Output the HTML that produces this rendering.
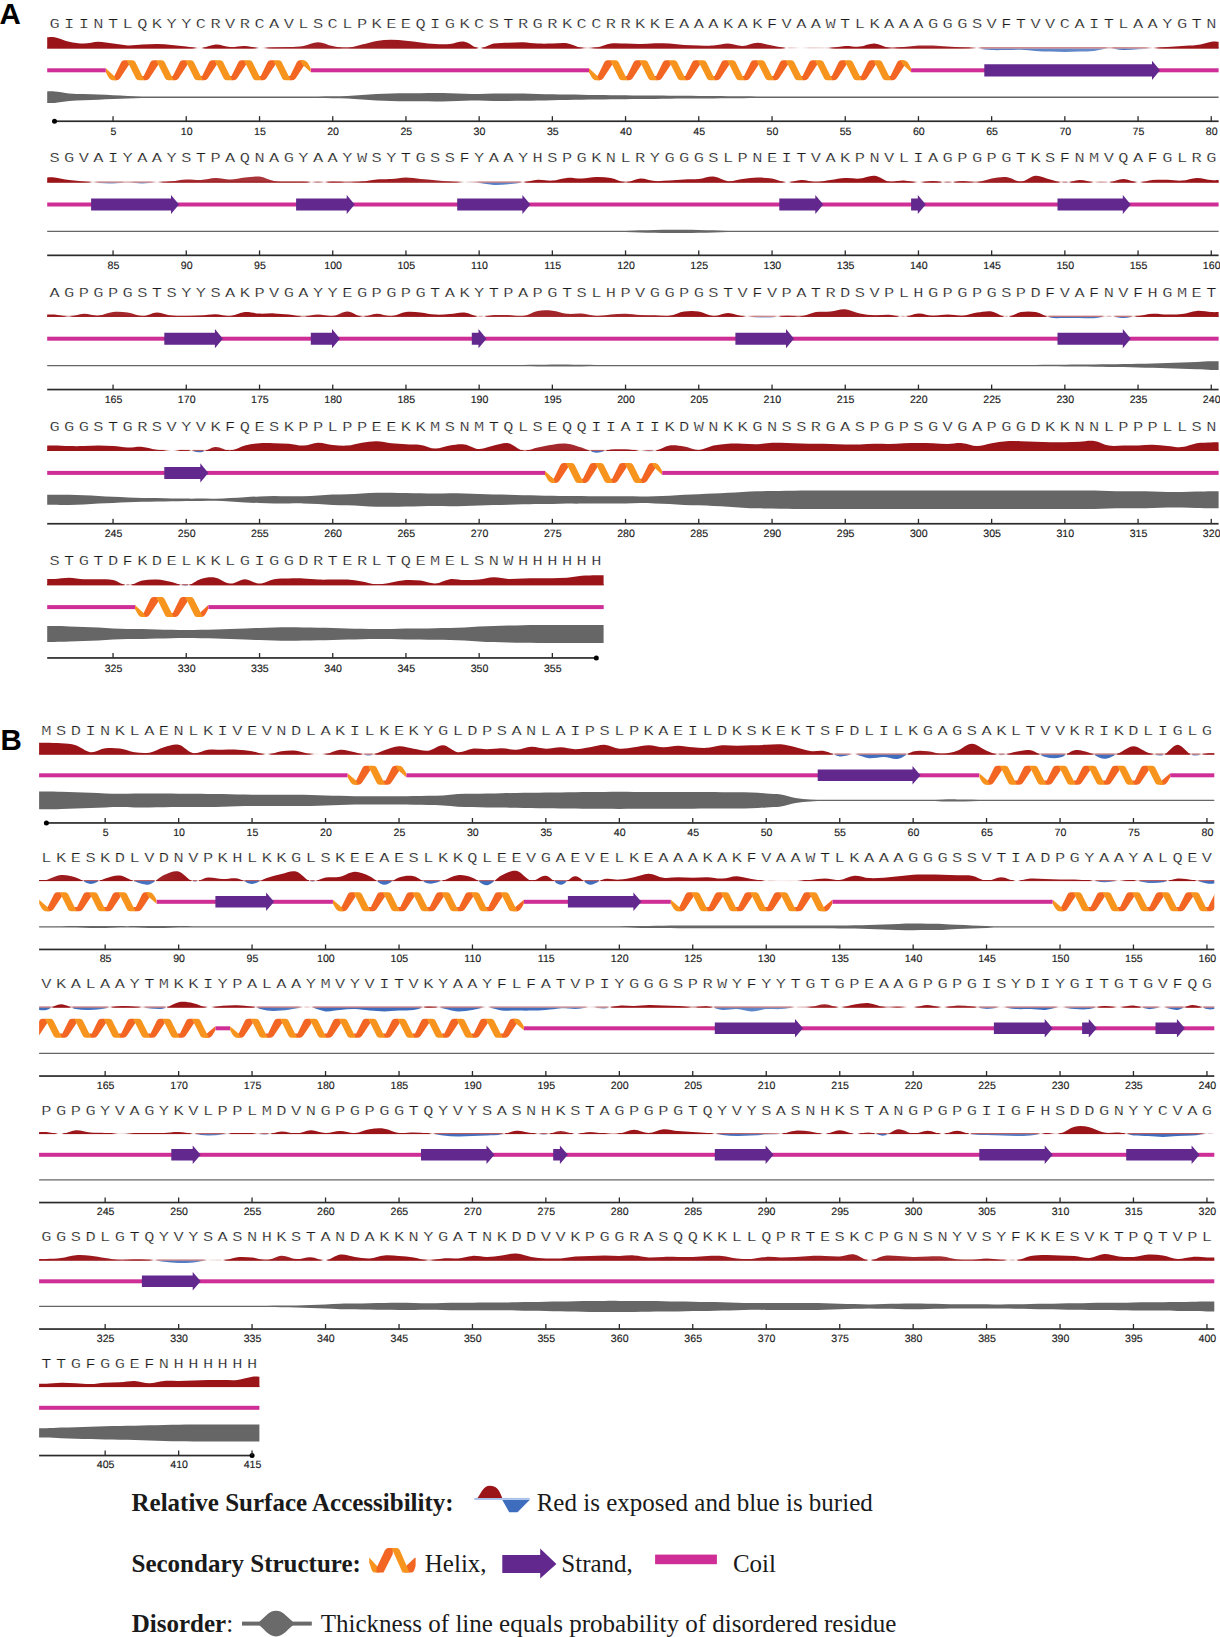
<!DOCTYPE html>
<html><head><meta charset="utf-8"><style>
html,body{margin:0;padding:0;background:#fff;}
body{width:1220px;height:1637px;overflow:hidden;position:relative;}
svg{position:absolute;left:0;top:0;}
.aa{font-family:"Liberation Mono",monospace;font-size:14.2px;fill:#1a1a1a;stroke:#fff;stroke-width:0.26px;text-anchor:middle;}
.tk{font-family:"Liberation Sans",sans-serif;font-size:10.6px;fill:#1a1a1a;stroke:#1a1a1a;stroke-width:0.15px;text-anchor:middle;text-rendering:geometricPrecision;}
.pl{font-family:"Liberation Sans",sans-serif;font-weight:bold;font-size:29.5px;fill:#000;}
.lg{font-family:"Liberation Serif",serif;font-size:25px;fill:#1a1a1a;}
</style></head><body>
<svg width="1220" height="1637" viewBox="0 0 1220 1637">
<defs><linearGradient id="rg1" gradientUnits="userSpaceOnUse" x1="47.2" y1="0" x2="1218.6" y2="0"><stop offset="0" stop-color="#9a1418"/><stop offset="0.1229" stop-color="#9a1418"/><stop offset="0.124" stop-color="#b1494c"/><stop offset="0.125" stop-color="#c77c7f"/><stop offset="0.126" stop-color="#dbabac"/><stop offset="0.1271" stop-color="#ecd3d3"/><stop offset="0.1281" stop-color="#f9f1f1"/><stop offset="0.1323" stop-color="#f1dedf"/><stop offset="0.1333" stop-color="#d8a5a7"/><stop offset="0.1344" stop-color="#b85a5c"/><stop offset="0.1354" stop-color="#9a1418"/><stop offset="0.175" stop-color="#9a1418"/><stop offset="0.176" stop-color="#a52d31"/><stop offset="0.1771" stop-color="#be686a"/><stop offset="0.1781" stop-color="#d59c9e"/><stop offset="0.1792" stop-color="#e8c9ca"/><stop offset="0.1802" stop-color="#f6ebeb"/><stop offset="0.1854" stop-color="#f3e4e4"/><stop offset="0.1865" stop-color="#e9cccd"/><stop offset="0.1875" stop-color="#ddb0b1"/><stop offset="0.1885" stop-color="#d09293"/><stop offset="0.1896" stop-color="#c37375"/><stop offset="0.1906" stop-color="#b65558"/><stop offset="0.1917" stop-color="#ab3b3e"/><stop offset="0.1927" stop-color="#a12428"/><stop offset="0.25" stop-color="#9f2024"/><stop offset="0.251" stop-color="#b0474a"/><stop offset="0.2521" stop-color="#be686a"/><stop offset="0.2531" stop-color="#c88082"/><stop offset="0.2573" stop-color="#c37376"/><stop offset="0.2583" stop-color="#b34f52"/><stop offset="0.2594" stop-color="#9e1e22"/><stop offset="0.3656" stop-color="#9a1418"/><stop offset="0.3667" stop-color="#c77c7e"/><stop offset="0.3677" stop-color="#ecd4d4"/><stop offset="0.3688" stop-color="#ffffff"/><stop offset="0.3698" stop-color="#fefdfd"/><stop offset="0.3708" stop-color="#edd5d6"/><stop offset="0.3719" stop-color="#ce8e8f"/><stop offset="0.3729" stop-color="#a52d31"/><stop offset="0.374" stop-color="#9a1418"/><stop offset="0.4542" stop-color="#9a1418"/><stop offset="0.4552" stop-color="#b55356"/><stop offset="0.4562" stop-color="#cc8a8c"/><stop offset="0.4573" stop-color="#ddb0b1"/><stop offset="0.4583" stop-color="#e9cccd"/><stop offset="0.4594" stop-color="#f1dfdf"/><stop offset="0.4604" stop-color="#f6e9ea"/><stop offset="0.4635" stop-color="#efdada"/><stop offset="0.4646" stop-color="#e7c6c7"/><stop offset="0.4656" stop-color="#dcadaf"/><stop offset="0.4667" stop-color="#cf8f91"/><stop offset="0.4677" stop-color="#bf6b6e"/><stop offset="0.4688" stop-color="#ae4346"/><stop offset="0.4698" stop-color="#9a1418"/><stop offset="0.626" stop-color="#9e1d21"/><stop offset="0.6271" stop-color="#b65558"/><stop offset="0.6281" stop-color="#cc898b"/><stop offset="0.6292" stop-color="#e0b8b9"/><stop offset="0.6302" stop-color="#f1dfe0"/><stop offset="0.6313" stop-color="#ffffff"/><stop offset="0.6323" stop-color="#ecf1f9"/><stop offset="0.6333" stop-color="#e0e8f5"/><stop offset="0.6406" stop-color="#f6f8fc"/><stop offset="0.6417" stop-color="#fbfcfe"/><stop offset="0.649" stop-color="#e7edf7"/><stop offset="0.65" stop-color="#e1e9f5"/><stop offset="0.6635" stop-color="#eff3fa"/><stop offset="0.6646" stop-color="#f9fafd"/><stop offset="0.6667" stop-color="#f4e6e7"/><stop offset="0.6677" stop-color="#ebd1d2"/><stop offset="0.6688" stop-color="#e1b9ba"/><stop offset="0.6698" stop-color="#d3999b"/><stop offset="0.6708" stop-color="#c27173"/><stop offset="0.6719" stop-color="#ae4346"/><stop offset="0.6729" stop-color="#9a1418"/><stop offset="0.7167" stop-color="#9a1418"/><stop offset="0.7177" stop-color="#b85a5d"/><stop offset="0.7188" stop-color="#cc8a8c"/><stop offset="0.7198" stop-color="#d8a4a6"/><stop offset="0.724" stop-color="#d3989a"/><stop offset="0.725" stop-color="#c98183"/><stop offset="0.726" stop-color="#bc6467"/><stop offset="0.7271" stop-color="#af4548"/><stop offset="0.7281" stop-color="#a12428"/><stop offset="0.7802" stop-color="#a63135"/><stop offset="0.7812" stop-color="#ae4346"/><stop offset="0.7823" stop-color="#b55457"/><stop offset="0.7833" stop-color="#bc6365"/><stop offset="0.7844" stop-color="#c27073"/><stop offset="0.7854" stop-color="#c77d80"/><stop offset="0.7865" stop-color="#cd8a8c"/><stop offset="0.7875" stop-color="#d29799"/><stop offset="0.7885" stop-color="#d8a4a6"/><stop offset="0.7896" stop-color="#deb3b4"/><stop offset="0.7906" stop-color="#e5c3c4"/><stop offset="0.7917" stop-color="#edd4d5"/><stop offset="0.7927" stop-color="#f5e8e9"/><stop offset="0.7937" stop-color="#ffffff"/><stop offset="0.7948" stop-color="#e9eef8"/><stop offset="0.7958" stop-color="#cfdbef"/><stop offset="0.7969" stop-color="#b3c5e5"/><stop offset="0.7979" stop-color="#94aedb"/><stop offset="0.799" stop-color="#7495d0"/><stop offset="0.8" stop-color="#547dc5"/><stop offset="0.9021" stop-color="#688ccc"/><stop offset="0.9031" stop-color="#8ea9d9"/><stop offset="0.9042" stop-color="#aec1e3"/><stop offset="0.9052" stop-color="#c4d2eb"/><stop offset="0.9062" stop-color="#d1dcef"/><stop offset="0.9083" stop-color="#c7d4ec"/><stop offset="0.9094" stop-color="#b4c6e6"/><stop offset="0.9104" stop-color="#99b2dd"/><stop offset="0.9115" stop-color="#7a9ad2"/><stop offset="0.9125" stop-color="#5880c6"/><stop offset="0.9135" stop-color="#3f6dbe"/><stop offset="0.9302" stop-color="#4f79c3"/><stop offset="0.9313" stop-color="#5e84c8"/><stop offset="0.9323" stop-color="#6b8ecd"/><stop offset="0.9333" stop-color="#7898d1"/><stop offset="0.9344" stop-color="#84a1d5"/><stop offset="0.9354" stop-color="#90abd9"/><stop offset="0.9365" stop-color="#9cb4de"/><stop offset="0.9375" stop-color="#a9bde2"/><stop offset="0.9385" stop-color="#b6c7e6"/><stop offset="0.9396" stop-color="#c3d1eb"/><stop offset="0.9406" stop-color="#d0dcef"/><stop offset="0.9417" stop-color="#dfe7f4"/><stop offset="0.9427" stop-color="#eef2f9"/><stop offset="0.9438" stop-color="#ffffff"/><stop offset="0.9448" stop-color="#f6e9ea"/><stop offset="0.9458" stop-color="#ecd2d3"/><stop offset="0.9469" stop-color="#e1babb"/><stop offset="0.9479" stop-color="#d6a0a2"/><stop offset="0.949" stop-color="#cb8688"/><stop offset="0.95" stop-color="#c06c6e"/><stop offset="0.951" stop-color="#b45154"/><stop offset="0.9521" stop-color="#a83639"/><stop offset="0.9531" stop-color="#9d1b1f"/><stop offset="1" stop-color="#9a1418"/></linearGradient>
<linearGradient id="rl1" gradientUnits="userSpaceOnUse" x1="47.2" y1="0" x2="1218.6" y2="0"><stop offset="0" stop-color="#9a1418"/><stop offset="0.125" stop-color="#9a1418"/><stop offset="0.126" stop-color="#b7575a"/><stop offset="0.1271" stop-color="#d9a6a8"/><stop offset="0.1281" stop-color="#f3e3e4"/><stop offset="0.1302" stop-color="#f9f0f0"/><stop offset="0.1313" stop-color="#ffffff"/><stop offset="0.1323" stop-color="#e3bdbe"/><stop offset="0.1333" stop-color="#b24b4e"/><stop offset="0.1344" stop-color="#9a1418"/><stop offset="0.1771" stop-color="#9a1418"/><stop offset="0.1781" stop-color="#aa393d"/><stop offset="0.1792" stop-color="#d09394"/><stop offset="0.1802" stop-color="#eed6d7"/><stop offset="0.1813" stop-color="#ffffff"/><stop offset="0.1844" stop-color="#f8efef"/><stop offset="0.1854" stop-color="#e8c9ca"/><stop offset="0.1865" stop-color="#d3989a"/><stop offset="0.1875" stop-color="#bb6063"/><stop offset="0.1885" stop-color="#a12428"/><stop offset="0.3667" stop-color="#9a1418"/><stop offset="0.3677" stop-color="#daa8aa"/><stop offset="0.3688" stop-color="#ffffff"/><stop offset="0.3698" stop-color="#fdfafa"/><stop offset="0.3708" stop-color="#dbabac"/><stop offset="0.3719" stop-color="#9d1c20"/><stop offset="0.4562" stop-color="#9a1418"/><stop offset="0.4573" stop-color="#bb6063"/><stop offset="0.4583" stop-color="#d3999a"/><stop offset="0.4594" stop-color="#e3bfc0"/><stop offset="0.4604" stop-color="#ecd3d4"/><stop offset="0.4615" stop-color="#eed8d9"/><stop offset="0.4625" stop-color="#eacdce"/><stop offset="0.4635" stop-color="#dfb4b5"/><stop offset="0.4646" stop-color="#ce8e90"/><stop offset="0.4656" stop-color="#b95c5e"/><stop offset="0.4667" stop-color="#9e1e22"/><stop offset="0.6281" stop-color="#9a1418"/><stop offset="0.6292" stop-color="#c27073"/><stop offset="0.6302" stop-color="#e4c0c1"/><stop offset="0.6313" stop-color="#ffffff"/><stop offset="0.6323" stop-color="#f1dfe0"/><stop offset="0.6333" stop-color="#e8cbcb"/><stop offset="0.6344" stop-color="#e4c0c1"/><stop offset="0.6385" stop-color="#edd6d7"/><stop offset="0.6396" stop-color="#f3e3e3"/><stop offset="0.6417" stop-color="#fcf9f9"/><stop offset="0.6427" stop-color="#ffffff"/><stop offset="0.6469" stop-color="#f6ebeb"/><stop offset="0.6479" stop-color="#f2e1e2"/><stop offset="0.65" stop-color="#e9cccd"/><stop offset="0.651" stop-color="#e5c3c4"/><stop offset="0.6625" stop-color="#eed7d7"/><stop offset="0.6635" stop-color="#f3e4e4"/><stop offset="0.6667" stop-color="#eacecf"/><stop offset="0.6677" stop-color="#d8a4a5"/><stop offset="0.6688" stop-color="#c27274"/><stop offset="0.6698" stop-color="#a73336"/><stop offset="0.6708" stop-color="#9a1418"/><stop offset="0.7188" stop-color="#9a1418"/><stop offset="0.7198" stop-color="#b14a4d"/><stop offset="0.7208" stop-color="#bc6466"/><stop offset="0.7229" stop-color="#b65457"/><stop offset="0.724" stop-color="#a73235"/><stop offset="0.725" stop-color="#9a1418"/><stop offset="0.7865" stop-color="#9b1519"/><stop offset="0.7875" stop-color="#a62f33"/><stop offset="0.7885" stop-color="#b14a4d"/><stop offset="0.7896" stop-color="#bd6769"/><stop offset="0.7906" stop-color="#cb8688"/><stop offset="0.7917" stop-color="#daa9ab"/><stop offset="0.7927" stop-color="#ebd1d2"/><stop offset="0.7937" stop-color="#ffffff"/><stop offset="0.7948" stop-color="#efd9da"/><stop offset="0.7958" stop-color="#dcadaf"/><stop offset="0.7969" stop-color="#c77c7e"/><stop offset="0.7979" stop-color="#b85a5d"/><stop offset="0.9031" stop-color="#b85a5d"/><stop offset="0.9042" stop-color="#c37376"/><stop offset="0.9052" stop-color="#d49b9c"/><stop offset="0.9083" stop-color="#d69fa1"/><stop offset="0.9094" stop-color="#c87e80"/><stop offset="0.9104" stop-color="#b85a5d"/><stop offset="0.9375" stop-color="#c06b6e"/><stop offset="0.9385" stop-color="#c98183"/><stop offset="0.9396" stop-color="#d39899"/><stop offset="0.9406" stop-color="#ddafb1"/><stop offset="0.9417" stop-color="#e7c8c9"/><stop offset="0.9427" stop-color="#f3e3e3"/><stop offset="0.9438" stop-color="#ffffff"/><stop offset="0.9448" stop-color="#ecd4d4"/><stop offset="0.9458" stop-color="#d8a5a7"/><stop offset="0.9469" stop-color="#c37477"/><stop offset="0.9479" stop-color="#ae4245"/><stop offset="0.949" stop-color="#9a1418"/><stop offset="1" stop-color="#9a1418"/></linearGradient>
<clipPath id="hc2"><rect x="105.8" y="59.3" width="205" height="22"/></clipPath>
<clipPath id="hc3"><rect x="589" y="59.3" width="322.1" height="22"/></clipPath>
<linearGradient id="rg4" gradientUnits="userSpaceOnUse" x1="47.2" y1="0" x2="1218.6" y2="0"><stop offset="0" stop-color="#9a1418"/><stop offset="0.0312" stop-color="#9a1418"/><stop offset="0.0323" stop-color="#a73235"/><stop offset="0.0333" stop-color="#b45154"/><stop offset="0.0344" stop-color="#c27174"/><stop offset="0.0354" stop-color="#d09294"/><stop offset="0.0365" stop-color="#deb3b4"/><stop offset="0.0375" stop-color="#ecd3d3"/><stop offset="0.0385" stop-color="#f9f2f2"/><stop offset="0.0396" stop-color="#f1f5fa"/><stop offset="0.0406" stop-color="#dbe3f3"/><stop offset="0.0417" stop-color="#c6d3ec"/><stop offset="0.0427" stop-color="#b3c5e5"/><stop offset="0.0437" stop-color="#a3b9e0"/><stop offset="0.0448" stop-color="#95aedb"/><stop offset="0.0458" stop-color="#89a5d7"/><stop offset="0.0469" stop-color="#7e9dd3"/><stop offset="0.049" stop-color="#6d90ce"/><stop offset="0.05" stop-color="#678ccc"/><stop offset="0.0594" stop-color="#7395d0"/><stop offset="0.0604" stop-color="#7f9ed4"/><stop offset="0.0615" stop-color="#8ca8d8"/><stop offset="0.0625" stop-color="#9ab2dd"/><stop offset="0.0635" stop-color="#a8bde2"/><stop offset="0.0646" stop-color="#b5c7e6"/><stop offset="0.0667" stop-color="#c9d6ed"/><stop offset="0.0677" stop-color="#cfdaef"/><stop offset="0.0719" stop-color="#becde9"/><stop offset="0.0729" stop-color="#b1c4e5"/><stop offset="0.074" stop-color="#a3b9e0"/><stop offset="0.075" stop-color="#94aedb"/><stop offset="0.076" stop-color="#86a3d6"/><stop offset="0.0771" stop-color="#7898d1"/><stop offset="0.0792" stop-color="#6489ca"/><stop offset="0.0802" stop-color="#5e85c9"/><stop offset="0.0844" stop-color="#7193cf"/><stop offset="0.0854" stop-color="#7c9bd3"/><stop offset="0.0865" stop-color="#89a5d7"/><stop offset="0.0875" stop-color="#98b0dc"/><stop offset="0.0885" stop-color="#a8bce1"/><stop offset="0.0896" stop-color="#b8c9e7"/><stop offset="0.0906" stop-color="#cad7ed"/><stop offset="0.0917" stop-color="#dce4f3"/><stop offset="0.0927" stop-color="#eef2f9"/><stop offset="0.0938" stop-color="#ffffff"/><stop offset="0.0948" stop-color="#f6eaea"/><stop offset="0.0958" stop-color="#edd4d5"/><stop offset="0.0969" stop-color="#e3bebf"/><stop offset="0.0979" stop-color="#d9a6a8"/><stop offset="0.099" stop-color="#cf8f90"/><stop offset="0.1" stop-color="#c47678"/><stop offset="0.101" stop-color="#b95c5f"/><stop offset="0.1021" stop-color="#ae4245"/><stop offset="0.1031" stop-color="#a2262a"/><stop offset="0.2042" stop-color="#ab3b3f"/><stop offset="0.2052" stop-color="#ac3e41"/><stop offset="0.2198" stop-color="#b55356"/><stop offset="0.2208" stop-color="#bf6b6d"/><stop offset="0.2219" stop-color="#cb8789"/><stop offset="0.2229" stop-color="#d9a7a9"/><stop offset="0.224" stop-color="#e8c9ca"/><stop offset="0.225" stop-color="#f7eced"/><stop offset="0.226" stop-color="#f3f6fb"/><stop offset="0.2271" stop-color="#d9e2f2"/><stop offset="0.2281" stop-color="#c3d2eb"/><stop offset="0.2292" stop-color="#b2c5e5"/><stop offset="0.2344" stop-color="#c6d3ec"/><stop offset="0.2354" stop-color="#dde5f3"/><stop offset="0.2365" stop-color="#f8f9fd"/><stop offset="0.2375" stop-color="#f4e5e5"/><stop offset="0.2385" stop-color="#e4c1c2"/><stop offset="0.2396" stop-color="#d69fa0"/><stop offset="0.2406" stop-color="#c87f81"/><stop offset="0.2417" stop-color="#bc6467"/><stop offset="0.2427" stop-color="#b44f52"/><stop offset="0.2437" stop-color="#ae4346"/><stop offset="0.2479" stop-color="#b65659"/><stop offset="0.249" stop-color="#bd6567"/><stop offset="0.25" stop-color="#c47578"/><stop offset="0.251" stop-color="#cb8688"/><stop offset="0.2521" stop-color="#d29799"/><stop offset="0.2531" stop-color="#d8a5a7"/><stop offset="0.2615" stop-color="#d49a9c"/><stop offset="0.2625" stop-color="#ce8e90"/><stop offset="0.2635" stop-color="#c88082"/><stop offset="0.2646" stop-color="#c16f72"/><stop offset="0.2656" stop-color="#b95d5f"/><stop offset="0.2667" stop-color="#b0474a"/><stop offset="0.2677" stop-color="#a62f32"/><stop offset="0.2688" stop-color="#9a1418"/><stop offset="0.3448" stop-color="#a42a2e"/><stop offset="0.3458" stop-color="#ad4144"/><stop offset="0.3469" stop-color="#b75759"/><stop offset="0.3479" stop-color="#c06c6f"/><stop offset="0.349" stop-color="#c98183"/><stop offset="0.35" stop-color="#d29697"/><stop offset="0.351" stop-color="#daa9ab"/><stop offset="0.3521" stop-color="#e2bcbd"/><stop offset="0.3531" stop-color="#eacecf"/><stop offset="0.3542" stop-color="#f2e0e0"/><stop offset="0.3552" stop-color="#f9f0f0"/><stop offset="0.3563" stop-color="#ffffff"/><stop offset="0.3583" stop-color="#edf1f9"/><stop offset="0.3594" stop-color="#e7edf7"/><stop offset="0.3646" stop-color="#d1dcef"/><stop offset="0.3656" stop-color="#c9d6ed"/><stop offset="0.3677" stop-color="#b3c5e5"/><stop offset="0.3688" stop-color="#a3b9e0"/><stop offset="0.3698" stop-color="#8da9d9"/><stop offset="0.3708" stop-color="#7394cf"/><stop offset="0.3719" stop-color="#537dc5"/><stop offset="0.401" stop-color="#5f85c9"/><stop offset="0.4021" stop-color="#7c9bd3"/><stop offset="0.4031" stop-color="#9ab2dd"/><stop offset="0.4042" stop-color="#bacbe8"/><stop offset="0.4052" stop-color="#dce4f3"/><stop offset="0.4062" stop-color="#ffffff"/><stop offset="0.4073" stop-color="#eacfd0"/><stop offset="0.4083" stop-color="#d29799"/><stop offset="0.4094" stop-color="#b8595c"/><stop offset="0.4104" stop-color="#9c181c"/><stop offset="0.4896" stop-color="#9a1418"/><stop offset="0.4906" stop-color="#a73336"/><stop offset="0.4917" stop-color="#c47779"/><stop offset="0.4927" stop-color="#d8a5a6"/><stop offset="0.4948" stop-color="#dcacae"/><stop offset="0.4958" stop-color="#c98284"/><stop offset="0.4969" stop-color="#ad4043"/><stop offset="0.4979" stop-color="#9a1418"/><stop offset="0.6271" stop-color="#9e1d21"/><stop offset="0.6281" stop-color="#c16f71"/><stop offset="0.6292" stop-color="#deb3b4"/><stop offset="0.6302" stop-color="#f3e4e4"/><stop offset="0.6313" stop-color="#ffffff"/><stop offset="0.6333" stop-color="#f6e9ea"/><stop offset="0.6344" stop-color="#e3bfc0"/><stop offset="0.6354" stop-color="#cb8587"/><stop offset="0.6365" stop-color="#ad4144"/><stop offset="0.6375" stop-color="#9a1418"/><stop offset="0.6521" stop-color="#9a1418"/><stop offset="0.6531" stop-color="#ac3d41"/><stop offset="0.6542" stop-color="#bd6568"/><stop offset="0.6552" stop-color="#c88082"/><stop offset="0.6583" stop-color="#c27274"/><stop offset="0.6594" stop-color="#b65659"/><stop offset="0.6604" stop-color="#a73236"/><stop offset="0.6615" stop-color="#9a1418"/><stop offset="0.7188" stop-color="#9a1418"/><stop offset="0.7198" stop-color="#a9373a"/><stop offset="0.7229" stop-color="#a12427"/><stop offset="0.724" stop-color="#9a1418"/><stop offset="0.7375" stop-color="#9d1b1f"/><stop offset="0.7385" stop-color="#b55255"/><stop offset="0.7396" stop-color="#cb8587"/><stop offset="0.7406" stop-color="#deb3b4"/><stop offset="0.7417" stop-color="#eed8d9"/><stop offset="0.7427" stop-color="#faf2f3"/><stop offset="0.7458" stop-color="#f6eaeb"/><stop offset="0.7469" stop-color="#eacece"/><stop offset="0.7479" stop-color="#daa8aa"/><stop offset="0.749" stop-color="#c77d7f"/><stop offset="0.75" stop-color="#b34f52"/><stop offset="0.751" stop-color="#a02125"/><stop offset="0.7604" stop-color="#9f1f23"/><stop offset="0.7615" stop-color="#b65658"/><stop offset="0.7625" stop-color="#cf8e90"/><stop offset="0.7635" stop-color="#e7c6c7"/><stop offset="0.7646" stop-color="#fdfbfb"/><stop offset="0.7656" stop-color="#dce4f3"/><stop offset="0.7667" stop-color="#becee9"/><stop offset="0.7677" stop-color="#aabee2"/><stop offset="0.7688" stop-color="#a3b9e0"/><stop offset="0.7698" stop-color="#aabee2"/><stop offset="0.7708" stop-color="#bdcde9"/><stop offset="0.7719" stop-color="#dbe3f3"/><stop offset="0.7729" stop-color="#fffefe"/><stop offset="0.774" stop-color="#e8cacb"/><stop offset="0.775" stop-color="#d09394"/><stop offset="0.776" stop-color="#b85b5d"/><stop offset="0.7771" stop-color="#a12528"/><stop offset="0.7865" stop-color="#9c191d"/><stop offset="0.7875" stop-color="#af4548"/><stop offset="0.7885" stop-color="#c16f71"/><stop offset="0.7896" stop-color="#d19496"/><stop offset="0.7906" stop-color="#deb1b3"/><stop offset="0.7937" stop-color="#e1b8ba"/><stop offset="0.7948" stop-color="#d29798"/><stop offset="0.7958" stop-color="#bc6467"/><stop offset="0.7969" stop-color="#a12428"/><stop offset="0.8615" stop-color="#9a1418"/><stop offset="0.8625" stop-color="#ab3c3f"/><stop offset="0.8635" stop-color="#cd8c8e"/><stop offset="0.8646" stop-color="#ecd3d4"/><stop offset="0.8656" stop-color="#f1f4fa"/><stop offset="0.8667" stop-color="#c9d6ed"/><stop offset="0.8677" stop-color="#afc2e4"/><stop offset="0.8698" stop-color="#aabfe2"/><stop offset="0.8708" stop-color="#c7d4ec"/><stop offset="0.8719" stop-color="#f3f6fb"/><stop offset="0.8729" stop-color="#e7c7c8"/><stop offset="0.874" stop-color="#c47679"/><stop offset="0.875" stop-color="#9f2024"/><stop offset="0.8885" stop-color="#9a1418"/><stop offset="0.8896" stop-color="#a9373a"/><stop offset="0.8906" stop-color="#c5777a"/><stop offset="0.8917" stop-color="#ddb0b2"/><stop offset="0.8927" stop-color="#f1dfdf"/><stop offset="0.8937" stop-color="#ffffff"/><stop offset="0.8948" stop-color="#ecf1f9"/><stop offset="0.8958" stop-color="#dbe4f3"/><stop offset="0.8969" stop-color="#ced9ee"/><stop offset="0.8979" stop-color="#c3d1eb"/><stop offset="0.9042" stop-color="#d3ddf0"/><stop offset="0.9052" stop-color="#e6ecf7"/><stop offset="0.9062" stop-color="#ffffff"/><stop offset="0.9073" stop-color="#ecd2d3"/><stop offset="0.9083" stop-color="#d09294"/><stop offset="0.9094" stop-color="#af4548"/><stop offset="0.9104" stop-color="#9a1418"/><stop offset="0.9271" stop-color="#9c181c"/><stop offset="0.9281" stop-color="#c16e70"/><stop offset="0.9292" stop-color="#dfb4b6"/><stop offset="0.9302" stop-color="#f5e7e7"/><stop offset="0.9313" stop-color="#ffffff"/><stop offset="0.9333" stop-color="#f5e9e9"/><stop offset="0.9344" stop-color="#e5c3c4"/><stop offset="0.9354" stop-color="#cf9092"/><stop offset="0.9365" stop-color="#b65457"/><stop offset="0.9375" stop-color="#9a1418"/><stop offset="1" stop-color="#9a1418"/></linearGradient>
<linearGradient id="rl4" gradientUnits="userSpaceOnUse" x1="47.2" y1="0" x2="1218.6" y2="0"><stop offset="0" stop-color="#9a1418"/><stop offset="0.0354" stop-color="#a12529"/><stop offset="0.0365" stop-color="#bd6669"/><stop offset="0.0375" stop-color="#d9a6a8"/><stop offset="0.0385" stop-color="#f4e5e5"/><stop offset="0.0396" stop-color="#f5e8e8"/><stop offset="0.0406" stop-color="#e4c1c2"/><stop offset="0.0417" stop-color="#d59d9f"/><stop offset="0.0427" stop-color="#c77d7f"/><stop offset="0.0437" stop-color="#bb6164"/><stop offset="0.0635" stop-color="#bf6a6c"/><stop offset="0.0646" stop-color="#c88082"/><stop offset="0.0656" stop-color="#d19395"/><stop offset="0.0667" stop-color="#d7a2a4"/><stop offset="0.0719" stop-color="#cf8f91"/><stop offset="0.0729" stop-color="#c67a7c"/><stop offset="0.074" stop-color="#bb6264"/><stop offset="0.0885" stop-color="#bf696c"/><stop offset="0.0896" stop-color="#cb8688"/><stop offset="0.0906" stop-color="#d8a4a6"/><stop offset="0.0917" stop-color="#e5c3c4"/><stop offset="0.0927" stop-color="#f2e1e2"/><stop offset="0.0938" stop-color="#ffffff"/><stop offset="0.0948" stop-color="#edd5d5"/><stop offset="0.0958" stop-color="#daa9aa"/><stop offset="0.0969" stop-color="#c77c7e"/><stop offset="0.0979" stop-color="#b34e51"/><stop offset="0.099" stop-color="#9e1e22"/><stop offset="0.2219" stop-color="#9a1418"/><stop offset="0.2229" stop-color="#b45053"/><stop offset="0.224" stop-color="#d19496"/><stop offset="0.225" stop-color="#efd9da"/><stop offset="0.226" stop-color="#f6eaeb"/><stop offset="0.2271" stop-color="#e3bfc0"/><stop offset="0.2281" stop-color="#d3999b"/><stop offset="0.2292" stop-color="#c67b7e"/><stop offset="0.2302" stop-color="#be686b"/><stop offset="0.2313" stop-color="#bb6164"/><stop offset="0.2323" stop-color="#be696b"/><stop offset="0.2333" stop-color="#c77d80"/><stop offset="0.2344" stop-color="#d59d9f"/><stop offset="0.2354" stop-color="#e6c5c6"/><stop offset="0.2365" stop-color="#faf2f3"/><stop offset="0.2375" stop-color="#e9cbcc"/><stop offset="0.2385" stop-color="#ca8385"/><stop offset="0.2396" stop-color="#ac3e41"/><stop offset="0.2406" stop-color="#9a1418"/><stop offset="0.251" stop-color="#9a1418"/><stop offset="0.2521" stop-color="#a52e32"/><stop offset="0.2531" stop-color="#b24b4e"/><stop offset="0.2542" stop-color="#bb6264"/><stop offset="0.2594" stop-color="#b7585b"/><stop offset="0.2604" stop-color="#b0484b"/><stop offset="0.2615" stop-color="#a83538"/><stop offset="0.2625" stop-color="#9e1d21"/><stop offset="0.35" stop-color="#a42c30"/><stop offset="0.351" stop-color="#b55457"/><stop offset="0.3521" stop-color="#c67a7c"/><stop offset="0.3531" stop-color="#d59ea0"/><stop offset="0.3542" stop-color="#e4c0c2"/><stop offset="0.3552" stop-color="#f2e1e1"/><stop offset="0.3563" stop-color="#ffffff"/><stop offset="0.3573" stop-color="#f7edee"/><stop offset="0.3583" stop-color="#f2e0e0"/><stop offset="0.3604" stop-color="#eacecf"/><stop offset="0.3615" stop-color="#e7c7c8"/><stop offset="0.3635" stop-color="#e1b9ba"/><stop offset="0.3646" stop-color="#ddb0b1"/><stop offset="0.3656" stop-color="#d7a3a5"/><stop offset="0.3667" stop-color="#d09394"/><stop offset="0.3677" stop-color="#c77d7f"/><stop offset="0.3688" stop-color="#bb6164"/><stop offset="0.4031" stop-color="#b85a5d"/><stop offset="0.4042" stop-color="#cc898b"/><stop offset="0.4052" stop-color="#e5c3c4"/><stop offset="0.4062" stop-color="#ffffff"/><stop offset="0.4073" stop-color="#d59ea0"/><stop offset="0.4083" stop-color="#a52f32"/><stop offset="0.4094" stop-color="#9a1418"/><stop offset="0.4917" stop-color="#9a1418"/><stop offset="0.4927" stop-color="#b24b4e"/><stop offset="0.4937" stop-color="#c27274"/><stop offset="0.4948" stop-color="#b85a5d"/><stop offset="0.4958" stop-color="#9a1418"/><stop offset="0.6281" stop-color="#9a1418"/><stop offset="0.6292" stop-color="#bd6669"/><stop offset="0.6302" stop-color="#e8c9ca"/><stop offset="0.6313" stop-color="#ffffff"/><stop offset="0.6323" stop-color="#fefdfd"/><stop offset="0.6333" stop-color="#ecd3d4"/><stop offset="0.6344" stop-color="#c87e81"/><stop offset="0.6354" stop-color="#9a1418"/><stop offset="0.7396" stop-color="#9a1418"/><stop offset="0.7406" stop-color="#be6769"/><stop offset="0.7417" stop-color="#deb1b3"/><stop offset="0.7427" stop-color="#f4e6e6"/><stop offset="0.7438" stop-color="#ffffff"/><stop offset="0.7448" stop-color="#fcf9f9"/><stop offset="0.7458" stop-color="#edd6d6"/><stop offset="0.7469" stop-color="#d49c9e"/><stop offset="0.7479" stop-color="#b45154"/><stop offset="0.749" stop-color="#9a1418"/><stop offset="0.7625" stop-color="#9e1d21"/><stop offset="0.7635" stop-color="#ce8e90"/><stop offset="0.7646" stop-color="#fcf8f8"/><stop offset="0.7656" stop-color="#e5c3c4"/><stop offset="0.7667" stop-color="#cf9091"/><stop offset="0.7677" stop-color="#c06d70"/><stop offset="0.7698" stop-color="#c06d70"/><stop offset="0.7708" stop-color="#cf8e90"/><stop offset="0.7719" stop-color="#e4c1c2"/><stop offset="0.7729" stop-color="#fefdfd"/><stop offset="0.774" stop-color="#d19597"/><stop offset="0.775" stop-color="#a2262a"/><stop offset="0.7896" stop-color="#a3292d"/><stop offset="0.7906" stop-color="#bc6467"/><stop offset="0.7917" stop-color="#cc888a"/><stop offset="0.7937" stop-color="#c27274"/><stop offset="0.7948" stop-color="#a52e32"/><stop offset="0.7958" stop-color="#9a1418"/><stop offset="0.8635" stop-color="#9c181c"/><stop offset="0.8646" stop-color="#d9a8a9"/><stop offset="0.8656" stop-color="#f5e7e7"/><stop offset="0.8667" stop-color="#d8a3a5"/><stop offset="0.8677" stop-color="#c47678"/><stop offset="0.8698" stop-color="#c16e71"/><stop offset="0.8708" stop-color="#d59ea0"/><stop offset="0.8719" stop-color="#f6ebeb"/><stop offset="0.8729" stop-color="#cf8f91"/><stop offset="0.874" stop-color="#9a1418"/><stop offset="0.8906" stop-color="#9a1418"/><stop offset="0.8917" stop-color="#bb6164"/><stop offset="0.8927" stop-color="#e3bebf"/><stop offset="0.8937" stop-color="#ffffff"/><stop offset="0.8948" stop-color="#f1dfdf"/><stop offset="0.8958" stop-color="#e5c2c3"/><stop offset="0.8969" stop-color="#dbaaac"/><stop offset="0.8979" stop-color="#d29799"/><stop offset="0.899" stop-color="#cd8a8c"/><stop offset="0.9031" stop-color="#d49b9c"/><stop offset="0.9042" stop-color="#deb3b4"/><stop offset="0.9052" stop-color="#edd4d5"/><stop offset="0.9062" stop-color="#ffffff"/><stop offset="0.9073" stop-color="#d8a5a7"/><stop offset="0.9083" stop-color="#a2262a"/><stop offset="0.9281" stop-color="#9a1418"/><stop offset="0.9292" stop-color="#bf6a6c"/><stop offset="0.9302" stop-color="#eacecf"/><stop offset="0.9313" stop-color="#ffffff"/><stop offset="0.9323" stop-color="#fefdfd"/><stop offset="0.9333" stop-color="#ecd2d3"/><stop offset="0.9344" stop-color="#cc8789"/><stop offset="0.9354" stop-color="#a02226"/><stop offset="1" stop-color="#9a1418"/></linearGradient>
<linearGradient id="rg5" gradientUnits="userSpaceOnUse" x1="47.2" y1="0" x2="1218.6" y2="0"><stop offset="0" stop-color="#9a1418"/><stop offset="0.0121" stop-color="#9a1418"/><stop offset="0.0132" stop-color="#af4448"/><stop offset="0.0144" stop-color="#c47578"/><stop offset="0.0155" stop-color="#d69fa0"/><stop offset="0.0166" stop-color="#e3bebf"/><stop offset="0.0198" stop-color="#e3bdbe"/><stop offset="0.0208" stop-color="#d29799"/><stop offset="0.0219" stop-color="#bb6164"/><stop offset="0.0229" stop-color="#9f2024"/><stop offset="0.0792" stop-color="#a42b2f"/><stop offset="0.0802" stop-color="#b34f52"/><stop offset="0.0823" stop-color="#b0484b"/><stop offset="0.0833" stop-color="#9c191d"/><stop offset="0.1083" stop-color="#9f2024"/><stop offset="0.1094" stop-color="#a83438"/><stop offset="0.1104" stop-color="#af4447"/><stop offset="0.1115" stop-color="#b34f52"/><stop offset="0.125" stop-color="#aa3a3e"/><stop offset="0.126" stop-color="#a62f33"/><stop offset="0.1271" stop-color="#a02327"/><stop offset="0.1281" stop-color="#9a1519"/><stop offset="0.1521" stop-color="#9b171b"/><stop offset="0.1531" stop-color="#ad4043"/><stop offset="0.1542" stop-color="#b85a5d"/><stop offset="0.1562" stop-color="#b85b5d"/><stop offset="0.1573" stop-color="#a9383b"/><stop offset="0.1583" stop-color="#9a1418"/><stop offset="0.2125" stop-color="#9a1418"/><stop offset="0.2135" stop-color="#af4548"/><stop offset="0.2146" stop-color="#c27274"/><stop offset="0.2156" stop-color="#d3989a"/><stop offset="0.2167" stop-color="#e0b6b7"/><stop offset="0.2177" stop-color="#e8c9ca"/><stop offset="0.2188" stop-color="#ebd0d1"/><stop offset="0.2198" stop-color="#e7c7c8"/><stop offset="0.2208" stop-color="#dcafb0"/><stop offset="0.2219" stop-color="#cc898b"/><stop offset="0.2229" stop-color="#b85b5d"/><stop offset="0.224" stop-color="#a12529"/><stop offset="0.2396" stop-color="#a73236"/><stop offset="0.2406" stop-color="#b65658"/><stop offset="0.2417" stop-color="#bf6b6d"/><stop offset="0.2427" stop-color="#c06e70"/><stop offset="0.2437" stop-color="#b85b5d"/><stop offset="0.2448" stop-color="#a32a2e"/><stop offset="0.2656" stop-color="#9a1418"/><stop offset="0.2667" stop-color="#b65659"/><stop offset="0.2677" stop-color="#d8a5a6"/><stop offset="0.2688" stop-color="#ebd0d1"/><stop offset="0.2708" stop-color="#e4c1c2"/><stop offset="0.2719" stop-color="#d19495"/><stop offset="0.2729" stop-color="#b55456"/><stop offset="0.274" stop-color="#9a1418"/><stop offset="0.2906" stop-color="#a02326"/><stop offset="0.2917" stop-color="#b24b4e"/><stop offset="0.2948" stop-color="#aa3a3e"/><stop offset="0.2958" stop-color="#9a1418"/><stop offset="0.3646" stop-color="#9b171b"/><stop offset="0.3656" stop-color="#c67b7d"/><stop offset="0.3667" stop-color="#ebd0d1"/><stop offset="0.3677" stop-color="#f1f4fa"/><stop offset="0.3688" stop-color="#d1dcef"/><stop offset="0.3719" stop-color="#e1e8f5"/><stop offset="0.3729" stop-color="#fefefe"/><stop offset="0.374" stop-color="#e9cdce"/><stop offset="0.375" stop-color="#d19596"/><stop offset="0.376" stop-color="#b8595c"/><stop offset="0.3771" stop-color="#9e1d21"/><stop offset="0.4" stop-color="#a73135"/><stop offset="0.401" stop-color="#b55457"/><stop offset="0.4021" stop-color="#c16f72"/><stop offset="0.4062" stop-color="#b85b5d"/><stop offset="0.4073" stop-color="#a12428"/><stop offset="0.4667" stop-color="#a2282b"/><stop offset="0.4677" stop-color="#b1484c"/><stop offset="0.4719" stop-color="#ad4144"/><stop offset="0.4729" stop-color="#a12528"/><stop offset="0.526" stop-color="#a52e31"/><stop offset="0.5271" stop-color="#ab3c3f"/><stop offset="0.5302" stop-color="#a63134"/><stop offset="0.5313" stop-color="#9a1418"/><stop offset="0.5667" stop-color="#9a1418"/><stop offset="0.5677" stop-color="#ac3e42"/><stop offset="0.5688" stop-color="#b85b5d"/><stop offset="0.5698" stop-color="#b65659"/><stop offset="0.5708" stop-color="#a83437"/><stop offset="0.5719" stop-color="#9a1418"/><stop offset="0.5917" stop-color="#9a1418"/><stop offset="0.5927" stop-color="#b65558"/><stop offset="0.5938" stop-color="#cc8a8c"/><stop offset="0.5948" stop-color="#deb3b4"/><stop offset="0.5958" stop-color="#eed7d8"/><stop offset="0.5969" stop-color="#fbf6f6"/><stop offset="0.5979" stop-color="#f0f4fa"/><stop offset="0.599" stop-color="#dde5f3"/><stop offset="0.6" stop-color="#cdd9ee"/><stop offset="0.601" stop-color="#becee9"/><stop offset="0.6021" stop-color="#b2c5e5"/><stop offset="0.6031" stop-color="#a7bce1"/><stop offset="0.6052" stop-color="#95aedb"/><stop offset="0.6063" stop-color="#8ca7d8"/><stop offset="0.6094" stop-color="#7697d1"/><stop offset="0.6104" stop-color="#7193cf"/><stop offset="0.6177" stop-color="#809fd4"/><stop offset="0.6188" stop-color="#8ca7d8"/><stop offset="0.6198" stop-color="#9cb4dd"/><stop offset="0.6208" stop-color="#b2c4e5"/><stop offset="0.6219" stop-color="#ccd9ee"/><stop offset="0.6229" stop-color="#eaeff8"/><stop offset="0.624" stop-color="#f9f1f1"/><stop offset="0.625" stop-color="#e8c9ca"/><stop offset="0.626" stop-color="#d6a1a2"/><stop offset="0.6271" stop-color="#c67b7d"/><stop offset="0.6281" stop-color="#b7585b"/><stop offset="0.6292" stop-color="#ab3a3e"/><stop offset="0.6302" stop-color="#a12327"/><stop offset="0.6344" stop-color="#a3292c"/><stop offset="0.6354" stop-color="#ad4043"/><stop offset="0.6365" stop-color="#b85a5d"/><stop offset="0.6375" stop-color="#c47577"/><stop offset="0.6385" stop-color="#ce8e90"/><stop offset="0.6396" stop-color="#d7a2a3"/><stop offset="0.6406" stop-color="#dcaeb0"/><stop offset="0.6427" stop-color="#d8a5a6"/><stop offset="0.6437" stop-color="#cc8a8c"/><stop offset="0.6448" stop-color="#b95b5e"/><stop offset="0.6458" stop-color="#9d1b1f"/><stop offset="0.724" stop-color="#9e1d21"/><stop offset="0.725" stop-color="#ba5e61"/><stop offset="0.726" stop-color="#d59d9f"/><stop offset="0.7271" stop-color="#eed6d7"/><stop offset="0.7281" stop-color="#f9fbfd"/><stop offset="0.7292" stop-color="#dde5f4"/><stop offset="0.7323" stop-color="#e7edf7"/><stop offset="0.7333" stop-color="#f5e8e9"/><stop offset="0.7344" stop-color="#d7a1a3"/><stop offset="0.7354" stop-color="#b24c4f"/><stop offset="0.7365" stop-color="#9a1418"/><stop offset="0.8146" stop-color="#9a1418"/><stop offset="0.8156" stop-color="#c47578"/><stop offset="0.8167" stop-color="#eed8d8"/><stop offset="0.8177" stop-color="#e8eef7"/><stop offset="0.8188" stop-color="#d1dcef"/><stop offset="0.8198" stop-color="#dce4f3"/><stop offset="0.8208" stop-color="#fcf8f8"/><stop offset="0.8219" stop-color="#daa9aa"/><stop offset="0.8229" stop-color="#ae4245"/><stop offset="0.824" stop-color="#9a1418"/><stop offset="0.851" stop-color="#9a1418"/><stop offset="0.8521" stop-color="#ab3c40"/><stop offset="0.8531" stop-color="#e0b6b7"/><stop offset="0.8542" stop-color="#e2e9f5"/><stop offset="0.8552" stop-color="#97b0dc"/><stop offset="0.8563" stop-color="#5e84c8"/><stop offset="0.8573" stop-color="#3f6dbe"/><stop offset="0.8979" stop-color="#4e79c3"/><stop offset="0.899" stop-color="#7294cf"/><stop offset="0.9" stop-color="#96afdb"/><stop offset="0.901" stop-color="#b9cae7"/><stop offset="0.9021" stop-color="#dae3f3"/><stop offset="0.9031" stop-color="#f7f9fc"/><stop offset="0.9042" stop-color="#f7ecec"/><stop offset="0.9052" stop-color="#eed9d9"/><stop offset="0.9083" stop-color="#f4e6e7"/><stop offset="0.9094" stop-color="#fcfdfe"/><stop offset="0.9104" stop-color="#e0e7f4"/><stop offset="0.9115" stop-color="#bfcee9"/><stop offset="0.9125" stop-color="#9cb4dd"/><stop offset="0.9135" stop-color="#7999d2"/><stop offset="0.9146" stop-color="#5981c7"/><stop offset="0.9156" stop-color="#3f6dbe"/><stop offset="0.9219" stop-color="#4572c0"/><stop offset="0.9229" stop-color="#6086c9"/><stop offset="0.924" stop-color="#809ed4"/><stop offset="0.925" stop-color="#a3b9e0"/><stop offset="0.926" stop-color="#c8d5ec"/><stop offset="0.9271" stop-color="#eff3f9"/><stop offset="0.9281" stop-color="#f3e3e3"/><stop offset="0.9292" stop-color="#deb3b5"/><stop offset="0.9302" stop-color="#cb8588"/><stop offset="0.9313" stop-color="#b85b5d"/><stop offset="0.9323" stop-color="#a52e32"/><stop offset="0.9333" stop-color="#9a1418"/><stop offset="1" stop-color="#9a1418"/></linearGradient>
<linearGradient id="rl5" gradientUnits="userSpaceOnUse" x1="47.2" y1="0" x2="1218.6" y2="0"><stop offset="0" stop-color="#9a1418"/><stop offset="0.0144" stop-color="#9a1418"/><stop offset="0.0155" stop-color="#ac3f42"/><stop offset="0.0166" stop-color="#c77c7e"/><stop offset="0.0177" stop-color="#d69fa0"/><stop offset="0.0187" stop-color="#d7a1a3"/><stop offset="0.0198" stop-color="#c67b7e"/><stop offset="0.0208" stop-color="#a62f33"/><stop offset="0.0219" stop-color="#9a1418"/><stop offset="0.2146" stop-color="#9a1418"/><stop offset="0.2156" stop-color="#a73135"/><stop offset="0.2167" stop-color="#c06d6f"/><stop offset="0.2177" stop-color="#d19395"/><stop offset="0.2198" stop-color="#cf8f91"/><stop offset="0.2208" stop-color="#ba5e61"/><stop offset="0.2219" stop-color="#9a1418"/><stop offset="0.2667" stop-color="#9a1418"/><stop offset="0.2677" stop-color="#b14a4d"/><stop offset="0.2688" stop-color="#d7a1a3"/><stop offset="0.2698" stop-color="#ddafb1"/><stop offset="0.2708" stop-color="#ca8486"/><stop offset="0.2719" stop-color="#a3282c"/><stop offset="0.3656" stop-color="#9a1418"/><stop offset="0.3667" stop-color="#d7a1a3"/><stop offset="0.3677" stop-color="#f4e7e7"/><stop offset="0.3688" stop-color="#ddb0b1"/><stop offset="0.3708" stop-color="#daa8aa"/><stop offset="0.3719" stop-color="#e9cbcc"/><stop offset="0.3729" stop-color="#fefcfc"/><stop offset="0.374" stop-color="#d49a9c"/><stop offset="0.375" stop-color="#a42a2e"/><stop offset="0.5938" stop-color="#9a1418"/><stop offset="0.5948" stop-color="#bd6769"/><stop offset="0.5958" stop-color="#dcafb0"/><stop offset="0.5969" stop-color="#f7edee"/><stop offset="0.5979" stop-color="#f4e5e6"/><stop offset="0.599" stop-color="#e6c5c6"/><stop offset="0.6" stop-color="#daa9aa"/><stop offset="0.601" stop-color="#cf9092"/><stop offset="0.6021" stop-color="#c67b7e"/><stop offset="0.6031" stop-color="#be696b"/><stop offset="0.6208" stop-color="#c67b7d"/><stop offset="0.6219" stop-color="#daa8aa"/><stop offset="0.6229" stop-color="#f0dcdc"/><stop offset="0.624" stop-color="#f3e3e3"/><stop offset="0.625" stop-color="#d09294"/><stop offset="0.626" stop-color="#ae4246"/><stop offset="0.6271" stop-color="#9a1418"/><stop offset="0.6385" stop-color="#9e1d21"/><stop offset="0.6396" stop-color="#af4548"/><stop offset="0.6406" stop-color="#ba5d60"/><stop offset="0.6427" stop-color="#b14b4e"/><stop offset="0.6437" stop-color="#9a1418"/><stop offset="0.725" stop-color="#9a1418"/><stop offset="0.726" stop-color="#ab3c3f"/><stop offset="0.7271" stop-color="#dcaeaf"/><stop offset="0.7281" stop-color="#fbf5f6"/><stop offset="0.7292" stop-color="#e6c5c6"/><stop offset="0.7302" stop-color="#dcadae"/><stop offset="0.7313" stop-color="#ddb0b1"/><stop offset="0.7323" stop-color="#eed6d7"/><stop offset="0.7333" stop-color="#ecd2d3"/><stop offset="0.7344" stop-color="#af4447"/><stop offset="0.7354" stop-color="#9a1418"/><stop offset="0.8156" stop-color="#9a1418"/><stop offset="0.8167" stop-color="#ddb1b2"/><stop offset="0.8177" stop-color="#eed8d9"/><stop offset="0.8188" stop-color="#ddb0b1"/><stop offset="0.8198" stop-color="#e5c3c4"/><stop offset="0.8208" stop-color="#f9f2f2"/><stop offset="0.8219" stop-color="#b55356"/><stop offset="0.8229" stop-color="#9a1418"/><stop offset="0.8521" stop-color="#9a1418"/><stop offset="0.8531" stop-color="#c06d6f"/><stop offset="0.8542" stop-color="#e9cdce"/><stop offset="0.8552" stop-color="#b85a5d"/><stop offset="0.9" stop-color="#b85a5d"/><stop offset="0.901" stop-color="#cc888a"/><stop offset="0.9021" stop-color="#e4c0c1"/><stop offset="0.9031" stop-color="#f9f2f2"/><stop offset="0.9042" stop-color="#efd9da"/><stop offset="0.9052" stop-color="#deb2b3"/><stop offset="0.9073" stop-color="#dbabac"/><stop offset="0.9083" stop-color="#eacecf"/><stop offset="0.9094" stop-color="#fdfbfb"/><stop offset="0.9104" stop-color="#e8c9ca"/><stop offset="0.9115" stop-color="#d09193"/><stop offset="0.9125" stop-color="#b85a5d"/><stop offset="0.925" stop-color="#bb6163"/><stop offset="0.926" stop-color="#d6a1a2"/><stop offset="0.9271" stop-color="#f3e3e3"/><stop offset="0.9281" stop-color="#e7c7c8"/><stop offset="0.9292" stop-color="#be686a"/><stop offset="0.9302" stop-color="#9a1418"/><stop offset="1" stop-color="#9a1418"/></linearGradient>
<linearGradient id="rg6" gradientUnits="userSpaceOnUse" x1="47.2" y1="0" x2="1218.6" y2="0"><stop offset="0" stop-color="#9a1418"/><stop offset="0.0948" stop-color="#9a1418"/><stop offset="0.0958" stop-color="#a63034"/><stop offset="0.0969" stop-color="#b55255"/><stop offset="0.0979" stop-color="#c27174"/><stop offset="0.099" stop-color="#ce8d8f"/><stop offset="0.1" stop-color="#d9a7a8"/><stop offset="0.101" stop-color="#e3bdbe"/><stop offset="0.1021" stop-color="#ebd1d2"/><stop offset="0.1031" stop-color="#f2e1e2"/><stop offset="0.1042" stop-color="#f8eeef"/><stop offset="0.1094" stop-color="#f5e7e7"/><stop offset="0.1104" stop-color="#ecd3d3"/><stop offset="0.1115" stop-color="#e2bbbc"/><stop offset="0.1125" stop-color="#d7a2a4"/><stop offset="0.1135" stop-color="#cd8a8c"/><stop offset="0.1146" stop-color="#c47577"/><stop offset="0.1156" stop-color="#bc6366"/><stop offset="0.1198" stop-color="#c17072"/><stop offset="0.1208" stop-color="#d29597"/><stop offset="0.1219" stop-color="#e7c7c8"/><stop offset="0.1229" stop-color="#fefeff"/><stop offset="0.124" stop-color="#cbd7ed"/><stop offset="0.125" stop-color="#98b1dc"/><stop offset="0.126" stop-color="#688ccc"/><stop offset="0.1271" stop-color="#3f6dbe"/><stop offset="0.1323" stop-color="#4370bf"/><stop offset="0.1333" stop-color="#86a3d6"/><stop offset="0.1344" stop-color="#dee6f4"/><stop offset="0.1354" stop-color="#daa9aa"/><stop offset="0.1365" stop-color="#9f1f23"/><stop offset="0.1531" stop-color="#a2262a"/><stop offset="0.1542" stop-color="#c16e70"/><stop offset="0.1552" stop-color="#d3999b"/><stop offset="0.1573" stop-color="#ca8587"/><stop offset="0.1583" stop-color="#b24c4f"/><stop offset="0.1594" stop-color="#9a1418"/><stop offset="0.4042" stop-color="#9a1418"/><stop offset="0.4052" stop-color="#ba5e61"/><stop offset="0.4062" stop-color="#d7a1a3"/><stop offset="0.4073" stop-color="#e2bcbd"/><stop offset="0.4083" stop-color="#e1b9ba"/><stop offset="0.4094" stop-color="#d49c9e"/><stop offset="0.4104" stop-color="#bf6a6d"/><stop offset="0.4115" stop-color="#a2272b"/><stop offset="0.4615" stop-color="#a42b2f"/><stop offset="0.4625" stop-color="#dbabad"/><stop offset="0.4635" stop-color="#e0e7f4"/><stop offset="0.4646" stop-color="#84a1d5"/><stop offset="0.4656" stop-color="#3f6dbe"/><stop offset="0.474" stop-color="#4f79c4"/><stop offset="0.475" stop-color="#97b0dc"/><stop offset="0.476" stop-color="#e2e9f5"/><stop offset="0.4771" stop-color="#e7c7c8"/><stop offset="0.4781" stop-color="#c27073"/><stop offset="0.4792" stop-color="#a02326"/><stop offset="0.5" stop-color="#a73336"/><stop offset="0.501" stop-color="#b95d60"/><stop offset="0.5021" stop-color="#cb8688"/><stop offset="0.5031" stop-color="#dbacae"/><stop offset="0.5042" stop-color="#eacecf"/><stop offset="0.5052" stop-color="#f6eaeb"/><stop offset="0.5083" stop-color="#e0e8f5"/><stop offset="0.5094" stop-color="#d0dbef"/><stop offset="0.5104" stop-color="#c0cfea"/><stop offset="0.5115" stop-color="#b3c5e5"/><stop offset="0.5167" stop-color="#bfcfe9"/><stop offset="0.5177" stop-color="#dae3f2"/><stop offset="0.5188" stop-color="#ffffff"/><stop offset="0.5198" stop-color="#e3bdbe"/><stop offset="0.5208" stop-color="#bc6466"/><stop offset="0.5219" stop-color="#9a1418"/><stop offset="0.5552" stop-color="#a2272b"/><stop offset="0.5563" stop-color="#a42c2f"/><stop offset="0.5573" stop-color="#9a1418"/><stop offset="1" stop-color="#9a1418"/></linearGradient>
<linearGradient id="rl6" gradientUnits="userSpaceOnUse" x1="47.2" y1="0" x2="1218.6" y2="0"><stop offset="0" stop-color="#9a1418"/><stop offset="0.099" stop-color="#9d1c20"/><stop offset="0.1" stop-color="#b34f52"/><stop offset="0.101" stop-color="#c77c7e"/><stop offset="0.1021" stop-color="#d7a3a4"/><stop offset="0.1031" stop-color="#e5c4c5"/><stop offset="0.1042" stop-color="#f1dede"/><stop offset="0.1052" stop-color="#f9f2f2"/><stop offset="0.1062" stop-color="#ffffff"/><stop offset="0.1083" stop-color="#f8eeee"/><stop offset="0.1094" stop-color="#eacfd0"/><stop offset="0.1104" stop-color="#d9a6a8"/><stop offset="0.1115" stop-color="#c5777a"/><stop offset="0.1125" stop-color="#af4649"/><stop offset="0.1135" stop-color="#9b161a"/><stop offset="0.1208" stop-color="#a42b2f"/><stop offset="0.1219" stop-color="#cf8f91"/><stop offset="0.1229" stop-color="#fefdfd"/><stop offset="0.124" stop-color="#d9a6a7"/><stop offset="0.125" stop-color="#b85a5d"/><stop offset="0.1333" stop-color="#b85a5d"/><stop offset="0.1344" stop-color="#e7c7c8"/><stop offset="0.1354" stop-color="#b55356"/><stop offset="0.1365" stop-color="#9a1418"/><stop offset="0.1542" stop-color="#9a1418"/><stop offset="0.1552" stop-color="#a83437"/><stop offset="0.1562" stop-color="#ae4346"/><stop offset="0.1573" stop-color="#9a1418"/><stop offset="0.4052" stop-color="#9a1418"/><stop offset="0.4062" stop-color="#ae4346"/><stop offset="0.4073" stop-color="#c5787b"/><stop offset="0.4083" stop-color="#c37275"/><stop offset="0.4094" stop-color="#aa393c"/><stop offset="0.4104" stop-color="#9a1418"/><stop offset="0.4615" stop-color="#9a1418"/><stop offset="0.4625" stop-color="#b7585a"/><stop offset="0.4635" stop-color="#e8c9ca"/><stop offset="0.4646" stop-color="#b85a5d"/><stop offset="0.475" stop-color="#b85a5d"/><stop offset="0.476" stop-color="#e9cdcd"/><stop offset="0.4771" stop-color="#cf9091"/><stop offset="0.4781" stop-color="#9a1418"/><stop offset="0.5021" stop-color="#9a1418"/><stop offset="0.5031" stop-color="#b8595c"/><stop offset="0.5042" stop-color="#d59d9f"/><stop offset="0.5052" stop-color="#edd5d6"/><stop offset="0.5062" stop-color="#ffffff"/><stop offset="0.5073" stop-color="#f4e6e6"/><stop offset="0.5083" stop-color="#e8cacb"/><stop offset="0.5094" stop-color="#dcaeaf"/><stop offset="0.5104" stop-color="#d19496"/><stop offset="0.5115" stop-color="#c77d80"/><stop offset="0.5125" stop-color="#c06d6f"/><stop offset="0.5135" stop-color="#bd6567"/><stop offset="0.5156" stop-color="#c47577"/><stop offset="0.5167" stop-color="#d09294"/><stop offset="0.5177" stop-color="#e4bfc0"/><stop offset="0.5188" stop-color="#ffffff"/><stop offset="0.5198" stop-color="#c67b7d"/><stop offset="0.5208" stop-color="#9a1418"/><stop offset="1" stop-color="#9a1418"/></linearGradient>
<clipPath id="hc7"><rect x="545" y="461.9" width="117.1" height="22"/></clipPath>
<linearGradient id="rg8" gradientUnits="userSpaceOnUse" x1="47.2" y1="0" x2="603.6" y2="0"><stop offset="0" stop-color="#9a1418"/><stop offset="0.1338" stop-color="#9a1418"/><stop offset="0.136" stop-color="#a83639"/><stop offset="0.1382" stop-color="#d9a6a7"/><stop offset="0.1404" stop-color="#ffffff"/><stop offset="0.1425" stop-color="#cedaee"/><stop offset="0.1469" stop-color="#c6d3ec"/><stop offset="0.1491" stop-color="#eef2f9"/><stop offset="0.1513" stop-color="#e7c7c8"/><stop offset="0.1535" stop-color="#bc6265"/><stop offset="0.1557" stop-color="#9a1418"/><stop offset="0.2346" stop-color="#9a1418"/><stop offset="0.2368" stop-color="#c37376"/><stop offset="0.239" stop-color="#eed7d8"/><stop offset="0.2412" stop-color="#d8e2f2"/><stop offset="0.2434" stop-color="#a0b7df"/><stop offset="0.2456" stop-color="#7999d2"/><stop offset="0.25" stop-color="#7596d0"/><stop offset="0.2522" stop-color="#a0b7df"/><stop offset="0.2544" stop-color="#eaeff8"/><stop offset="0.2566" stop-color="#d69fa0"/><stop offset="0.2588" stop-color="#9a1418"/><stop offset="0.5855" stop-color="#9a1418"/><stop offset="0.5877" stop-color="#ac3e41"/><stop offset="0.5899" stop-color="#bb6062"/><stop offset="0.5987" stop-color="#b55255"/><stop offset="0.6009" stop-color="#a63134"/><stop offset="0.6031" stop-color="#9a1418"/><stop offset="1" stop-color="#9a1418"/></linearGradient>
<linearGradient id="rl8" gradientUnits="userSpaceOnUse" x1="47.2" y1="0" x2="603.6" y2="0"><stop offset="0" stop-color="#9a1418"/><stop offset="0.136" stop-color="#9a1418"/><stop offset="0.1382" stop-color="#b24d50"/><stop offset="0.1404" stop-color="#ffffff"/><stop offset="0.1425" stop-color="#dbabac"/><stop offset="0.1447" stop-color="#cc898b"/><stop offset="0.1469" stop-color="#d59d9e"/><stop offset="0.1491" stop-color="#f2e1e2"/><stop offset="0.1513" stop-color="#ce8e90"/><stop offset="0.1535" stop-color="#9a1418"/><stop offset="0.2368" stop-color="#9a1418"/><stop offset="0.239" stop-color="#ddafb0"/><stop offset="0.2412" stop-color="#e3bdbe"/><stop offset="0.2434" stop-color="#b95c5f"/><stop offset="0.2522" stop-color="#b95c5f"/><stop offset="0.2544" stop-color="#efdbdb"/><stop offset="0.2566" stop-color="#ac3f42"/><stop offset="0.2588" stop-color="#9a1418"/><stop offset="1" stop-color="#9a1418"/></linearGradient>
<clipPath id="hc9"><rect x="135" y="596.1" width="73.2" height="22"/></clipPath>
<linearGradient id="rg10" gradientUnits="userSpaceOnUse" x1="39.1" y1="0" x2="1214.3" y2="0"><stop offset="0" stop-color="#9a1418"/><stop offset="0.1885" stop-color="#9a1418"/><stop offset="0.1896" stop-color="#b85a5d"/><stop offset="0.1906" stop-color="#d59d9f"/><stop offset="0.1917" stop-color="#ebd1d2"/><stop offset="0.1927" stop-color="#faf3f3"/><stop offset="0.1948" stop-color="#f9f2f2"/><stop offset="0.1958" stop-color="#eacecf"/><stop offset="0.1969" stop-color="#d39899"/><stop offset="0.1979" stop-color="#b55255"/><stop offset="0.199" stop-color="#9a1418"/><stop offset="0.2281" stop-color="#9a1418"/><stop offset="0.2292" stop-color="#ab3d40"/><stop offset="0.2302" stop-color="#c47679"/><stop offset="0.2312" stop-color="#d7a1a3"/><stop offset="0.2323" stop-color="#e4c1c2"/><stop offset="0.2333" stop-color="#f0dddd"/><stop offset="0.2344" stop-color="#faf4f4"/><stop offset="0.2417" stop-color="#f5e8e8"/><stop offset="0.2427" stop-color="#e8c9ca"/><stop offset="0.2438" stop-color="#d7a1a3"/><stop offset="0.2448" stop-color="#be696b"/><stop offset="0.2458" stop-color="#9d1b1f"/><stop offset="0.2729" stop-color="#9a1418"/><stop offset="0.274" stop-color="#c06d70"/><stop offset="0.275" stop-color="#e8c9ca"/><stop offset="0.276" stop-color="#e5ebf6"/><stop offset="0.2771" stop-color="#a8bde1"/><stop offset="0.2781" stop-color="#7697d1"/><stop offset="0.2792" stop-color="#537cc5"/><stop offset="0.2823" stop-color="#6388ca"/><stop offset="0.2833" stop-color="#95aedb"/><stop offset="0.2844" stop-color="#d9e2f2"/><stop offset="0.2854" stop-color="#e7c8c9"/><stop offset="0.2865" stop-color="#b55457"/><stop offset="0.2875" stop-color="#9a1418"/><stop offset="0.674" stop-color="#9a1418"/><stop offset="0.675" stop-color="#bb6063"/><stop offset="0.676" stop-color="#f3e2e2"/><stop offset="0.6771" stop-color="#b2c5e5"/><stop offset="0.6781" stop-color="#577fc6"/><stop offset="0.6792" stop-color="#3f6dbe"/><stop offset="0.6875" stop-color="#3f6dbe"/><stop offset="0.6885" stop-color="#7496d0"/><stop offset="0.6896" stop-color="#a7bce1"/><stop offset="0.6906" stop-color="#d2ddf0"/><stop offset="0.6917" stop-color="#f2f5fb"/><stop offset="0.6948" stop-color="#e7edf7"/><stop offset="0.6958" stop-color="#bdcde9"/><stop offset="0.6969" stop-color="#86a3d6"/><stop offset="0.6979" stop-color="#4370bf"/><stop offset="0.7365" stop-color="#3f6dbe"/><stop offset="0.7375" stop-color="#7193cf"/><stop offset="0.7385" stop-color="#fcf9f9"/><stop offset="0.7396" stop-color="#b14a4d"/><stop offset="0.7406" stop-color="#9a1418"/><stop offset="0.7677" stop-color="#a22629"/><stop offset="0.7687" stop-color="#a42c2f"/><stop offset="0.7698" stop-color="#a02125"/><stop offset="0.7708" stop-color="#9a1418"/><stop offset="0.8125" stop-color="#9a1418"/><stop offset="0.8135" stop-color="#c47578"/><stop offset="0.8146" stop-color="#e9cccd"/><stop offset="0.8156" stop-color="#edf1f9"/><stop offset="0.8167" stop-color="#becde9"/><stop offset="0.8177" stop-color="#9db4de"/><stop offset="0.8208" stop-color="#a7bce1"/><stop offset="0.8219" stop-color="#d1dcef"/><stop offset="0.8229" stop-color="#faf4f4"/><stop offset="0.824" stop-color="#d7a3a4"/><stop offset="0.825" stop-color="#b1494c"/><stop offset="0.826" stop-color="#9a1418"/><stop offset="0.85" stop-color="#9a1418"/><stop offset="0.851" stop-color="#d59e9f"/><stop offset="0.8521" stop-color="#c8d5ec"/><stop offset="0.8531" stop-color="#4a76c2"/><stop offset="0.8719" stop-color="#3f6dbe"/><stop offset="0.8729" stop-color="#6d90ce"/><stop offset="0.874" stop-color="#fdfbfb"/><stop offset="0.875" stop-color="#ac3f42"/><stop offset="0.876" stop-color="#9a1418"/><stop offset="0.8958" stop-color="#9e1e22"/><stop offset="0.8969" stop-color="#dbacad"/><stop offset="0.8979" stop-color="#c5d3eb"/><stop offset="0.899" stop-color="#4370bf"/><stop offset="0.9146" stop-color="#406ebe"/><stop offset="0.9156" stop-color="#b9cae7"/><stop offset="0.9167" stop-color="#e5c3c4"/><stop offset="0.9177" stop-color="#a9373b"/><stop offset="0.9187" stop-color="#9a1418"/><stop offset="0.9458" stop-color="#9a1418"/><stop offset="0.9469" stop-color="#b85b5e"/><stop offset="0.9479" stop-color="#e1b8ba"/><stop offset="0.949" stop-color="#f1f5fa"/><stop offset="0.95" stop-color="#b2c5e5"/><stop offset="0.951" stop-color="#7e9dd3"/><stop offset="0.9521" stop-color="#5980c7"/><stop offset="0.9552" stop-color="#5b82c7"/><stop offset="0.9563" stop-color="#8ca7d8"/><stop offset="0.9573" stop-color="#e8eef7"/><stop offset="0.9583" stop-color="#c06c6e"/><stop offset="0.9594" stop-color="#9a1418"/><stop offset="0.9781" stop-color="#9a1418"/><stop offset="0.9792" stop-color="#bc6265"/><stop offset="0.9802" stop-color="#edf1f9"/><stop offset="0.9812" stop-color="#8ca7d8"/><stop offset="0.9823" stop-color="#5880c6"/><stop offset="0.9856" stop-color="#5e85c9"/><stop offset="0.9868" stop-color="#87a4d6"/><stop offset="0.9879" stop-color="#bccce8"/><stop offset="0.989" stop-color="#f7f9fc"/><stop offset="0.99" stop-color="#e3bdbe"/><stop offset="0.9911" stop-color="#c37477"/><stop offset="0.992" stop-color="#a83438"/><stop offset="0.9929" stop-color="#9a1418"/><stop offset="1" stop-color="#9a1418"/></linearGradient>
<linearGradient id="rl10" gradientUnits="userSpaceOnUse" x1="39.1" y1="0" x2="1214.3" y2="0"><stop offset="0" stop-color="#9a1418"/><stop offset="0.1896" stop-color="#9a1418"/><stop offset="0.1906" stop-color="#ab3b3f"/><stop offset="0.1917" stop-color="#d8a3a5"/><stop offset="0.1927" stop-color="#f5e7e7"/><stop offset="0.1937" stop-color="#ffffff"/><stop offset="0.1948" stop-color="#f4e5e6"/><stop offset="0.1958" stop-color="#d59e9f"/><stop offset="0.1969" stop-color="#a63034"/><stop offset="0.1979" stop-color="#9a1418"/><stop offset="0.2302" stop-color="#9a1418"/><stop offset="0.2312" stop-color="#ae4346"/><stop offset="0.2323" stop-color="#ca8385"/><stop offset="0.2333" stop-color="#e2bbbc"/><stop offset="0.2344" stop-color="#f5e8e9"/><stop offset="0.2406" stop-color="#fffefe"/><stop offset="0.2417" stop-color="#ebd0d1"/><stop offset="0.2427" stop-color="#d09294"/><stop offset="0.2438" stop-color="#ae4346"/><stop offset="0.2448" stop-color="#9a1418"/><stop offset="0.274" stop-color="#9a1418"/><stop offset="0.275" stop-color="#d19395"/><stop offset="0.276" stop-color="#ecd3d3"/><stop offset="0.2771" stop-color="#bf6a6c"/><stop offset="0.2833" stop-color="#b85a5d"/><stop offset="0.2844" stop-color="#e3bebf"/><stop offset="0.2854" stop-color="#d09193"/><stop offset="0.2865" stop-color="#9a1418"/><stop offset="0.675" stop-color="#9a1418"/><stop offset="0.676" stop-color="#e6c5c6"/><stop offset="0.6771" stop-color="#c67b7e"/><stop offset="0.6781" stop-color="#b85a5d"/><stop offset="0.6896" stop-color="#be686a"/><stop offset="0.6906" stop-color="#deb2b3"/><stop offset="0.6917" stop-color="#f5e8e9"/><stop offset="0.6927" stop-color="#fcf7f7"/><stop offset="0.6937" stop-color="#ffffff"/><stop offset="0.6948" stop-color="#edd5d6"/><stop offset="0.6958" stop-color="#ce8e90"/><stop offset="0.6969" stop-color="#b85a5d"/><stop offset="0.7375" stop-color="#b85a5d"/><stop offset="0.7385" stop-color="#faf3f3"/><stop offset="0.7396" stop-color="#9a1418"/><stop offset="0.8135" stop-color="#9a1418"/><stop offset="0.8146" stop-color="#d3989a"/><stop offset="0.8156" stop-color="#f2e0e1"/><stop offset="0.8167" stop-color="#cf8f91"/><stop offset="0.8177" stop-color="#b85a5d"/><stop offset="0.8208" stop-color="#be696b"/><stop offset="0.8219" stop-color="#ddb0b1"/><stop offset="0.8229" stop-color="#f5e8e9"/><stop offset="0.824" stop-color="#b0474a"/><stop offset="0.825" stop-color="#9a1418"/><stop offset="0.85" stop-color="#9a1418"/><stop offset="0.851" stop-color="#ab3c40"/><stop offset="0.8521" stop-color="#d7a1a3"/><stop offset="0.8531" stop-color="#b85a5d"/><stop offset="0.8729" stop-color="#b85a5d"/><stop offset="0.874" stop-color="#fbf7f7"/><stop offset="0.875" stop-color="#9a1418"/><stop offset="0.8958" stop-color="#9a1418"/><stop offset="0.8969" stop-color="#b8595b"/><stop offset="0.8979" stop-color="#d59c9e"/><stop offset="0.899" stop-color="#b85a5d"/><stop offset="0.9146" stop-color="#b85a5d"/><stop offset="0.9156" stop-color="#cb8789"/><stop offset="0.9167" stop-color="#cb8789"/><stop offset="0.9177" stop-color="#9a1418"/><stop offset="0.9469" stop-color="#9a1418"/><stop offset="0.9479" stop-color="#c27274"/><stop offset="0.949" stop-color="#f5e8e8"/><stop offset="0.95" stop-color="#c67b7e"/><stop offset="0.951" stop-color="#b85a5d"/><stop offset="0.9563" stop-color="#b85a5d"/><stop offset="0.9573" stop-color="#eed8d9"/><stop offset="0.9583" stop-color="#9a1418"/><stop offset="0.9792" stop-color="#9a1418"/><stop offset="0.9802" stop-color="#f2e0e1"/><stop offset="0.9812" stop-color="#b85a5d"/><stop offset="0.9868" stop-color="#b85a5d"/><stop offset="0.9879" stop-color="#ce8c8e"/><stop offset="0.989" stop-color="#f9f2f2"/><stop offset="0.99" stop-color="#c67b7d"/><stop offset="0.9911" stop-color="#9a1418"/><stop offset="1" stop-color="#9a1418"/></linearGradient>
<clipPath id="hc11"><rect x="347.6" y="764.8" width="58.8" height="21"/></clipPath>
<clipPath id="hc12"><rect x="979.3" y="764.8" width="191" height="21"/></clipPath>
<linearGradient id="rg13" gradientUnits="userSpaceOnUse" x1="39.1" y1="0" x2="1214.3" y2="0"><stop offset="0" stop-color="#9a1418"/><stop offset="0.0014" stop-color="#a2272b"/><stop offset="0.0018" stop-color="#a9373a"/><stop offset="0.0023" stop-color="#af4448"/><stop offset="0.0029" stop-color="#b34e51"/><stop offset="0.0048" stop-color="#ad3f42"/><stop offset="0.0055" stop-color="#a12529"/><stop offset="0.0354" stop-color="#9a1418"/><stop offset="0.0365" stop-color="#c5797b"/><stop offset="0.0375" stop-color="#e8edf7"/><stop offset="0.0385" stop-color="#688ccc"/><stop offset="0.0396" stop-color="#3f6dbe"/><stop offset="0.049" stop-color="#3f6dbe"/><stop offset="0.05" stop-color="#82a0d5"/><stop offset="0.051" stop-color="#f6f8fc"/><stop offset="0.0521" stop-color="#c67a7c"/><stop offset="0.0531" stop-color="#9a1418"/><stop offset="0.0781" stop-color="#9a1418"/><stop offset="0.0792" stop-color="#d39899"/><stop offset="0.0802" stop-color="#f3f6fb"/><stop offset="0.0812" stop-color="#a3b9e0"/><stop offset="0.0823" stop-color="#5880c7"/><stop offset="0.0833" stop-color="#3f6dbe"/><stop offset="0.0979" stop-color="#4d77c3"/><stop offset="0.099" stop-color="#f9fafd"/><stop offset="0.1" stop-color="#a2272a"/><stop offset="0.1281" stop-color="#9a1418"/><stop offset="0.1292" stop-color="#c98284"/><stop offset="0.1302" stop-color="#edf1f9"/><stop offset="0.1313" stop-color="#a3b9e0"/><stop offset="0.1323" stop-color="#88a4d7"/><stop offset="0.1333" stop-color="#93adda"/><stop offset="0.1344" stop-color="#becde9"/><stop offset="0.1354" stop-color="#fefcfc"/><stop offset="0.1365" stop-color="#d09394"/><stop offset="0.1375" stop-color="#9d1a1e"/><stop offset="0.1719" stop-color="#9a1418"/><stop offset="0.1729" stop-color="#ab3c3f"/><stop offset="0.174" stop-color="#e9cdce"/><stop offset="0.175" stop-color="#afc2e4"/><stop offset="0.176" stop-color="#3f6dbe"/><stop offset="0.1865" stop-color="#3f6dbe"/><stop offset="0.1875" stop-color="#b1c3e4"/><stop offset="0.1885" stop-color="#e8c9ca"/><stop offset="0.1896" stop-color="#a63135"/><stop offset="0.1906" stop-color="#9a1418"/><stop offset="0.2281" stop-color="#9a1418"/><stop offset="0.2292" stop-color="#ca8587"/><stop offset="0.2302" stop-color="#ecf1f9"/><stop offset="0.2312" stop-color="#a3b9e0"/><stop offset="0.2323" stop-color="#87a3d6"/><stop offset="0.2333" stop-color="#8ea9d9"/><stop offset="0.2344" stop-color="#b3c5e5"/><stop offset="0.2354" stop-color="#f1f4fa"/><stop offset="0.2365" stop-color="#dcaeaf"/><stop offset="0.2375" stop-color="#ab3c3f"/><stop offset="0.2385" stop-color="#9a1418"/><stop offset="0.2854" stop-color="#9a1418"/><stop offset="0.2865" stop-color="#a9383b"/><stop offset="0.2875" stop-color="#eff3fa"/><stop offset="0.2885" stop-color="#4571c0"/><stop offset="0.299" stop-color="#3f6dbe"/><stop offset="0.3" stop-color="#94aedb"/><stop offset="0.301" stop-color="#e2bbbc"/><stop offset="0.3021" stop-color="#9a1418"/><stop offset="0.325" stop-color="#9a1418"/><stop offset="0.326" stop-color="#dcadae"/><stop offset="0.3271" stop-color="#b1c4e5"/><stop offset="0.3281" stop-color="#3f6dbe"/><stop offset="0.3396" stop-color="#3f6dbe"/><stop offset="0.3406" stop-color="#84a2d5"/><stop offset="0.3417" stop-color="#d0dbef"/><stop offset="0.3427" stop-color="#f1dedf"/><stop offset="0.3438" stop-color="#cc8a8c"/><stop offset="0.3448" stop-color="#a52e32"/><stop offset="0.3458" stop-color="#9a1418"/><stop offset="0.3719" stop-color="#9a1418"/><stop offset="0.3729" stop-color="#bf6b6e"/><stop offset="0.374" stop-color="#cfdbef"/><stop offset="0.375" stop-color="#3f6dbe"/><stop offset="0.3854" stop-color="#3f6dbe"/><stop offset="0.3865" stop-color="#577fc6"/><stop offset="0.3875" stop-color="#eed8d8"/><stop offset="0.3885" stop-color="#9a1418"/><stop offset="0.4167" stop-color="#9a1418"/><stop offset="0.4177" stop-color="#a9383b"/><stop offset="0.4188" stop-color="#cc8a8c"/><stop offset="0.4198" stop-color="#d3989a"/><stop offset="0.4208" stop-color="#c06c6e"/><stop offset="0.4219" stop-color="#9a1418"/><stop offset="0.4365" stop-color="#9a1418"/><stop offset="0.4375" stop-color="#bb6063"/><stop offset="0.4385" stop-color="#b5c7e6"/><stop offset="0.4396" stop-color="#3f6dbe"/><stop offset="0.4479" stop-color="#3f6dbe"/><stop offset="0.449" stop-color="#abbfe3"/><stop offset="0.45" stop-color="#c16e70"/><stop offset="0.451" stop-color="#9a1418"/><stop offset="0.4615" stop-color="#9a1418"/><stop offset="0.4625" stop-color="#ab3c3f"/><stop offset="0.4635" stop-color="#d9e2f2"/><stop offset="0.4646" stop-color="#3f6dbe"/><stop offset="0.475" stop-color="#3f6dbe"/><stop offset="0.476" stop-color="#89a5d7"/><stop offset="0.4771" stop-color="#f9f0f0"/><stop offset="0.4781" stop-color="#b85b5e"/><stop offset="0.4792" stop-color="#9a1418"/><stop offset="0.6115" stop-color="#9a1418"/><stop offset="0.6125" stop-color="#ac3f42"/><stop offset="0.6135" stop-color="#be676a"/><stop offset="0.6146" stop-color="#ce8d8f"/><stop offset="0.6156" stop-color="#ddb0b1"/><stop offset="0.6167" stop-color="#eacecf"/><stop offset="0.6177" stop-color="#f6e9e9"/><stop offset="0.6469" stop-color="#eed8d8"/><stop offset="0.6479" stop-color="#e7c6c7"/><stop offset="0.649" stop-color="#dfb4b5"/><stop offset="0.65" stop-color="#d6a0a1"/><stop offset="0.651" stop-color="#cd8a8c"/><stop offset="0.6521" stop-color="#c37476"/><stop offset="0.6531" stop-color="#b95d5f"/><stop offset="0.6542" stop-color="#af4548"/><stop offset="0.6552" stop-color="#a52c30"/><stop offset="0.6562" stop-color="#9a1418"/><stop offset="0.8031" stop-color="#9a1418"/><stop offset="0.8042" stop-color="#a52e32"/><stop offset="0.8052" stop-color="#bf6b6d"/><stop offset="0.8062" stop-color="#cc8a8c"/><stop offset="0.8073" stop-color="#cb8688"/><stop offset="0.8083" stop-color="#bb6164"/><stop offset="0.8094" stop-color="#a02326"/><stop offset="0.8271" stop-color="#9a1418"/><stop offset="0.8281" stop-color="#b95b5e"/><stop offset="0.8292" stop-color="#daa9ab"/><stop offset="0.8302" stop-color="#f2e2e2"/><stop offset="0.8312" stop-color="#ffffff"/><stop offset="0.8333" stop-color="#f7ecec"/><stop offset="0.8344" stop-color="#e6c5c6"/><stop offset="0.8354" stop-color="#cf9092"/><stop offset="0.8365" stop-color="#b45154"/><stop offset="0.8375" stop-color="#9a1418"/><stop offset="0.8896" stop-color="#a3282c"/><stop offset="0.8906" stop-color="#ac3f42"/><stop offset="0.8917" stop-color="#b7575a"/><stop offset="0.8927" stop-color="#c17072"/><stop offset="0.8938" stop-color="#cc8a8c"/><stop offset="0.8948" stop-color="#d9a7a9"/><stop offset="0.8958" stop-color="#e8cacb"/><stop offset="0.8969" stop-color="#f9f2f2"/><stop offset="0.8979" stop-color="#e8edf7"/><stop offset="0.899" stop-color="#c4d2eb"/><stop offset="0.9" stop-color="#a1b8df"/><stop offset="0.901" stop-color="#809ed4"/><stop offset="0.9021" stop-color="#6187ca"/><stop offset="0.9031" stop-color="#4672c0"/><stop offset="0.9115" stop-color="#5880c6"/><stop offset="0.9125" stop-color="#7193cf"/><stop offset="0.9135" stop-color="#8ca8d8"/><stop offset="0.9146" stop-color="#a8bce1"/><stop offset="0.9156" stop-color="#c2d0ea"/><stop offset="0.9167" stop-color="#dae3f2"/><stop offset="0.9177" stop-color="#eff3f9"/><stop offset="0.9187" stop-color="#ffffff"/><stop offset="0.9198" stop-color="#f7edee"/><stop offset="0.9208" stop-color="#efdadb"/><stop offset="0.9219" stop-color="#e7c7c8"/><stop offset="0.9229" stop-color="#deb3b5"/><stop offset="0.924" stop-color="#d7a1a3"/><stop offset="0.925" stop-color="#d09193"/><stop offset="0.926" stop-color="#ca8386"/><stop offset="0.9271" stop-color="#c67a7c"/><stop offset="0.9312" stop-color="#cc8a8c"/><stop offset="0.9323" stop-color="#d7a2a3"/><stop offset="0.9333" stop-color="#e6c5c6"/><stop offset="0.9344" stop-color="#faf2f3"/><stop offset="0.9354" stop-color="#dfe7f4"/><stop offset="0.9365" stop-color="#b1c4e5"/><stop offset="0.9375" stop-color="#819fd4"/><stop offset="0.9385" stop-color="#517bc4"/><stop offset="0.9573" stop-color="#426fbf"/><stop offset="0.9583" stop-color="#7898d1"/><stop offset="0.9594" stop-color="#b8c9e7"/><stop offset="0.9604" stop-color="#fefeff"/><stop offset="0.9615" stop-color="#d8a4a6"/><stop offset="0.9625" stop-color="#b0474b"/><stop offset="0.9635" stop-color="#9a1418"/><stop offset="0.9812" stop-color="#9a1418"/><stop offset="0.9823" stop-color="#b1494d"/><stop offset="0.9834" stop-color="#cc898b"/><stop offset="0.9845" stop-color="#eacfd0"/><stop offset="0.9856" stop-color="#e8eef7"/><stop offset="0.9868" stop-color="#a8bde1"/><stop offset="0.9879" stop-color="#678bcb"/><stop offset="0.989" stop-color="#3f6dbe"/><stop offset="1" stop-color="#3f6dbe"/></linearGradient>
<linearGradient id="rl13" gradientUnits="userSpaceOnUse" x1="39.1" y1="0" x2="1214.3" y2="0"><stop offset="0" stop-color="#9a1418"/><stop offset="0.0365" stop-color="#9a1418"/><stop offset="0.0375" stop-color="#eed7d8"/><stop offset="0.0385" stop-color="#b85a5d"/><stop offset="0.05" stop-color="#b85a5d"/><stop offset="0.051" stop-color="#f8eff0"/><stop offset="0.0521" stop-color="#9a1418"/><stop offset="0.0781" stop-color="#9a1418"/><stop offset="0.0792" stop-color="#a63034"/><stop offset="0.0802" stop-color="#f6ebeb"/><stop offset="0.0812" stop-color="#bb6164"/><stop offset="0.0979" stop-color="#b85a5d"/><stop offset="0.099" stop-color="#fbf5f5"/><stop offset="0.1" stop-color="#9a1418"/><stop offset="0.1292" stop-color="#9a1418"/><stop offset="0.1302" stop-color="#f2e0e1"/><stop offset="0.1313" stop-color="#bb6164"/><stop offset="0.1333" stop-color="#b85a5d"/><stop offset="0.1344" stop-color="#cf8f91"/><stop offset="0.1354" stop-color="#fdf9fa"/><stop offset="0.1365" stop-color="#a2262a"/><stop offset="0.1729" stop-color="#9a1418"/><stop offset="0.174" stop-color="#d49a9c"/><stop offset="0.175" stop-color="#c47679"/><stop offset="0.176" stop-color="#b85a5d"/><stop offset="0.1865" stop-color="#b85a5d"/><stop offset="0.1875" stop-color="#c5797b"/><stop offset="0.1885" stop-color="#d19395"/><stop offset="0.1896" stop-color="#9a1418"/><stop offset="0.2292" stop-color="#9a1418"/><stop offset="0.2302" stop-color="#f1dfe0"/><stop offset="0.2312" stop-color="#bb6164"/><stop offset="0.2333" stop-color="#b85a5d"/><stop offset="0.2344" stop-color="#c77d7f"/><stop offset="0.2354" stop-color="#f5e7e7"/><stop offset="0.2365" stop-color="#b95d60"/><stop offset="0.2375" stop-color="#9a1418"/><stop offset="0.2865" stop-color="#9a1418"/><stop offset="0.2875" stop-color="#f4e4e5"/><stop offset="0.2885" stop-color="#b85a5d"/><stop offset="0.3" stop-color="#b85a5d"/><stop offset="0.301" stop-color="#c47679"/><stop offset="0.3021" stop-color="#9a1418"/><stop offset="0.325" stop-color="#9a1418"/><stop offset="0.326" stop-color="#b95b5e"/><stop offset="0.3271" stop-color="#c5797b"/><stop offset="0.3281" stop-color="#b85a5d"/><stop offset="0.3406" stop-color="#b85a5d"/><stop offset="0.3417" stop-color="#dcaeaf"/><stop offset="0.3427" stop-color="#e3bebf"/><stop offset="0.3438" stop-color="#9a1418"/><stop offset="0.3729" stop-color="#9a1418"/><stop offset="0.374" stop-color="#dcadaf"/><stop offset="0.375" stop-color="#b85a5d"/><stop offset="0.3865" stop-color="#b85a5d"/><stop offset="0.3875" stop-color="#ddb0b2"/><stop offset="0.3885" stop-color="#9a1418"/><stop offset="0.4188" stop-color="#9a1418"/><stop offset="0.4198" stop-color="#a73135"/><stop offset="0.4208" stop-color="#9a1418"/><stop offset="0.4375" stop-color="#9a1418"/><stop offset="0.4385" stop-color="#c88082"/><stop offset="0.4396" stop-color="#b85a5d"/><stop offset="0.449" stop-color="#c16f71"/><stop offset="0.45" stop-color="#9a1418"/><stop offset="0.4625" stop-color="#9a1418"/><stop offset="0.4635" stop-color="#e3bebf"/><stop offset="0.4646" stop-color="#b85a5d"/><stop offset="0.476" stop-color="#b85a5d"/><stop offset="0.4771" stop-color="#f2e1e2"/><stop offset="0.4781" stop-color="#9a1418"/><stop offset="0.6146" stop-color="#9d1b1f"/><stop offset="0.6156" stop-color="#bb6063"/><stop offset="0.6167" stop-color="#d59e9f"/><stop offset="0.6177" stop-color="#ecd3d4"/><stop offset="0.6187" stop-color="#ffffff"/><stop offset="0.6198" stop-color="#f5e8e8"/><stop offset="0.6208" stop-color="#efd9da"/><stop offset="0.6219" stop-color="#ebd1d2"/><stop offset="0.6271" stop-color="#f5e7e7"/><stop offset="0.6281" stop-color="#f8f0f0"/><stop offset="0.6448" stop-color="#f6e9e9"/><stop offset="0.6458" stop-color="#eacfcf"/><stop offset="0.6469" stop-color="#ddb0b1"/><stop offset="0.6479" stop-color="#ce8e90"/><stop offset="0.649" stop-color="#be686b"/><stop offset="0.65" stop-color="#ad4043"/><stop offset="0.651" stop-color="#9b1519"/><stop offset="0.8281" stop-color="#9a1418"/><stop offset="0.8292" stop-color="#b55457"/><stop offset="0.8302" stop-color="#e6c5c6"/><stop offset="0.8312" stop-color="#ffffff"/><stop offset="0.8323" stop-color="#fefdfd"/><stop offset="0.8333" stop-color="#efd9da"/><stop offset="0.8344" stop-color="#cd8c8e"/><stop offset="0.8354" stop-color="#a02226"/><stop offset="0.8938" stop-color="#9a1418"/><stop offset="0.8948" stop-color="#b44f52"/><stop offset="0.8958" stop-color="#d29698"/><stop offset="0.8969" stop-color="#f4e5e5"/><stop offset="0.8979" stop-color="#eed7d7"/><stop offset="0.899" stop-color="#d49a9c"/><stop offset="0.9" stop-color="#ba5f61"/><stop offset="0.9146" stop-color="#bf696c"/><stop offset="0.9156" stop-color="#d29698"/><stop offset="0.9167" stop-color="#e4bfc1"/><stop offset="0.9177" stop-color="#f3e3e4"/><stop offset="0.9187" stop-color="#ffffff"/><stop offset="0.9198" stop-color="#f0dcdc"/><stop offset="0.9208" stop-color="#dfb6b7"/><stop offset="0.9219" stop-color="#cf8e90"/><stop offset="0.9229" stop-color="#be686a"/><stop offset="0.924" stop-color="#ae4346"/><stop offset="0.925" stop-color="#a02326"/><stop offset="0.9312" stop-color="#9a1418"/><stop offset="0.9323" stop-color="#af4448"/><stop offset="0.9333" stop-color="#cd8c8e"/><stop offset="0.9344" stop-color="#f4e6e6"/><stop offset="0.9354" stop-color="#e7c8c9"/><stop offset="0.9365" stop-color="#c5797b"/><stop offset="0.9375" stop-color="#b85a5d"/><stop offset="0.9583" stop-color="#b85a5d"/><stop offset="0.9594" stop-color="#cb8587"/><stop offset="0.9604" stop-color="#fefefe"/><stop offset="0.9615" stop-color="#b14a4d"/><stop offset="0.9625" stop-color="#9a1418"/><stop offset="0.9834" stop-color="#9a1418"/><stop offset="0.9845" stop-color="#d69fa1"/><stop offset="0.9856" stop-color="#eed8d9"/><stop offset="0.9868" stop-color="#bf6a6c"/><stop offset="1" stop-color="#b85a5d"/></linearGradient>
<clipPath id="hc14"><rect x="39.1" y="891.3" width="117.5" height="21"/></clipPath>
<clipPath id="hc15"><rect x="332.9" y="891.3" width="191" height="21"/></clipPath>
<clipPath id="hc16"><rect x="670.8" y="891.3" width="161.6" height="21"/></clipPath>
<clipPath id="hc17"><rect x="1052.7" y="891.3" width="161.6" height="21"/></clipPath>
<linearGradient id="rg18" gradientUnits="userSpaceOnUse" x1="39.1" y1="0" x2="1214.3" y2="0"><stop offset="0" stop-color="#3f6dbe"/><stop offset="0.0089" stop-color="#416fbf"/><stop offset="0.01" stop-color="#b3c5e5"/><stop offset="0.011" stop-color="#e7c7c8"/><stop offset="0.0121" stop-color="#a63033"/><stop offset="0.0132" stop-color="#9a1418"/><stop offset="0.025" stop-color="#9a1418"/><stop offset="0.026" stop-color="#b0474a"/><stop offset="0.0271" stop-color="#e9cccd"/><stop offset="0.0281" stop-color="#c2d0ea"/><stop offset="0.0292" stop-color="#658acb"/><stop offset="0.0302" stop-color="#3f6dbe"/><stop offset="0.0552" stop-color="#517bc4"/><stop offset="0.0562" stop-color="#6f92ce"/><stop offset="0.0573" stop-color="#8faad9"/><stop offset="0.0583" stop-color="#b2c5e5"/><stop offset="0.0594" stop-color="#d9e2f2"/><stop offset="0.0604" stop-color="#fdfbfb"/><stop offset="0.0615" stop-color="#e7c8c9"/><stop offset="0.0625" stop-color="#d29597"/><stop offset="0.0635" stop-color="#bc6467"/><stop offset="0.0646" stop-color="#a93639"/><stop offset="0.0656" stop-color="#9a1418"/><stop offset="0.0802" stop-color="#9b161a"/><stop offset="0.0812" stop-color="#a42c2f"/><stop offset="0.0823" stop-color="#ae4447"/><stop offset="0.0833" stop-color="#bb6164"/><stop offset="0.0844" stop-color="#ca8385"/><stop offset="0.0854" stop-color="#d9a7a9"/><stop offset="0.0865" stop-color="#eacece"/><stop offset="0.0875" stop-color="#fbf5f5"/><stop offset="0.0885" stop-color="#e8edf7"/><stop offset="0.0896" stop-color="#c9d6ed"/><stop offset="0.0906" stop-color="#adc1e3"/><stop offset="0.0917" stop-color="#94aedb"/><stop offset="0.0927" stop-color="#7f9ed4"/><stop offset="0.0937" stop-color="#6f92ce"/><stop offset="0.0948" stop-color="#6086c9"/><stop offset="0.0958" stop-color="#4f79c3"/><stop offset="0.1052" stop-color="#4571c0"/><stop offset="0.1062" stop-color="#6f92ce"/><stop offset="0.1073" stop-color="#acc0e3"/><stop offset="0.1083" stop-color="#ffffff"/><stop offset="0.1094" stop-color="#ca8486"/><stop offset="0.1104" stop-color="#9a1418"/><stop offset="0.1396" stop-color="#9a1418"/><stop offset="0.1406" stop-color="#b55255"/><stop offset="0.1417" stop-color="#d69fa1"/><stop offset="0.1427" stop-color="#efdadb"/><stop offset="0.1437" stop-color="#ffffff"/><stop offset="0.1469" stop-color="#f8f0f0"/><stop offset="0.1479" stop-color="#e9cccd"/><stop offset="0.149" stop-color="#d59d9f"/><stop offset="0.15" stop-color="#be686a"/><stop offset="0.151" stop-color="#a52e32"/><stop offset="0.1521" stop-color="#9a1418"/><stop offset="0.1802" stop-color="#9a1418"/><stop offset="0.1812" stop-color="#a42c2f"/><stop offset="0.1823" stop-color="#be676a"/><stop offset="0.1833" stop-color="#dcaeb0"/><stop offset="0.1844" stop-color="#fffefe"/><stop offset="0.1854" stop-color="#b9c9e7"/><stop offset="0.1865" stop-color="#6f91ce"/><stop offset="0.1875" stop-color="#3f6dbe"/><stop offset="0.2177" stop-color="#547dc5"/><stop offset="0.2187" stop-color="#6f92ce"/><stop offset="0.2198" stop-color="#88a4d7"/><stop offset="0.2208" stop-color="#a2b8df"/><stop offset="0.2219" stop-color="#bccce8"/><stop offset="0.2229" stop-color="#d4dff1"/><stop offset="0.224" stop-color="#ebf0f8"/><stop offset="0.226" stop-color="#f7ecec"/><stop offset="0.2271" stop-color="#f1dedf"/><stop offset="0.2302" stop-color="#f5e8e8"/><stop offset="0.2312" stop-color="#ffffff"/><stop offset="0.2323" stop-color="#dee6f4"/><stop offset="0.2333" stop-color="#adc1e3"/><stop offset="0.2344" stop-color="#7092cf"/><stop offset="0.2354" stop-color="#3f6dbe"/><stop offset="0.3229" stop-color="#3f6dbe"/><stop offset="0.324" stop-color="#5981c7"/><stop offset="0.325" stop-color="#9ab2dd"/><stop offset="0.326" stop-color="#dae3f2"/><stop offset="0.3271" stop-color="#f3e4e4"/><stop offset="0.3281" stop-color="#d7a2a4"/><stop offset="0.3292" stop-color="#c06c6f"/><stop offset="0.3302" stop-color="#ae4347"/><stop offset="0.3312" stop-color="#a42c2f"/><stop offset="0.3344" stop-color="#a83639"/><stop offset="0.3354" stop-color="#b34d50"/><stop offset="0.3365" stop-color="#c06d70"/><stop offset="0.3375" stop-color="#d19395"/><stop offset="0.3385" stop-color="#e3bebf"/><stop offset="0.3396" stop-color="#f7eded"/><stop offset="0.3406" stop-color="#e6ecf7"/><stop offset="0.3417" stop-color="#bdcde9"/><stop offset="0.3427" stop-color="#95afdb"/><stop offset="0.3438" stop-color="#6f92ce"/><stop offset="0.3448" stop-color="#4572c0"/><stop offset="0.374" stop-color="#3f6dbe"/><stop offset="0.375" stop-color="#5d84c8"/><stop offset="0.376" stop-color="#8ba7d8"/><stop offset="0.3771" stop-color="#b4c6e6"/><stop offset="0.3781" stop-color="#d7e0f1"/><stop offset="0.3792" stop-color="#f0f3fa"/><stop offset="0.3823" stop-color="#f0f4fa"/><stop offset="0.3833" stop-color="#d3ddf0"/><stop offset="0.3844" stop-color="#a8bde2"/><stop offset="0.3854" stop-color="#7496d0"/><stop offset="0.3865" stop-color="#3f6dbe"/><stop offset="0.4406" stop-color="#426fbf"/><stop offset="0.4417" stop-color="#567fc6"/><stop offset="0.4427" stop-color="#668acb"/><stop offset="0.4437" stop-color="#6f92ce"/><stop offset="0.4469" stop-color="#5f86c9"/><stop offset="0.4479" stop-color="#4f79c3"/><stop offset="0.4615" stop-color="#4e79c3"/><stop offset="0.4625" stop-color="#6f91ce"/><stop offset="0.4635" stop-color="#90aad9"/><stop offset="0.4646" stop-color="#afc2e4"/><stop offset="0.4656" stop-color="#cbd8ed"/><stop offset="0.4667" stop-color="#e3eaf6"/><stop offset="0.4677" stop-color="#f5f7fc"/><stop offset="0.4688" stop-color="#ffffff"/><stop offset="0.4719" stop-color="#eaeff8"/><stop offset="0.4729" stop-color="#d7e0f1"/><stop offset="0.474" stop-color="#c1d0ea"/><stop offset="0.475" stop-color="#a9bee2"/><stop offset="0.476" stop-color="#93adda"/><stop offset="0.4771" stop-color="#7f9dd4"/><stop offset="0.4781" stop-color="#6f92ce"/><stop offset="0.4792" stop-color="#668bcb"/><stop offset="0.4813" stop-color="#6f92ce"/><stop offset="0.4823" stop-color="#84a2d5"/><stop offset="0.4833" stop-color="#a4bae0"/><stop offset="0.4844" stop-color="#cdd9ee"/><stop offset="0.4854" stop-color="#fdfdfe"/><stop offset="0.4865" stop-color="#e5c2c4"/><stop offset="0.4875" stop-color="#c88082"/><stop offset="0.4885" stop-color="#ac3d40"/><stop offset="0.4896" stop-color="#9a1418"/><stop offset="0.549" stop-color="#9a1418"/><stop offset="0.55" stop-color="#a93639"/><stop offset="0.551" stop-color="#b85b5e"/><stop offset="0.5521" stop-color="#c77d80"/><stop offset="0.5531" stop-color="#d49c9d"/><stop offset="0.5542" stop-color="#dfb5b6"/><stop offset="0.5552" stop-color="#e7c6c7"/><stop offset="0.5562" stop-color="#ebd0d1"/><stop offset="0.5583" stop-color="#e3bfc0"/><stop offset="0.5594" stop-color="#d9a6a8"/><stop offset="0.5604" stop-color="#cb8689"/><stop offset="0.5615" stop-color="#bc6365"/><stop offset="0.5625" stop-color="#ac3e41"/><stop offset="0.5635" stop-color="#9d1b1e"/><stop offset="0.5698" stop-color="#9a1418"/><stop offset="0.5708" stop-color="#ab3b3e"/><stop offset="0.5719" stop-color="#c77d7f"/><stop offset="0.5729" stop-color="#e8cacb"/><stop offset="0.574" stop-color="#e5ebf6"/><stop offset="0.575" stop-color="#9db5de"/><stop offset="0.576" stop-color="#557ec5"/><stop offset="0.6375" stop-color="#698dcc"/><stop offset="0.6385" stop-color="#86a3d6"/><stop offset="0.6396" stop-color="#a3b9e0"/><stop offset="0.6406" stop-color="#becde9"/><stop offset="0.6417" stop-color="#d7e0f1"/><stop offset="0.6427" stop-color="#edf1f9"/><stop offset="0.6437" stop-color="#ffffff"/><stop offset="0.6448" stop-color="#f8efef"/><stop offset="0.6458" stop-color="#f4e4e5"/><stop offset="0.6521" stop-color="#ecd2d3"/><stop offset="0.6531" stop-color="#e8c9ca"/><stop offset="0.6542" stop-color="#e2bbbc"/><stop offset="0.6552" stop-color="#d9a6a8"/><stop offset="0.6562" stop-color="#cc8a8c"/><stop offset="0.6573" stop-color="#bb6062"/><stop offset="0.6583" stop-color="#a2272b"/><stop offset="0.6771" stop-color="#a52d31"/><stop offset="0.6781" stop-color="#c87e80"/><stop offset="0.6792" stop-color="#e4c0c1"/><stop offset="0.6802" stop-color="#f7eced"/><stop offset="0.6833" stop-color="#f0dcdd"/><stop offset="0.6844" stop-color="#ddb0b1"/><stop offset="0.6854" stop-color="#c47578"/><stop offset="0.6865" stop-color="#a63134"/><stop offset="0.6875" stop-color="#9a1418"/><stop offset="0.7167" stop-color="#9b171b"/><stop offset="0.7177" stop-color="#b8595c"/><stop offset="0.7187" stop-color="#cc8a8c"/><stop offset="0.7198" stop-color="#daa9ab"/><stop offset="0.7208" stop-color="#e3bdbe"/><stop offset="0.7219" stop-color="#e7c7c8"/><stop offset="0.725" stop-color="#e2bbbd"/><stop offset="0.726" stop-color="#ddb0b1"/><stop offset="0.7271" stop-color="#d7a3a4"/><stop offset="0.7281" stop-color="#d29798"/><stop offset="0.7333" stop-color="#d69ea0"/><stop offset="0.7344" stop-color="#ddafb0"/><stop offset="0.7354" stop-color="#e5c2c3"/><stop offset="0.7365" stop-color="#edd6d7"/><stop offset="0.7375" stop-color="#f6e9e9"/><stop offset="0.7385" stop-color="#fdfafa"/><stop offset="0.7437" stop-color="#ffffff"/><stop offset="0.7448" stop-color="#f3e3e3"/><stop offset="0.7458" stop-color="#e1b8b9"/><stop offset="0.7469" stop-color="#c98284"/><stop offset="0.7479" stop-color="#af4447"/><stop offset="0.749" stop-color="#9a1418"/><stop offset="0.7635" stop-color="#9c1a1e"/><stop offset="0.7646" stop-color="#ba5e61"/><stop offset="0.7656" stop-color="#d49b9d"/><stop offset="0.7667" stop-color="#e9cdce"/><stop offset="0.7677" stop-color="#f8eff0"/><stop offset="0.7708" stop-color="#f4e6e6"/><stop offset="0.7719" stop-color="#e5c3c4"/><stop offset="0.7729" stop-color="#d29798"/><stop offset="0.774" stop-color="#bc6265"/><stop offset="0.775" stop-color="#a32a2e"/><stop offset="0.7948" stop-color="#ab3c3f"/><stop offset="0.7958" stop-color="#c06c6f"/><stop offset="0.7969" stop-color="#d8a4a6"/><stop offset="0.7979" stop-color="#f2e1e1"/><stop offset="0.799" stop-color="#e5ebf6"/><stop offset="0.8" stop-color="#b1c4e5"/><stop offset="0.801" stop-color="#7f9ed4"/><stop offset="0.8021" stop-color="#517bc4"/><stop offset="0.8125" stop-color="#6388ca"/><stop offset="0.8135" stop-color="#89a5d7"/><stop offset="0.8146" stop-color="#adc1e3"/><stop offset="0.8156" stop-color="#ced9ee"/><stop offset="0.8167" stop-color="#e7edf7"/><stop offset="0.8177" stop-color="#f9fafd"/><stop offset="0.8187" stop-color="#ffffff"/><stop offset="0.8208" stop-color="#edf1f9"/><stop offset="0.8219" stop-color="#d9e2f2"/><stop offset="0.8229" stop-color="#bfcee9"/><stop offset="0.824" stop-color="#a1b8df"/><stop offset="0.825" stop-color="#819fd4"/><stop offset="0.826" stop-color="#6086c9"/><stop offset="0.8271" stop-color="#3f6dbe"/><stop offset="0.8625" stop-color="#3f6dbe"/><stop offset="0.8635" stop-color="#6187c9"/><stop offset="0.8646" stop-color="#8faad9"/><stop offset="0.8656" stop-color="#b8c9e7"/><stop offset="0.8667" stop-color="#dae3f2"/><stop offset="0.8677" stop-color="#f2f5fb"/><stop offset="0.8719" stop-color="#e3eaf5"/><stop offset="0.8729" stop-color="#cad6ed"/><stop offset="0.874" stop-color="#abbfe3"/><stop offset="0.875" stop-color="#8aa6d7"/><stop offset="0.876" stop-color="#678bcc"/><stop offset="0.8771" stop-color="#4471c0"/><stop offset="0.8958" stop-color="#3f6dbe"/><stop offset="0.8969" stop-color="#5b82c7"/><stop offset="0.8979" stop-color="#94aedb"/><stop offset="0.899" stop-color="#d2ddf0"/><stop offset="0.9" stop-color="#f6e9e9"/><stop offset="0.901" stop-color="#d59d9f"/><stop offset="0.9021" stop-color="#b65558"/><stop offset="0.9031" stop-color="#9a1519"/><stop offset="0.9115" stop-color="#9a1418"/><stop offset="0.9125" stop-color="#ad4043"/><stop offset="0.9135" stop-color="#c27173"/><stop offset="0.9146" stop-color="#d69fa1"/><stop offset="0.9156" stop-color="#e7c8c9"/><stop offset="0.9167" stop-color="#f5e8e8"/><stop offset="0.9177" stop-color="#fdfbfb"/><stop offset="0.9187" stop-color="#ffffff"/><stop offset="0.9198" stop-color="#f9f1f1"/><stop offset="0.9208" stop-color="#ebd1d2"/><stop offset="0.9219" stop-color="#d8a5a7"/><stop offset="0.9229" stop-color="#c16f72"/><stop offset="0.924" stop-color="#a83437"/><stop offset="0.925" stop-color="#9a1418"/><stop offset="0.9354" stop-color="#9a1418"/><stop offset="0.9365" stop-color="#ba6062"/><stop offset="0.9375" stop-color="#e3bdbe"/><stop offset="0.9385" stop-color="#e8eef7"/><stop offset="0.9396" stop-color="#9fb6de"/><stop offset="0.9406" stop-color="#5c83c8"/><stop offset="0.9417" stop-color="#3f6dbe"/><stop offset="0.949" stop-color="#3f6dbe"/><stop offset="0.95" stop-color="#6086c9"/><stop offset="0.951" stop-color="#89a6d7"/><stop offset="0.9521" stop-color="#b1c4e5"/><stop offset="0.9531" stop-color="#d3def0"/><stop offset="0.9542" stop-color="#eef2f9"/><stop offset="0.9573" stop-color="#f0f4fa"/><stop offset="0.9583" stop-color="#d1dcef"/><stop offset="0.9594" stop-color="#a6bbe1"/><stop offset="0.9604" stop-color="#7394cf"/><stop offset="0.9615" stop-color="#3f6dbe"/><stop offset="0.9719" stop-color="#3f6dbe"/><stop offset="0.9729" stop-color="#5a81c7"/><stop offset="0.974" stop-color="#c1d0ea"/><stop offset="0.975" stop-color="#e7c8c9"/><stop offset="0.976" stop-color="#b04649"/><stop offset="0.9771" stop-color="#9a1418"/><stop offset="0.9868" stop-color="#9a1418"/><stop offset="0.9879" stop-color="#af4447"/><stop offset="0.989" stop-color="#deb2b4"/><stop offset="0.99" stop-color="#e4ebf6"/><stop offset="0.9911" stop-color="#90abda"/><stop offset="0.992" stop-color="#4672c0"/><stop offset="1" stop-color="#3f6dbe"/></linearGradient>
<linearGradient id="rl18" gradientUnits="userSpaceOnUse" x1="39.1" y1="0" x2="1214.3" y2="0"><stop offset="0" stop-color="#b85a5d"/><stop offset="0.0089" stop-color="#b85a5d"/><stop offset="0.01" stop-color="#c77d7f"/><stop offset="0.011" stop-color="#cf8f91"/><stop offset="0.0121" stop-color="#9a1418"/><stop offset="0.026" stop-color="#9a1418"/><stop offset="0.0271" stop-color="#d3999b"/><stop offset="0.0281" stop-color="#d29698"/><stop offset="0.0292" stop-color="#b85a5d"/><stop offset="0.0573" stop-color="#b85a5d"/><stop offset="0.0583" stop-color="#c77c7e"/><stop offset="0.0594" stop-color="#e3bec0"/><stop offset="0.0604" stop-color="#fcf7f7"/><stop offset="0.0615" stop-color="#d09193"/><stop offset="0.0625" stop-color="#a42b2f"/><stop offset="0.0635" stop-color="#9a1418"/><stop offset="0.0844" stop-color="#9a1418"/><stop offset="0.0854" stop-color="#b34f52"/><stop offset="0.0865" stop-color="#d49c9e"/><stop offset="0.0875" stop-color="#f6eaeb"/><stop offset="0.0885" stop-color="#eed7d8"/><stop offset="0.0896" stop-color="#d7a3a5"/><stop offset="0.0906" stop-color="#c37375"/><stop offset="0.0917" stop-color="#b85a5d"/><stop offset="0.1062" stop-color="#b85a5d"/><stop offset="0.1073" stop-color="#c27274"/><stop offset="0.1083" stop-color="#fffefe"/><stop offset="0.1094" stop-color="#9a1418"/><stop offset="0.1406" stop-color="#9a1418"/><stop offset="0.1417" stop-color="#ad3f42"/><stop offset="0.1427" stop-color="#dfb5b7"/><stop offset="0.1437" stop-color="#ffffff"/><stop offset="0.1458" stop-color="#fbf5f5"/><stop offset="0.1469" stop-color="#f2e1e1"/><stop offset="0.1479" stop-color="#d3989a"/><stop offset="0.149" stop-color="#ab3c3f"/><stop offset="0.15" stop-color="#9a1418"/><stop offset="0.1823" stop-color="#9a1418"/><stop offset="0.1833" stop-color="#ba5d60"/><stop offset="0.1844" stop-color="#fffefe"/><stop offset="0.1854" stop-color="#cb8688"/><stop offset="0.1865" stop-color="#b85a5d"/><stop offset="0.2208" stop-color="#ba5f62"/><stop offset="0.2219" stop-color="#cd8b8d"/><stop offset="0.2229" stop-color="#e0b6b7"/><stop offset="0.224" stop-color="#f0ddde"/><stop offset="0.225" stop-color="#ffffff"/><stop offset="0.226" stop-color="#eed8d9"/><stop offset="0.2271" stop-color="#e3bebf"/><stop offset="0.2302" stop-color="#ebd0d1"/><stop offset="0.2312" stop-color="#ffffff"/><stop offset="0.2323" stop-color="#e7c7c7"/><stop offset="0.2333" stop-color="#c37375"/><stop offset="0.2344" stop-color="#b85a5d"/><stop offset="0.325" stop-color="#b85a5d"/><stop offset="0.326" stop-color="#e4bfc0"/><stop offset="0.3271" stop-color="#e7c8c9"/><stop offset="0.3281" stop-color="#af4649"/><stop offset="0.3292" stop-color="#9a1418"/><stop offset="0.3375" stop-color="#a2272b"/><stop offset="0.3385" stop-color="#c77d7f"/><stop offset="0.3396" stop-color="#efdadb"/><stop offset="0.3406" stop-color="#edd4d5"/><stop offset="0.3417" stop-color="#cf8f91"/><stop offset="0.3427" stop-color="#b85a5d"/><stop offset="0.376" stop-color="#b85a5d"/><stop offset="0.3771" stop-color="#c87f81"/><stop offset="0.3781" stop-color="#e1babb"/><stop offset="0.3792" stop-color="#f4e5e5"/><stop offset="0.3802" stop-color="#fefdfd"/><stop offset="0.3812" stop-color="#ffffff"/><stop offset="0.3823" stop-color="#f4e6e7"/><stop offset="0.3833" stop-color="#deb3b4"/><stop offset="0.3844" stop-color="#bf6b6d"/><stop offset="0.4646" stop-color="#c47678"/><stop offset="0.4656" stop-color="#d9a6a8"/><stop offset="0.4667" stop-color="#eacfd0"/><stop offset="0.4677" stop-color="#f7edee"/><stop offset="0.4719" stop-color="#f0dbdc"/><stop offset="0.4729" stop-color="#e1babb"/><stop offset="0.474" stop-color="#d19496"/><stop offset="0.475" stop-color="#c06c6e"/><stop offset="0.4833" stop-color="#bc6466"/><stop offset="0.4844" stop-color="#daaaab"/><stop offset="0.4854" stop-color="#fdfbfb"/><stop offset="0.4865" stop-color="#cb8688"/><stop offset="0.4875" stop-color="#9a1418"/><stop offset="0.5521" stop-color="#9a1418"/><stop offset="0.5531" stop-color="#aa383c"/><stop offset="0.5542" stop-color="#bf6a6d"/><stop offset="0.5552" stop-color="#ce8e90"/><stop offset="0.5583" stop-color="#c87e81"/><stop offset="0.5594" stop-color="#b34d50"/><stop offset="0.5604" stop-color="#9a1418"/><stop offset="0.5719" stop-color="#9a1418"/><stop offset="0.5729" stop-color="#d29697"/><stop offset="0.574" stop-color="#ecd3d3"/><stop offset="0.575" stop-color="#b85a5d"/><stop offset="0.6396" stop-color="#bb6163"/><stop offset="0.6406" stop-color="#cf8f91"/><stop offset="0.6417" stop-color="#e1babb"/><stop offset="0.6427" stop-color="#f2e0e0"/><stop offset="0.6437" stop-color="#ffffff"/><stop offset="0.6448" stop-color="#f1dfdf"/><stop offset="0.6458" stop-color="#e8cacb"/><stop offset="0.6469" stop-color="#e3bebf"/><stop offset="0.651" stop-color="#dcaeaf"/><stop offset="0.6521" stop-color="#d8a4a6"/><stop offset="0.6531" stop-color="#d19395"/><stop offset="0.6542" stop-color="#c57779"/><stop offset="0.6552" stop-color="#b34e51"/><stop offset="0.6562" stop-color="#9a1418"/><stop offset="0.6781" stop-color="#9a1418"/><stop offset="0.6792" stop-color="#c98083"/><stop offset="0.6802" stop-color="#efdada"/><stop offset="0.6813" stop-color="#ffffff"/><stop offset="0.6823" stop-color="#f9f0f1"/><stop offset="0.6833" stop-color="#e1b9bb"/><stop offset="0.6844" stop-color="#bb6063"/><stop offset="0.6854" stop-color="#9a1418"/><stop offset="0.7187" stop-color="#9a1418"/><stop offset="0.7198" stop-color="#b55356"/><stop offset="0.7208" stop-color="#c67b7e"/><stop offset="0.7219" stop-color="#cf8f91"/><stop offset="0.7229" stop-color="#d19395"/><stop offset="0.724" stop-color="#cd8a8c"/><stop offset="0.725" stop-color="#c5787a"/><stop offset="0.726" stop-color="#bb6063"/><stop offset="0.7271" stop-color="#b0464a"/><stop offset="0.7281" stop-color="#a52e32"/><stop offset="0.7292" stop-color="#9d1c1f"/><stop offset="0.7302" stop-color="#9a1418"/><stop offset="0.7323" stop-color="#a12428"/><stop offset="0.7333" stop-color="#ac3e41"/><stop offset="0.7344" stop-color="#ba5f62"/><stop offset="0.7354" stop-color="#cb8587"/><stop offset="0.7365" stop-color="#dcadae"/><stop offset="0.7375" stop-color="#ecd3d4"/><stop offset="0.7385" stop-color="#fbf5f5"/><stop offset="0.7437" stop-color="#ffffff"/><stop offset="0.7448" stop-color="#e7c7c8"/><stop offset="0.7458" stop-color="#c27274"/><stop offset="0.7469" stop-color="#9a1418"/><stop offset="0.7646" stop-color="#9a1418"/><stop offset="0.7656" stop-color="#a9373a"/><stop offset="0.7667" stop-color="#d49a9c"/><stop offset="0.7677" stop-color="#f2e0e0"/><stop offset="0.7687" stop-color="#ffffff"/><stop offset="0.7698" stop-color="#fbf6f6"/><stop offset="0.7708" stop-color="#e9cccd"/><stop offset="0.7719" stop-color="#cc888a"/><stop offset="0.7729" stop-color="#a52e32"/><stop offset="0.774" stop-color="#9a1418"/><stop offset="0.7958" stop-color="#9a1418"/><stop offset="0.7969" stop-color="#b1494c"/><stop offset="0.7979" stop-color="#e5c2c3"/><stop offset="0.799" stop-color="#ecd2d2"/><stop offset="0.8" stop-color="#c6797c"/><stop offset="0.801" stop-color="#b85a5d"/><stop offset="0.8135" stop-color="#b85a5d"/><stop offset="0.8146" stop-color="#c37375"/><stop offset="0.8156" stop-color="#dbaaac"/><stop offset="0.8167" stop-color="#eed7d7"/><stop offset="0.8177" stop-color="#faf4f4"/><stop offset="0.8208" stop-color="#f2e0e1"/><stop offset="0.8219" stop-color="#e3bdbf"/><stop offset="0.8229" stop-color="#d09193"/><stop offset="0.824" stop-color="#ba5e61"/><stop offset="0.8646" stop-color="#b85a5d"/><stop offset="0.8656" stop-color="#cb8688"/><stop offset="0.8667" stop-color="#e4c0c1"/><stop offset="0.8677" stop-color="#f6e9ea"/><stop offset="0.8708" stop-color="#f8eeef"/><stop offset="0.8719" stop-color="#eacfd0"/><stop offset="0.8729" stop-color="#d8a4a5"/><stop offset="0.874" stop-color="#c17072"/><stop offset="0.8979" stop-color="#b85a5d"/><stop offset="0.899" stop-color="#deb2b3"/><stop offset="0.9" stop-color="#ecd3d4"/><stop offset="0.901" stop-color="#ab3b3e"/><stop offset="0.9021" stop-color="#9a1418"/><stop offset="0.9135" stop-color="#9a1418"/><stop offset="0.9146" stop-color="#ad4043"/><stop offset="0.9156" stop-color="#d09193"/><stop offset="0.9167" stop-color="#ebd0d1"/><stop offset="0.9177" stop-color="#fcf7f7"/><stop offset="0.9198" stop-color="#f3e2e3"/><stop offset="0.9208" stop-color="#d8a4a5"/><stop offset="0.9219" stop-color="#b24b4e"/><stop offset="0.9229" stop-color="#9a1418"/><stop offset="0.9365" stop-color="#9a1418"/><stop offset="0.9375" stop-color="#c67b7d"/><stop offset="0.9385" stop-color="#eed8d9"/><stop offset="0.9396" stop-color="#b85a5d"/><stop offset="0.951" stop-color="#b85a5d"/><stop offset="0.9521" stop-color="#c5797b"/><stop offset="0.9531" stop-color="#dfb4b5"/><stop offset="0.9542" stop-color="#f2e1e2"/><stop offset="0.9552" stop-color="#fefcfc"/><stop offset="0.9563" stop-color="#ffffff"/><stop offset="0.9573" stop-color="#f4e5e6"/><stop offset="0.9583" stop-color="#ddb0b2"/><stop offset="0.9594" stop-color="#be6769"/><stop offset="0.9729" stop-color="#b85a5d"/><stop offset="0.974" stop-color="#d19496"/><stop offset="0.975" stop-color="#d09193"/><stop offset="0.976" stop-color="#9a1418"/><stop offset="0.9879" stop-color="#9a1418"/><stop offset="0.989" stop-color="#bd6668"/><stop offset="0.99" stop-color="#ebd1d2"/><stop offset="0.9911" stop-color="#b85a5d"/><stop offset="1" stop-color="#b85a5d"/></linearGradient>
<clipPath id="hc19"><rect x="39.1" y="1017.8" width="176.3" height="21"/></clipPath>
<clipPath id="hc20"><rect x="230.1" y="1017.8" width="293.8" height="21"/></clipPath>
<linearGradient id="rg21" gradientUnits="userSpaceOnUse" x1="39.1" y1="0" x2="1214.3" y2="0"><stop offset="0" stop-color="#9a1418"/><stop offset="0.011" stop-color="#9a1418"/><stop offset="0.0121" stop-color="#b34d50"/><stop offset="0.0132" stop-color="#cb8688"/><stop offset="0.0144" stop-color="#e0b8b9"/><stop offset="0.0155" stop-color="#f2e0e1"/><stop offset="0.0166" stop-color="#fdfbfc"/><stop offset="0.0187" stop-color="#ffffff"/><stop offset="0.0198" stop-color="#f1dedf"/><stop offset="0.0208" stop-color="#d8a5a7"/><stop offset="0.0219" stop-color="#b8595b"/><stop offset="0.0229" stop-color="#9a1418"/><stop offset="0.0573" stop-color="#a12528"/><stop offset="0.0583" stop-color="#aa383c"/><stop offset="0.0594" stop-color="#b34f52"/><stop offset="0.0604" stop-color="#be6769"/><stop offset="0.0615" stop-color="#c87f82"/><stop offset="0.0625" stop-color="#d3989a"/><stop offset="0.0635" stop-color="#ddb0b1"/><stop offset="0.0646" stop-color="#e7c6c7"/><stop offset="0.0656" stop-color="#efdadb"/><stop offset="0.0667" stop-color="#f6ebeb"/><stop offset="0.0677" stop-color="#fcf7f8"/><stop offset="0.074" stop-color="#f2e1e2"/><stop offset="0.075" stop-color="#ecd3d4"/><stop offset="0.076" stop-color="#e6c4c5"/><stop offset="0.0771" stop-color="#dfb5b6"/><stop offset="0.0781" stop-color="#d9a7a8"/><stop offset="0.0792" stop-color="#d49a9c"/><stop offset="0.0948" stop-color="#ca8486"/><stop offset="0.0958" stop-color="#c87e80"/><stop offset="0.0979" stop-color="#c16f72"/><stop offset="0.099" stop-color="#be6769"/><stop offset="0.101" stop-color="#b55356"/><stop offset="0.1021" stop-color="#b0484b"/><stop offset="0.1031" stop-color="#ab3c40"/><stop offset="0.1042" stop-color="#a63033"/><stop offset="0.1052" stop-color="#a02226"/><stop offset="0.1062" stop-color="#9a1418"/><stop offset="0.126" stop-color="#9f2024"/><stop offset="0.1271" stop-color="#b45154"/><stop offset="0.1281" stop-color="#c98183"/><stop offset="0.1292" stop-color="#ddafb1"/><stop offset="0.1302" stop-color="#efdada"/><stop offset="0.1313" stop-color="#ffffff"/><stop offset="0.1323" stop-color="#e2e9f5"/><stop offset="0.1333" stop-color="#c4d2eb"/><stop offset="0.1344" stop-color="#a5bbe1"/><stop offset="0.1354" stop-color="#86a3d6"/><stop offset="0.1365" stop-color="#688ccc"/><stop offset="0.1375" stop-color="#4b76c2"/><stop offset="0.1531" stop-color="#5d84c8"/><stop offset="0.1542" stop-color="#7495d0"/><stop offset="0.1552" stop-color="#8aa6d7"/><stop offset="0.1562" stop-color="#9fb6de"/><stop offset="0.1573" stop-color="#b5c7e6"/><stop offset="0.1583" stop-color="#cedaee"/><stop offset="0.1594" stop-color="#e9eef8"/><stop offset="0.1604" stop-color="#fbf6f6"/><stop offset="0.1615" stop-color="#ecd2d3"/><stop offset="0.1625" stop-color="#dcaeb0"/><stop offset="0.1635" stop-color="#cd8c8d"/><stop offset="0.1646" stop-color="#bf6b6e"/><stop offset="0.1656" stop-color="#b34e51"/><stop offset="0.1667" stop-color="#a83538"/><stop offset="0.1677" stop-color="#a02125"/><stop offset="0.1687" stop-color="#9a1418"/><stop offset="0.175" stop-color="#a32a2e"/><stop offset="0.176" stop-color="#aa383c"/><stop offset="0.1771" stop-color="#b0484b"/><stop offset="0.1781" stop-color="#b8595c"/><stop offset="0.1792" stop-color="#bf6a6c"/><stop offset="0.1802" stop-color="#c67a7c"/><stop offset="0.1812" stop-color="#cc8a8c"/><stop offset="0.1823" stop-color="#d49c9e"/><stop offset="0.1833" stop-color="#dfb5b6"/><stop offset="0.1844" stop-color="#ecd2d3"/><stop offset="0.1854" stop-color="#f9f2f2"/><stop offset="0.1865" stop-color="#eff3fa"/><stop offset="0.1875" stop-color="#d5dff1"/><stop offset="0.1885" stop-color="#bdcde9"/><stop offset="0.1896" stop-color="#aabee2"/><stop offset="0.1906" stop-color="#9bb3dd"/><stop offset="0.1937" stop-color="#9fb6de"/><stop offset="0.1948" stop-color="#b7c8e7"/><stop offset="0.1958" stop-color="#dee6f4"/><stop offset="0.1969" stop-color="#f6ebeb"/><stop offset="0.1979" stop-color="#d8a4a5"/><stop offset="0.199" stop-color="#b65659"/><stop offset="0.2" stop-color="#9a1418"/><stop offset="0.2146" stop-color="#9f1f23"/><stop offset="0.2156" stop-color="#b55255"/><stop offset="0.2167" stop-color="#c57779"/><stop offset="0.2198" stop-color="#c16f71"/><stop offset="0.2208" stop-color="#ab3d40"/><stop offset="0.2219" stop-color="#9a1418"/><stop offset="0.3062" stop-color="#9a1418"/><stop offset="0.3073" stop-color="#a73135"/><stop offset="0.3115" stop-color="#a02327"/><stop offset="0.3125" stop-color="#9a1418"/><stop offset="0.3271" stop-color="#9e1d21"/><stop offset="0.3281" stop-color="#a93639"/><stop offset="0.3292" stop-color="#b45154"/><stop offset="0.3302" stop-color="#c06d6f"/><stop offset="0.3312" stop-color="#cc8a8c"/><stop offset="0.3323" stop-color="#daa9ab"/><stop offset="0.3333" stop-color="#e9cdce"/><stop offset="0.3344" stop-color="#faf4f4"/><stop offset="0.3354" stop-color="#e6ecf7"/><stop offset="0.3365" stop-color="#c3d1eb"/><stop offset="0.3375" stop-color="#9fb6de"/><stop offset="0.3385" stop-color="#7b9bd2"/><stop offset="0.3396" stop-color="#5880c6"/><stop offset="0.3406" stop-color="#3f6dbe"/><stop offset="0.3906" stop-color="#4672c0"/><stop offset="0.3917" stop-color="#5e84c8"/><stop offset="0.3927" stop-color="#7b9bd2"/><stop offset="0.3937" stop-color="#9fb6de"/><stop offset="0.3948" stop-color="#cedaee"/><stop offset="0.3958" stop-color="#f9f2f2"/><stop offset="0.3969" stop-color="#d59d9e"/><stop offset="0.3979" stop-color="#ac3f42"/><stop offset="0.399" stop-color="#9a1418"/><stop offset="0.4188" stop-color="#9a1418"/><stop offset="0.4198" stop-color="#ab3d40"/><stop offset="0.4208" stop-color="#be696b"/><stop offset="0.4219" stop-color="#d29798"/><stop offset="0.4229" stop-color="#e6c5c6"/><stop offset="0.424" stop-color="#f9f1f2"/><stop offset="0.425" stop-color="#e8eef7"/><stop offset="0.426" stop-color="#cad7ed"/><stop offset="0.4271" stop-color="#b1c4e5"/><stop offset="0.4281" stop-color="#9fb6df"/><stop offset="0.4292" stop-color="#95afdb"/><stop offset="0.4312" stop-color="#9fb6de"/><stop offset="0.4323" stop-color="#b9cae7"/><stop offset="0.4333" stop-color="#e6ecf6"/><stop offset="0.4344" stop-color="#edd6d6"/><stop offset="0.4354" stop-color="#c98183"/><stop offset="0.4365" stop-color="#a12427"/><stop offset="0.4521" stop-color="#a73236"/><stop offset="0.4531" stop-color="#c77e80"/><stop offset="0.4542" stop-color="#e2bcbd"/><stop offset="0.4552" stop-color="#f5e9e9"/><stop offset="0.4583" stop-color="#f6ebeb"/><stop offset="0.4594" stop-color="#e8c9ca"/><stop offset="0.4604" stop-color="#d49b9d"/><stop offset="0.4615" stop-color="#bd6567"/><stop offset="0.4625" stop-color="#a32a2e"/><stop offset="0.4781" stop-color="#a9373a"/><stop offset="0.4792" stop-color="#b85a5c"/><stop offset="0.4802" stop-color="#c47678"/><stop offset="0.4813" stop-color="#cc8a8c"/><stop offset="0.4823" stop-color="#d3999a"/><stop offset="0.4833" stop-color="#daa9aa"/><stop offset="0.4844" stop-color="#e0b8b9"/><stop offset="0.4854" stop-color="#e6c6c7"/><stop offset="0.4865" stop-color="#ebd1d2"/><stop offset="0.4917" stop-color="#e5c3c4"/><stop offset="0.4927" stop-color="#dbabac"/><stop offset="0.4937" stop-color="#cc8a8c"/><stop offset="0.4948" stop-color="#b7585b"/><stop offset="0.4958" stop-color="#9a1418"/><stop offset="0.5687" stop-color="#9a1418"/><stop offset="0.5698" stop-color="#a83437"/><stop offset="0.5708" stop-color="#b7575a"/><stop offset="0.5719" stop-color="#c87e81"/><stop offset="0.5729" stop-color="#daa8a9"/><stop offset="0.574" stop-color="#ecd3d4"/><stop offset="0.575" stop-color="#ffffff"/><stop offset="0.576" stop-color="#dbe4f3"/><stop offset="0.5771" stop-color="#b8c9e7"/><stop offset="0.5781" stop-color="#96afdb"/><stop offset="0.5792" stop-color="#7697d1"/><stop offset="0.5802" stop-color="#5981c7"/><stop offset="0.5813" stop-color="#3f6dbe"/><stop offset="0.6135" stop-color="#517bc4"/><stop offset="0.6146" stop-color="#6388ca"/><stop offset="0.6156" stop-color="#7495d0"/><stop offset="0.6167" stop-color="#83a1d5"/><stop offset="0.6177" stop-color="#92acda"/><stop offset="0.6187" stop-color="#9fb6de"/><stop offset="0.626" stop-color="#b4c6e6"/><stop offset="0.6271" stop-color="#b9cae7"/><stop offset="0.6281" stop-color="#c2d1ea"/><stop offset="0.6292" stop-color="#d0dbef"/><stop offset="0.6302" stop-color="#e4eaf6"/><stop offset="0.6312" stop-color="#ffffff"/><stop offset="0.6323" stop-color="#ebd1d2"/><stop offset="0.6333" stop-color="#d29697"/><stop offset="0.6344" stop-color="#b44f52"/><stop offset="0.6354" stop-color="#9a1418"/><stop offset="0.6625" stop-color="#9f2024"/><stop offset="0.6635" stop-color="#bb6264"/><stop offset="0.6646" stop-color="#d59d9e"/><stop offset="0.6656" stop-color="#eacdce"/><stop offset="0.6667" stop-color="#f8f0f0"/><stop offset="0.6698" stop-color="#f2e1e2"/><stop offset="0.6708" stop-color="#daa8aa"/><stop offset="0.6719" stop-color="#b8595b"/><stop offset="0.6729" stop-color="#9a1418"/><stop offset="0.6896" stop-color="#9a1418"/><stop offset="0.6906" stop-color="#b0484b"/><stop offset="0.6917" stop-color="#d49a9c"/><stop offset="0.6927" stop-color="#efd9da"/><stop offset="0.6937" stop-color="#ffffff"/><stop offset="0.6958" stop-color="#fdfdfe"/><stop offset="0.6969" stop-color="#f5e7e8"/><stop offset="0.6979" stop-color="#e4c0c1"/><stop offset="0.699" stop-color="#d09192"/><stop offset="0.7" stop-color="#b95c5f"/><stop offset="0.701" stop-color="#a2272a"/><stop offset="0.7094" stop-color="#aa383c"/><stop offset="0.7104" stop-color="#ce8d8f"/><stop offset="0.7115" stop-color="#f6e9ea"/><stop offset="0.7125" stop-color="#c4d2eb"/><stop offset="0.7135" stop-color="#7b9ad2"/><stop offset="0.7146" stop-color="#3f6dbe"/><stop offset="0.7198" stop-color="#3f6dbe"/><stop offset="0.7208" stop-color="#5b83c8"/><stop offset="0.7219" stop-color="#c4d2eb"/><stop offset="0.7229" stop-color="#ddb0b1"/><stop offset="0.724" stop-color="#9a1418"/><stop offset="0.7417" stop-color="#a02327"/><stop offset="0.7427" stop-color="#be676a"/><stop offset="0.7437" stop-color="#cc8a8c"/><stop offset="0.7448" stop-color="#cc888a"/><stop offset="0.7458" stop-color="#bf6a6d"/><stop offset="0.7469" stop-color="#a83538"/><stop offset="0.7479" stop-color="#9a1418"/><stop offset="0.7635" stop-color="#9a1418"/><stop offset="0.7646" stop-color="#a83438"/><stop offset="0.7656" stop-color="#cb8587"/><stop offset="0.7667" stop-color="#e6c5c6"/><stop offset="0.7677" stop-color="#f8f0f0"/><stop offset="0.7698" stop-color="#f8efef"/><stop offset="0.7708" stop-color="#e5c2c3"/><stop offset="0.7719" stop-color="#c87f82"/><stop offset="0.7729" stop-color="#a42c2f"/><stop offset="0.774" stop-color="#9a1418"/><stop offset="0.7885" stop-color="#9a1418"/><stop offset="0.7896" stop-color="#ac3f42"/><stop offset="0.7906" stop-color="#d69fa1"/><stop offset="0.7917" stop-color="#fbf6f6"/><stop offset="0.7927" stop-color="#cbd7ed"/><stop offset="0.7937" stop-color="#9fb6de"/><stop offset="0.7948" stop-color="#809fd4"/><stop offset="0.7958" stop-color="#698dcc"/><stop offset="0.7969" stop-color="#5981c7"/><stop offset="0.7979" stop-color="#4f79c3"/><stop offset="0.8479" stop-color="#5880c6"/><stop offset="0.849" stop-color="#7e9dd3"/><stop offset="0.85" stop-color="#a5bbe1"/><stop offset="0.851" stop-color="#ccd8ee"/><stop offset="0.8521" stop-color="#f1f4fa"/><stop offset="0.8531" stop-color="#f4e6e7"/><stop offset="0.8542" stop-color="#e4c1c2"/><stop offset="0.8552" stop-color="#d7a1a3"/><stop offset="0.8562" stop-color="#cc8a8c"/><stop offset="0.8594" stop-color="#cf8e90"/><stop offset="0.8604" stop-color="#d7a3a4"/><stop offset="0.8615" stop-color="#e1babb"/><stop offset="0.8625" stop-color="#ebd1d2"/><stop offset="0.8635" stop-color="#f4e5e5"/><stop offset="0.8646" stop-color="#f9f0f0"/><stop offset="0.8667" stop-color="#f2e2e2"/><stop offset="0.8677" stop-color="#e4c1c2"/><stop offset="0.8687" stop-color="#cc8a8c"/><stop offset="0.8698" stop-color="#a83639"/><stop offset="0.8708" stop-color="#9a1418"/><stop offset="0.9208" stop-color="#9a1418"/><stop offset="0.9219" stop-color="#a42b2f"/><stop offset="0.9229" stop-color="#bf6b6e"/><stop offset="0.924" stop-color="#ddb0b1"/><stop offset="0.925" stop-color="#fcf8f8"/><stop offset="0.926" stop-color="#cad7ed"/><stop offset="0.9271" stop-color="#91abda"/><stop offset="0.9281" stop-color="#5b82c7"/><stop offset="0.9292" stop-color="#3f6dbe"/><stop offset="0.9856" stop-color="#3f6dbe"/><stop offset="0.9868" stop-color="#5880c6"/><stop offset="0.9879" stop-color="#7596d0"/><stop offset="0.989" stop-color="#92acda"/><stop offset="0.99" stop-color="#adc1e3"/><stop offset="0.9911" stop-color="#c7d4ec"/><stop offset="0.992" stop-color="#dde5f4"/><stop offset="0.9929" stop-color="#f0f4fa"/><stop offset="1" stop-color="#ffffff"/></linearGradient>
<linearGradient id="rl21" gradientUnits="userSpaceOnUse" x1="39.1" y1="0" x2="1214.3" y2="0"><stop offset="0" stop-color="#9a1418"/><stop offset="0.0132" stop-color="#9a1418"/><stop offset="0.0144" stop-color="#c27073"/><stop offset="0.0155" stop-color="#e4c1c2"/><stop offset="0.0166" stop-color="#fcf8f8"/><stop offset="0.0187" stop-color="#ffffff"/><stop offset="0.0198" stop-color="#e3bebf"/><stop offset="0.0208" stop-color="#b24c4f"/><stop offset="0.0219" stop-color="#9a1418"/><stop offset="0.0615" stop-color="#9a1418"/><stop offset="0.0625" stop-color="#a73135"/><stop offset="0.0635" stop-color="#bb6164"/><stop offset="0.0646" stop-color="#ce8e90"/><stop offset="0.0656" stop-color="#dfb6b7"/><stop offset="0.0667" stop-color="#eed7d7"/><stop offset="0.0677" stop-color="#f8f0f0"/><stop offset="0.0729" stop-color="#f0dcdd"/><stop offset="0.074" stop-color="#e5c3c4"/><stop offset="0.075" stop-color="#d9a7a8"/><stop offset="0.076" stop-color="#cc898b"/><stop offset="0.0771" stop-color="#bf6b6e"/><stop offset="0.0781" stop-color="#b34f52"/><stop offset="0.0792" stop-color="#a83639"/><stop offset="0.0802" stop-color="#a02225"/><stop offset="0.0812" stop-color="#9a1418"/><stop offset="0.1281" stop-color="#9a1418"/><stop offset="0.1292" stop-color="#ba6062"/><stop offset="0.1302" stop-color="#dfb4b6"/><stop offset="0.1313" stop-color="#ffffff"/><stop offset="0.1323" stop-color="#eacdce"/><stop offset="0.1333" stop-color="#d39a9b"/><stop offset="0.1344" stop-color="#bd6567"/><stop offset="0.1562" stop-color="#b85a5d"/><stop offset="0.1573" stop-color="#c88082"/><stop offset="0.1583" stop-color="#dbabac"/><stop offset="0.1594" stop-color="#efdada"/><stop offset="0.1604" stop-color="#f8eeee"/><stop offset="0.1615" stop-color="#d8a5a7"/><stop offset="0.1625" stop-color="#ba5d60"/><stop offset="0.1635" stop-color="#9c181c"/><stop offset="0.1812" stop-color="#9a1418"/><stop offset="0.1823" stop-color="#aa393c"/><stop offset="0.1833" stop-color="#bf6a6d"/><stop offset="0.1844" stop-color="#d8a5a7"/><stop offset="0.1854" stop-color="#f4e5e5"/><stop offset="0.1865" stop-color="#f3e3e4"/><stop offset="0.1875" stop-color="#e0b7b8"/><stop offset="0.1885" stop-color="#cf8f91"/><stop offset="0.1896" stop-color="#c06d6f"/><stop offset="0.1937" stop-color="#b85a5d"/><stop offset="0.1948" stop-color="#ca8486"/><stop offset="0.1958" stop-color="#e6c6c7"/><stop offset="0.1969" stop-color="#eed7d7"/><stop offset="0.1979" stop-color="#b0484b"/><stop offset="0.199" stop-color="#9a1418"/><stop offset="0.3312" stop-color="#9a1418"/><stop offset="0.3323" stop-color="#b55356"/><stop offset="0.3333" stop-color="#d49b9d"/><stop offset="0.3344" stop-color="#f6e9e9"/><stop offset="0.3354" stop-color="#edd4d5"/><stop offset="0.3365" stop-color="#d3989a"/><stop offset="0.3375" stop-color="#b85a5d"/><stop offset="0.3937" stop-color="#b85a5d"/><stop offset="0.3948" stop-color="#dbabac"/><stop offset="0.3958" stop-color="#f4e5e6"/><stop offset="0.3969" stop-color="#aa3a3e"/><stop offset="0.3979" stop-color="#9a1418"/><stop offset="0.4208" stop-color="#9a1418"/><stop offset="0.4219" stop-color="#a52e32"/><stop offset="0.4229" stop-color="#cd8a8c"/><stop offset="0.424" stop-color="#f3e4e4"/><stop offset="0.425" stop-color="#eed8d9"/><stop offset="0.426" stop-color="#d8a5a6"/><stop offset="0.4271" stop-color="#c67a7c"/><stop offset="0.4281" stop-color="#b95b5e"/><stop offset="0.4312" stop-color="#b85a5d"/><stop offset="0.4323" stop-color="#cc888a"/><stop offset="0.4333" stop-color="#edd4d5"/><stop offset="0.4344" stop-color="#dbacae"/><stop offset="0.4354" stop-color="#9a1418"/><stop offset="0.4531" stop-color="#9a1418"/><stop offset="0.4542" stop-color="#c5797b"/><stop offset="0.4552" stop-color="#ecd2d3"/><stop offset="0.4562" stop-color="#ffffff"/><stop offset="0.4573" stop-color="#fefefe"/><stop offset="0.4583" stop-color="#eed7d8"/><stop offset="0.4594" stop-color="#d09395"/><stop offset="0.4604" stop-color="#a9373a"/><stop offset="0.4615" stop-color="#9a1418"/><stop offset="0.4813" stop-color="#9a1418"/><stop offset="0.4823" stop-color="#a73336"/><stop offset="0.4833" stop-color="#b55255"/><stop offset="0.4844" stop-color="#c27173"/><stop offset="0.4854" stop-color="#ce8c8e"/><stop offset="0.4865" stop-color="#d7a3a4"/><stop offset="0.4875" stop-color="#deb3b4"/><stop offset="0.4885" stop-color="#e1babb"/><stop offset="0.4906" stop-color="#d8a5a7"/><stop offset="0.4917" stop-color="#cb8688"/><stop offset="0.4927" stop-color="#b75659"/><stop offset="0.4937" stop-color="#9a1418"/><stop offset="0.5719" stop-color="#9a1418"/><stop offset="0.5729" stop-color="#b45154"/><stop offset="0.574" stop-color="#d9a7a9"/><stop offset="0.575" stop-color="#ffffff"/><stop offset="0.576" stop-color="#e5c2c3"/><stop offset="0.5771" stop-color="#cb8587"/><stop offset="0.5781" stop-color="#b85a5d"/><stop offset="0.6198" stop-color="#bf6b6d"/><stop offset="0.6208" stop-color="#c37477"/><stop offset="0.6271" stop-color="#cc888a"/><stop offset="0.6281" stop-color="#d29798"/><stop offset="0.6292" stop-color="#dcaeb0"/><stop offset="0.6302" stop-color="#ebd0d1"/><stop offset="0.6312" stop-color="#ffffff"/><stop offset="0.6323" stop-color="#d8a3a5"/><stop offset="0.6333" stop-color="#a42c30"/><stop offset="0.6344" stop-color="#9a1418"/><stop offset="0.6635" stop-color="#9a1418"/><stop offset="0.6646" stop-color="#aa3a3e"/><stop offset="0.6656" stop-color="#d49b9d"/><stop offset="0.6667" stop-color="#f2e1e1"/><stop offset="0.6677" stop-color="#fdfbfc"/><stop offset="0.6687" stop-color="#ffffff"/><stop offset="0.6698" stop-color="#e6c4c5"/><stop offset="0.6708" stop-color="#b45154"/><stop offset="0.6719" stop-color="#9a1418"/><stop offset="0.6906" stop-color="#9a1418"/><stop offset="0.6917" stop-color="#a93639"/><stop offset="0.6927" stop-color="#dfb3b5"/><stop offset="0.6937" stop-color="#ffffff"/><stop offset="0.6958" stop-color="#fefcfc"/><stop offset="0.6969" stop-color="#ebd0d0"/><stop offset="0.6979" stop-color="#c98284"/><stop offset="0.699" stop-color="#a02226"/><stop offset="0.7104" stop-color="#9d1b1f"/><stop offset="0.7115" stop-color="#ecd3d4"/><stop offset="0.7125" stop-color="#d49a9c"/><stop offset="0.7135" stop-color="#b85a5d"/><stop offset="0.7208" stop-color="#b85a5d"/><stop offset="0.7219" stop-color="#d39a9b"/><stop offset="0.7229" stop-color="#bb6163"/><stop offset="0.724" stop-color="#9a1418"/><stop offset="0.7656" stop-color="#9a1418"/><stop offset="0.7667" stop-color="#cd8b8d"/><stop offset="0.7677" stop-color="#f2e0e1"/><stop offset="0.7687" stop-color="#ffffff"/><stop offset="0.7698" stop-color="#f1dfdf"/><stop offset="0.7708" stop-color="#cb8688"/><stop offset="0.7719" stop-color="#9a1418"/><stop offset="0.7896" stop-color="#9a1418"/><stop offset="0.7906" stop-color="#ad4043"/><stop offset="0.7917" stop-color="#f7edee"/><stop offset="0.7927" stop-color="#d9a6a7"/><stop offset="0.7937" stop-color="#b85a5d"/><stop offset="0.85" stop-color="#bd6567"/><stop offset="0.851" stop-color="#d9a7a8"/><stop offset="0.8521" stop-color="#f5e7e7"/><stop offset="0.8531" stop-color="#eacdce"/><stop offset="0.8542" stop-color="#c98285"/><stop offset="0.8552" stop-color="#ae4447"/><stop offset="0.8562" stop-color="#9a1418"/><stop offset="0.8594" stop-color="#9e1e22"/><stop offset="0.8604" stop-color="#b0464a"/><stop offset="0.8615" stop-color="#c47678"/><stop offset="0.8625" stop-color="#d8a4a5"/><stop offset="0.8635" stop-color="#e8cacb"/><stop offset="0.8646" stop-color="#f2e1e2"/><stop offset="0.8656" stop-color="#f3e2e2"/><stop offset="0.8667" stop-color="#e6c5c6"/><stop offset="0.8677" stop-color="#ca8385"/><stop offset="0.8687" stop-color="#9a1418"/><stop offset="0.9229" stop-color="#9a1418"/><stop offset="0.924" stop-color="#bb6164"/><stop offset="0.925" stop-color="#f9f0f1"/><stop offset="0.926" stop-color="#d8a4a6"/><stop offset="0.9271" stop-color="#b85a5d"/><stop offset="0.989" stop-color="#b85a5d"/><stop offset="0.99" stop-color="#c37375"/><stop offset="0.9911" stop-color="#d69fa0"/><stop offset="0.992" stop-color="#e6c6c6"/><stop offset="0.9929" stop-color="#f4e6e7"/><stop offset="0.9938" stop-color="#ffffff"/><stop offset="0.9945" stop-color="#f4e6e7"/><stop offset="0.9952" stop-color="#edd6d7"/><stop offset="0.9959" stop-color="#eacdce"/><stop offset="0.9982" stop-color="#f0dbdc"/><stop offset="0.9986" stop-color="#f4e5e5"/><stop offset="0.9994" stop-color="#fbf7f7"/><stop offset="0.9997" stop-color="#fefdfd"/><stop offset="1" stop-color="#ffffff"/></linearGradient>
<linearGradient id="rg22" gradientUnits="userSpaceOnUse" x1="39.1" y1="0" x2="1214.3" y2="0"><stop offset="0" stop-color="#9a1418"/><stop offset="0.0646" stop-color="#9d1c20"/><stop offset="0.0656" stop-color="#ad4043"/><stop offset="0.0667" stop-color="#ba5e61"/><stop offset="0.0677" stop-color="#c5777a"/><stop offset="0.0688" stop-color="#cc8a8c"/><stop offset="0.0698" stop-color="#d19495"/><stop offset="0.0729" stop-color="#cb8587"/><stop offset="0.074" stop-color="#c47679"/><stop offset="0.075" stop-color="#bd6567"/><stop offset="0.076" stop-color="#b55255"/><stop offset="0.0771" stop-color="#ad4043"/><stop offset="0.0781" stop-color="#a52f32"/><stop offset="0.0792" stop-color="#9f2125"/><stop offset="0.0802" stop-color="#9b171b"/><stop offset="0.0865" stop-color="#a2262a"/><stop offset="0.0875" stop-color="#a52e32"/><stop offset="0.0885" stop-color="#aa393c"/><stop offset="0.0896" stop-color="#af4548"/><stop offset="0.0906" stop-color="#b55356"/><stop offset="0.0917" stop-color="#bc6366"/><stop offset="0.0927" stop-color="#c47577"/><stop offset="0.0937" stop-color="#cc8a8c"/><stop offset="0.0948" stop-color="#d7a1a3"/><stop offset="0.0958" stop-color="#e3bdbe"/><stop offset="0.0969" stop-color="#f0dcdd"/><stop offset="0.0979" stop-color="#fffefe"/><stop offset="0.099" stop-color="#e2e9f5"/><stop offset="0.1" stop-color="#c4d2eb"/><stop offset="0.101" stop-color="#a5bbe1"/><stop offset="0.1021" stop-color="#87a4d6"/><stop offset="0.1031" stop-color="#698dcc"/><stop offset="0.1042" stop-color="#4c77c2"/><stop offset="0.1375" stop-color="#5981c7"/><stop offset="0.1385" stop-color="#7c9bd3"/><stop offset="0.1396" stop-color="#9db4de"/><stop offset="0.1406" stop-color="#bccce8"/><stop offset="0.1417" stop-color="#d7e0f1"/><stop offset="0.1427" stop-color="#eef2f9"/><stop offset="0.1562" stop-color="#ffffff"/><stop offset="0.1573" stop-color="#edd6d6"/><stop offset="0.1583" stop-color="#d59e9f"/><stop offset="0.1594" stop-color="#b85b5d"/><stop offset="0.1604" stop-color="#9a1418"/><stop offset="0.1885" stop-color="#9a1418"/><stop offset="0.1896" stop-color="#a42b2f"/><stop offset="0.1906" stop-color="#b95d60"/><stop offset="0.1917" stop-color="#c88082"/><stop offset="0.1937" stop-color="#cc8a8c"/><stop offset="0.1948" stop-color="#bd6669"/><stop offset="0.1958" stop-color="#a22629"/><stop offset="0.2385" stop-color="#9a1418"/><stop offset="0.2396" stop-color="#c06c6e"/><stop offset="0.2406" stop-color="#e0b7b8"/><stop offset="0.2417" stop-color="#f7eded"/><stop offset="0.2438" stop-color="#ffffff"/><stop offset="0.2448" stop-color="#ebcfd0"/><stop offset="0.2458" stop-color="#c67a7c"/><stop offset="0.2469" stop-color="#9a1418"/><stop offset="0.326" stop-color="#9a1418"/><stop offset="0.3271" stop-color="#a62f33"/><stop offset="0.3281" stop-color="#bf6a6d"/><stop offset="0.3292" stop-color="#d49a9c"/><stop offset="0.3302" stop-color="#e3bdbe"/><stop offset="0.3333" stop-color="#e4c0c1"/><stop offset="0.3344" stop-color="#d7a2a4"/><stop offset="0.3354" stop-color="#c5797b"/><stop offset="0.3365" stop-color="#b0484b"/><stop offset="0.3375" stop-color="#9a1418"/><stop offset="0.7031" stop-color="#9f1f23"/><stop offset="0.7042" stop-color="#ce8d8f"/><stop offset="0.7052" stop-color="#efdadb"/><stop offset="0.7062" stop-color="#ffffff"/><stop offset="0.7073" stop-color="#fcf8f8"/><stop offset="0.7083" stop-color="#eacdce"/><stop offset="0.7094" stop-color="#ca8386"/><stop offset="0.7104" stop-color="#a02226"/><stop offset="0.7844" stop-color="#a9373a"/><stop offset="0.7854" stop-color="#b1494c"/><stop offset="0.7865" stop-color="#b7575a"/><stop offset="0.7875" stop-color="#bb6265"/><stop offset="0.7937" stop-color="#b85a5d"/><stop offset="0.7948" stop-color="#b24b4e"/><stop offset="0.7958" stop-color="#a73336"/><stop offset="0.7969" stop-color="#9a1418"/><stop offset="0.8167" stop-color="#a02226"/><stop offset="0.8177" stop-color="#ae4145"/><stop offset="0.8187" stop-color="#b85a5d"/><stop offset="0.8198" stop-color="#c37375"/><stop offset="0.8208" stop-color="#cf8f91"/><stop offset="0.8219" stop-color="#dcafb0"/><stop offset="0.8229" stop-color="#eacecf"/><stop offset="0.824" stop-color="#f7eded"/><stop offset="0.826" stop-color="#e6ecf6"/><stop offset="0.8271" stop-color="#d9e2f2"/><stop offset="0.8302" stop-color="#e5ecf6"/><stop offset="0.8312" stop-color="#ffffff"/><stop offset="0.8323" stop-color="#e9cdcd"/><stop offset="0.8333" stop-color="#cb8688"/><stop offset="0.8344" stop-color="#a63033"/><stop offset="0.8354" stop-color="#9a1418"/><stop offset="1" stop-color="#9a1418"/></linearGradient>
<linearGradient id="rl22" gradientUnits="userSpaceOnUse" x1="39.1" y1="0" x2="1214.3" y2="0"><stop offset="0" stop-color="#9a1418"/><stop offset="0.0698" stop-color="#a3282c"/><stop offset="0.0708" stop-color="#a42b2f"/><stop offset="0.0719" stop-color="#a02125"/><stop offset="0.0729" stop-color="#9a1418"/><stop offset="0.0937" stop-color="#9a1418"/><stop offset="0.0948" stop-color="#ae4447"/><stop offset="0.0958" stop-color="#c67b7d"/><stop offset="0.0969" stop-color="#e1babb"/><stop offset="0.0979" stop-color="#fefdfd"/><stop offset="0.099" stop-color="#eacecf"/><stop offset="0.1" stop-color="#d49a9c"/><stop offset="0.101" stop-color="#bd6668"/><stop offset="0.1396" stop-color="#b85a5d"/><stop offset="0.1406" stop-color="#cd8b8d"/><stop offset="0.1417" stop-color="#e1babb"/><stop offset="0.1427" stop-color="#f2e1e2"/><stop offset="0.1437" stop-color="#ffffff"/><stop offset="0.1448" stop-color="#f4e6e7"/><stop offset="0.15" stop-color="#f1dedf"/><stop offset="0.151" stop-color="#eacecf"/><stop offset="0.1552" stop-color="#efdada"/><stop offset="0.1562" stop-color="#ffffff"/><stop offset="0.1573" stop-color="#dbacae"/><stop offset="0.1583" stop-color="#ab3c40"/><stop offset="0.1594" stop-color="#9a1418"/><stop offset="0.2396" stop-color="#9a1418"/><stop offset="0.2406" stop-color="#c16f72"/><stop offset="0.2417" stop-color="#efdadb"/><stop offset="0.2427" stop-color="#faf4f5"/><stop offset="0.2438" stop-color="#ffffff"/><stop offset="0.2448" stop-color="#d6a0a1"/><stop offset="0.2458" stop-color="#9a1418"/><stop offset="0.3281" stop-color="#9a1418"/><stop offset="0.3292" stop-color="#a93639"/><stop offset="0.3302" stop-color="#c67c7e"/><stop offset="0.3312" stop-color="#d7a1a3"/><stop offset="0.3323" stop-color="#d7a2a4"/><stop offset="0.3333" stop-color="#c98184"/><stop offset="0.3344" stop-color="#af4548"/><stop offset="0.3354" stop-color="#9a1418"/><stop offset="0.7042" stop-color="#9d1b1f"/><stop offset="0.7052" stop-color="#e0b6b7"/><stop offset="0.7062" stop-color="#ffffff"/><stop offset="0.7073" stop-color="#f9f2f2"/><stop offset="0.7083" stop-color="#d49b9d"/><stop offset="0.7094" stop-color="#9a1418"/><stop offset="0.8208" stop-color="#9f2024"/><stop offset="0.8219" stop-color="#ba5e61"/><stop offset="0.8229" stop-color="#d59e9f"/><stop offset="0.824" stop-color="#efdadb"/><stop offset="0.825" stop-color="#faf3f3"/><stop offset="0.826" stop-color="#ecd4d4"/><stop offset="0.8271" stop-color="#e3bec0"/><stop offset="0.8281" stop-color="#dfb5b7"/><stop offset="0.8292" stop-color="#e2bcbd"/><stop offset="0.8302" stop-color="#ecd3d4"/><stop offset="0.8312" stop-color="#ffffff"/><stop offset="0.8323" stop-color="#d49a9c"/><stop offset="0.8333" stop-color="#9a1418"/><stop offset="1" stop-color="#9a1418"/></linearGradient>
<linearGradient id="rg23" gradientUnits="userSpaceOnUse" x1="39.1" y1="0" x2="259.4" y2="0"><stop offset="0" stop-color="#9a1418"/><stop offset="1" stop-color="#9a1418"/></linearGradient>
<linearGradient id="rl23" gradientUnits="userSpaceOnUse" x1="39.1" y1="0" x2="259.4" y2="0"><stop offset="0" stop-color="#9a1418"/><stop offset="1" stop-color="#9a1418"/></linearGradient></defs>
<text x="-0.6" y="24.1" class="pl">A</text>
<text x="0.6" y="750.2" class="pl">B</text>
<g transform="scale(1.2,0.95)">
<text x="45.42" y="29.68" class="aa">G</text>
<text x="57.62" y="29.68" class="aa">I</text>
<text x="69.82" y="29.68" class="aa">I</text>
<text x="82.02" y="29.68" class="aa">N</text>
<text x="94.23" y="29.68" class="aa">T</text>
<text x="106.43" y="29.68" class="aa">L</text>
<text x="118.63" y="29.68" class="aa">Q</text>
<text x="130.83" y="29.68" class="aa">K</text>
<text x="143.04" y="29.68" class="aa">Y</text>
<text x="155.24" y="29.68" class="aa">Y</text>
<text x="167.44" y="29.68" class="aa">C</text>
<text x="179.64" y="29.68" class="aa">R</text>
<text x="191.85" y="29.68" class="aa">V</text>
<text x="204.05" y="29.68" class="aa">R</text>
<text x="216.25" y="29.68" class="aa">C</text>
<text x="228.45" y="29.68" class="aa">A</text>
<text x="240.66" y="29.68" class="aa">V</text>
<text x="252.86" y="29.68" class="aa">L</text>
<text x="265.06" y="29.68" class="aa">S</text>
<text x="277.26" y="29.68" class="aa">C</text>
<text x="289.47" y="29.68" class="aa">L</text>
<text x="301.67" y="29.68" class="aa">P</text>
<text x="313.87" y="29.68" class="aa">K</text>
<text x="326.07" y="29.68" class="aa">E</text>
<text x="338.28" y="29.68" class="aa">E</text>
<text x="350.48" y="29.68" class="aa">Q</text>
<text x="362.68" y="29.68" class="aa">I</text>
<text x="374.88" y="29.68" class="aa">G</text>
<text x="387.09" y="29.68" class="aa">K</text>
<text x="399.29" y="29.68" class="aa">C</text>
<text x="411.49" y="29.68" class="aa">S</text>
<text x="423.69" y="29.68" class="aa">T</text>
<text x="435.90" y="29.68" class="aa">R</text>
<text x="448.10" y="29.68" class="aa">G</text>
<text x="460.30" y="29.68" class="aa">R</text>
<text x="472.50" y="29.68" class="aa">K</text>
<text x="484.71" y="29.68" class="aa">C</text>
<text x="496.91" y="29.68" class="aa">C</text>
<text x="509.11" y="29.68" class="aa">R</text>
<text x="521.31" y="29.68" class="aa">R</text>
<text x="533.52" y="29.68" class="aa">K</text>
<text x="545.72" y="29.68" class="aa">K</text>
<text x="557.92" y="29.68" class="aa">E</text>
<text x="570.12" y="29.68" class="aa">A</text>
<text x="582.33" y="29.68" class="aa">A</text>
<text x="594.53" y="29.68" class="aa">A</text>
<text x="606.73" y="29.68" class="aa">K</text>
<text x="618.93" y="29.68" class="aa">A</text>
<text x="631.14" y="29.68" class="aa">K</text>
<text x="643.34" y="29.68" class="aa">F</text>
<text x="655.54" y="29.68" class="aa">V</text>
<text x="667.74" y="29.68" class="aa">A</text>
<text x="679.95" y="29.68" class="aa">A</text>
<text x="692.15" y="29.68" class="aa">W</text>
<text x="704.35" y="29.68" class="aa">T</text>
<text x="716.55" y="29.68" class="aa">L</text>
<text x="728.76" y="29.68" class="aa">K</text>
<text x="740.96" y="29.68" class="aa">A</text>
<text x="753.16" y="29.68" class="aa">A</text>
<text x="765.36" y="29.68" class="aa">A</text>
<text x="777.57" y="29.68" class="aa">G</text>
<text x="789.77" y="29.68" class="aa">G</text>
<text x="801.97" y="29.68" class="aa">G</text>
<text x="814.17" y="29.68" class="aa">S</text>
<text x="826.38" y="29.68" class="aa">V</text>
<text x="838.58" y="29.68" class="aa">F</text>
<text x="850.78" y="29.68" class="aa">T</text>
<text x="862.98" y="29.68" class="aa">V</text>
<text x="875.19" y="29.68" class="aa">V</text>
<text x="887.39" y="29.68" class="aa">C</text>
<text x="899.59" y="29.68" class="aa">A</text>
<text x="911.79" y="29.68" class="aa">I</text>
<text x="924.00" y="29.68" class="aa">T</text>
<text x="936.20" y="29.68" class="aa">L</text>
<text x="948.40" y="29.68" class="aa">A</text>
<text x="960.60" y="29.68" class="aa">A</text>
<text x="972.81" y="29.68" class="aa">Y</text>
<text x="985.01" y="29.68" class="aa">G</text>
<text x="997.21" y="29.68" class="aa">T</text>
<text x="1009.41" y="29.68" class="aa">N</text>
</g>
<path fill="url(#rg1)" d="M47.2,48.4 L47.2,37.3 C48.4,37.3 50.8,36.6 54.5,37.3 C58.2,38 64.3,40.7 69.1,41.7 C74,42.8 78.9,43.6 83.8,43.6 C88.7,43.6 93.5,41.7 98.4,41.7 C103.3,41.7 108.2,43 113.1,43.6 C118,44.2 122.8,45.2 127.7,45.4 C132.6,45.6 137.5,44.8 142.4,44.6 C147.2,44.4 152.1,44.1 157,44.1 C161.9,44.2 166.8,44.5 171.6,44.9 C176.5,45.3 181.4,46 186.3,46.6 C191.2,47.2 196,48.7 200.9,48.4 C205.8,48.1 210.7,44.8 215.6,44.6 C220.5,44.4 225.3,46.9 230.2,47.1 C235.1,47.4 240,45.9 244.9,46.1 C249.7,46.3 254.6,48.2 259.5,48.4 C264.4,48.6 269.3,47.6 274.1,47.4 C279,47.2 283.9,47.4 288.8,47.1 C293.7,46.9 298.6,46.7 303.4,45.9 C308.3,45.1 313.2,42.2 318.1,42.2 C323,42.2 327.8,45.2 332.7,46.1 C337.6,47.1 342.5,48.2 347.4,47.9 C352.2,47.7 357.1,45.8 362,44.6 C366.9,43.4 371.8,41.7 376.6,40.9 C381.5,40.1 386.4,39.7 391.3,39.7 C396.2,39.7 401.1,40.2 405.9,40.7 C410.8,41.2 415.7,41.8 420.6,42.4 C425.5,43 430.3,43.8 435.2,44.1 C440.1,44.4 445,44.5 449.9,44.1 C454.7,43.7 459.6,41 464.5,41.7 C469.4,42.4 474.3,48.1 479.1,48.4 C484,48.7 488.9,44.6 493.8,43.6 C498.7,42.7 503.6,42.9 508.4,42.7 C513.3,42.5 518.2,42.1 523.1,42.2 C528,42.4 532.8,43.4 537.7,43.6 C542.6,43.8 547.5,43.7 552.4,43.6 C557.2,43.5 562.1,42.5 567,43.2 C571.9,43.9 576.8,47.2 581.6,47.9 C586.5,48.6 591.4,48.3 596.3,47.6 C601.2,46.9 606.1,44.3 610.9,43.6 C615.8,42.9 620.7,43.5 625.6,43.6 C630.5,43.7 635.3,44.2 640.2,44.1 C645.1,44 650,43.3 654.9,43.2 C659.7,43.1 664.6,43.3 669.5,43.6 C674.4,43.9 679.3,44.8 684.1,45.1 C689,45.4 693.9,45.3 698.8,45.4 C703.7,45.5 708.6,45.9 713.4,45.6 C718.3,45.3 723.2,43.6 728.1,43.6 C733,43.7 737.8,46.1 742.7,45.9 C747.6,45.8 752.5,42.8 757.4,42.7 C762.2,42.7 767.1,44.7 772,45.6 C776.9,46.6 781.8,47.9 786.7,48.4 C791.5,48.9 796.4,48.4 801.3,48.4 C806.2,48.4 811.1,48.7 815.9,48.6 C820.8,48.6 825.7,48.6 830.6,48.1 C835.5,47.6 840.3,46.2 845.2,45.9 C850.1,45.7 855,47 859.9,46.6 C864.7,46.2 869.6,43.4 874.5,43.6 C879.4,43.8 884.3,47.3 889.2,47.9 C894,48.5 898.9,47.5 903.8,47.1 C908.7,46.7 913.6,45.9 918.4,45.6 C923.3,45.4 928.2,45.4 933.1,45.6 C938,45.8 942.8,46.3 947.7,46.6 C952.6,46.9 957.5,47.3 962.4,47.6 C967.2,47.9 972.1,48 977,48.4 C981.9,48.8 986.8,49.8 991.7,50.1 C996.5,50.4 1001.4,50.1 1006.3,50.1 C1011.2,50 1016.1,49.7 1020.9,49.8 C1025.8,50 1030.7,50.6 1035.6,50.9 C1040.5,51.2 1045.3,51.4 1050.2,51.5 C1055.1,51.7 1060,51.9 1064.9,51.9 C1069.7,51.9 1074.6,51.7 1079.5,51.5 C1084.4,51.4 1089.3,51.4 1094.2,50.9 C1099,50.4 1103.9,48.8 1108.8,48.6 C1113.7,48.5 1118.6,50 1123.4,50.1 C1128.3,50.2 1133.2,49.5 1138.1,49.2 C1143,49 1147.8,48.8 1152.7,48.4 C1157.6,48 1162.5,47.5 1167.4,47.1 C1172.2,46.7 1177.1,46.2 1182,45.9 C1186.9,45.6 1191.8,45.8 1196.7,45.1 C1201.5,44.4 1207.6,42.3 1211.3,41.7 C1215,41.1 1217.4,41.7 1218.6,41.7 L1218.6,48.4 Z"/>
<rect x="47.2" y="47.3" width="1171.4" height="1.1" fill="url(#rl1)"/>
<rect x="47.2" y="68.3" width="58.6" height="4" fill="#CE2E96"/>
<rect x="310.8" y="68.3" width="278.2" height="4" fill="#CE2E96"/>
<rect x="911.1" y="68.3" width="307.5" height="4" fill="#CE2E96"/>
<g clip-path="url(#hc2)"><path fill="#F26522" d="M114.6,80.3 L116.6,80.3 Q118.7,80.3 119.9,78.5 L129.1,64.5 L127.3,60.3 L124.3,60.3 Q122.1,60.3 121.1,62.3 L114.4,76.1 L112.6,76.1 Z"/><path fill="#F26522" d="M143.9,80.3 L145.9,80.3 Q148,80.3 149.2,78.5 L158.4,64.5 L156.6,60.3 L153.6,60.3 Q151.4,60.3 150.4,62.3 L143.7,76.1 L141.9,76.1 Z"/><path fill="#F26522" d="M173.2,80.3 L175.2,80.3 Q177.2,80.3 178.5,78.5 L187.6,64.5 L185.8,60.3 L182.8,60.3 Q180.6,60.3 179.7,62.3 L172.9,76.1 L171.2,76.1 Z"/><path fill="#F26522" d="M202.4,80.3 L204.5,80.3 Q206.5,80.3 207.7,78.5 L216.9,64.5 L215.1,60.3 L212.1,60.3 Q209.9,60.3 209,62.3 L202.2,76.1 L200.4,76.1 Z"/><path fill="#F26522" d="M231.7,80.3 L233.8,80.3 Q235.8,80.3 237,78.5 L246.2,64.5 L244.4,60.3 L241.4,60.3 Q239.2,60.3 238.3,62.3 L231.5,76.1 L229.7,76.1 Z"/><path fill="#F26522" d="M261,80.3 L263.1,80.3 Q265.1,80.3 266.3,78.5 L275.5,64.5 L273.7,60.3 L270.7,60.3 Q268.5,60.3 267.5,62.3 L260.8,76.1 L259,76.1 Z"/><path fill="#F26522" d="M290.3,80.3 L292.3,80.3 Q294.4,80.3 295.6,78.5 L304.8,64.5 L303,60.3 L300,60.3 Q297.8,60.3 296.8,62.3 L290.1,76.1 L288.3,76.1 Z"/><path fill="#F7941D" d="M105.8,68.3 L114.2,76.1 L116.3,80.3 L113.3,80.3 Q110.3,80.3 108.3,76.9 L105.8,72.3 Z"/><path fill="#F7941D" d="M126.8,60.3 L132.4,60.3 Q134.4,60.3 135.3,62.1 L144.4,80.3 L138.8,80.3 Q136.8,80.3 135.9,78.6 Z"/><path fill="#F7941D" d="M156.1,60.3 L161.7,60.3 Q163.7,60.3 164.6,62.1 L173.7,80.3 L168.1,80.3 Q166.1,80.3 165.2,78.6 Z"/><path fill="#F7941D" d="M185.3,60.3 L190.9,60.3 Q192.9,60.3 193.8,62.1 L202.9,80.3 L197.3,80.3 Q195.3,80.3 194.4,78.6 Z"/><path fill="#F7941D" d="M214.6,60.3 L220.2,60.3 Q222.2,60.3 223.1,62.1 L232.2,80.3 L226.6,80.3 Q224.6,80.3 223.7,78.6 Z"/><path fill="#F7941D" d="M243.9,60.3 L249.5,60.3 Q251.5,60.3 252.4,62.1 L261.5,80.3 L255.9,80.3 Q253.9,80.3 253,78.6 Z"/><path fill="#F7941D" d="M273.2,60.3 L278.8,60.3 Q280.8,60.3 281.7,62.1 L290.8,80.3 L285.2,80.3 Q283.2,80.3 282.3,78.6 Z"/><path fill="#F7941D" d="M310.8,72.3 L302.3,64.5 L300.2,60.3 L303.2,60.3 Q306.3,60.3 308.2,63.8 L310.8,68.3 Z"/></g>
<g clip-path="url(#hc3)"><path fill="#F26522" d="M597.8,80.3 L599.8,80.3 Q601.9,80.3 603.1,78.5 L612.3,64.5 L610.5,60.3 L607.5,60.3 Q605.3,60.3 604.3,62.3 L597.6,76.1 L595.8,76.1 Z"/><path fill="#F26522" d="M627.1,80.3 L629.1,80.3 Q631.2,80.3 632.4,78.5 L641.6,64.5 L639.8,60.3 L636.8,60.3 Q634.6,60.3 633.6,62.3 L626.9,76.1 L625.1,76.1 Z"/><path fill="#F26522" d="M656.4,80.3 L658.4,80.3 Q660.5,80.3 661.7,78.5 L670.9,64.5 L669.1,60.3 L666.1,60.3 Q663.9,60.3 662.9,62.3 L656.2,76.1 L654.4,76.1 Z"/><path fill="#F26522" d="M685.7,80.3 L687.7,80.3 Q689.7,80.3 691,78.5 L700.1,64.5 L698.3,60.3 L695.3,60.3 Q693.1,60.3 692.2,62.3 L685.4,76.1 L683.7,76.1 Z"/><path fill="#F26522" d="M714.9,80.3 L717,80.3 Q719,80.3 720.2,78.5 L729.4,64.5 L727.6,60.3 L724.6,60.3 Q722.4,60.3 721.5,62.3 L714.7,76.1 L712.9,76.1 Z"/><path fill="#F26522" d="M744.2,80.3 L746.3,80.3 Q748.3,80.3 749.5,78.5 L758.7,64.5 L756.9,60.3 L753.9,60.3 Q751.7,60.3 750.8,62.3 L744,76.1 L742.2,76.1 Z"/><path fill="#F26522" d="M773.5,80.3 L775.6,80.3 Q777.6,80.3 778.8,78.5 L788,64.5 L786.2,60.3 L783.2,60.3 Q781,60.3 780,62.3 L773.3,76.1 L771.5,76.1 Z"/><path fill="#F26522" d="M802.8,80.3 L804.9,80.3 Q806.9,80.3 808.1,78.5 L817.3,64.5 L815.5,60.3 L812.5,60.3 Q810.3,60.3 809.3,62.3 L802.6,76.1 L800.8,76.1 Z"/><path fill="#F26522" d="M832.1,80.3 L834.1,80.3 Q836.2,80.3 837.4,78.5 L846.6,64.5 L844.8,60.3 L841.8,60.3 Q839.6,60.3 838.6,62.3 L831.9,76.1 L830.1,76.1 Z"/><path fill="#F26522" d="M861.4,80.3 L863.4,80.3 Q865.5,80.3 866.7,78.5 L875.9,64.5 L874.1,60.3 L871.1,60.3 Q868.9,60.3 867.9,62.3 L861.2,76.1 L859.4,76.1 Z"/><path fill="#F26522" d="M890.7,80.3 L892.7,80.3 Q894.8,80.3 896,78.5 L905.2,64.5 L903.4,60.3 L900.4,60.3 Q898.2,60.3 897.2,62.3 L890.5,76.1 L888.7,76.1 Z"/><path fill="#F7941D" d="M589,68.3 L597.4,76.1 L599.5,80.3 L596.5,80.3 Q593.5,80.3 591.5,76.9 L589,72.3 Z"/><path fill="#F7941D" d="M610,60.3 L615.6,60.3 Q617.6,60.3 618.5,62.1 L627.6,80.3 L622,80.3 Q620,80.3 619.1,78.6 Z"/><path fill="#F7941D" d="M639.3,60.3 L644.9,60.3 Q646.9,60.3 647.8,62.1 L656.9,80.3 L651.3,80.3 Q649.3,80.3 648.4,78.6 Z"/><path fill="#F7941D" d="M668.6,60.3 L674.2,60.3 Q676.2,60.3 677.1,62.1 L686.2,80.3 L680.6,80.3 Q678.6,80.3 677.7,78.6 Z"/><path fill="#F7941D" d="M697.8,60.3 L703.4,60.3 Q705.4,60.3 706.3,62.1 L715.4,80.3 L709.8,80.3 Q707.8,80.3 707,78.6 Z"/><path fill="#F7941D" d="M727.1,60.3 L732.7,60.3 Q734.7,60.3 735.6,62.1 L744.7,80.3 L739.1,80.3 Q737.1,80.3 736.2,78.6 Z"/><path fill="#F7941D" d="M756.4,60.3 L762,60.3 Q764,60.3 764.9,62.1 L774,80.3 L768.4,80.3 Q766.4,80.3 765.5,78.6 Z"/><path fill="#F7941D" d="M785.7,60.3 L791.3,60.3 Q793.3,60.3 794.2,62.1 L803.3,80.3 L797.7,80.3 Q795.7,80.3 794.8,78.6 Z"/><path fill="#F7941D" d="M815,60.3 L820.6,60.3 Q822.6,60.3 823.5,62.1 L832.6,80.3 L827,80.3 Q825,80.3 824.1,78.6 Z"/><path fill="#F7941D" d="M844.3,60.3 L849.9,60.3 Q851.9,60.3 852.8,62.1 L861.9,80.3 L856.3,80.3 Q854.3,80.3 853.4,78.6 Z"/><path fill="#F7941D" d="M873.6,60.3 L879.2,60.3 Q881.2,60.3 882.1,62.1 L891.2,80.3 L885.6,80.3 Q883.6,80.3 882.7,78.6 Z"/><path fill="#F7941D" d="M911.1,72.3 L902.7,64.5 L900.6,60.3 L903.6,60.3 Q906.6,60.3 908.6,63.8 L911.1,68.3 Z"/></g>
<path fill="#62288D" d="M984.3,64.3 L1152,64.3 L1152,60.7 L1160,70.3 L1152,79.9 L1152,76.4 L984.3,76.4 Z"/>
<path fill="#666666" d="M47.2,91.5 C48.4,91.5 50.8,91.2 54.5,91.5 C58.2,91.8 64.3,92.9 69.1,93.4 C74,93.8 78.9,93.9 83.8,94.1 C88.7,94.3 93.5,94.4 98.4,94.6 C103.3,94.8 108.2,95.1 113.1,95.3 C118,95.5 122.8,95.8 127.7,96 C132.6,96.1 137.5,96.3 142.4,96.4 C147.2,96.5 152.1,96.4 157,96.4 C161.9,96.4 166.8,96.4 171.6,96.4 C176.5,96.4 181.4,96.4 186.3,96.4 C191.2,96.4 196,96.4 200.9,96.4 C205.8,96.4 210.7,96.4 215.6,96.4 C220.5,96.4 225.3,96.4 230.2,96.4 C235.1,96.4 240,96.4 244.9,96.4 C249.7,96.4 254.6,96.4 259.5,96.4 C264.4,96.4 269.3,96.4 274.1,96.4 C279,96.4 283.9,96.4 288.8,96.4 C293.7,96.4 298.6,96.4 303.4,96.4 C308.3,96.4 313.2,96.4 318.1,96.4 C323,96.3 327.8,96.3 332.7,96.2 C337.6,96.2 342.5,96.2 347.4,96 C352.2,95.7 357.1,95.3 362,95 C366.9,94.6 371.8,94.2 376.6,94 C381.5,93.7 386.4,93.6 391.3,93.5 C396.2,93.3 401.1,93.2 405.9,93.2 C410.8,93.2 415.7,93.2 420.6,93.2 C425.5,93.2 430.3,93 435.2,93 C440.1,93 445,93.1 449.9,93.2 C454.7,93.3 459.6,93.6 464.5,93.7 C469.4,93.8 474.3,94 479.1,94 C484,93.9 488.9,93.5 493.8,93.5 C498.7,93.4 503.6,93.5 508.4,93.5 C513.3,93.5 518.2,93.5 523.1,93.6 C528,93.7 532.8,93.8 537.7,93.9 C542.6,94 547.5,94.1 552.4,94.2 C557.2,94.4 562.1,94.5 567,94.5 C571.9,94.6 576.8,94.6 581.6,94.7 C586.5,94.8 591.4,94.9 596.3,95 C601.2,95 606.1,95.1 610.9,95.2 C615.8,95.2 620.7,95.2 625.6,95.2 C630.5,95.3 635.3,95.4 640.2,95.5 C645.1,95.5 650,95.5 654.9,95.5 C659.7,95.6 664.6,95.6 669.5,95.7 C674.4,95.7 679.3,95.8 684.1,95.8 C689,95.8 693.9,95.9 698.8,95.9 C703.7,95.9 708.6,96 713.4,96 C718.3,96.1 723.2,96.1 728.1,96.2 C733,96.2 737.8,96.2 742.7,96.2 C747.6,96.3 752.5,96.3 757.4,96.4 C762.2,96.4 767.1,96.4 772,96.4 C776.9,96.4 781.8,96.4 786.7,96.4 C791.5,96.4 796.4,96.4 801.3,96.4 C806.2,96.4 811.1,96.4 815.9,96.4 C820.8,96.4 825.7,96.4 830.6,96.4 C835.5,96.4 840.3,96.4 845.2,96.4 C850.1,96.4 855,96.4 859.9,96.4 C864.7,96.4 869.6,96.4 874.5,96.4 C879.4,96.4 884.3,96.4 889.2,96.4 C894,96.4 898.9,96.4 903.8,96.4 C908.7,96.4 913.6,96.4 918.4,96.4 C923.3,96.4 928.2,96.4 933.1,96.4 C938,96.4 942.8,96.4 947.7,96.4 C952.6,96.4 957.5,96.4 962.4,96.4 C967.2,96.4 972.1,96.4 977,96.4 C981.9,96.4 986.8,96.4 991.7,96.4 C996.5,96.4 1001.4,96.4 1006.3,96.4 C1011.2,96.4 1016.1,96.4 1020.9,96.4 C1025.8,96.4 1030.7,96.4 1035.6,96.4 C1040.5,96.4 1045.3,96.4 1050.2,96.4 C1055.1,96.4 1060,96.4 1064.9,96.4 C1069.7,96.4 1074.6,96.4 1079.5,96.4 C1084.4,96.4 1089.3,96.4 1094.2,96.4 C1099,96.4 1103.9,96.4 1108.8,96.4 C1113.7,96.4 1118.6,96.4 1123.4,96.4 C1128.3,96.4 1133.2,96.4 1138.1,96.4 C1143,96.4 1147.8,96.4 1152.7,96.4 C1157.6,96.4 1162.5,96.4 1167.4,96.4 C1172.2,96.4 1177.1,96.4 1182,96.4 C1186.9,96.4 1191.8,96.4 1196.7,96.4 C1201.5,96.4 1207.6,96.4 1211.3,96.4 C1215,96.4 1217.4,96.4 1218.6,96.4 L1218.6,98 C1217.4,98 1215,98 1211.3,98 C1207.6,98 1201.5,98 1196.7,98 C1191.8,98 1186.9,98 1182,98 C1177.1,98 1172.2,98 1167.4,98 C1162.5,98 1157.6,98 1152.7,98 C1147.8,98 1143,98 1138.1,98 C1133.2,98 1128.3,98 1123.4,98 C1118.6,98 1113.7,98 1108.8,98 C1103.9,98 1099,98 1094.2,98 C1089.3,98 1084.4,98 1079.5,98 C1074.6,98 1069.7,98 1064.9,98 C1060,98 1055.1,98 1050.2,98 C1045.3,98 1040.5,98 1035.6,98 C1030.7,98 1025.8,98 1020.9,98 C1016.1,98 1011.2,98 1006.3,98 C1001.4,98 996.5,98 991.7,98 C986.8,98 981.9,98 977,98 C972.1,98 967.2,98 962.4,98 C957.5,98 952.6,98 947.7,98 C942.8,98 938,98 933.1,98 C928.2,98 923.3,98 918.4,98 C913.6,98 908.7,98 903.8,98 C898.9,98 894,98 889.2,98 C884.3,98 879.4,98 874.5,98 C869.6,98 864.7,98 859.9,98 C855,98 850.1,98 845.2,98 C840.3,98 835.5,98 830.6,98 C825.7,98 820.8,98 815.9,98 C811.1,98 806.2,98 801.3,98 C796.4,98 791.5,98 786.7,98 C781.8,98 776.9,98 772,98 C767.1,98 762.2,98 757.4,98 C752.5,98.1 747.6,98.1 742.7,98.2 C737.8,98.2 733,98.2 728.1,98.2 C723.2,98.3 718.3,98.3 713.4,98.4 C708.6,98.4 703.7,98.5 698.8,98.5 C693.9,98.5 689,98.6 684.1,98.6 C679.3,98.6 674.4,98.7 669.5,98.8 C664.6,98.8 659.7,98.8 654.9,98.9 C650,98.9 645.1,98.9 640.2,99 C635.3,99 630.5,99.1 625.6,99.2 C620.7,99.2 615.8,99.2 610.9,99.2 C606.1,99.3 601.2,99.4 596.3,99.5 C591.4,99.5 586.5,99.6 581.6,99.7 C576.8,99.8 571.9,99.8 567,99.9 C562.1,99.9 557.2,100 552.4,100.2 C547.5,100.3 542.6,100.4 537.7,100.5 C532.8,100.6 528,100.7 523.1,100.8 C518.2,100.9 513.3,100.9 508.4,100.9 C503.6,100.9 498.7,101 493.8,101 C488.9,100.9 484,100.5 479.1,100.5 C474.3,100.4 469.4,100.6 464.5,100.7 C459.6,100.8 454.7,101.1 449.9,101.2 C445,101.3 440.1,101.4 435.2,101.4 C430.3,101.4 425.5,101.2 420.6,101.2 C415.7,101.2 410.8,101.2 405.9,101.2 C401.1,101.2 396.2,101.1 391.3,101 C386.4,100.8 381.5,100.7 376.6,100.5 C371.8,100.2 366.9,99.8 362,99.5 C357.1,99.1 352.2,98.7 347.4,98.5 C342.5,98.2 337.6,98.2 332.7,98.2 C327.8,98.1 323,98.1 318.1,98 C313.2,98 308.3,98 303.4,98 C298.6,98 293.7,98 288.8,98 C283.9,98 279,98 274.1,98 C269.3,98 264.4,98 259.5,98 C254.6,98 249.7,98 244.9,98 C240,98 235.1,98 230.2,98 C225.3,98 220.5,98 215.6,98 C210.7,98 205.8,98 200.9,98 C196,98 191.2,98 186.3,98 C181.4,98 176.5,98 171.6,98 C166.8,98 161.9,98 157,98 C152.1,98 147.2,97.9 142.4,98 C137.5,98.1 132.6,98.3 127.7,98.5 C122.8,98.6 118,98.9 113.1,99.1 C108.2,99.3 103.3,99.6 98.4,99.8 C93.5,100 88.7,100.1 83.8,100.3 C78.9,100.5 74,100.6 69.1,101 C64.3,101.5 58.2,102.6 54.5,102.9 C50.8,103.2 48.4,102.9 47.2,102.9 Z"/>
<rect x="54.5" y="120.4" width="1164.1" height="1.7" fill="#2b2b2b"/>
<circle cx="54.5" cy="121.2" r="2.5" fill="#000"/>
<rect x="112.4" y="116.2" width="1.3" height="5" fill="#2b2b2b"/>
<text x="113.5" y="134.8" class="tk">5</text>
<rect x="185.6" y="116.2" width="1.3" height="5" fill="#2b2b2b"/>
<text x="186.7" y="134.8" class="tk">10</text>
<rect x="258.9" y="116.2" width="1.3" height="5" fill="#2b2b2b"/>
<text x="259.9" y="134.8" class="tk">15</text>
<rect x="332.1" y="116.2" width="1.3" height="5" fill="#2b2b2b"/>
<text x="333.1" y="134.8" class="tk">20</text>
<rect x="405.3" y="116.2" width="1.3" height="5" fill="#2b2b2b"/>
<text x="406.3" y="134.8" class="tk">25</text>
<rect x="478.5" y="116.2" width="1.3" height="5" fill="#2b2b2b"/>
<text x="479.5" y="134.8" class="tk">30</text>
<rect x="551.7" y="116.2" width="1.3" height="5" fill="#2b2b2b"/>
<text x="552.8" y="134.8" class="tk">35</text>
<rect x="624.9" y="116.2" width="1.3" height="5" fill="#2b2b2b"/>
<text x="626" y="134.8" class="tk">40</text>
<rect x="698.1" y="116.2" width="1.3" height="5" fill="#2b2b2b"/>
<text x="699.2" y="134.8" class="tk">45</text>
<rect x="771.4" y="116.2" width="1.3" height="5" fill="#2b2b2b"/>
<text x="772.4" y="134.8" class="tk">50</text>
<rect x="844.6" y="116.2" width="1.3" height="5" fill="#2b2b2b"/>
<text x="845.6" y="134.8" class="tk">55</text>
<rect x="917.8" y="116.2" width="1.3" height="5" fill="#2b2b2b"/>
<text x="918.8" y="134.8" class="tk">60</text>
<rect x="991" y="116.2" width="1.3" height="5" fill="#2b2b2b"/>
<text x="992.1" y="134.8" class="tk">65</text>
<rect x="1064.2" y="116.2" width="1.3" height="5" fill="#2b2b2b"/>
<text x="1065.3" y="134.8" class="tk">70</text>
<rect x="1137.4" y="116.2" width="1.3" height="5" fill="#2b2b2b"/>
<text x="1138.5" y="134.8" class="tk">75</text>
<rect x="1210.6" y="116.2" width="1.3" height="5" fill="#2b2b2b"/>
<text x="1211.7" y="134.8" class="tk">80</text>
<g transform="scale(1.2,0.95)">
<text x="45.42" y="170.95" class="aa">S</text>
<text x="57.62" y="170.95" class="aa">G</text>
<text x="69.82" y="170.95" class="aa">V</text>
<text x="82.02" y="170.95" class="aa">A</text>
<text x="94.23" y="170.95" class="aa">I</text>
<text x="106.43" y="170.95" class="aa">Y</text>
<text x="118.63" y="170.95" class="aa">A</text>
<text x="130.83" y="170.95" class="aa">A</text>
<text x="143.04" y="170.95" class="aa">Y</text>
<text x="155.24" y="170.95" class="aa">S</text>
<text x="167.44" y="170.95" class="aa">T</text>
<text x="179.64" y="170.95" class="aa">P</text>
<text x="191.85" y="170.95" class="aa">A</text>
<text x="204.05" y="170.95" class="aa">Q</text>
<text x="216.25" y="170.95" class="aa">N</text>
<text x="228.45" y="170.95" class="aa">A</text>
<text x="240.66" y="170.95" class="aa">G</text>
<text x="252.86" y="170.95" class="aa">Y</text>
<text x="265.06" y="170.95" class="aa">A</text>
<text x="277.26" y="170.95" class="aa">A</text>
<text x="289.47" y="170.95" class="aa">Y</text>
<text x="301.67" y="170.95" class="aa">W</text>
<text x="313.87" y="170.95" class="aa">S</text>
<text x="326.07" y="170.95" class="aa">Y</text>
<text x="338.28" y="170.95" class="aa">T</text>
<text x="350.48" y="170.95" class="aa">G</text>
<text x="362.68" y="170.95" class="aa">S</text>
<text x="374.88" y="170.95" class="aa">S</text>
<text x="387.09" y="170.95" class="aa">F</text>
<text x="399.29" y="170.95" class="aa">Y</text>
<text x="411.49" y="170.95" class="aa">A</text>
<text x="423.69" y="170.95" class="aa">A</text>
<text x="435.90" y="170.95" class="aa">Y</text>
<text x="448.10" y="170.95" class="aa">H</text>
<text x="460.30" y="170.95" class="aa">S</text>
<text x="472.50" y="170.95" class="aa">P</text>
<text x="484.71" y="170.95" class="aa">G</text>
<text x="496.91" y="170.95" class="aa">K</text>
<text x="509.11" y="170.95" class="aa">N</text>
<text x="521.31" y="170.95" class="aa">L</text>
<text x="533.52" y="170.95" class="aa">R</text>
<text x="545.72" y="170.95" class="aa">Y</text>
<text x="557.92" y="170.95" class="aa">G</text>
<text x="570.12" y="170.95" class="aa">G</text>
<text x="582.33" y="170.95" class="aa">G</text>
<text x="594.53" y="170.95" class="aa">S</text>
<text x="606.73" y="170.95" class="aa">L</text>
<text x="618.93" y="170.95" class="aa">P</text>
<text x="631.14" y="170.95" class="aa">N</text>
<text x="643.34" y="170.95" class="aa">E</text>
<text x="655.54" y="170.95" class="aa">I</text>
<text x="667.74" y="170.95" class="aa">T</text>
<text x="679.95" y="170.95" class="aa">V</text>
<text x="692.15" y="170.95" class="aa">A</text>
<text x="704.35" y="170.95" class="aa">K</text>
<text x="716.55" y="170.95" class="aa">P</text>
<text x="728.76" y="170.95" class="aa">N</text>
<text x="740.96" y="170.95" class="aa">V</text>
<text x="753.16" y="170.95" class="aa">L</text>
<text x="765.36" y="170.95" class="aa">I</text>
<text x="777.57" y="170.95" class="aa">A</text>
<text x="789.77" y="170.95" class="aa">G</text>
<text x="801.97" y="170.95" class="aa">P</text>
<text x="814.17" y="170.95" class="aa">G</text>
<text x="826.38" y="170.95" class="aa">P</text>
<text x="838.58" y="170.95" class="aa">G</text>
<text x="850.78" y="170.95" class="aa">T</text>
<text x="862.98" y="170.95" class="aa">K</text>
<text x="875.19" y="170.95" class="aa">S</text>
<text x="887.39" y="170.95" class="aa">F</text>
<text x="899.59" y="170.95" class="aa">N</text>
<text x="911.79" y="170.95" class="aa">M</text>
<text x="924.00" y="170.95" class="aa">V</text>
<text x="936.20" y="170.95" class="aa">Q</text>
<text x="948.40" y="170.95" class="aa">A</text>
<text x="960.60" y="170.95" class="aa">F</text>
<text x="972.81" y="170.95" class="aa">G</text>
<text x="985.01" y="170.95" class="aa">L</text>
<text x="997.21" y="170.95" class="aa">R</text>
<text x="1009.41" y="170.95" class="aa">G</text>
</g>
<path fill="url(#rg4)" d="M47.2,182.6 L47.2,177.4 C48.4,177.4 50.8,176.9 54.5,177.4 C58.2,177.8 64.3,179.4 69.1,180.1 C74,180.8 78.9,181.1 83.8,181.6 C88.7,182.1 93.5,182.8 98.4,183.1 C103.3,183.4 108.2,183.5 113.1,183.4 C118,183.4 122.8,182.8 127.7,182.8 C132.6,182.8 137.5,183.5 142.4,183.4 C147.2,183.4 152.1,183 157,182.6 C161.9,182.2 166.8,181.8 171.6,181.3 C176.5,180.8 181.4,179.6 186.3,179.4 C191.2,179.2 196,180.3 200.9,180.1 C205.8,179.9 210.7,178.2 215.6,178.1 C220.5,178 225.3,179.7 230.2,179.6 C235.1,179.5 240,178.1 244.9,177.6 C249.7,177.1 254.6,176 259.5,176.6 C264.4,177.2 269.3,180.2 274.1,181.1 C279,182 283.9,181.7 288.8,181.8 C293.7,181.9 298.6,181.6 303.4,181.8 C308.3,182 313.2,183.1 318.1,183.1 C323,183.1 327.8,181.9 332.7,181.8 C337.6,181.7 342.5,182.3 347.4,182.3 C352.2,182.3 357.1,182.1 362,181.6 C366.9,181.1 371.8,179.8 376.6,179.4 C381.5,179 386.4,179.4 391.3,179.1 C396.2,178.8 401.1,177.6 405.9,177.6 C410.8,177.6 415.7,178.6 420.6,179.1 C425.5,179.5 430.3,179.9 435.2,180.3 C440.1,180.7 445,181.2 449.9,181.6 C454.7,182 459.6,182.4 464.5,182.6 C469.4,182.8 474.3,182.7 479.1,183.1 C484,183.5 488.9,184.7 493.8,184.9 C498.7,185.1 503.6,184.7 508.4,184.3 C513.3,183.9 518.2,183.3 523.1,182.6 C528,181.9 532.8,180.1 537.7,179.8 C542.6,179.5 547.5,180.9 552.4,180.6 C557.2,180.3 562.1,178.2 567,177.9 C571.9,177.6 576.8,178.7 581.6,178.6 C586.5,178.5 591.4,177.2 596.3,177.1 C601.2,177 606.1,177.2 610.9,178.1 C615.8,179 620.7,182.2 625.6,182.3 C630.5,182.4 635.3,178.8 640.2,178.6 C645.1,178.4 650,180.8 654.9,181.1 C659.7,181.4 664.6,180.8 669.5,180.6 C674.4,180.3 679.3,179.8 684.1,179.6 C689,179.3 693.9,179.6 698.8,179.1 C703.7,178.6 708.6,176.2 713.4,176.6 C718.3,177 723.2,180.9 728.1,181.3 C733,181.7 737.8,179.7 742.7,179.1 C747.6,178.5 752.5,177.7 757.4,177.6 C762.2,177.5 767.1,177.8 772,178.6 C776.9,179.4 781.8,182.3 786.7,182.6 C791.5,182.8 796.4,180.2 801.3,180.1 C806.2,180 811.1,182.1 815.9,182.1 C820.8,182.1 825.7,180.8 830.6,180.1 C835.5,179.4 840.3,178.3 845.2,178.1 C850.1,177.8 855,179 859.9,178.6 C864.7,178.2 869.6,175.2 874.5,175.7 C879.4,176.2 884.3,180.8 889.2,181.6 C894,182.4 898.9,180.4 903.8,180.6 C908.7,180.8 913.6,182.5 918.4,182.6 C923.3,182.7 928.2,181 933.1,181.1 C938,181.2 942.8,183.1 947.7,183.1 C952.6,183.1 957.5,181.2 962.4,181.1 C967.2,181 972.1,182.7 977,182.3 C981.9,181.9 986.8,179.5 991.7,178.6 C996.5,177.7 1001.4,176.6 1006.3,177.1 C1011.2,177.6 1016.1,181.8 1020.9,181.6 C1025.8,181.4 1030.7,176 1035.6,175.7 C1040.5,175.4 1045.3,178.4 1050.2,179.6 C1055.1,180.8 1060,183 1064.9,183.1 C1069.7,183.2 1074.6,180.2 1079.5,180.1 C1084.4,180 1089.3,182.2 1094.2,182.6 C1099,183 1103.9,183.2 1108.8,182.6 C1113.7,182 1118.6,179.1 1123.4,179.1 C1128.3,179.1 1133.2,182.4 1138.1,182.6 C1143,182.8 1147.8,180.6 1152.7,180.1 C1157.6,179.6 1162.5,179.7 1167.4,179.8 C1172.2,179.9 1177.1,180.9 1182,180.6 C1186.9,180.3 1191.8,178 1196.7,177.9 C1201.5,177.8 1207.6,179.7 1211.3,180.1 C1215,180.5 1217.4,180.1 1218.6,180.1 L1218.6,182.6 Z"/>
<rect x="47.2" y="181.5" width="1171.4" height="1.1" fill="url(#rl4)"/>
<rect x="47.2" y="202.5" width="1171.4" height="4" fill="#CE2E96"/>
<path fill="#62288D" d="M91.1,198.5 L171,198.5 L171,194.9 L179,204.5 L171,214.1 L171,210.6 L91.1,210.6 Z"/>
<path fill="#62288D" d="M296.1,198.5 L346.7,198.5 L346.7,194.9 L354.7,204.5 L346.7,214.1 L346.7,210.6 L296.1,210.6 Z"/>
<path fill="#62288D" d="M457.2,198.5 L522.4,198.5 L522.4,194.9 L530.4,204.5 L522.4,214.1 L522.4,210.6 L457.2,210.6 Z"/>
<path fill="#62288D" d="M779.3,198.5 L815.3,198.5 L815.3,194.9 L823.3,204.5 L815.3,214.1 L815.3,210.6 L779.3,210.6 Z"/>
<path fill="#62288D" d="M911.1,198.5 L917.8,198.5 L917.8,194.9 L925.8,204.5 L917.8,214.1 L917.8,210.6 L911.1,210.6 Z"/>
<path fill="#62288D" d="M1057.5,198.5 L1122.8,198.5 L1122.8,194.9 L1130.8,204.5 L1122.8,214.1 L1122.8,210.6 L1057.5,210.6 Z"/>
<path fill="#666666" d="M47.2,230.7 C48.4,230.7 50.8,230.7 54.5,230.7 C58.2,230.7 64.3,230.7 69.1,230.7 C74,230.7 78.9,230.7 83.8,230.7 C88.7,230.7 93.5,230.7 98.4,230.7 C103.3,230.7 108.2,230.7 113.1,230.7 C118,230.7 122.8,230.7 127.7,230.7 C132.6,230.7 137.5,230.7 142.4,230.7 C147.2,230.7 152.1,230.7 157,230.7 C161.9,230.7 166.8,230.7 171.6,230.7 C176.5,230.7 181.4,230.7 186.3,230.7 C191.2,230.7 196,230.7 200.9,230.7 C205.8,230.7 210.7,230.7 215.6,230.7 C220.5,230.7 225.3,230.7 230.2,230.7 C235.1,230.7 240,230.7 244.9,230.7 C249.7,230.7 254.6,230.7 259.5,230.7 C264.4,230.7 269.3,230.7 274.1,230.7 C279,230.7 283.9,230.7 288.8,230.7 C293.7,230.7 298.6,230.7 303.4,230.7 C308.3,230.7 313.2,230.7 318.1,230.7 C323,230.7 327.8,230.7 332.7,230.7 C337.6,230.7 342.5,230.7 347.4,230.7 C352.2,230.7 357.1,230.7 362,230.7 C366.9,230.7 371.8,230.7 376.6,230.7 C381.5,230.7 386.4,230.7 391.3,230.7 C396.2,230.7 401.1,230.7 405.9,230.7 C410.8,230.7 415.7,230.7 420.6,230.7 C425.5,230.7 430.3,230.7 435.2,230.7 C440.1,230.7 445,230.7 449.9,230.7 C454.7,230.7 459.6,230.7 464.5,230.7 C469.4,230.7 474.3,230.7 479.1,230.7 C484,230.7 488.9,230.7 493.8,230.7 C498.7,230.7 503.6,230.7 508.4,230.7 C513.3,230.7 518.2,230.7 523.1,230.7 C528,230.7 532.8,230.7 537.7,230.7 C542.6,230.7 547.5,230.7 552.4,230.7 C557.2,230.7 562.1,230.7 567,230.7 C571.9,230.7 576.8,230.7 581.6,230.7 C586.5,230.7 591.4,230.7 596.3,230.7 C601.2,230.7 606.1,230.7 610.9,230.7 C615.8,230.7 620.7,230.8 625.6,230.7 C630.5,230.6 635.3,230.5 640.2,230.3 C645.1,230.2 650,230.1 654.9,229.9 C659.7,229.8 664.6,229.7 669.5,229.7 C674.4,229.7 679.3,229.7 684.1,229.7 C689,229.7 693.9,229.8 698.8,229.9 C703.7,230.1 708.6,230.2 713.4,230.3 C718.3,230.5 723.2,230.6 728.1,230.7 C733,230.8 737.8,230.7 742.7,230.7 C747.6,230.7 752.5,230.7 757.4,230.7 C762.2,230.7 767.1,230.7 772,230.7 C776.9,230.7 781.8,230.7 786.7,230.7 C791.5,230.7 796.4,230.7 801.3,230.7 C806.2,230.7 811.1,230.7 815.9,230.7 C820.8,230.7 825.7,230.7 830.6,230.7 C835.5,230.7 840.3,230.7 845.2,230.7 C850.1,230.7 855,230.7 859.9,230.7 C864.7,230.7 869.6,230.7 874.5,230.7 C879.4,230.7 884.3,230.7 889.2,230.7 C894,230.7 898.9,230.7 903.8,230.7 C908.7,230.7 913.6,230.7 918.4,230.7 C923.3,230.7 928.2,230.7 933.1,230.7 C938,230.7 942.8,230.7 947.7,230.7 C952.6,230.7 957.5,230.7 962.4,230.7 C967.2,230.7 972.1,230.7 977,230.7 C981.9,230.7 986.8,230.7 991.7,230.7 C996.5,230.7 1001.4,230.7 1006.3,230.7 C1011.2,230.7 1016.1,230.7 1020.9,230.7 C1025.8,230.7 1030.7,230.7 1035.6,230.7 C1040.5,230.7 1045.3,230.7 1050.2,230.7 C1055.1,230.7 1060,230.7 1064.9,230.7 C1069.7,230.7 1074.6,230.7 1079.5,230.7 C1084.4,230.7 1089.3,230.7 1094.2,230.7 C1099,230.7 1103.9,230.7 1108.8,230.7 C1113.7,230.7 1118.6,230.7 1123.4,230.7 C1128.3,230.7 1133.2,230.7 1138.1,230.7 C1143,230.7 1147.8,230.7 1152.7,230.7 C1157.6,230.7 1162.5,230.7 1167.4,230.7 C1172.2,230.7 1177.1,230.7 1182,230.7 C1186.9,230.7 1191.8,230.7 1196.7,230.7 C1201.5,230.7 1207.6,230.7 1211.3,230.7 C1215,230.7 1217.4,230.7 1218.6,230.7 L1218.6,232.1 C1217.4,232.1 1215,232.1 1211.3,232.1 C1207.6,232.1 1201.5,232.1 1196.7,232.1 C1191.8,232.1 1186.9,232.1 1182,232.1 C1177.1,232.1 1172.2,232.1 1167.4,232.1 C1162.5,232.1 1157.6,232.1 1152.7,232.1 C1147.8,232.1 1143,232.1 1138.1,232.1 C1133.2,232.1 1128.3,232.1 1123.4,232.1 C1118.6,232.1 1113.7,232.1 1108.8,232.1 C1103.9,232.1 1099,232.1 1094.2,232.1 C1089.3,232.1 1084.4,232.1 1079.5,232.1 C1074.6,232.1 1069.7,232.1 1064.9,232.1 C1060,232.1 1055.1,232.1 1050.2,232.1 C1045.3,232.1 1040.5,232.1 1035.6,232.1 C1030.7,232.1 1025.8,232.1 1020.9,232.1 C1016.1,232.1 1011.2,232.1 1006.3,232.1 C1001.4,232.1 996.5,232.1 991.7,232.1 C986.8,232.1 981.9,232.1 977,232.1 C972.1,232.1 967.2,232.1 962.4,232.1 C957.5,232.1 952.6,232.1 947.7,232.1 C942.8,232.1 938,232.1 933.1,232.1 C928.2,232.1 923.3,232.1 918.4,232.1 C913.6,232.1 908.7,232.1 903.8,232.1 C898.9,232.1 894,232.1 889.2,232.1 C884.3,232.1 879.4,232.1 874.5,232.1 C869.6,232.1 864.7,232.1 859.9,232.1 C855,232.1 850.1,232.1 845.2,232.1 C840.3,232.1 835.5,232.1 830.6,232.1 C825.7,232.1 820.8,232.1 815.9,232.1 C811.1,232.1 806.2,232.1 801.3,232.1 C796.4,232.1 791.5,232.1 786.7,232.1 C781.8,232.1 776.9,232.1 772,232.1 C767.1,232.1 762.2,232.1 757.4,232.1 C752.5,232.1 747.6,232.1 742.7,232.1 C737.8,232.1 733,232 728.1,232.1 C723.2,232.2 718.3,232.3 713.4,232.4 C708.6,232.6 703.7,232.7 698.8,232.8 C693.9,233 689,233.1 684.1,233.1 C679.3,233.1 674.4,233.1 669.5,233.1 C664.6,233.1 659.7,233 654.9,232.8 C650,232.7 645.1,232.6 640.2,232.4 C635.3,232.3 630.5,232.2 625.6,232.1 C620.7,232 615.8,232.1 610.9,232.1 C606.1,232.1 601.2,232.1 596.3,232.1 C591.4,232.1 586.5,232.1 581.6,232.1 C576.8,232.1 571.9,232.1 567,232.1 C562.1,232.1 557.2,232.1 552.4,232.1 C547.5,232.1 542.6,232.1 537.7,232.1 C532.8,232.1 528,232.1 523.1,232.1 C518.2,232.1 513.3,232.1 508.4,232.1 C503.6,232.1 498.7,232.1 493.8,232.1 C488.9,232.1 484,232.1 479.1,232.1 C474.3,232.1 469.4,232.1 464.5,232.1 C459.6,232.1 454.7,232.1 449.9,232.1 C445,232.1 440.1,232.1 435.2,232.1 C430.3,232.1 425.5,232.1 420.6,232.1 C415.7,232.1 410.8,232.1 405.9,232.1 C401.1,232.1 396.2,232.1 391.3,232.1 C386.4,232.1 381.5,232.1 376.6,232.1 C371.8,232.1 366.9,232.1 362,232.1 C357.1,232.1 352.2,232.1 347.4,232.1 C342.5,232.1 337.6,232.1 332.7,232.1 C327.8,232.1 323,232.1 318.1,232.1 C313.2,232.1 308.3,232.1 303.4,232.1 C298.6,232.1 293.7,232.1 288.8,232.1 C283.9,232.1 279,232.1 274.1,232.1 C269.3,232.1 264.4,232.1 259.5,232.1 C254.6,232.1 249.7,232.1 244.9,232.1 C240,232.1 235.1,232.1 230.2,232.1 C225.3,232.1 220.5,232.1 215.6,232.1 C210.7,232.1 205.8,232.1 200.9,232.1 C196,232.1 191.2,232.1 186.3,232.1 C181.4,232.1 176.5,232.1 171.6,232.1 C166.8,232.1 161.9,232.1 157,232.1 C152.1,232.1 147.2,232.1 142.4,232.1 C137.5,232.1 132.6,232.1 127.7,232.1 C122.8,232.1 118,232.1 113.1,232.1 C108.2,232.1 103.3,232.1 98.4,232.1 C93.5,232.1 88.7,232.1 83.8,232.1 C78.9,232.1 74,232.1 69.1,232.1 C64.3,232.1 58.2,232.1 54.5,232.1 C50.8,232.1 48.4,232.1 47.2,232.1 Z"/>
<rect x="47.2" y="254.5" width="1171.4" height="1.7" fill="#2b2b2b"/>
<rect x="112.4" y="250.4" width="1.3" height="5" fill="#2b2b2b"/>
<text x="113.5" y="269" class="tk">85</text>
<rect x="185.6" y="250.4" width="1.3" height="5" fill="#2b2b2b"/>
<text x="186.7" y="269" class="tk">90</text>
<rect x="258.9" y="250.4" width="1.3" height="5" fill="#2b2b2b"/>
<text x="259.9" y="269" class="tk">95</text>
<rect x="332.1" y="250.4" width="1.3" height="5" fill="#2b2b2b"/>
<text x="333.1" y="269" class="tk">100</text>
<rect x="405.3" y="250.4" width="1.3" height="5" fill="#2b2b2b"/>
<text x="406.3" y="269" class="tk">105</text>
<rect x="478.5" y="250.4" width="1.3" height="5" fill="#2b2b2b"/>
<text x="479.5" y="269" class="tk">110</text>
<rect x="551.7" y="250.4" width="1.3" height="5" fill="#2b2b2b"/>
<text x="552.8" y="269" class="tk">115</text>
<rect x="624.9" y="250.4" width="1.3" height="5" fill="#2b2b2b"/>
<text x="626" y="269" class="tk">120</text>
<rect x="698.1" y="250.4" width="1.3" height="5" fill="#2b2b2b"/>
<text x="699.2" y="269" class="tk">125</text>
<rect x="771.4" y="250.4" width="1.3" height="5" fill="#2b2b2b"/>
<text x="772.4" y="269" class="tk">130</text>
<rect x="844.6" y="250.4" width="1.3" height="5" fill="#2b2b2b"/>
<text x="845.6" y="269" class="tk">135</text>
<rect x="917.8" y="250.4" width="1.3" height="5" fill="#2b2b2b"/>
<text x="918.8" y="269" class="tk">140</text>
<rect x="991" y="250.4" width="1.3" height="5" fill="#2b2b2b"/>
<text x="992.1" y="269" class="tk">145</text>
<rect x="1064.2" y="250.4" width="1.3" height="5" fill="#2b2b2b"/>
<text x="1065.3" y="269" class="tk">150</text>
<rect x="1137.4" y="250.4" width="1.3" height="5" fill="#2b2b2b"/>
<text x="1138.5" y="269" class="tk">155</text>
<rect x="1210.6" y="250.4" width="1.3" height="5" fill="#2b2b2b"/>
<text x="1211.7" y="269" class="tk">160</text>
<g transform="scale(1.2,0.95)">
<text x="45.42" y="312.21" class="aa">A</text>
<text x="57.62" y="312.21" class="aa">G</text>
<text x="69.82" y="312.21" class="aa">P</text>
<text x="82.02" y="312.21" class="aa">G</text>
<text x="94.23" y="312.21" class="aa">P</text>
<text x="106.43" y="312.21" class="aa">G</text>
<text x="118.63" y="312.21" class="aa">S</text>
<text x="130.83" y="312.21" class="aa">T</text>
<text x="143.04" y="312.21" class="aa">S</text>
<text x="155.24" y="312.21" class="aa">Y</text>
<text x="167.44" y="312.21" class="aa">Y</text>
<text x="179.64" y="312.21" class="aa">S</text>
<text x="191.85" y="312.21" class="aa">A</text>
<text x="204.05" y="312.21" class="aa">K</text>
<text x="216.25" y="312.21" class="aa">P</text>
<text x="228.45" y="312.21" class="aa">V</text>
<text x="240.66" y="312.21" class="aa">G</text>
<text x="252.86" y="312.21" class="aa">A</text>
<text x="265.06" y="312.21" class="aa">Y</text>
<text x="277.26" y="312.21" class="aa">Y</text>
<text x="289.47" y="312.21" class="aa">E</text>
<text x="301.67" y="312.21" class="aa">G</text>
<text x="313.87" y="312.21" class="aa">P</text>
<text x="326.07" y="312.21" class="aa">G</text>
<text x="338.28" y="312.21" class="aa">P</text>
<text x="350.48" y="312.21" class="aa">G</text>
<text x="362.68" y="312.21" class="aa">T</text>
<text x="374.88" y="312.21" class="aa">A</text>
<text x="387.09" y="312.21" class="aa">K</text>
<text x="399.29" y="312.21" class="aa">Y</text>
<text x="411.49" y="312.21" class="aa">T</text>
<text x="423.69" y="312.21" class="aa">P</text>
<text x="435.90" y="312.21" class="aa">A</text>
<text x="448.10" y="312.21" class="aa">P</text>
<text x="460.30" y="312.21" class="aa">G</text>
<text x="472.50" y="312.21" class="aa">T</text>
<text x="484.71" y="312.21" class="aa">S</text>
<text x="496.91" y="312.21" class="aa">L</text>
<text x="509.11" y="312.21" class="aa">H</text>
<text x="521.31" y="312.21" class="aa">P</text>
<text x="533.52" y="312.21" class="aa">V</text>
<text x="545.72" y="312.21" class="aa">G</text>
<text x="557.92" y="312.21" class="aa">G</text>
<text x="570.12" y="312.21" class="aa">P</text>
<text x="582.33" y="312.21" class="aa">G</text>
<text x="594.53" y="312.21" class="aa">S</text>
<text x="606.73" y="312.21" class="aa">T</text>
<text x="618.93" y="312.21" class="aa">V</text>
<text x="631.14" y="312.21" class="aa">F</text>
<text x="643.34" y="312.21" class="aa">V</text>
<text x="655.54" y="312.21" class="aa">P</text>
<text x="667.74" y="312.21" class="aa">A</text>
<text x="679.95" y="312.21" class="aa">T</text>
<text x="692.15" y="312.21" class="aa">R</text>
<text x="704.35" y="312.21" class="aa">D</text>
<text x="716.55" y="312.21" class="aa">S</text>
<text x="728.76" y="312.21" class="aa">V</text>
<text x="740.96" y="312.21" class="aa">P</text>
<text x="753.16" y="312.21" class="aa">L</text>
<text x="765.36" y="312.21" class="aa">H</text>
<text x="777.57" y="312.21" class="aa">G</text>
<text x="789.77" y="312.21" class="aa">P</text>
<text x="801.97" y="312.21" class="aa">G</text>
<text x="814.17" y="312.21" class="aa">P</text>
<text x="826.38" y="312.21" class="aa">G</text>
<text x="838.58" y="312.21" class="aa">S</text>
<text x="850.78" y="312.21" class="aa">P</text>
<text x="862.98" y="312.21" class="aa">D</text>
<text x="875.19" y="312.21" class="aa">F</text>
<text x="887.39" y="312.21" class="aa">V</text>
<text x="899.59" y="312.21" class="aa">A</text>
<text x="911.79" y="312.21" class="aa">F</text>
<text x="924.00" y="312.21" class="aa">N</text>
<text x="936.20" y="312.21" class="aa">V</text>
<text x="948.40" y="312.21" class="aa">F</text>
<text x="960.60" y="312.21" class="aa">H</text>
<text x="972.81" y="312.21" class="aa">G</text>
<text x="985.01" y="312.21" class="aa">M</text>
<text x="997.21" y="312.21" class="aa">E</text>
<text x="1009.41" y="312.21" class="aa">T</text>
</g>
<path fill="url(#rg5)" d="M47.2,316.8 L47.2,314.6 C48.4,314.6 50.8,314.3 54.5,314.6 C58.2,314.9 64.3,316.7 69.1,316.6 C74,316.5 78.9,314 83.8,313.8 C88.7,313.6 93.5,315.9 98.4,315.6 C103.3,315.3 108.2,312.6 113.1,312.1 C118,311.6 122.8,311.9 127.7,312.6 C132.6,313.3 137.5,316.1 142.4,316.1 C147.2,316.1 152.1,312.5 157,312.4 C161.9,312.3 166.8,315 171.6,315.6 C176.5,316.2 181.4,316.1 186.3,316.1 C191.2,316.1 196,315.9 200.9,315.6 C205.8,315.3 210.7,314.2 215.6,314.3 C220.5,314.4 225.3,316.5 230.2,316.1 C235.1,315.7 240,312.5 244.9,312.1 C249.7,311.7 254.6,313.4 259.5,313.6 C264.4,313.8 269.3,313.2 274.1,313.4 C279,313.6 283.9,314.1 288.8,314.6 C293.7,315.1 298.6,316.6 303.4,316.6 C308.3,316.6 313.2,314.7 318.1,314.6 C323,314.5 327.8,316.6 332.7,316.1 C337.6,315.6 342.5,311.3 347.4,311.4 C352.2,311.5 357.1,316.2 362,316.6 C366.9,317 371.8,313.9 376.6,313.8 C381.5,313.7 386.4,316.4 391.3,316.1 C396.2,315.8 401.1,312.5 405.9,311.9 C410.8,311.3 415.7,311.9 420.6,312.4 C425.5,312.8 430.3,314.3 435.2,314.6 C440.1,314.9 445,314.4 449.9,314.1 C454.7,313.8 459.6,312.1 464.5,312.6 C469.4,313.1 474.3,316.6 479.1,317 C484,317.5 488.9,315.4 493.8,315.1 C498.7,314.8 503.6,314.9 508.4,315.1 C513.3,315.3 518.2,316.8 523.1,316.1 C528,315.4 532.8,311.8 537.7,310.9 C542.6,310 547.5,310.2 552.4,310.7 C557.2,311.2 562.1,313.3 567,313.8 C571.9,314.3 576.8,313.2 581.6,313.6 C586.5,314 591.4,315.9 596.3,316.1 C601.2,316.3 606.1,315 610.9,314.6 C615.8,314.2 620.7,313.7 625.6,313.8 C630.5,313.9 635.3,314.8 640.2,315.1 C645.1,315.3 650,315.2 654.9,315.3 C659.7,315.4 664.6,316.4 669.5,315.8 C674.4,315.2 679.3,312.3 684.1,311.6 C689,310.9 693.9,310.8 698.8,311.6 C703.7,312.3 708.6,315.9 713.4,316.1 C718.3,316.3 723.2,312.9 728.1,312.9 C733,312.9 737.8,315.5 742.7,316.3 C747.6,317 752.5,317.2 757.4,317.4 C762.2,317.6 767.1,317.7 772,317.4 C776.9,317.1 781.8,316 786.7,315.8 C791.5,315.6 796.4,316.9 801.3,316.3 C806.2,315.7 811.1,312.9 815.9,312.1 C820.8,311.3 825.7,311.9 830.6,311.4 C835.5,310.9 840.3,308.8 845.2,309.2 C850.1,309.6 855,312.6 859.9,313.6 C864.7,314.6 869.6,315.1 874.5,315.3 C879.4,315.5 884.3,314.5 889.2,314.8 C894,315.1 898.9,317.3 903.8,317 C908.7,316.8 913.6,313.6 918.4,313.4 C923.3,313.2 928.2,315.6 933.1,315.8 C938,316 942.8,314.6 947.7,314.6 C952.6,314.6 957.5,316.1 962.4,315.8 C967.2,315.5 972.1,313.3 977,312.6 C981.9,311.9 986.8,310.7 991.7,311.4 C996.5,312.1 1001.4,316.9 1006.3,317 C1011.2,317.2 1016.1,312.9 1020.9,312.1 C1025.8,311.3 1030.7,311.2 1035.6,312.1 C1040.5,313 1045.3,316.7 1050.2,317.6 C1055.1,318.6 1060,317.9 1064.9,318 C1069.7,318.1 1074.6,318 1079.5,318 C1084.4,318 1089.3,318.5 1094.2,318.2 C1099,318 1103.9,316.6 1108.8,316.6 C1113.7,316.6 1118.6,318.1 1123.4,318 C1128.3,317.9 1133.2,316.8 1138.1,316.1 C1143,315.4 1147.8,314 1152.7,313.8 C1157.6,313.5 1162.5,314.5 1167.4,314.6 C1172.2,314.6 1177.1,314.7 1182,314.1 C1186.9,313.5 1191.8,311.2 1196.7,310.9 C1201.5,310.6 1207.6,311.9 1211.3,312.1 C1215,312.3 1217.4,312.1 1218.6,312.1 L1218.6,316.8 Z"/>
<rect x="47.2" y="315.7" width="1171.4" height="1.1" fill="url(#rl5)"/>
<rect x="47.2" y="336.7" width="1171.4" height="4" fill="#CE2E96"/>
<path fill="#62288D" d="M164.3,332.7 L214.9,332.7 L214.9,329.1 L222.9,338.7 L214.9,348.3 L214.9,344.8 L164.3,344.8 Z"/>
<path fill="#62288D" d="M310.8,332.7 L332,332.7 L332,329.1 L340,338.7 L332,348.3 L332,344.8 L310.8,344.8 Z"/>
<path fill="#62288D" d="M471.8,332.7 L478.5,332.7 L478.5,329.1 L486.5,338.7 L478.5,348.3 L478.5,344.8 L471.8,344.8 Z"/>
<path fill="#62288D" d="M735.4,332.7 L786,332.7 L786,329.1 L794,338.7 L786,348.3 L786,344.8 L735.4,344.8 Z"/>
<path fill="#62288D" d="M1057.5,332.7 L1122.8,332.7 L1122.8,329.1 L1130.8,338.7 L1122.8,348.3 L1122.8,344.8 L1057.5,344.8 Z"/>
<path fill="#666666" d="M47.2,364.9 C48.4,364.9 50.8,364.9 54.5,364.9 C58.2,364.9 64.3,364.9 69.1,364.9 C74,364.9 78.9,364.9 83.8,364.9 C88.7,364.9 93.5,364.9 98.4,364.9 C103.3,364.9 108.2,364.9 113.1,364.9 C118,364.9 122.8,364.9 127.7,364.9 C132.6,364.9 137.5,364.9 142.4,364.9 C147.2,364.9 152.1,364.9 157,364.9 C161.9,364.9 166.8,364.9 171.6,364.9 C176.5,364.9 181.4,364.9 186.3,364.9 C191.2,364.9 196,364.9 200.9,364.9 C205.8,364.9 210.7,364.9 215.6,364.9 C220.5,364.9 225.3,364.9 230.2,364.9 C235.1,364.9 240,364.9 244.9,364.9 C249.7,364.9 254.6,364.9 259.5,364.9 C264.4,364.9 269.3,364.9 274.1,364.9 C279,364.9 283.9,364.9 288.8,364.9 C293.7,364.9 298.6,364.9 303.4,364.9 C308.3,364.9 313.2,364.9 318.1,364.9 C323,364.9 327.8,364.9 332.7,364.9 C337.6,364.9 342.5,364.9 347.4,364.9 C352.2,364.9 357.1,364.9 362,364.9 C366.9,364.9 371.8,364.9 376.6,364.9 C381.5,364.9 386.4,364.9 391.3,364.9 C396.2,364.9 401.1,364.9 405.9,364.9 C410.8,364.9 415.7,364.9 420.6,364.9 C425.5,364.9 430.3,364.9 435.2,364.9 C440.1,364.9 445,364.9 449.9,364.9 C454.7,364.9 459.6,364.9 464.5,364.9 C469.4,364.9 474.3,364.9 479.1,364.9 C484,364.9 488.9,364.9 493.8,364.9 C498.7,364.9 503.6,364.9 508.4,364.9 C513.3,364.9 518.2,364.9 523.1,364.9 C528,364.9 532.8,364.8 537.7,364.8 C542.6,364.8 547.5,364.7 552.4,364.6 C557.2,364.6 562.1,364.6 567,364.6 C571.9,364.7 576.8,364.8 581.6,364.8 C586.5,364.8 591.4,364.9 596.3,364.9 C601.2,364.9 606.1,364.9 610.9,364.9 C615.8,364.9 620.7,364.9 625.6,364.9 C630.5,364.9 635.3,364.9 640.2,364.9 C645.1,364.9 650,364.9 654.9,364.9 C659.7,364.9 664.6,364.9 669.5,364.9 C674.4,364.9 679.3,364.9 684.1,364.9 C689,364.9 693.9,364.9 698.8,364.9 C703.7,364.9 708.6,364.9 713.4,364.9 C718.3,364.9 723.2,364.9 728.1,364.9 C733,364.9 737.8,364.9 742.7,364.9 C747.6,364.9 752.5,364.9 757.4,364.9 C762.2,364.9 767.1,364.9 772,364.9 C776.9,364.9 781.8,364.9 786.7,364.9 C791.5,364.9 796.4,364.9 801.3,364.9 C806.2,364.9 811.1,364.9 815.9,364.9 C820.8,364.9 825.7,364.9 830.6,364.9 C835.5,364.9 840.3,364.9 845.2,364.9 C850.1,364.9 855,364.9 859.9,364.9 C864.7,364.9 869.6,364.9 874.5,364.9 C879.4,364.9 884.3,364.9 889.2,364.9 C894,364.9 898.9,364.9 903.8,364.9 C908.7,364.9 913.6,364.9 918.4,364.9 C923.3,364.9 928.2,364.9 933.1,364.9 C938,364.9 942.8,364.9 947.7,364.9 C952.6,364.9 957.5,364.9 962.4,364.9 C967.2,364.9 972.1,364.9 977,364.9 C981.9,364.9 986.8,364.9 991.7,364.9 C996.5,364.9 1001.4,364.9 1006.3,364.9 C1011.2,364.9 1016.1,364.9 1020.9,364.9 C1025.8,364.9 1030.7,364.9 1035.6,364.9 C1040.5,364.9 1045.3,364.9 1050.2,364.8 C1055.1,364.8 1060,364.8 1064.9,364.7 C1069.7,364.7 1074.6,364.7 1079.5,364.6 C1084.4,364.6 1089.3,364.6 1094.2,364.5 C1099,364.4 1103.9,364.4 1108.8,364.3 C1113.7,364.2 1118.6,364.1 1123.4,364 C1128.3,364 1133.2,363.9 1138.1,363.7 C1143,363.6 1147.8,363.5 1152.7,363.4 C1157.6,363.3 1162.5,363.1 1167.4,362.9 C1172.2,362.8 1177.1,362.6 1182,362.4 C1186.9,362.3 1191.8,362.1 1196.7,361.9 C1201.5,361.7 1207.6,361.4 1211.3,361.3 C1215,361.2 1217.4,361.3 1218.6,361.3 L1218.6,369.9 C1217.4,369.9 1215,370 1211.3,369.9 C1207.6,369.8 1201.5,369.5 1196.7,369.3 C1191.8,369.1 1186.9,368.9 1182,368.7 C1177.1,368.6 1172.2,368.4 1167.4,368.2 C1162.5,368.1 1157.6,367.9 1152.7,367.8 C1147.8,367.7 1143,367.6 1138.1,367.4 C1133.2,367.3 1128.3,367.2 1123.4,367.1 C1118.6,367.1 1113.7,367 1108.8,366.9 C1103.9,366.8 1099,366.8 1094.2,366.7 C1089.3,366.6 1084.4,366.6 1079.5,366.5 C1074.6,366.5 1069.7,366.5 1064.9,366.4 C1060,366.4 1055.1,366.4 1050.2,366.3 C1045.3,366.3 1040.5,366.3 1035.6,366.3 C1030.7,366.3 1025.8,366.3 1020.9,366.3 C1016.1,366.3 1011.2,366.3 1006.3,366.3 C1001.4,366.3 996.5,366.3 991.7,366.3 C986.8,366.3 981.9,366.3 977,366.3 C972.1,366.3 967.2,366.3 962.4,366.3 C957.5,366.3 952.6,366.3 947.7,366.3 C942.8,366.3 938,366.3 933.1,366.3 C928.2,366.3 923.3,366.3 918.4,366.3 C913.6,366.3 908.7,366.3 903.8,366.3 C898.9,366.3 894,366.3 889.2,366.3 C884.3,366.3 879.4,366.3 874.5,366.3 C869.6,366.3 864.7,366.3 859.9,366.3 C855,366.3 850.1,366.3 845.2,366.3 C840.3,366.3 835.5,366.3 830.6,366.3 C825.7,366.3 820.8,366.3 815.9,366.3 C811.1,366.3 806.2,366.3 801.3,366.3 C796.4,366.3 791.5,366.3 786.7,366.3 C781.8,366.3 776.9,366.3 772,366.3 C767.1,366.3 762.2,366.3 757.4,366.3 C752.5,366.3 747.6,366.3 742.7,366.3 C737.8,366.3 733,366.3 728.1,366.3 C723.2,366.3 718.3,366.3 713.4,366.3 C708.6,366.3 703.7,366.3 698.8,366.3 C693.9,366.3 689,366.3 684.1,366.3 C679.3,366.3 674.4,366.3 669.5,366.3 C664.6,366.3 659.7,366.3 654.9,366.3 C650,366.3 645.1,366.3 640.2,366.3 C635.3,366.3 630.5,366.3 625.6,366.3 C620.7,366.3 615.8,366.3 610.9,366.3 C606.1,366.3 601.2,366.3 596.3,366.3 C591.4,366.3 586.5,366.4 581.6,366.4 C576.8,366.4 571.9,366.5 567,366.5 C562.1,366.6 557.2,366.6 552.4,366.5 C547.5,366.5 542.6,366.4 537.7,366.4 C532.8,366.4 528,366.3 523.1,366.3 C518.2,366.3 513.3,366.3 508.4,366.3 C503.6,366.3 498.7,366.3 493.8,366.3 C488.9,366.3 484,366.3 479.1,366.3 C474.3,366.3 469.4,366.3 464.5,366.3 C459.6,366.3 454.7,366.3 449.9,366.3 C445,366.3 440.1,366.3 435.2,366.3 C430.3,366.3 425.5,366.3 420.6,366.3 C415.7,366.3 410.8,366.3 405.9,366.3 C401.1,366.3 396.2,366.3 391.3,366.3 C386.4,366.3 381.5,366.3 376.6,366.3 C371.8,366.3 366.9,366.3 362,366.3 C357.1,366.3 352.2,366.3 347.4,366.3 C342.5,366.3 337.6,366.3 332.7,366.3 C327.8,366.3 323,366.3 318.1,366.3 C313.2,366.3 308.3,366.3 303.4,366.3 C298.6,366.3 293.7,366.3 288.8,366.3 C283.9,366.3 279,366.3 274.1,366.3 C269.3,366.3 264.4,366.3 259.5,366.3 C254.6,366.3 249.7,366.3 244.9,366.3 C240,366.3 235.1,366.3 230.2,366.3 C225.3,366.3 220.5,366.3 215.6,366.3 C210.7,366.3 205.8,366.3 200.9,366.3 C196,366.3 191.2,366.3 186.3,366.3 C181.4,366.3 176.5,366.3 171.6,366.3 C166.8,366.3 161.9,366.3 157,366.3 C152.1,366.3 147.2,366.3 142.4,366.3 C137.5,366.3 132.6,366.3 127.7,366.3 C122.8,366.3 118,366.3 113.1,366.3 C108.2,366.3 103.3,366.3 98.4,366.3 C93.5,366.3 88.7,366.3 83.8,366.3 C78.9,366.3 74,366.3 69.1,366.3 C64.3,366.3 58.2,366.3 54.5,366.3 C50.8,366.3 48.4,366.3 47.2,366.3 Z"/>
<rect x="47.2" y="388.7" width="1171.4" height="1.7" fill="#2b2b2b"/>
<rect x="112.4" y="384.6" width="1.3" height="5" fill="#2b2b2b"/>
<text x="113.5" y="403.2" class="tk">165</text>
<rect x="185.6" y="384.6" width="1.3" height="5" fill="#2b2b2b"/>
<text x="186.7" y="403.2" class="tk">170</text>
<rect x="258.9" y="384.6" width="1.3" height="5" fill="#2b2b2b"/>
<text x="259.9" y="403.2" class="tk">175</text>
<rect x="332.1" y="384.6" width="1.3" height="5" fill="#2b2b2b"/>
<text x="333.1" y="403.2" class="tk">180</text>
<rect x="405.3" y="384.6" width="1.3" height="5" fill="#2b2b2b"/>
<text x="406.3" y="403.2" class="tk">185</text>
<rect x="478.5" y="384.6" width="1.3" height="5" fill="#2b2b2b"/>
<text x="479.5" y="403.2" class="tk">190</text>
<rect x="551.7" y="384.6" width="1.3" height="5" fill="#2b2b2b"/>
<text x="552.8" y="403.2" class="tk">195</text>
<rect x="624.9" y="384.6" width="1.3" height="5" fill="#2b2b2b"/>
<text x="626" y="403.2" class="tk">200</text>
<rect x="698.1" y="384.6" width="1.3" height="5" fill="#2b2b2b"/>
<text x="699.2" y="403.2" class="tk">205</text>
<rect x="771.4" y="384.6" width="1.3" height="5" fill="#2b2b2b"/>
<text x="772.4" y="403.2" class="tk">210</text>
<rect x="844.6" y="384.6" width="1.3" height="5" fill="#2b2b2b"/>
<text x="845.6" y="403.2" class="tk">215</text>
<rect x="917.8" y="384.6" width="1.3" height="5" fill="#2b2b2b"/>
<text x="918.8" y="403.2" class="tk">220</text>
<rect x="991" y="384.6" width="1.3" height="5" fill="#2b2b2b"/>
<text x="992.1" y="403.2" class="tk">225</text>
<rect x="1064.2" y="384.6" width="1.3" height="5" fill="#2b2b2b"/>
<text x="1065.3" y="403.2" class="tk">230</text>
<rect x="1137.4" y="384.6" width="1.3" height="5" fill="#2b2b2b"/>
<text x="1138.5" y="403.2" class="tk">235</text>
<rect x="1210.6" y="384.6" width="1.3" height="5" fill="#2b2b2b"/>
<text x="1211.7" y="403.2" class="tk">240</text>
<g transform="scale(1.2,0.95)">
<text x="45.42" y="453.47" class="aa">G</text>
<text x="57.62" y="453.47" class="aa">G</text>
<text x="69.82" y="453.47" class="aa">G</text>
<text x="82.02" y="453.47" class="aa">S</text>
<text x="94.23" y="453.47" class="aa">T</text>
<text x="106.43" y="453.47" class="aa">G</text>
<text x="118.63" y="453.47" class="aa">R</text>
<text x="130.83" y="453.47" class="aa">S</text>
<text x="143.04" y="453.47" class="aa">V</text>
<text x="155.24" y="453.47" class="aa">Y</text>
<text x="167.44" y="453.47" class="aa">V</text>
<text x="179.64" y="453.47" class="aa">K</text>
<text x="191.85" y="453.47" class="aa">F</text>
<text x="204.05" y="453.47" class="aa">Q</text>
<text x="216.25" y="453.47" class="aa">E</text>
<text x="228.45" y="453.47" class="aa">S</text>
<text x="240.66" y="453.47" class="aa">K</text>
<text x="252.86" y="453.47" class="aa">P</text>
<text x="265.06" y="453.47" class="aa">P</text>
<text x="277.26" y="453.47" class="aa">L</text>
<text x="289.47" y="453.47" class="aa">P</text>
<text x="301.67" y="453.47" class="aa">P</text>
<text x="313.87" y="453.47" class="aa">E</text>
<text x="326.07" y="453.47" class="aa">E</text>
<text x="338.28" y="453.47" class="aa">K</text>
<text x="350.48" y="453.47" class="aa">K</text>
<text x="362.68" y="453.47" class="aa">M</text>
<text x="374.88" y="453.47" class="aa">S</text>
<text x="387.09" y="453.47" class="aa">N</text>
<text x="399.29" y="453.47" class="aa">M</text>
<text x="411.49" y="453.47" class="aa">T</text>
<text x="423.69" y="453.47" class="aa">Q</text>
<text x="435.90" y="453.47" class="aa">L</text>
<text x="448.10" y="453.47" class="aa">S</text>
<text x="460.30" y="453.47" class="aa">E</text>
<text x="472.50" y="453.47" class="aa">Q</text>
<text x="484.71" y="453.47" class="aa">Q</text>
<text x="496.91" y="453.47" class="aa">I</text>
<text x="509.11" y="453.47" class="aa">I</text>
<text x="521.31" y="453.47" class="aa">A</text>
<text x="533.52" y="453.47" class="aa">I</text>
<text x="545.72" y="453.47" class="aa">I</text>
<text x="557.92" y="453.47" class="aa">K</text>
<text x="570.12" y="453.47" class="aa">D</text>
<text x="582.33" y="453.47" class="aa">W</text>
<text x="594.53" y="453.47" class="aa">N</text>
<text x="606.73" y="453.47" class="aa">K</text>
<text x="618.93" y="453.47" class="aa">K</text>
<text x="631.14" y="453.47" class="aa">G</text>
<text x="643.34" y="453.47" class="aa">N</text>
<text x="655.54" y="453.47" class="aa">S</text>
<text x="667.74" y="453.47" class="aa">S</text>
<text x="679.95" y="453.47" class="aa">R</text>
<text x="692.15" y="453.47" class="aa">G</text>
<text x="704.35" y="453.47" class="aa">A</text>
<text x="716.55" y="453.47" class="aa">S</text>
<text x="728.76" y="453.47" class="aa">P</text>
<text x="740.96" y="453.47" class="aa">G</text>
<text x="753.16" y="453.47" class="aa">P</text>
<text x="765.36" y="453.47" class="aa">S</text>
<text x="777.57" y="453.47" class="aa">G</text>
<text x="789.77" y="453.47" class="aa">V</text>
<text x="801.97" y="453.47" class="aa">G</text>
<text x="814.17" y="453.47" class="aa">A</text>
<text x="826.38" y="453.47" class="aa">P</text>
<text x="838.58" y="453.47" class="aa">G</text>
<text x="850.78" y="453.47" class="aa">G</text>
<text x="862.98" y="453.47" class="aa">D</text>
<text x="875.19" y="453.47" class="aa">K</text>
<text x="887.39" y="453.47" class="aa">K</text>
<text x="899.59" y="453.47" class="aa">N</text>
<text x="911.79" y="453.47" class="aa">N</text>
<text x="924.00" y="453.47" class="aa">L</text>
<text x="936.20" y="453.47" class="aa">P</text>
<text x="948.40" y="453.47" class="aa">P</text>
<text x="960.60" y="453.47" class="aa">P</text>
<text x="972.81" y="453.47" class="aa">L</text>
<text x="985.01" y="453.47" class="aa">L</text>
<text x="997.21" y="453.47" class="aa">S</text>
<text x="1009.41" y="453.47" class="aa">N</text>
</g>
<path fill="url(#rg6)" d="M47.2,451 L47.2,445.6 C48.4,445.6 50.8,445.5 54.5,445.6 C58.2,445.7 64.3,446 69.1,446.1 C74,446.2 78.9,446.2 83.8,446.1 C88.7,446 93.5,445.6 98.4,445.6 C103.3,445.6 108.2,445.8 113.1,446.1 C118,446.4 122.8,447.5 127.7,447.6 C132.6,447.7 137.5,446.5 142.4,446.9 C147.2,447.3 152.1,449.1 157,449.8 C161.9,450.5 166.8,450.9 171.6,451 C176.5,451.1 181.4,450.1 186.3,450.3 C191.2,450.5 196,452.8 200.9,452.2 C205.8,451.6 210.7,447.2 215.6,446.9 C220.5,446.6 225.3,450.8 230.2,450.6 C235.1,450.4 240,446.8 244.9,445.6 C249.7,444.4 254.6,443.6 259.5,443.2 C264.4,442.8 269.3,443.1 274.1,443.2 C279,443.3 283.9,443.3 288.8,443.7 C293.7,444.1 298.6,445.8 303.4,445.6 C308.3,445.4 313.2,442.8 318.1,442.7 C323,442.6 327.8,444.4 332.7,444.9 C337.6,445.4 342.5,446 347.4,445.6 C352.2,445.2 357.1,443.4 362,442.7 C366.9,442 371.8,441.1 376.6,441.2 C381.5,441.3 386.4,442.7 391.3,443.2 C396.2,443.7 401.1,443.9 405.9,444.2 C410.8,444.5 415.7,444.2 420.6,444.9 C425.5,445.6 430.3,448.5 435.2,448.6 C440.1,448.7 445,446.1 449.9,445.4 C454.7,444.7 459.6,443.8 464.5,444.4 C469.4,445 474.3,448.9 479.1,449.1 C484,449.3 488.9,446.6 493.8,445.6 C498.7,444.6 503.6,442.4 508.4,443.2 C513.3,444 518.2,449.9 523.1,450.6 C528,451.3 532.8,448.6 537.7,447.6 C542.6,446.6 547.5,445.3 552.4,444.7 C557.2,444 562.1,443.2 567,443.7 C571.9,444.2 576.8,446.1 581.6,447.6 C586.5,449.1 591.4,452.5 596.3,452.8 C601.2,453.1 606.1,450.2 610.9,449.6 C615.8,449 620.7,449.1 625.6,449.3 C630.5,449.5 635.3,450.7 640.2,451 C645.1,451.3 650,451.9 654.9,451 C659.7,450.1 664.6,446.3 669.5,445.6 C674.4,444.9 679.3,445.8 684.1,446.6 C689,447.3 693.9,450.3 698.8,450.1 C703.7,449.9 708.6,446.7 713.4,445.6 C718.3,444.5 723.2,444 728.1,443.7 C733,443.4 737.8,443.6 742.7,443.7 C747.6,443.8 752.5,444.4 757.4,444.2 C762.2,444 767.1,442.9 772,442.7 C776.9,442.5 781.8,442.8 786.7,442.9 C791.5,443 796.4,443.3 801.3,443.4 C806.2,443.5 811.1,443.6 815.9,443.7 C820.8,443.8 825.7,443.8 830.6,443.9 C835.5,444 840.3,444.3 845.2,444.4 C850.1,444.5 855,444.5 859.9,444.4 C864.7,444.3 869.6,443.8 874.5,443.7 C879.4,443.6 884.3,444 889.2,443.9 C894,443.8 898.9,443.4 903.8,443.2 C908.7,443 913.6,442.9 918.4,442.9 C923.3,442.9 928.2,443 933.1,443.2 C938,443.4 942.8,443.9 947.7,443.9 C952.6,443.9 957.5,442.8 962.4,443.2 C967.2,443.6 972.1,446.1 977,446.1 C981.9,446.1 986.8,444 991.7,443.2 C996.5,442.4 1001.4,441.5 1006.3,441.2 C1011.2,440.9 1016.1,441.1 1020.9,441.2 C1025.8,441.3 1030.7,441.5 1035.6,441.7 C1040.5,441.9 1045.3,442.1 1050.2,442.2 C1055.1,442.3 1060,442.3 1064.9,442.2 C1069.7,442.1 1074.6,441.9 1079.5,441.7 C1084.4,441.5 1089.3,440.3 1094.2,441 C1099,441.6 1103.9,444.8 1108.8,445.6 C1113.7,446.4 1118.6,445.6 1123.4,445.6 C1128.3,445.6 1133.2,445.5 1138.1,445.4 C1143,445.2 1147.8,444.6 1152.7,444.7 C1157.6,444.8 1162.5,445.5 1167.4,445.9 C1172.2,446.3 1177.1,447.5 1182,447.1 C1186.9,446.6 1191.8,444 1196.7,443.2 C1201.5,442.4 1207.6,442.5 1211.3,442.4 C1215,442.3 1217.4,442.4 1218.6,442.4 L1218.6,451 Z"/>
<rect x="47.2" y="449.9" width="1171.4" height="1.1" fill="url(#rl6)"/>
<rect x="47.2" y="470.9" width="497.9" height="4" fill="#CE2E96"/>
<rect x="662.2" y="470.9" width="556.4" height="4" fill="#CE2E96"/>
<path fill="#62288D" d="M164.3,466.9 L200.3,466.9 L200.3,463.3 L208.3,472.9 L200.3,482.5 L200.3,479 L164.3,479 Z"/>
<g clip-path="url(#hc7)"><path fill="#F26522" d="M553.9,482.9 L555.9,482.9 Q558,482.9 559.2,481.1 L568.4,467.1 L566.6,462.9 L563.6,462.9 Q561.4,462.9 560.4,464.9 L553.7,478.7 L551.9,478.7 Z"/><path fill="#F26522" d="M583.2,482.9 L585.2,482.9 Q587.2,482.9 588.5,481.1 L597.6,467.1 L595.8,462.9 L592.8,462.9 Q590.6,462.9 589.7,464.9 L582.9,478.7 L581.2,478.7 Z"/><path fill="#F26522" d="M612.4,482.9 L614.5,482.9 Q616.5,482.9 617.7,481.1 L626.9,467.1 L625.1,462.9 L622.1,462.9 Q619.9,462.9 619,464.9 L612.2,478.7 L610.4,478.7 Z"/><path fill="#F26522" d="M641.7,482.9 L643.8,482.9 Q645.8,482.9 647,481.1 L656.2,467.1 L654.4,462.9 L651.4,462.9 Q649.2,462.9 648.3,464.9 L641.5,478.7 L639.7,478.7 Z"/><path fill="#F7941D" d="M545,470.9 L553.5,478.7 L555.6,482.9 L552.6,482.9 Q549.5,482.9 547.6,479.5 L545,474.9 Z"/><path fill="#F7941D" d="M566.1,462.9 L571.7,462.9 Q573.7,462.9 574.6,464.7 L583.7,482.9 L578.1,482.9 Q576.1,482.9 575.2,481.2 Z"/><path fill="#F7941D" d="M595.3,462.9 L600.9,462.9 Q602.9,462.9 603.8,464.7 L612.9,482.9 L607.3,482.9 Q605.3,482.9 604.5,481.2 Z"/><path fill="#F7941D" d="M624.6,462.9 L630.2,462.9 Q632.2,462.9 633.1,464.7 L642.2,482.9 L636.6,482.9 Q634.6,482.9 633.7,481.2 Z"/><path fill="#F7941D" d="M662.2,474.9 L653.8,467.1 L651.7,462.9 L654.7,462.9 Q657.7,462.9 659.6,466.4 L662.2,470.9 Z"/></g>
<path fill="#666666" d="M47.2,494.8 C48.4,494.8 50.8,494.9 54.5,494.8 C58.2,494.8 64.3,494.6 69.1,494.7 C74,494.8 78.9,495 83.8,495.2 C88.7,495.4 93.5,495.7 98.4,495.9 C103.3,496.2 108.2,496.5 113.1,496.7 C118,496.9 122.8,497.2 127.7,497.4 C132.6,497.6 137.5,497.8 142.4,497.9 C147.2,498 152.1,498.1 157,498.1 C161.9,498.2 166.8,498.3 171.6,498.4 C176.5,498.5 181.4,498.6 186.3,498.6 C191.2,498.7 196,498.6 200.9,498.6 C205.8,498.7 210.7,498.8 215.6,498.7 C220.5,498.7 225.3,498.4 230.2,498.1 C235.1,497.9 240,497.5 244.9,497.2 C249.7,496.9 254.6,496.7 259.5,496.4 C264.4,496.2 269.3,496 274.1,495.9 C279,495.9 283.9,496.2 288.8,496.2 C293.7,496.2 298.6,496.3 303.4,496.2 C308.3,496.1 313.2,495.7 318.1,495.4 C323,495.2 327.8,494.8 332.7,494.6 C337.6,494.4 342.5,494.5 347.4,494.3 C352.2,494.2 357.1,493.8 362,493.6 C366.9,493.3 371.8,493 376.6,492.8 C381.5,492.7 386.4,492.7 391.3,492.7 C396.2,492.8 401.1,492.9 405.9,493 C410.8,493.1 415.7,493.2 420.6,493.3 C425.5,493.4 430.3,493.6 435.2,493.6 C440.1,493.6 445,493.3 449.9,493.3 C454.7,493.3 459.6,493.5 464.5,493.6 C469.4,493.7 474.3,493.9 479.1,494.1 C484,494.3 488.9,494.5 493.8,494.6 C498.7,494.7 503.6,494.7 508.4,494.8 C513.3,495 518.2,495.2 523.1,495.3 C528,495.4 532.8,495.4 537.7,495.4 C542.6,495.5 547.5,495.6 552.4,495.7 C557.2,495.8 562.1,495.9 567,495.9 C571.9,496 576.8,495.9 581.6,495.9 C586.5,496 591.4,496.2 596.3,496.2 C601.2,496.2 606.1,496.2 610.9,496.2 C615.8,496.2 620.7,496.2 625.6,496.2 C630.5,496.2 635.3,496.4 640.2,496.4 C645.1,496.4 650,496.3 654.9,496.2 C659.7,496.1 664.6,495.9 669.5,495.7 C674.4,495.4 679.3,494.9 684.1,494.7 C689,494.5 693.9,494.4 698.8,494.2 C703.7,494.1 708.6,493.8 713.4,493.6 C718.3,493.4 723.2,493.1 728.1,492.8 C733,492.6 737.8,492.2 742.7,491.9 C747.6,491.6 752.5,491.4 757.4,491.3 C762.2,491.2 767.1,491.1 772,491 C776.9,491 781.8,490.9 786.7,490.8 C791.5,490.7 796.4,490.6 801.3,490.5 C806.2,490.5 811.1,490.5 815.9,490.5 C820.8,490.5 825.7,490.5 830.6,490.5 C835.5,490.5 840.3,490.5 845.2,490.5 C850.1,490.5 855,490.5 859.9,490.5 C864.7,490.5 869.6,490.5 874.5,490.5 C879.4,490.5 884.3,490.5 889.2,490.5 C894,490.5 898.9,490.5 903.8,490.5 C908.7,490.5 913.6,490.5 918.4,490.5 C923.3,490.5 928.2,490.5 933.1,490.5 C938,490.5 942.8,490.5 947.7,490.5 C952.6,490.5 957.5,490.5 962.4,490.5 C967.2,490.5 972.1,490.5 977,490.5 C981.9,490.5 986.8,490.5 991.7,490.5 C996.5,490.5 1001.4,490.5 1006.3,490.5 C1011.2,490.5 1016.1,490.5 1020.9,490.5 C1025.8,490.5 1030.7,490.5 1035.6,490.5 C1040.5,490.5 1045.3,490.5 1050.2,490.5 C1055.1,490.5 1060,490.5 1064.9,490.5 C1069.7,490.5 1074.6,490.5 1079.5,490.5 C1084.4,490.5 1089.3,490.5 1094.2,490.5 C1099,490.6 1103.9,490.9 1108.8,491 C1113.7,491.2 1118.6,491.2 1123.4,491.2 C1128.3,491.3 1133.2,491.3 1138.1,491.3 C1143,491.3 1147.8,491.4 1152.7,491.5 C1157.6,491.6 1162.5,491.9 1167.4,492 C1172.2,492.1 1177.1,492.1 1182,492 C1186.9,491.9 1191.8,491.6 1196.7,491.5 C1201.5,491.4 1207.6,491.3 1211.3,491.2 C1215,491.2 1217.4,491.2 1218.6,491.2 L1218.6,508.3 C1217.4,508.3 1215,508.4 1211.3,508.3 C1207.6,508.3 1201.5,508.2 1196.7,508.1 C1191.8,508 1186.9,507.7 1182,507.6 C1177.1,507.5 1172.2,507.5 1167.4,507.6 C1162.5,507.7 1157.6,508 1152.7,508.1 C1147.8,508.2 1143,508.3 1138.1,508.3 C1133.2,508.3 1128.3,508.3 1123.4,508.3 C1118.6,508.4 1113.7,508.4 1108.8,508.5 C1103.9,508.7 1099,509 1094.2,509 C1089.3,509.1 1084.4,509 1079.5,509 C1074.6,509 1069.7,509 1064.9,509 C1060,509 1055.1,509 1050.2,509 C1045.3,509 1040.5,509 1035.6,509 C1030.7,509 1025.8,509 1020.9,509 C1016.1,509 1011.2,509 1006.3,509 C1001.4,509 996.5,509 991.7,509 C986.8,509 981.9,509 977,509 C972.1,509 967.2,509 962.4,509 C957.5,509 952.6,509 947.7,509 C942.8,509 938,509 933.1,509 C928.2,509 923.3,509 918.4,509 C913.6,509 908.7,509 903.8,509 C898.9,509 894,509 889.2,509 C884.3,509 879.4,509 874.5,509 C869.6,509 864.7,509 859.9,509 C855,509 850.1,509 845.2,509 C840.3,509 835.5,509 830.6,509 C825.7,509 820.8,509 815.9,509 C811.1,509 806.2,509.1 801.3,509 C796.4,509 791.5,508.9 786.7,508.8 C781.8,508.7 776.9,508.6 772,508.5 C767.1,508.5 762.2,508.4 757.4,508.3 C752.5,508.2 747.6,508 742.7,507.7 C737.8,507.4 733,507 728.1,506.7 C723.2,506.5 718.3,506.2 713.4,506 C708.6,505.8 703.7,505.5 698.8,505.3 C693.9,505.2 689,505.1 684.1,504.9 C679.3,504.7 674.4,504.1 669.5,503.9 C664.6,503.6 659.7,503.5 654.9,503.4 C650,503.3 645.1,503.1 640.2,503.1 C635.3,503.1 630.5,503.4 625.6,503.4 C620.7,503.4 615.8,503.4 610.9,503.4 C606.1,503.4 601.2,503.4 596.3,503.4 C591.4,503.4 586.5,503.6 581.6,503.6 C576.8,503.7 571.9,503.6 567,503.6 C562.1,503.7 557.2,503.8 552.4,503.9 C547.5,504 542.6,504.1 537.7,504.1 C532.8,504.2 528,504.1 523.1,504.2 C518.2,504.3 513.3,504.6 508.4,504.7 C503.6,504.9 498.7,504.9 493.8,505 C488.9,505.1 484,505.3 479.1,505.5 C474.3,505.7 469.4,505.9 464.5,506 C459.6,506.1 454.7,506.2 449.9,506.2 C445,506.2 440.1,506 435.2,506 C430.3,506 425.5,506.1 420.6,506.2 C415.7,506.3 410.8,506.5 405.9,506.6 C401.1,506.7 396.2,506.8 391.3,506.8 C386.4,506.9 381.5,506.9 376.6,506.7 C371.8,506.6 366.9,506.2 362,506 C357.1,505.7 352.2,505.4 347.4,505.2 C342.5,505.1 337.6,505.2 332.7,505 C327.8,504.8 323,504.4 318.1,504.1 C313.2,503.9 308.3,503.5 303.4,503.4 C298.6,503.3 293.7,503.4 288.8,503.4 C283.9,503.4 279,503.7 274.1,503.6 C269.3,503.6 264.4,503.4 259.5,503.1 C254.6,502.9 249.7,502.7 244.9,502.4 C240,502.1 235.1,501.7 230.2,501.4 C225.3,501.2 220.5,500.9 215.6,500.8 C210.7,500.8 205.8,500.9 200.9,500.9 C196,501 191.2,500.9 186.3,500.9 C181.4,501 176.5,501.1 171.6,501.2 C166.8,501.3 161.9,501.4 157,501.4 C152.1,501.5 147.2,501.6 142.4,501.7 C137.5,501.8 132.6,502 127.7,502.2 C122.8,502.4 118,502.7 113.1,502.9 C108.2,503.1 103.3,503.4 98.4,503.6 C93.5,503.9 88.7,504.2 83.8,504.4 C78.9,504.6 74,504.8 69.1,504.9 C64.3,505 58.2,504.8 54.5,504.7 C50.8,504.7 48.4,504.7 47.2,504.7 Z"/>
<rect x="47.2" y="522.9" width="1171.4" height="1.7" fill="#2b2b2b"/>
<rect x="112.4" y="518.8" width="1.3" height="5" fill="#2b2b2b"/>
<text x="113.5" y="537.4" class="tk">245</text>
<rect x="185.6" y="518.8" width="1.3" height="5" fill="#2b2b2b"/>
<text x="186.7" y="537.4" class="tk">250</text>
<rect x="258.9" y="518.8" width="1.3" height="5" fill="#2b2b2b"/>
<text x="259.9" y="537.4" class="tk">255</text>
<rect x="332.1" y="518.8" width="1.3" height="5" fill="#2b2b2b"/>
<text x="333.1" y="537.4" class="tk">260</text>
<rect x="405.3" y="518.8" width="1.3" height="5" fill="#2b2b2b"/>
<text x="406.3" y="537.4" class="tk">265</text>
<rect x="478.5" y="518.8" width="1.3" height="5" fill="#2b2b2b"/>
<text x="479.5" y="537.4" class="tk">270</text>
<rect x="551.7" y="518.8" width="1.3" height="5" fill="#2b2b2b"/>
<text x="552.8" y="537.4" class="tk">275</text>
<rect x="624.9" y="518.8" width="1.3" height="5" fill="#2b2b2b"/>
<text x="626" y="537.4" class="tk">280</text>
<rect x="698.1" y="518.8" width="1.3" height="5" fill="#2b2b2b"/>
<text x="699.2" y="537.4" class="tk">285</text>
<rect x="771.4" y="518.8" width="1.3" height="5" fill="#2b2b2b"/>
<text x="772.4" y="537.4" class="tk">290</text>
<rect x="844.6" y="518.8" width="1.3" height="5" fill="#2b2b2b"/>
<text x="845.6" y="537.4" class="tk">295</text>
<rect x="917.8" y="518.8" width="1.3" height="5" fill="#2b2b2b"/>
<text x="918.8" y="537.4" class="tk">300</text>
<rect x="991" y="518.8" width="1.3" height="5" fill="#2b2b2b"/>
<text x="992.1" y="537.4" class="tk">305</text>
<rect x="1064.2" y="518.8" width="1.3" height="5" fill="#2b2b2b"/>
<text x="1065.3" y="537.4" class="tk">310</text>
<rect x="1137.4" y="518.8" width="1.3" height="5" fill="#2b2b2b"/>
<text x="1138.5" y="537.4" class="tk">315</text>
<rect x="1210.6" y="518.8" width="1.3" height="5" fill="#2b2b2b"/>
<text x="1211.7" y="537.4" class="tk">320</text>
<g transform="scale(1.2,0.95)">
<text x="45.42" y="594.74" class="aa">S</text>
<text x="57.62" y="594.74" class="aa">T</text>
<text x="69.82" y="594.74" class="aa">G</text>
<text x="82.02" y="594.74" class="aa">T</text>
<text x="94.23" y="594.74" class="aa">D</text>
<text x="106.43" y="594.74" class="aa">F</text>
<text x="118.63" y="594.74" class="aa">K</text>
<text x="130.83" y="594.74" class="aa">D</text>
<text x="143.04" y="594.74" class="aa">E</text>
<text x="155.24" y="594.74" class="aa">L</text>
<text x="167.44" y="594.74" class="aa">K</text>
<text x="179.64" y="594.74" class="aa">K</text>
<text x="191.85" y="594.74" class="aa">L</text>
<text x="204.05" y="594.74" class="aa">G</text>
<text x="216.25" y="594.74" class="aa">I</text>
<text x="228.45" y="594.74" class="aa">G</text>
<text x="240.66" y="594.74" class="aa">G</text>
<text x="252.86" y="594.74" class="aa">D</text>
<text x="265.06" y="594.74" class="aa">R</text>
<text x="277.26" y="594.74" class="aa">T</text>
<text x="289.47" y="594.74" class="aa">E</text>
<text x="301.67" y="594.74" class="aa">R</text>
<text x="313.87" y="594.74" class="aa">L</text>
<text x="326.07" y="594.74" class="aa">T</text>
<text x="338.28" y="594.74" class="aa">Q</text>
<text x="350.48" y="594.74" class="aa">E</text>
<text x="362.68" y="594.74" class="aa">M</text>
<text x="374.88" y="594.74" class="aa">E</text>
<text x="387.09" y="594.74" class="aa">L</text>
<text x="399.29" y="594.74" class="aa">S</text>
<text x="411.49" y="594.74" class="aa">N</text>
<text x="423.69" y="594.74" class="aa">W</text>
<text x="435.90" y="594.74" class="aa">H</text>
<text x="448.10" y="594.74" class="aa">H</text>
<text x="460.30" y="594.74" class="aa">H</text>
<text x="472.50" y="594.74" class="aa">H</text>
<text x="484.71" y="594.74" class="aa">H</text>
<text x="496.91" y="594.74" class="aa">H</text>
</g>
<path fill="url(#rg8)" d="M47.2,585.2 L47.2,578.9 C48.4,578.9 50.8,579.1 54.5,578.9 C58.2,578.7 64.3,577.7 69.1,577.7 C74,577.8 78.9,579 83.8,579.2 C88.7,579.5 93.5,579.1 98.4,579.2 C103.3,579.4 108.2,579 113.1,580.1 C118,581.2 122.8,585.5 127.7,585.6 C132.6,585.6 137.5,581.6 142.4,580.6 C147.2,579.6 152.1,579.4 157,579.6 C161.9,579.9 166.8,581 171.6,582.1 C176.5,583.2 181.4,586.5 186.3,585.9 C191.2,585.4 196,580.3 200.9,578.9 C205.8,577.5 210.7,576.9 215.6,577.7 C220.5,578.5 225.3,583.4 230.2,583.6 C235.1,583.9 240,579.2 244.9,579.2 C249.7,579.2 254.6,583.6 259.5,583.6 C264.4,583.6 269.3,580.1 274.1,579.2 C279,578.3 283.9,578.5 288.8,578.4 C293.7,578.3 298.6,578.2 303.4,578.4 C308.3,578.6 313.2,579.4 318.1,579.6 C323,579.8 327.8,579.6 332.7,579.6 C337.6,579.6 342.5,579.3 347.4,579.6 C352.2,579.9 357.1,580.8 362,581.6 C366.9,582.4 371.8,584.4 376.6,584.6 C381.5,584.8 386.4,583.4 391.3,582.6 C396.2,581.9 401.1,580.4 405.9,580.1 C410.8,579.8 415.7,580 420.6,580.6 C425.5,581.2 430.3,583.8 435.2,583.6 C440.1,583.4 445,579.8 449.9,579.2 C454.7,578.6 459.6,580.1 464.5,580.1 C469.4,580.1 474.3,579.9 479.1,579.4 C484,578.9 488.9,577.3 493.8,577.2 C498.7,577.1 503.6,578.7 508.4,578.9 C513.3,579.1 518.2,578.5 523.1,578.4 C528,578.3 532.8,578.2 537.7,578.2 C542.6,578.2 547.5,578.3 552.4,578.2 C557.2,578.1 562.1,578.1 567,577.7 C571.9,577.3 576.8,576.1 581.6,575.7 C586.5,575.3 592.6,575.3 596.3,575.2 C600,575.1 602.4,575.2 603.6,575.2 L603.6,585.2 Z"/>
<rect x="47.2" y="584.1" width="556.4" height="1.1" fill="url(#rl8)"/>
<rect x="47.2" y="605.1" width="87.9" height="4" fill="#CE2E96"/>
<rect x="208.3" y="605.1" width="395.4" height="4" fill="#CE2E96"/>
<g clip-path="url(#hc9)"><path fill="#F26522" d="M143.9,617.1 L145.9,617.1 Q148,617.1 149.2,615.3 L158.4,601.4 L156.6,597.1 L153.6,597.1 Q151.4,597.1 150.4,599.1 L143.7,612.9 L141.9,612.9 Z"/><path fill="#F26522" d="M173.2,617.1 L175.2,617.1 Q177.2,617.1 178.5,615.3 L187.6,601.4 L185.8,597.1 L182.8,597.1 Q180.6,597.1 179.7,599.1 L172.9,612.9 L171.2,612.9 Z"/><path fill="#F26522" d="M208.3,605.1 L199.8,612.9 L197.7,617.1 L200.7,617.1 Q203.8,617.1 205.7,613.7 L208.3,609.1 Z"/><path fill="#F7941D" d="M135,605.1 L143.5,612.9 L145.6,617.1 L142.5,617.1 Q139.5,617.1 137.6,613.7 L135,609.1 Z"/><path fill="#F7941D" d="M156.1,597.1 L161.7,597.1 Q163.7,597.1 164.6,598.9 L173.7,617.1 L168.1,617.1 Q166.1,617.1 165.2,615.4 Z"/><path fill="#F7941D" d="M185.3,597.1 L190.9,597.1 Q192.9,597.1 193.8,598.9 L202.9,617.1 L197.3,617.1 Q195.3,617.1 194.4,615.4 Z"/></g>
<path fill="#666666" d="M47.2,626.1 C48.4,626.1 50.8,626.1 54.5,626.1 C58.2,626.1 64.3,626.2 69.1,626.4 C74,626.5 78.9,626.7 83.8,626.9 C88.7,627 93.5,627.2 98.4,627.5 C103.3,627.7 108.2,628.2 113.1,628.5 C118,628.7 122.8,628.8 127.7,628.9 C132.6,629 137.5,629.1 142.4,629.1 C147.2,629.2 152.1,629.3 157,629.4 C161.9,629.5 166.8,629.7 171.6,629.8 C176.5,629.9 181.4,630.1 186.3,630.1 C191.2,630.1 196,629.9 200.9,629.8 C205.8,629.7 210.7,629.7 215.6,629.5 C220.5,629.4 225.3,629.3 230.2,629.1 C235.1,629 240,628.7 244.9,628.5 C249.7,628.2 254.6,628.1 259.5,628 C264.4,627.8 269.3,627.6 274.1,627.5 C279,627.3 283.9,627.2 288.8,627.2 C293.7,627.2 298.6,627.4 303.4,627.5 C308.3,627.5 313.2,627.6 318.1,627.7 C323,627.8 327.8,627.8 332.7,628 C337.6,628.1 342.5,628.3 347.4,628.5 C352.2,628.6 357.1,628.7 362,628.8 C366.9,628.9 371.8,629 376.6,629 C381.5,629.1 386.4,629 391.3,628.9 C396.2,628.8 401.1,628.7 405.9,628.6 C410.8,628.6 415.7,628.5 420.6,628.5 C425.5,628.4 430.3,628.3 435.2,628.2 C440.1,628.1 445,628.1 449.9,628 C454.7,627.8 459.6,627.7 464.5,627.5 C469.4,627.2 474.3,626.9 479.1,626.6 C484,626.3 488.9,626 493.8,625.9 C498.7,625.7 503.6,625.6 508.4,625.5 C513.3,625.4 518.2,625.3 523.1,625.2 C528,625.2 532.8,625.1 537.7,625.1 C542.6,625.1 547.5,625.1 552.4,625.1 C557.2,625.1 562.1,625.1 567,625.1 C571.9,625.1 576.8,625.1 581.6,625.1 C586.5,625.1 592.6,625.1 596.3,625.1 C600,625.1 602.4,625.1 603.6,625.1 L603.6,642.9 C602.4,642.9 600,642.9 596.3,642.9 C592.6,642.9 586.5,642.9 581.6,642.9 C576.8,642.9 571.9,642.9 567,642.9 C562.1,642.9 557.2,642.9 552.4,642.9 C547.5,642.9 542.6,642.9 537.7,642.9 C532.8,642.9 528,642.8 523.1,642.8 C518.2,642.7 513.3,642.6 508.4,642.5 C503.6,642.4 498.7,642.3 493.8,642.1 C488.9,642 484,641.7 479.1,641.4 C474.3,641.1 469.4,640.8 464.5,640.5 C459.6,640.3 454.7,640.2 449.9,640 C445,639.9 440.1,639.9 435.2,639.8 C430.3,639.7 425.5,639.6 420.6,639.5 C415.7,639.5 410.8,639.4 405.9,639.4 C401.1,639.3 396.2,639.2 391.3,639.1 C386.4,639 381.5,638.9 376.6,639 C371.8,639 366.9,639.1 362,639.2 C357.1,639.3 352.2,639.4 347.4,639.5 C342.5,639.7 337.6,639.9 332.7,640 C327.8,640.2 323,640.2 318.1,640.3 C313.2,640.4 308.3,640.5 303.4,640.5 C298.6,640.6 293.7,640.8 288.8,640.8 C283.9,640.8 279,640.7 274.1,640.5 C269.3,640.4 264.4,640.2 259.5,640 C254.6,639.9 249.7,639.8 244.9,639.5 C240,639.3 235.1,639 230.2,638.9 C225.3,638.7 220.5,638.6 215.6,638.5 C210.7,638.3 205.8,638.3 200.9,638.2 C196,638.1 191.2,637.9 186.3,637.9 C181.4,637.9 176.5,638.1 171.6,638.2 C166.8,638.3 161.9,638.5 157,638.6 C152.1,638.7 147.2,638.8 142.4,638.9 C137.5,638.9 132.6,639 127.7,639.1 C122.8,639.2 118,639.3 113.1,639.5 C108.2,639.8 103.3,640.3 98.4,640.5 C93.5,640.8 88.7,641 83.8,641.1 C78.9,641.3 74,641.5 69.1,641.6 C64.3,641.8 58.2,641.9 54.5,641.9 C50.8,641.9 48.4,641.9 47.2,641.9 Z"/>
<rect x="47.2" y="657.1" width="549.1" height="1.7" fill="#2b2b2b"/>
<circle cx="596.3" cy="658" r="2.5" fill="#000"/>
<rect x="112.4" y="653" width="1.3" height="5" fill="#2b2b2b"/>
<text x="113.5" y="671.6" class="tk">325</text>
<rect x="185.6" y="653" width="1.3" height="5" fill="#2b2b2b"/>
<text x="186.7" y="671.6" class="tk">330</text>
<rect x="258.9" y="653" width="1.3" height="5" fill="#2b2b2b"/>
<text x="259.9" y="671.6" class="tk">335</text>
<rect x="332.1" y="653" width="1.3" height="5" fill="#2b2b2b"/>
<text x="333.1" y="671.6" class="tk">340</text>
<rect x="405.3" y="653" width="1.3" height="5" fill="#2b2b2b"/>
<text x="406.3" y="671.6" class="tk">345</text>
<rect x="478.5" y="653" width="1.3" height="5" fill="#2b2b2b"/>
<text x="479.5" y="671.6" class="tk">350</text>
<rect x="551.7" y="653" width="1.3" height="5" fill="#2b2b2b"/>
<text x="552.8" y="671.6" class="tk">355</text>
<g transform="scale(1.2,0.95)">
<text x="38.70" y="773.89" class="aa">M</text>
<text x="50.94" y="773.89" class="aa">S</text>
<text x="63.18" y="773.89" class="aa">D</text>
<text x="75.42" y="773.89" class="aa">I</text>
<text x="87.67" y="773.89" class="aa">N</text>
<text x="99.91" y="773.89" class="aa">K</text>
<text x="112.15" y="773.89" class="aa">L</text>
<text x="124.39" y="773.89" class="aa">A</text>
<text x="136.63" y="773.89" class="aa">E</text>
<text x="148.88" y="773.89" class="aa">N</text>
<text x="161.12" y="773.89" class="aa">L</text>
<text x="173.36" y="773.89" class="aa">K</text>
<text x="185.60" y="773.89" class="aa">I</text>
<text x="197.84" y="773.89" class="aa">V</text>
<text x="210.08" y="773.89" class="aa">E</text>
<text x="222.32" y="773.89" class="aa">V</text>
<text x="234.57" y="773.89" class="aa">N</text>
<text x="246.81" y="773.89" class="aa">D</text>
<text x="259.05" y="773.89" class="aa">L</text>
<text x="271.29" y="773.89" class="aa">A</text>
<text x="283.53" y="773.89" class="aa">K</text>
<text x="295.78" y="773.89" class="aa">I</text>
<text x="308.02" y="773.89" class="aa">L</text>
<text x="320.26" y="773.89" class="aa">K</text>
<text x="332.50" y="773.89" class="aa">E</text>
<text x="344.74" y="773.89" class="aa">K</text>
<text x="356.98" y="773.89" class="aa">Y</text>
<text x="369.23" y="773.89" class="aa">G</text>
<text x="381.47" y="773.89" class="aa">L</text>
<text x="393.71" y="773.89" class="aa">D</text>
<text x="405.95" y="773.89" class="aa">P</text>
<text x="418.19" y="773.89" class="aa">S</text>
<text x="430.43" y="773.89" class="aa">A</text>
<text x="442.68" y="773.89" class="aa">N</text>
<text x="454.92" y="773.89" class="aa">L</text>
<text x="467.16" y="773.89" class="aa">A</text>
<text x="479.40" y="773.89" class="aa">I</text>
<text x="491.64" y="773.89" class="aa">P</text>
<text x="503.88" y="773.89" class="aa">S</text>
<text x="516.12" y="773.89" class="aa">L</text>
<text x="528.37" y="773.89" class="aa">P</text>
<text x="540.61" y="773.89" class="aa">K</text>
<text x="552.85" y="773.89" class="aa">A</text>
<text x="565.09" y="773.89" class="aa">E</text>
<text x="577.33" y="773.89" class="aa">I</text>
<text x="589.58" y="773.89" class="aa">L</text>
<text x="601.82" y="773.89" class="aa">D</text>
<text x="614.06" y="773.89" class="aa">K</text>
<text x="626.30" y="773.89" class="aa">S</text>
<text x="638.54" y="773.89" class="aa">K</text>
<text x="650.78" y="773.89" class="aa">E</text>
<text x="663.02" y="773.89" class="aa">K</text>
<text x="675.27" y="773.89" class="aa">T</text>
<text x="687.51" y="773.89" class="aa">S</text>
<text x="699.75" y="773.89" class="aa">F</text>
<text x="711.99" y="773.89" class="aa">D</text>
<text x="724.23" y="773.89" class="aa">L</text>
<text x="736.48" y="773.89" class="aa">I</text>
<text x="748.72" y="773.89" class="aa">L</text>
<text x="760.96" y="773.89" class="aa">K</text>
<text x="773.20" y="773.89" class="aa">G</text>
<text x="785.44" y="773.89" class="aa">A</text>
<text x="797.68" y="773.89" class="aa">G</text>
<text x="809.92" y="773.89" class="aa">S</text>
<text x="822.17" y="773.89" class="aa">A</text>
<text x="834.41" y="773.89" class="aa">K</text>
<text x="846.65" y="773.89" class="aa">L</text>
<text x="858.89" y="773.89" class="aa">T</text>
<text x="871.13" y="773.89" class="aa">V</text>
<text x="883.38" y="773.89" class="aa">V</text>
<text x="895.62" y="773.89" class="aa">K</text>
<text x="907.86" y="773.89" class="aa">R</text>
<text x="920.10" y="773.89" class="aa">I</text>
<text x="932.34" y="773.89" class="aa">K</text>
<text x="944.58" y="773.89" class="aa">D</text>
<text x="956.83" y="773.89" class="aa">L</text>
<text x="969.07" y="773.89" class="aa">I</text>
<text x="981.31" y="773.89" class="aa">G</text>
<text x="993.55" y="773.89" class="aa">L</text>
<text x="1005.79" y="773.89" class="aa">G</text>
</g>
<path fill="url(#rg10)" d="M39.1,754.6 L39.1,742.8 C40.3,742.8 42.8,742.7 46.4,742.8 C50.1,742.9 56.2,742.9 61.1,743.3 C66,743.7 70.9,743.8 75.8,745.3 C80.7,746.8 85.6,751.7 90.5,752.2 C95.4,752.7 100.3,748.9 105.2,748.3 C110.1,747.7 115,747.9 119.9,748.5 C124.8,749.1 129.7,751.5 134.6,752.2 C139.5,752.9 144.4,753.5 149.3,752.7 C154.2,751.9 159.1,748.6 164,747.3 C168.9,746 173.8,743.8 178.7,744.8 C183.5,745.8 188.4,752.4 193.3,753.2 C198.2,754 203.1,750.3 208,749.7 C212.9,749.1 217.8,749.7 222.7,749.7 C227.6,749.7 232.5,749.5 237.4,749.7 C242.3,750 247.2,750.4 252.1,751.2 C257,752 261.9,754.6 266.8,754.6 C271.7,754.6 276.6,751.9 281.5,751.2 C286.4,750.6 291.3,750.2 296.2,750.7 C301.1,751.2 306,753.6 310.9,754.2 C315.8,754.8 320.7,755 325.6,754.2 C330.4,753.5 335.3,750 340.2,749.7 C345.1,749.4 350,751.2 354.9,752.2 C359.8,753.2 364.7,755.9 369.6,755.6 C374.5,755.2 379.4,751.7 384.3,750.2 C389.2,748.7 394.1,746.6 399,746.3 C403.9,746.1 408.8,748 413.7,748.7 C418.6,749.4 423.5,751.3 428.4,750.7 C433.3,750.1 438.2,745.1 443.1,745.3 C448,745.6 452.9,751.6 457.8,752.2 C462.7,752.8 467.6,749.2 472.4,748.7 C477.3,748.2 482.2,749.3 487.1,749.2 C492,749.1 496.9,748.2 501.8,748.3 C506.7,748.4 511.6,750 516.5,749.7 C521.4,749.5 526.3,747 531.2,746.8 C536.1,746.6 541,748.6 545.9,748.7 C550.8,748.8 555.7,747.2 560.6,747.3 C565.5,747.4 570.4,749.2 575.3,749.2 C580.2,749.2 585.1,748 590,747.3 C594.9,746.6 599.8,744.6 604.7,744.8 C609.6,745 614.5,748.3 619.3,748.7 C624.2,749.1 629.1,747.9 634,747.3 C638.9,746.7 643.8,745.3 648.7,745.3 C653.6,745.3 658.5,747.2 663.4,747.3 C668.3,747.4 673.2,745.8 678.1,745.8 C683,745.8 687.9,747 692.8,747.3 C697.7,747.6 702.6,748.1 707.5,747.8 C712.4,747.5 717.3,745.6 722.2,745.3 C727.1,745 732,745.8 736.9,745.8 C741.8,745.8 746.7,745.5 751.6,745.3 C756.5,745.1 761.4,745 766.2,744.8 C771.1,744.6 776,743.9 780.9,744.3 C785.8,744.7 790.7,746.2 795.6,747.3 C800.5,748.4 805.4,750.4 810.3,751 C815.2,751.6 820.1,750.3 825,751.2 C829.9,752.1 834.8,755.8 839.7,756.4 C844.6,757 849.5,754.3 854.4,754.6 C859.3,754.9 864.2,757.8 869.1,758.2 C874,758.6 878.9,756.9 883.8,757 C888.7,757.1 893.6,759.7 898.5,758.8 C903.4,757.9 908.3,752.9 913.1,751.6 C918,750.3 922.9,750.9 927.8,751.2 C932.7,751.6 937.6,753.8 942.5,753.7 C947.4,753.6 952.3,752.4 957.2,750.7 C962.1,749.1 967,743.8 971.9,743.8 C976.8,743.8 981.7,748.8 986.6,750.7 C991.5,752.6 996.4,755 1001.3,755.2 C1006.2,755.4 1011.1,752.5 1016,751.7 C1020.9,750.9 1025.8,749.3 1030.7,750.2 C1035.6,751.1 1040.5,755.8 1045.4,757 C1050.3,758.2 1055.2,758.7 1060,757.6 C1064.9,756.5 1069.8,751 1074.7,750.2 C1079.6,749.4 1084.5,751.3 1089.4,752.7 C1094.3,754.1 1099.2,758.7 1104.1,758.8 C1109,758.9 1113.9,755.3 1118.8,753.2 C1123.7,751.1 1128.6,746.4 1133.5,746.3 C1138.4,746.2 1143.3,751.2 1148.2,752.7 C1153.1,754.2 1158,756.5 1162.9,755.2 C1167.8,753.9 1172.7,744.8 1177.6,744.8 C1182.5,744.8 1187.4,753.8 1192.3,755.2 C1197.2,756.6 1203.3,753.7 1207,753.4 C1210.6,753.1 1213.1,753.4 1214.3,753.4 L1214.3,754.6 Z"/>
<rect x="39.1" y="753.5" width="1175.2" height="1.1" fill="url(#rl10)"/>
<rect x="39.1" y="773.3" width="308.5" height="4" fill="#CE2E96"/>
<rect x="406.3" y="773.3" width="572.9" height="4" fill="#CE2E96"/>
<rect x="1170.2" y="773.3" width="44.1" height="4" fill="#CE2E96"/>
<g clip-path="url(#hc11)"><path fill="#F26522" d="M355.4,784.8 L358.3,784.8 Q360.5,784.8 361.8,783 L370.4,770 L368.6,765.8 L365.6,765.8 Q363.4,765.8 362.5,767.8 L356.2,780.6 L353.4,780.6 Z"/><path fill="#F26522" d="M384.7,784.8 L387.7,784.8 Q389.9,784.8 391.1,783 L399.8,770 L398,765.8 L395,765.8 Q392.8,765.8 391.8,767.8 L385.6,780.6 L382.7,780.6 Z"/><path fill="#F7941D" d="M347.6,773.3 L356,780.6 L358.1,784.8 L355.1,784.8 Q352.1,784.8 350,781.4 L347.6,777.3 Z"/><path fill="#F7941D" d="M368.1,765.8 L373.7,765.8 Q375.7,765.8 376.6,767.6 L385.2,784.8 L379.6,784.8 Q377.6,784.8 376.7,783 Z"/><path fill="#F7941D" d="M406.3,777.3 L397.9,770 L395.8,765.8 L398.8,765.8 Q401.8,765.8 403.9,769.2 L406.3,773.3 Z"/></g>
<path fill="#62288D" d="M817.7,769.5 L912.5,769.5 L912.5,766.1 L920.5,775.3 L912.5,784.5 L912.5,781.1 L817.7,781.1 Z"/>
<g clip-path="url(#hc12)"><path fill="#F26522" d="M987,784.8 L990,784.8 Q992.2,784.8 993.4,783 L1002.1,770 L1000.3,765.8 L997.3,765.8 Q995.1,765.8 994.1,767.8 L987.9,780.6 L985,780.6 Z"/><path fill="#F26522" d="M1016.4,784.8 L1019.4,784.8 Q1021.6,784.8 1022.8,783 L1031.5,770 L1029.7,765.8 L1026.7,765.8 Q1024.5,765.8 1023.5,767.8 L1017.3,780.6 L1014.4,780.6 Z"/><path fill="#F26522" d="M1045.8,784.8 L1048.8,784.8 Q1051,784.8 1052.2,783 L1060.9,770 L1059.1,765.8 L1056.1,765.8 Q1053.9,765.8 1052.9,767.8 L1046.7,780.6 L1043.8,780.6 Z"/><path fill="#F26522" d="M1075.2,784.8 L1078.1,784.8 Q1080.3,784.8 1081.6,783 L1090.2,770 L1088.4,765.8 L1085.4,765.8 Q1083.2,765.8 1082.3,767.8 L1076,780.6 L1073.2,780.6 Z"/><path fill="#F26522" d="M1104.5,784.8 L1107.5,784.8 Q1109.7,784.8 1110.9,783 L1119.6,770 L1117.8,765.8 L1114.8,765.8 Q1112.6,765.8 1111.7,767.8 L1105.4,780.6 L1102.5,780.6 Z"/><path fill="#F26522" d="M1133.9,784.8 L1136.9,784.8 Q1139.1,784.8 1140.3,783 L1149,770 L1147.2,765.8 L1144.2,765.8 Q1142,765.8 1141,767.8 L1134.8,780.6 L1131.9,780.6 Z"/><path fill="#F26522" d="M1170.2,773.3 L1161.8,780.6 L1159.7,784.8 L1162.7,784.8 Q1165.7,784.8 1167.8,781.4 L1170.2,777.3 Z"/><path fill="#F7941D" d="M979.3,773.3 L987.7,780.6 L989.8,784.8 L986.8,784.8 Q983.8,784.8 981.7,781.4 L979.3,777.3 Z"/><path fill="#F7941D" d="M999.8,765.8 L1005.4,765.8 Q1007.4,765.8 1008.3,767.6 L1016.9,784.8 L1011.3,784.8 Q1009.3,784.8 1008.4,783 Z"/><path fill="#F7941D" d="M1029.2,765.8 L1034.8,765.8 Q1036.8,765.8 1037.7,767.6 L1046.3,784.8 L1040.7,784.8 Q1038.7,784.8 1037.8,783 Z"/><path fill="#F7941D" d="M1058.6,765.8 L1064.2,765.8 Q1066.2,765.8 1067.1,767.6 L1075.7,784.8 L1070.1,784.8 Q1068.1,784.8 1067.2,783 Z"/><path fill="#F7941D" d="M1087.9,765.8 L1093.5,765.8 Q1095.5,765.8 1096.4,767.6 L1105,784.8 L1099.4,784.8 Q1097.4,784.8 1096.5,783 Z"/><path fill="#F7941D" d="M1117.3,765.8 L1122.9,765.8 Q1124.9,765.8 1125.8,767.6 L1134.4,784.8 L1128.8,784.8 Q1126.8,784.8 1125.9,783 Z"/><path fill="#F7941D" d="M1146.7,765.8 L1152.3,765.8 Q1154.3,765.8 1155.2,767.6 L1163.8,784.8 L1158.2,784.8 Q1156.2,784.8 1155.3,783 Z"/></g>
<path fill="#666666" d="M39.1,791.5 C40.3,791.5 42.8,791.5 46.4,791.5 C50.1,791.5 56.2,791.6 61.1,791.8 C66,791.9 70.9,792.1 75.8,792.2 C80.7,792.4 85.6,792.6 90.5,792.8 C95.4,792.9 100.3,793.2 105.2,793.4 C110.1,793.5 115,793.7 119.9,793.7 C124.8,793.7 129.7,793.5 134.6,793.4 C139.5,793.4 144.4,793.4 149.3,793.4 C154.2,793.5 159.1,793.6 164,793.6 C168.9,793.6 173.8,793.7 178.7,793.7 C183.5,793.7 188.4,793.7 193.3,793.7 C198.2,793.7 203.1,793.8 208,793.9 C212.9,793.9 217.8,794 222.7,794.1 C227.6,794.2 232.5,794.5 237.4,794.6 C242.3,794.7 247.2,794.7 252.1,794.7 C257,794.7 261.9,794.7 266.8,794.7 C271.7,794.7 276.6,794.7 281.5,794.7 C286.4,794.7 291.3,794.7 296.2,794.7 C301.1,794.7 306,794.8 310.9,794.9 C315.8,795.1 320.7,795.3 325.6,795.4 C330.4,795.6 335.3,795.7 340.2,795.8 C345.1,795.9 350,796.1 354.9,796.2 C359.8,796.3 364.7,796.3 369.6,796.3 C374.5,796.3 379.4,796.3 384.3,796.3 C389.2,796.3 394.1,796.2 399,796.2 C403.9,796.2 408.8,796.1 413.7,796 C418.6,796 423.5,795.9 428.4,795.8 C433.3,795.7 438.2,795.7 443.1,795.4 C448,795.2 452.9,794.4 457.8,794.1 C462.7,793.8 467.6,793.8 472.4,793.7 C477.3,793.6 482.2,793.5 487.1,793.4 C492,793.4 496.9,793.3 501.8,793.2 C506.7,793.2 511.6,793.1 516.5,793 C521.4,792.9 526.3,792.8 531.2,792.8 C536.1,792.7 541,792.6 545.9,792.5 C550.8,792.4 555.7,792.4 560.6,792.4 C565.5,792.3 570.4,792.3 575.3,792.2 C580.2,792.2 585.1,792 590,792 C594.9,792 599.8,792 604.7,792 C609.6,792 614.5,791.8 619.3,791.8 C624.2,791.8 629.1,792 634,792 C638.9,792 643.8,792 648.7,792 C653.6,792 658.5,792 663.4,792 C668.3,792 673.2,792 678.1,792 C683,792.1 687.9,792.1 692.8,792.1 C697.7,792.1 702.6,792.1 707.5,792.1 C712.4,792.2 717.3,792.2 722.2,792.2 C727.1,792.2 732,792.2 736.9,792.2 C741.8,792.3 746.7,792.3 751.6,792.5 C756.5,792.7 761.4,793.1 766.2,793.4 C771.1,793.8 776,793.7 780.9,794.4 C785.8,795.2 790.7,797.1 795.6,797.9 C800.5,798.7 805.4,799 810.3,799.4 C815.2,799.7 820.1,799.7 825,799.7 C829.9,799.8 834.8,799.7 839.7,799.7 C844.6,799.7 849.5,799.7 854.4,799.7 C859.3,799.7 864.2,799.7 869.1,799.7 C874,799.7 878.9,799.7 883.8,799.7 C888.7,799.7 893.6,799.7 898.5,799.7 C903.4,799.7 908.3,799.7 913.1,799.7 C918,799.7 922.9,799.8 927.8,799.7 C932.7,799.7 937.6,799.5 942.5,799.4 C947.4,799.4 952.3,799.3 957.2,799.4 C962.1,799.4 967,799.5 971.9,799.5 C976.8,799.6 981.7,799.7 986.6,799.7 C991.5,799.8 996.4,799.7 1001.3,799.7 C1006.2,799.7 1011.1,799.7 1016,799.7 C1020.9,799.7 1025.8,799.7 1030.7,799.7 C1035.6,799.7 1040.5,799.7 1045.4,799.7 C1050.3,799.7 1055.2,799.7 1060,799.7 C1064.9,799.7 1069.8,799.7 1074.7,799.7 C1079.6,799.7 1084.5,799.7 1089.4,799.7 C1094.3,799.7 1099.2,799.7 1104.1,799.7 C1109,799.7 1113.9,799.7 1118.8,799.7 C1123.7,799.7 1128.6,799.7 1133.5,799.7 C1138.4,799.7 1143.3,799.7 1148.2,799.7 C1153.1,799.7 1158,799.7 1162.9,799.7 C1167.8,799.7 1172.7,799.7 1177.6,799.7 C1182.5,799.7 1187.4,799.7 1192.3,799.7 C1197.2,799.7 1203.3,799.7 1207,799.7 C1210.6,799.7 1213.1,799.7 1214.3,799.7 L1214.3,801.1 C1213.1,801.1 1210.6,801.1 1207,801.1 C1203.3,801.1 1197.2,801.1 1192.3,801.1 C1187.4,801.1 1182.5,801.1 1177.6,801.1 C1172.7,801.1 1167.8,801.1 1162.9,801.1 C1158,801.1 1153.1,801.1 1148.2,801.1 C1143.3,801.1 1138.4,801.1 1133.5,801.1 C1128.6,801.1 1123.7,801.1 1118.8,801.1 C1113.9,801.1 1109,801.1 1104.1,801.1 C1099.2,801.1 1094.3,801.1 1089.4,801.1 C1084.5,801.1 1079.6,801.1 1074.7,801.1 C1069.8,801.1 1064.9,801.1 1060,801.1 C1055.2,801.1 1050.3,801.1 1045.4,801.1 C1040.5,801.1 1035.6,801.1 1030.7,801.1 C1025.8,801.1 1020.9,801.1 1016,801.1 C1011.1,801.1 1006.2,801.1 1001.3,801.1 C996.4,801.1 991.5,801 986.6,801.1 C981.7,801.1 976.8,801.2 971.9,801.2 C967,801.3 962.1,801.4 957.2,801.4 C952.3,801.5 947.4,801.4 942.5,801.4 C937.6,801.3 932.7,801.1 927.8,801.1 C922.9,801 918,801.1 913.1,801.1 C908.3,801.1 903.4,801.1 898.5,801.1 C893.6,801.1 888.7,801.1 883.8,801.1 C878.9,801.1 874,801.1 869.1,801.1 C864.2,801.1 859.3,801.1 854.4,801.1 C849.5,801.1 844.6,801.1 839.7,801.1 C834.8,801.1 829.9,801 825,801.1 C820.1,801.1 815.2,801.1 810.3,801.4 C805.4,801.8 800.5,802.1 795.6,802.9 C790.7,803.7 785.8,805.6 780.9,806.4 C776,807.1 771.1,807 766.2,807.4 C761.4,807.7 756.5,808.1 751.6,808.3 C746.7,808.5 741.8,808.5 736.9,808.5 C732,808.6 727.1,808.6 722.2,808.6 C717.3,808.6 712.4,808.6 707.5,808.6 C702.6,808.7 697.7,808.7 692.8,808.7 C687.9,808.7 683,808.7 678.1,808.8 C673.2,808.8 668.3,808.8 663.4,808.8 C658.5,808.8 653.6,808.8 648.7,808.8 C643.8,808.8 638.9,808.8 634,808.8 C629.1,808.8 624.2,809 619.3,809 C614.5,809 609.6,808.8 604.7,808.8 C599.8,808.8 594.9,808.8 590,808.8 C585.1,808.8 580.2,808.6 575.3,808.5 C570.4,808.5 565.5,808.5 560.6,808.4 C555.7,808.4 550.8,808.4 545.9,808.3 C541,808.2 536.1,808.1 531.2,808 C526.3,808 521.4,807.9 516.5,807.8 C511.6,807.7 506.7,807.6 501.8,807.5 C496.9,807.5 492,807.4 487.1,807.4 C482.2,807.3 477.3,807.2 472.4,807.1 C467.6,807 462.7,807 457.8,806.7 C452.9,806.4 448,805.6 443.1,805.4 C438.2,805.1 433.3,805.1 428.4,805 C423.5,804.9 418.6,804.8 413.7,804.8 C408.8,804.7 403.9,804.6 399,804.6 C394.1,804.6 389.2,804.5 384.3,804.5 C379.4,804.5 374.5,804.5 369.6,804.5 C364.7,804.5 359.8,804.5 354.9,804.6 C350,804.7 345.1,804.9 340.2,805 C335.3,805.1 330.4,805.2 325.6,805.4 C320.7,805.5 315.8,805.7 310.9,805.9 C306,806 301.1,806.1 296.2,806.1 C291.3,806.1 286.4,806.1 281.5,806.1 C276.6,806.1 271.7,806.1 266.8,806.1 C261.9,806.1 257,806.1 252.1,806.1 C247.2,806.1 242.3,806.1 237.4,806.2 C232.5,806.3 227.6,806.6 222.7,806.7 C217.8,806.8 212.9,806.9 208,806.9 C203.1,807 198.2,807.1 193.3,807.1 C188.4,807.1 183.5,807.1 178.7,807.1 C173.8,807.1 168.9,807.2 164,807.2 C159.1,807.2 154.2,807.3 149.3,807.4 C144.4,807.4 139.5,807.4 134.6,807.4 C129.7,807.3 124.8,807.1 119.9,807.1 C115,807.1 110.1,807.3 105.2,807.4 C100.3,807.6 95.4,807.9 90.5,808 C85.6,808.2 80.7,808.4 75.8,808.5 C70.9,808.7 66,808.9 61.1,809 C56.2,809.2 50.1,809.3 46.4,809.3 C42.8,809.3 40.3,809.3 39.1,809.3 Z"/>
<rect x="46.4" y="822.1" width="1167.9" height="1.7" fill="#2b2b2b"/>
<circle cx="46.4" cy="823" r="2.5" fill="#000"/>
<rect x="104.5" y="818" width="1.3" height="5" fill="#2b2b2b"/>
<text x="105.6" y="835.7" class="tk">5</text>
<rect x="178" y="818" width="1.3" height="5" fill="#2b2b2b"/>
<text x="179.1" y="835.7" class="tk">10</text>
<rect x="251.4" y="818" width="1.3" height="5" fill="#2b2b2b"/>
<text x="252.5" y="835.7" class="tk">15</text>
<rect x="324.9" y="818" width="1.3" height="5" fill="#2b2b2b"/>
<text x="325.9" y="835.7" class="tk">20</text>
<rect x="398.4" y="818" width="1.3" height="5" fill="#2b2b2b"/>
<text x="399.4" y="835.7" class="tk">25</text>
<rect x="471.8" y="818" width="1.3" height="5" fill="#2b2b2b"/>
<text x="472.8" y="835.7" class="tk">30</text>
<rect x="545.2" y="818" width="1.3" height="5" fill="#2b2b2b"/>
<text x="546.3" y="835.7" class="tk">35</text>
<rect x="618.7" y="818" width="1.3" height="5" fill="#2b2b2b"/>
<text x="619.7" y="835.7" class="tk">40</text>
<rect x="692.1" y="818" width="1.3" height="5" fill="#2b2b2b"/>
<text x="693.2" y="835.7" class="tk">45</text>
<rect x="765.6" y="818" width="1.3" height="5" fill="#2b2b2b"/>
<text x="766.6" y="835.7" class="tk">50</text>
<rect x="839.1" y="818" width="1.3" height="5" fill="#2b2b2b"/>
<text x="840.1" y="835.7" class="tk">55</text>
<rect x="912.5" y="818" width="1.3" height="5" fill="#2b2b2b"/>
<text x="913.5" y="835.7" class="tk">60</text>
<rect x="985.9" y="818" width="1.3" height="5" fill="#2b2b2b"/>
<text x="987" y="835.7" class="tk">65</text>
<rect x="1059.4" y="818" width="1.3" height="5" fill="#2b2b2b"/>
<text x="1060.5" y="835.7" class="tk">70</text>
<rect x="1132.8" y="818" width="1.3" height="5" fill="#2b2b2b"/>
<text x="1133.9" y="835.7" class="tk">75</text>
<rect x="1206.3" y="818" width="1.3" height="5" fill="#2b2b2b"/>
<text x="1207.4" y="835.7" class="tk">80</text>
<g transform="scale(1.2,0.95)">
<text x="38.70" y="907.05" class="aa">L</text>
<text x="50.94" y="907.05" class="aa">K</text>
<text x="63.18" y="907.05" class="aa">E</text>
<text x="75.42" y="907.05" class="aa">S</text>
<text x="87.67" y="907.05" class="aa">K</text>
<text x="99.91" y="907.05" class="aa">D</text>
<text x="112.15" y="907.05" class="aa">L</text>
<text x="124.39" y="907.05" class="aa">V</text>
<text x="136.63" y="907.05" class="aa">D</text>
<text x="148.88" y="907.05" class="aa">N</text>
<text x="161.12" y="907.05" class="aa">V</text>
<text x="173.36" y="907.05" class="aa">P</text>
<text x="185.60" y="907.05" class="aa">K</text>
<text x="197.84" y="907.05" class="aa">H</text>
<text x="210.08" y="907.05" class="aa">L</text>
<text x="222.32" y="907.05" class="aa">K</text>
<text x="234.57" y="907.05" class="aa">K</text>
<text x="246.81" y="907.05" class="aa">G</text>
<text x="259.05" y="907.05" class="aa">L</text>
<text x="271.29" y="907.05" class="aa">S</text>
<text x="283.53" y="907.05" class="aa">K</text>
<text x="295.78" y="907.05" class="aa">E</text>
<text x="308.02" y="907.05" class="aa">E</text>
<text x="320.26" y="907.05" class="aa">A</text>
<text x="332.50" y="907.05" class="aa">E</text>
<text x="344.74" y="907.05" class="aa">S</text>
<text x="356.98" y="907.05" class="aa">L</text>
<text x="369.23" y="907.05" class="aa">K</text>
<text x="381.47" y="907.05" class="aa">K</text>
<text x="393.71" y="907.05" class="aa">Q</text>
<text x="405.95" y="907.05" class="aa">L</text>
<text x="418.19" y="907.05" class="aa">E</text>
<text x="430.43" y="907.05" class="aa">E</text>
<text x="442.68" y="907.05" class="aa">V</text>
<text x="454.92" y="907.05" class="aa">G</text>
<text x="467.16" y="907.05" class="aa">A</text>
<text x="479.40" y="907.05" class="aa">E</text>
<text x="491.64" y="907.05" class="aa">V</text>
<text x="503.88" y="907.05" class="aa">E</text>
<text x="516.12" y="907.05" class="aa">L</text>
<text x="528.37" y="907.05" class="aa">K</text>
<text x="540.61" y="907.05" class="aa">E</text>
<text x="552.85" y="907.05" class="aa">A</text>
<text x="565.09" y="907.05" class="aa">A</text>
<text x="577.33" y="907.05" class="aa">A</text>
<text x="589.58" y="907.05" class="aa">K</text>
<text x="601.82" y="907.05" class="aa">A</text>
<text x="614.06" y="907.05" class="aa">K</text>
<text x="626.30" y="907.05" class="aa">F</text>
<text x="638.54" y="907.05" class="aa">V</text>
<text x="650.78" y="907.05" class="aa">A</text>
<text x="663.02" y="907.05" class="aa">A</text>
<text x="675.27" y="907.05" class="aa">W</text>
<text x="687.51" y="907.05" class="aa">T</text>
<text x="699.75" y="907.05" class="aa">L</text>
<text x="711.99" y="907.05" class="aa">K</text>
<text x="724.23" y="907.05" class="aa">A</text>
<text x="736.48" y="907.05" class="aa">A</text>
<text x="748.72" y="907.05" class="aa">A</text>
<text x="760.96" y="907.05" class="aa">G</text>
<text x="773.20" y="907.05" class="aa">G</text>
<text x="785.44" y="907.05" class="aa">G</text>
<text x="797.68" y="907.05" class="aa">S</text>
<text x="809.92" y="907.05" class="aa">S</text>
<text x="822.17" y="907.05" class="aa">V</text>
<text x="834.41" y="907.05" class="aa">T</text>
<text x="846.65" y="907.05" class="aa">I</text>
<text x="858.89" y="907.05" class="aa">A</text>
<text x="871.13" y="907.05" class="aa">D</text>
<text x="883.38" y="907.05" class="aa">P</text>
<text x="895.62" y="907.05" class="aa">G</text>
<text x="907.86" y="907.05" class="aa">Y</text>
<text x="920.10" y="907.05" class="aa">A</text>
<text x="932.34" y="907.05" class="aa">A</text>
<text x="944.58" y="907.05" class="aa">Y</text>
<text x="956.83" y="907.05" class="aa">A</text>
<text x="969.07" y="907.05" class="aa">L</text>
<text x="981.31" y="907.05" class="aa">Q</text>
<text x="993.55" y="907.05" class="aa">E</text>
<text x="1005.79" y="907.05" class="aa">V</text>
</g>
<path fill="url(#rg13)" d="M39.1,881.1 L39.1,880 C40.3,880 42.8,880.8 46.4,880 C50.1,879.2 56.2,875.5 61.1,875.1 C66,874.7 70.9,876.1 75.8,877.6 C80.7,879.1 85.6,883.7 90.5,883.9 C95.4,884 100.3,879.9 105.2,878.5 C110.1,877.1 115,875.1 119.9,875.6 C124.8,876.1 129.7,880.1 134.6,881.6 C139.5,883.1 144.4,885.5 149.3,884.5 C154.2,883.4 159.1,877.2 164,875.1 C168.9,873 173.8,870.5 178.7,871.6 C183.5,872.7 188.4,880.6 193.3,881.6 C198.2,882.6 203.1,878 208,877.6 C212.9,877.2 217.8,878.9 222.7,879 C227.6,879.1 232.5,877.7 237.4,878.5 C242.3,879.3 247.2,883.9 252.1,883.9 C257,883.8 261.9,879.6 266.8,878 C271.7,876.4 276.6,875.2 281.5,874.1 C286.4,873 291.3,870.4 296.2,871.6 C301.1,872.8 306,880.6 310.9,881.6 C315.8,882.6 320.7,878.4 325.6,877.6 C330.4,876.8 335.3,877.7 340.2,876.7 C345.1,875.7 350,871.9 354.9,871.8 C359.8,871.7 364.7,874.1 369.6,876.2 C374.5,878.4 379.4,884.5 384.3,884.7 C389.2,884.9 394.1,878.8 399,877.4 C403.9,876 408.8,875.2 413.7,876.2 C418.6,877.2 423.5,882.8 428.4,883.5 C433.3,884.2 438.2,882 443.1,880.6 C448,879.2 452.9,875.7 457.8,875.2 C462.7,874.7 467.6,876 472.4,877.7 C477.3,879.4 482.2,885.6 487.1,885.2 C492,884.8 496.9,877.6 501.8,875.2 C506.7,872.8 511.6,869.9 516.5,870.8 C521.4,871.7 526.3,879.8 531.2,880.6 C536.1,881.4 541,875 545.9,875.7 C550.8,876.4 555.7,884.6 560.6,884.7 C565.5,884.8 570.4,876.2 575.3,876.2 C580.2,876.2 585.1,884.2 590,884.7 C594.9,885.2 599.8,880 604.7,879.1 C609.6,878.2 614.5,879.9 619.3,879.6 C624.2,879.3 629.1,878.2 634,877.2 C638.9,876.2 643.8,873.6 648.7,873.7 C653.6,873.8 658.5,877.1 663.4,877.7 C668.3,878.3 673.2,877.2 678.1,877.2 C683,877.2 687.9,877.7 692.8,877.7 C697.7,877.7 702.6,877.1 707.5,877.2 C712.4,877.4 717.3,878.8 722.2,878.6 C727.1,878.4 732,876.1 736.9,876.2 C741.8,876.3 746.7,878.3 751.6,879.1 C756.5,879.9 761.4,880.8 766.2,881.1 C771.1,881.4 776,881.1 780.9,881.1 C785.8,881.1 790.7,881.3 795.6,881.1 C800.5,880.9 805.4,880.5 810.3,880.1 C815.2,879.7 820.1,878.6 825,878.6 C829.9,878.6 834.8,880.6 839.7,880.1 C844.6,879.6 849.5,876 854.4,875.7 C859.3,875.4 864.2,877.8 869.1,878.1 C874,878.4 878.9,878 883.8,877.7 C888.7,877.4 893.6,876.7 898.5,876.2 C903.4,875.7 908.3,875 913.1,874.7 C918,874.4 922.9,874.5 927.8,874.5 C932.7,874.5 937.6,874.6 942.5,874.7 C947.4,874.8 952.3,875 957.2,875.2 C962.1,875.4 967,874.8 971.9,875.7 C976.8,876.6 981.7,880.4 986.6,880.6 C991.5,880.9 996.4,877.1 1001.3,877.2 C1006.2,877.3 1011.1,880.9 1016,881.1 C1020.9,881.3 1025.8,878.9 1030.7,878.6 C1035.6,878.3 1040.5,879 1045.4,879.1 C1050.3,879.2 1055.2,879.3 1060,879.4 C1064.9,879.5 1069.8,879.4 1074.7,879.6 C1079.6,879.8 1084.5,880.1 1089.4,880.6 C1094.3,881.1 1099.2,882.2 1104.1,882.3 C1109,882.4 1113.9,881.4 1118.8,881.1 C1123.7,880.8 1128.6,880.3 1133.5,880.6 C1138.4,880.9 1143.3,882.6 1148.2,882.9 C1153.1,883.2 1158,883 1162.9,882.3 C1167.8,881.6 1172.7,879 1177.6,878.6 C1182.5,878.2 1187.4,879.3 1192.3,880.1 C1197.2,880.9 1203.3,882.9 1207,883.5 C1210.6,884.1 1213.1,883.5 1214.3,883.5 L1214.3,881.1 Z"/>
<rect x="39.1" y="880" width="1175.2" height="1.1" fill="url(#rl13)"/>
<rect x="156.6" y="899.8" width="176.3" height="4" fill="#CE2E96"/>
<rect x="523.9" y="899.8" width="146.9" height="4" fill="#CE2E96"/>
<rect x="832.4" y="899.8" width="220.3" height="4" fill="#CE2E96"/>
<g clip-path="url(#hc14)"><path fill="#F26522" d="M46.9,911.3 L49.8,911.3 Q52,911.3 53.3,909.5 L61.9,896.5 L60.1,892.3 L57.1,892.3 Q54.9,892.3 54,894.3 L47.7,907.1 L44.9,907.1 Z"/><path fill="#F26522" d="M76.2,911.3 L79.2,911.3 Q81.4,911.3 82.6,909.5 L91.3,896.5 L89.5,892.3 L86.5,892.3 Q84.3,892.3 83.4,894.3 L77.1,907.1 L74.2,907.1 Z"/><path fill="#F26522" d="M105.6,911.3 L108.6,911.3 Q110.8,911.3 112,909.5 L120.7,896.5 L118.9,892.3 L115.9,892.3 Q113.7,892.3 112.7,894.3 L106.5,907.1 L103.6,907.1 Z"/><path fill="#F26522" d="M135,911.3 L138,911.3 Q140.2,911.3 141.4,909.5 L150.1,896.5 L148.3,892.3 L145.3,892.3 Q143.1,892.3 142.1,894.3 L135.9,907.1 L133,907.1 Z"/><path fill="#F7941D" d="M39.1,899.8 L47.5,907.1 L49.6,911.3 L46.6,911.3 Q43.6,911.3 41.5,907.9 L39.1,903.8 Z"/><path fill="#F7941D" d="M59.6,892.3 L65.2,892.3 Q67.2,892.3 68.1,894.1 L76.7,911.3 L71.1,911.3 Q69.1,911.3 68.2,909.5 Z"/><path fill="#F7941D" d="M89,892.3 L94.6,892.3 Q96.6,892.3 97.5,894.1 L106.1,911.3 L100.5,911.3 Q98.5,911.3 97.6,909.5 Z"/><path fill="#F7941D" d="M118.4,892.3 L124,892.3 Q126,892.3 126.9,894.1 L135.5,911.3 L129.9,911.3 Q127.9,911.3 127,909.5 Z"/><path fill="#F7941D" d="M156.6,903.8 L148.2,896.5 L146.1,892.3 L149.1,892.3 Q152.1,892.3 154.2,895.7 L156.6,899.8 Z"/></g>
<path fill="#62288D" d="M215.4,896 L266.1,896 L266.1,892.6 L274.1,901.8 L266.1,911 L266.1,907.6 L215.4,907.6 Z"/>
<g clip-path="url(#hc15)"><path fill="#F26522" d="M340.7,911.3 L343.6,911.3 Q345.8,911.3 347.1,909.5 L355.7,896.5 L353.9,892.3 L350.9,892.3 Q348.7,892.3 347.8,894.3 L341.5,907.1 L338.7,907.1 Z"/><path fill="#F26522" d="M370,911.3 L373,911.3 Q375.2,911.3 376.4,909.5 L385.1,896.5 L383.3,892.3 L380.3,892.3 Q378.1,892.3 377.2,894.3 L370.9,907.1 L368,907.1 Z"/><path fill="#F26522" d="M399.4,911.3 L402.4,911.3 Q404.6,911.3 405.8,909.5 L414.5,896.5 L412.7,892.3 L409.7,892.3 Q407.5,892.3 406.5,894.3 L400.3,907.1 L397.4,907.1 Z"/><path fill="#F26522" d="M428.8,911.3 L431.8,911.3 Q434,911.3 435.2,909.5 L443.9,896.5 L442.1,892.3 L439.1,892.3 Q436.9,892.3 435.9,894.3 L429.7,907.1 L426.8,907.1 Z"/><path fill="#F26522" d="M458.2,911.3 L461.2,911.3 Q463.4,911.3 464.6,909.5 L473.3,896.5 L471.5,892.3 L468.5,892.3 Q466.3,892.3 465.3,894.3 L459.1,907.1 L456.2,907.1 Z"/><path fill="#F26522" d="M487.6,911.3 L490.5,911.3 Q492.7,911.3 494,909.5 L502.6,896.5 L500.8,892.3 L497.8,892.3 Q495.6,892.3 494.7,894.3 L488.4,907.1 L485.6,907.1 Z"/><path fill="#F26522" d="M523.9,899.8 L515.4,907.1 L513.3,911.3 L516.3,911.3 Q519.4,911.3 521.4,907.9 L523.9,903.8 Z"/><path fill="#F7941D" d="M332.9,899.8 L341.3,907.1 L343.4,911.3 L340.4,911.3 Q337.4,911.3 335.3,907.9 L332.9,903.8 Z"/><path fill="#F7941D" d="M353.4,892.3 L359,892.3 Q361,892.3 361.9,894.1 L370.5,911.3 L364.9,911.3 Q362.9,911.3 362,909.5 Z"/><path fill="#F7941D" d="M382.8,892.3 L388.4,892.3 Q390.4,892.3 391.3,894.1 L399.9,911.3 L394.3,911.3 Q392.3,911.3 391.4,909.5 Z"/><path fill="#F7941D" d="M412.2,892.3 L417.8,892.3 Q419.8,892.3 420.7,894.1 L429.3,911.3 L423.7,911.3 Q421.7,911.3 420.8,909.5 Z"/><path fill="#F7941D" d="M441.6,892.3 L447.2,892.3 Q449.2,892.3 450.1,894.1 L458.7,911.3 L453.1,911.3 Q451.1,911.3 450.2,909.5 Z"/><path fill="#F7941D" d="M471,892.3 L476.6,892.3 Q478.6,892.3 479.5,894.1 L488.1,911.3 L482.5,911.3 Q480.5,911.3 479.6,909.5 Z"/><path fill="#F7941D" d="M500.3,892.3 L505.9,892.3 Q507.9,892.3 508.8,894.1 L517.4,911.3 L511.8,911.3 Q509.8,911.3 508.9,909.5 Z"/></g>
<path fill="#62288D" d="M567.9,896 L633.4,896 L633.4,892.6 L641.4,901.8 L633.4,911 L633.4,907.6 L567.9,907.6 Z"/>
<g clip-path="url(#hc16)"><path fill="#F26522" d="M678.5,911.3 L681.5,911.3 Q683.7,911.3 684.9,909.5 L693.6,896.5 L691.8,892.3 L688.8,892.3 Q686.6,892.3 685.6,894.3 L679.4,907.1 L676.5,907.1 Z"/><path fill="#F26522" d="M707.9,911.3 L710.9,911.3 Q713.1,911.3 714.3,909.5 L723,896.5 L721.2,892.3 L718.2,892.3 Q716,892.3 715,894.3 L708.8,907.1 L705.9,907.1 Z"/><path fill="#F26522" d="M737.3,911.3 L740.3,911.3 Q742.5,911.3 743.7,909.5 L752.4,896.5 L750.6,892.3 L747.6,892.3 Q745.4,892.3 744.4,894.3 L738.2,907.1 L735.3,907.1 Z"/><path fill="#F26522" d="M766.7,911.3 L769.6,911.3 Q771.8,911.3 773.1,909.5 L781.8,896.5 L779.9,892.3 L776.9,892.3 Q774.7,892.3 773.8,894.3 L767.5,907.1 L764.7,907.1 Z"/><path fill="#F26522" d="M796,911.3 L799,911.3 Q801.2,911.3 802.5,909.5 L811.1,896.5 L809.3,892.3 L806.3,892.3 Q804.1,892.3 803.2,894.3 L796.9,907.1 L794,907.1 Z"/><path fill="#F26522" d="M832.4,899.8 L823.9,907.1 L821.8,911.3 L824.8,911.3 Q827.9,911.3 829.9,907.9 L832.4,903.8 Z"/><path fill="#F7941D" d="M670.8,899.8 L679.2,907.1 L681.3,911.3 L678.3,911.3 Q675.3,911.3 673.2,907.9 L670.8,903.8 Z"/><path fill="#F7941D" d="M691.3,892.3 L696.9,892.3 Q698.9,892.3 699.8,894.1 L708.4,911.3 L702.8,911.3 Q700.8,911.3 699.9,909.5 Z"/><path fill="#F7941D" d="M720.7,892.3 L726.3,892.3 Q728.3,892.3 729.2,894.1 L737.8,911.3 L732.2,911.3 Q730.2,911.3 729.3,909.5 Z"/><path fill="#F7941D" d="M750.1,892.3 L755.7,892.3 Q757.7,892.3 758.6,894.1 L767.2,911.3 L761.6,911.3 Q759.6,911.3 758.7,909.5 Z"/><path fill="#F7941D" d="M779.4,892.3 L785,892.3 Q787,892.3 787.9,894.1 L796.5,911.3 L790.9,911.3 Q788.9,911.3 788.1,909.5 Z"/><path fill="#F7941D" d="M808.8,892.3 L814.4,892.3 Q816.4,892.3 817.3,894.1 L825.9,911.3 L820.3,911.3 Q818.3,911.3 817.4,909.5 Z"/></g>
<g clip-path="url(#hc17)"><path fill="#F26522" d="M1060.5,911.3 L1063.5,911.3 Q1065.7,911.3 1066.9,909.5 L1075.5,896.5 L1073.8,892.3 L1070.8,892.3 Q1068.5,892.3 1067.6,894.3 L1061.3,907.1 L1058.5,907.1 Z"/><path fill="#F26522" d="M1089.9,911.3 L1092.8,911.3 Q1095,911.3 1096.3,909.5 L1104.9,896.5 L1103.1,892.3 L1100.1,892.3 Q1097.9,892.3 1097,894.3 L1090.7,907.1 L1087.8,907.1 Z"/><path fill="#F26522" d="M1119.2,911.3 L1122.2,911.3 Q1124.4,911.3 1125.6,909.5 L1134.3,896.5 L1132.5,892.3 L1129.5,892.3 Q1127.3,892.3 1126.3,894.3 L1120.1,907.1 L1117.2,907.1 Z"/><path fill="#F26522" d="M1148.6,911.3 L1151.6,911.3 Q1153.8,911.3 1155,909.5 L1163.7,896.5 L1161.9,892.3 L1158.9,892.3 Q1156.7,892.3 1155.7,894.3 L1149.5,907.1 L1146.6,907.1 Z"/><path fill="#F26522" d="M1178,911.3 L1181,911.3 Q1183.2,911.3 1184.4,909.5 L1193.1,896.5 L1191.3,892.3 L1188.3,892.3 Q1186.1,892.3 1185.1,894.3 L1178.9,907.1 L1176,907.1 Z"/><path fill="#F26522" d="M1207.4,911.3 L1210.4,911.3 Q1212.6,911.3 1213.8,909.5 L1222.5,896.5 L1220.7,892.3 L1217.7,892.3 Q1215.5,892.3 1214.5,894.3 L1208.2,907.1 L1205.4,907.1 Z"/><path fill="#F26522" d="M1236.8,911.3 L1239.7,911.3 Q1241.9,911.3 1243.2,909.5 L1251.8,896.5 L1250,892.3 L1247,892.3 Q1244.8,892.3 1243.9,894.3 L1237.6,907.1 L1234.7,907.1 Z"/><path fill="#F26522" d="M1266.1,911.3 L1269.1,911.3 Q1271.3,911.3 1272.5,909.5 L1281.2,896.5 L1279.4,892.3 L1276.4,892.3 Q1274.2,892.3 1273.2,894.3 L1267,907.1 L1264.1,907.1 Z"/><path fill="#F26522" d="M1295.5,911.3 L1298.5,911.3 Q1300.7,911.3 1301.9,909.5 L1310.6,896.5 L1308.8,892.3 L1305.8,892.3 Q1303.6,892.3 1302.6,894.3 L1296.4,907.1 L1293.5,907.1 Z"/><path fill="#F26522" d="M1324.9,911.3 L1327.9,911.3 Q1330.1,911.3 1331.3,909.5 L1340,896.5 L1338.2,892.3 L1335.2,892.3 Q1333,892.3 1332,894.3 L1325.8,907.1 L1322.9,907.1 Z"/><path fill="#F26522" d="M1354.3,911.3 L1357.2,911.3 Q1359.5,911.3 1360.7,909.5 L1369.3,896.5 L1367.5,892.3 L1364.5,892.3 Q1362.3,892.3 1361.4,894.3 L1355.1,907.1 L1352.3,907.1 Z"/><path fill="#F26522" d="M1390.6,899.8 L1382.1,907.1 L1380,911.3 L1383.1,911.3 Q1386.1,911.3 1388.1,907.9 L1390.6,903.8 Z"/><path fill="#F7941D" d="M1052.7,899.8 L1061.1,907.1 L1063.2,911.3 L1060.2,911.3 Q1057.2,911.3 1055.1,907.9 L1052.7,903.8 Z"/><path fill="#F7941D" d="M1073.2,892.3 L1078.8,892.3 Q1080.8,892.3 1081.7,894.1 L1090.3,911.3 L1084.8,911.3 Q1082.8,911.3 1081.9,909.5 Z"/><path fill="#F7941D" d="M1102.6,892.3 L1108.2,892.3 Q1110.2,892.3 1111.1,894.1 L1119.7,911.3 L1114.1,911.3 Q1112.1,911.3 1111.2,909.5 Z"/><path fill="#F7941D" d="M1132,892.3 L1137.6,892.3 Q1139.6,892.3 1140.5,894.1 L1149.1,911.3 L1143.5,911.3 Q1141.5,911.3 1140.6,909.5 Z"/><path fill="#F7941D" d="M1161.4,892.3 L1167,892.3 Q1169,892.3 1169.9,894.1 L1178.5,911.3 L1172.9,911.3 Q1170.9,911.3 1170,909.5 Z"/><path fill="#F7941D" d="M1190.8,892.3 L1196.4,892.3 Q1198.4,892.3 1199.3,894.1 L1207.9,911.3 L1202.3,911.3 Q1200.3,911.3 1199.4,909.5 Z"/><path fill="#F7941D" d="M1220.2,892.3 L1225.8,892.3 Q1227.8,892.3 1228.6,894.1 L1237.2,911.3 L1231.7,911.3 Q1229.7,911.3 1228.8,909.5 Z"/><path fill="#F7941D" d="M1249.5,892.3 L1255.1,892.3 Q1257.1,892.3 1258,894.1 L1266.6,911.3 L1261,911.3 Q1259,911.3 1258.1,909.5 Z"/><path fill="#F7941D" d="M1278.9,892.3 L1284.5,892.3 Q1286.5,892.3 1287.4,894.1 L1296,911.3 L1290.4,911.3 Q1288.4,911.3 1287.5,909.5 Z"/><path fill="#F7941D" d="M1308.3,892.3 L1313.9,892.3 Q1315.9,892.3 1316.8,894.1 L1325.4,911.3 L1319.8,911.3 Q1317.8,911.3 1316.9,909.5 Z"/><path fill="#F7941D" d="M1337.7,892.3 L1343.3,892.3 Q1345.3,892.3 1346.2,894.1 L1354.8,911.3 L1349.2,911.3 Q1347.2,911.3 1346.3,909.5 Z"/><path fill="#F7941D" d="M1367,892.3 L1372.6,892.3 Q1374.6,892.3 1375.5,894.1 L1384.1,911.3 L1378.5,911.3 Q1376.5,911.3 1375.7,909.5 Z"/></g>
<path fill="#666666" d="M39.1,926.2 C40.3,926.2 42.8,926.2 46.4,926.2 C50.1,926.2 56.2,926.2 61.1,926.2 C66,926.2 70.9,926.2 75.8,926.1 C80.7,926.1 85.6,926 90.5,925.9 C95.4,925.9 100.3,925.9 105.2,925.9 C110.1,926 115,926.1 119.9,926.1 C124.8,926.2 129.7,926.2 134.6,926.1 C139.5,926.1 144.4,926 149.3,925.9 C154.2,925.9 159.1,925.9 164,925.9 C168.9,926 173.8,926.1 178.7,926.1 C183.5,926.2 188.4,926.2 193.3,926.2 C198.2,926.2 203.1,926.2 208,926.2 C212.9,926.2 217.8,926.2 222.7,926.2 C227.6,926.2 232.5,926.2 237.4,926.2 C242.3,926.2 247.2,926.2 252.1,926.2 C257,926.2 261.9,926.2 266.8,926.2 C271.7,926.2 276.6,926.2 281.5,926.2 C286.4,926.2 291.3,926.2 296.2,926.2 C301.1,926.2 306,926.2 310.9,926.2 C315.8,926.2 320.7,926.2 325.6,926.2 C330.4,926.2 335.3,926.2 340.2,926.2 C345.1,926.2 350,926.2 354.9,926.2 C359.8,926.2 364.7,926.2 369.6,926.2 C374.5,926.2 379.4,926.2 384.3,926.2 C389.2,926.2 394.1,926.2 399,926.2 C403.9,926.2 408.8,926.2 413.7,926.2 C418.6,926.2 423.5,926.2 428.4,926.2 C433.3,926.2 438.2,926.2 443.1,926.2 C448,926.2 452.9,926.2 457.8,926.2 C462.7,926.2 467.6,926.2 472.4,926.2 C477.3,926.2 482.2,926.2 487.1,926.2 C492,926.2 496.9,926.2 501.8,926.2 C506.7,926.2 511.6,926.2 516.5,926.2 C521.4,926.2 526.3,926.2 531.2,926.2 C536.1,926.2 541,926.2 545.9,926.2 C550.8,926.2 555.7,926.2 560.6,926.2 C565.5,926.2 570.4,926.2 575.3,926.2 C580.2,926.2 585.1,926.2 590,926.2 C594.9,926.2 599.8,926.2 604.7,926.2 C609.6,926.2 614.5,926.2 619.3,926.2 C624.2,926.2 629.1,926.2 634,926.1 C638.9,926 643.8,925.9 648.7,925.9 C653.6,925.8 658.5,925.7 663.4,925.7 C668.3,925.7 673.2,925.6 678.1,925.6 C683,925.6 687.9,925.6 692.8,925.6 C697.7,925.6 702.6,925.6 707.5,925.6 C712.4,925.6 717.3,925.6 722.2,925.6 C727.1,925.6 732,925.6 736.9,925.6 C741.8,925.6 746.7,925.6 751.6,925.6 C756.5,925.6 761.4,925.6 766.2,925.6 C771.1,925.6 776,925.6 780.9,925.6 C785.8,925.6 790.7,925.6 795.6,925.6 C800.5,925.6 805.4,925.6 810.3,925.6 C815.2,925.6 820.1,925.6 825,925.6 C829.9,925.6 834.8,925.5 839.7,925.4 C844.6,925.4 849.5,925.3 854.4,925.2 C859.3,925.1 864.2,925 869.1,924.9 C874,924.7 878.9,924.6 883.8,924.4 C888.7,924.3 893.6,924.1 898.5,923.9 C903.4,923.8 908.3,923.6 913.1,923.6 C918,923.6 922.9,923.8 927.8,923.8 C932.7,923.8 937.6,923.7 942.5,923.9 C947.4,924.1 952.3,924.5 957.2,924.8 C962.1,925 967,925.2 971.9,925.4 C976.8,925.6 981.7,925.7 986.6,925.9 C991.5,926 996.4,926.2 1001.3,926.2 C1006.2,926.3 1011.1,926.2 1016,926.2 C1020.9,926.2 1025.8,926.2 1030.7,926.2 C1035.6,926.2 1040.5,926.2 1045.4,926.2 C1050.3,926.2 1055.2,926.2 1060,926.2 C1064.9,926.2 1069.8,926.2 1074.7,926.2 C1079.6,926.2 1084.5,926.2 1089.4,926.2 C1094.3,926.2 1099.2,926.2 1104.1,926.2 C1109,926.2 1113.9,926.2 1118.8,926.2 C1123.7,926.2 1128.6,926.2 1133.5,926.2 C1138.4,926.2 1143.3,926.2 1148.2,926.2 C1153.1,926.2 1158,926.2 1162.9,926.2 C1167.8,926.2 1172.7,926.2 1177.6,926.2 C1182.5,926.2 1187.4,926.2 1192.3,926.2 C1197.2,926.2 1203.3,926.2 1207,926.2 C1210.6,926.2 1213.1,926.2 1214.3,926.2 L1214.3,927.6 C1213.1,927.6 1210.6,927.6 1207,927.6 C1203.3,927.6 1197.2,927.6 1192.3,927.6 C1187.4,927.6 1182.5,927.6 1177.6,927.6 C1172.7,927.6 1167.8,927.6 1162.9,927.6 C1158,927.6 1153.1,927.6 1148.2,927.6 C1143.3,927.6 1138.4,927.6 1133.5,927.6 C1128.6,927.6 1123.7,927.6 1118.8,927.6 C1113.9,927.6 1109,927.6 1104.1,927.6 C1099.2,927.6 1094.3,927.6 1089.4,927.6 C1084.5,927.6 1079.6,927.6 1074.7,927.6 C1069.8,927.6 1064.9,927.6 1060,927.6 C1055.2,927.6 1050.3,927.6 1045.4,927.6 C1040.5,927.6 1035.6,927.6 1030.7,927.6 C1025.8,927.6 1020.9,927.6 1016,927.6 C1011.1,927.6 1006.2,927.5 1001.3,927.6 C996.4,927.6 991.5,927.8 986.6,927.9 C981.7,928.1 976.8,928.2 971.9,928.4 C967,928.6 962.1,928.8 957.2,929 C952.3,929.3 947.4,929.7 942.5,929.9 C937.6,930.1 932.7,930 927.8,930 C922.9,930 918,930.2 913.1,930.2 C908.3,930.2 903.4,930 898.5,929.9 C893.6,929.7 888.7,929.5 883.8,929.4 C878.9,929.2 874,929.1 869.1,928.9 C864.2,928.8 859.3,928.7 854.4,928.6 C849.5,928.5 844.6,928.4 839.7,928.4 C834.8,928.3 829.9,928.2 825,928.2 C820.1,928.2 815.2,928.2 810.3,928.2 C805.4,928.2 800.5,928.2 795.6,928.2 C790.7,928.2 785.8,928.2 780.9,928.2 C776,928.2 771.1,928.2 766.2,928.2 C761.4,928.2 756.5,928.2 751.6,928.2 C746.7,928.2 741.8,928.2 736.9,928.2 C732,928.2 727.1,928.2 722.2,928.2 C717.3,928.2 712.4,928.2 707.5,928.2 C702.6,928.2 697.7,928.2 692.8,928.2 C687.9,928.2 683,928.2 678.1,928.2 C673.2,928.2 668.3,928.1 663.4,928.1 C658.5,928.1 653.6,928 648.7,927.9 C643.8,927.9 638.9,927.8 634,927.7 C629.1,927.6 624.2,927.6 619.3,927.6 C614.5,927.6 609.6,927.6 604.7,927.6 C599.8,927.6 594.9,927.6 590,927.6 C585.1,927.6 580.2,927.6 575.3,927.6 C570.4,927.6 565.5,927.6 560.6,927.6 C555.7,927.6 550.8,927.6 545.9,927.6 C541,927.6 536.1,927.6 531.2,927.6 C526.3,927.6 521.4,927.6 516.5,927.6 C511.6,927.6 506.7,927.6 501.8,927.6 C496.9,927.6 492,927.6 487.1,927.6 C482.2,927.6 477.3,927.6 472.4,927.6 C467.6,927.6 462.7,927.6 457.8,927.6 C452.9,927.6 448,927.6 443.1,927.6 C438.2,927.6 433.3,927.6 428.4,927.6 C423.5,927.6 418.6,927.6 413.7,927.6 C408.8,927.6 403.9,927.6 399,927.6 C394.1,927.6 389.2,927.6 384.3,927.6 C379.4,927.6 374.5,927.6 369.6,927.6 C364.7,927.6 359.8,927.6 354.9,927.6 C350,927.6 345.1,927.6 340.2,927.6 C335.3,927.6 330.4,927.6 325.6,927.6 C320.7,927.6 315.8,927.6 310.9,927.6 C306,927.6 301.1,927.6 296.2,927.6 C291.3,927.6 286.4,927.6 281.5,927.6 C276.6,927.6 271.7,927.6 266.8,927.6 C261.9,927.6 257,927.6 252.1,927.6 C247.2,927.6 242.3,927.6 237.4,927.6 C232.5,927.6 227.6,927.6 222.7,927.6 C217.8,927.6 212.9,927.6 208,927.6 C203.1,927.6 198.2,927.6 193.3,927.6 C188.4,927.6 183.5,927.6 178.7,927.6 C173.8,927.7 168.9,927.8 164,927.9 C159.1,927.9 154.2,927.9 149.3,927.9 C144.4,927.8 139.5,927.7 134.6,927.6 C129.7,927.6 124.8,927.6 119.9,927.6 C115,927.7 110.1,927.8 105.2,927.9 C100.3,927.9 95.4,927.9 90.5,927.9 C85.6,927.8 80.7,927.7 75.8,927.6 C70.9,927.6 66,927.6 61.1,927.6 C56.2,927.6 50.1,927.6 46.4,927.6 C42.8,927.6 40.3,927.6 39.1,927.6 Z"/>
<rect x="39.1" y="948.6" width="1175.2" height="1.7" fill="#2b2b2b"/>
<rect x="104.5" y="944.5" width="1.3" height="5" fill="#2b2b2b"/>
<text x="105.6" y="962.2" class="tk">85</text>
<rect x="178" y="944.5" width="1.3" height="5" fill="#2b2b2b"/>
<text x="179.1" y="962.2" class="tk">90</text>
<rect x="251.4" y="944.5" width="1.3" height="5" fill="#2b2b2b"/>
<text x="252.5" y="962.2" class="tk">95</text>
<rect x="324.9" y="944.5" width="1.3" height="5" fill="#2b2b2b"/>
<text x="325.9" y="962.2" class="tk">100</text>
<rect x="398.4" y="944.5" width="1.3" height="5" fill="#2b2b2b"/>
<text x="399.4" y="962.2" class="tk">105</text>
<rect x="471.8" y="944.5" width="1.3" height="5" fill="#2b2b2b"/>
<text x="472.8" y="962.2" class="tk">110</text>
<rect x="545.2" y="944.5" width="1.3" height="5" fill="#2b2b2b"/>
<text x="546.3" y="962.2" class="tk">115</text>
<rect x="618.7" y="944.5" width="1.3" height="5" fill="#2b2b2b"/>
<text x="619.7" y="962.2" class="tk">120</text>
<rect x="692.1" y="944.5" width="1.3" height="5" fill="#2b2b2b"/>
<text x="693.2" y="962.2" class="tk">125</text>
<rect x="765.6" y="944.5" width="1.3" height="5" fill="#2b2b2b"/>
<text x="766.6" y="962.2" class="tk">130</text>
<rect x="839.1" y="944.5" width="1.3" height="5" fill="#2b2b2b"/>
<text x="840.1" y="962.2" class="tk">135</text>
<rect x="912.5" y="944.5" width="1.3" height="5" fill="#2b2b2b"/>
<text x="913.5" y="962.2" class="tk">140</text>
<rect x="985.9" y="944.5" width="1.3" height="5" fill="#2b2b2b"/>
<text x="987" y="962.2" class="tk">145</text>
<rect x="1059.4" y="944.5" width="1.3" height="5" fill="#2b2b2b"/>
<text x="1060.5" y="962.2" class="tk">150</text>
<rect x="1132.8" y="944.5" width="1.3" height="5" fill="#2b2b2b"/>
<text x="1133.9" y="962.2" class="tk">155</text>
<rect x="1206.3" y="944.5" width="1.3" height="5" fill="#2b2b2b"/>
<text x="1207.4" y="962.2" class="tk">160</text>
<g transform="scale(1.2,0.95)">
<text x="38.70" y="1040.21" class="aa">V</text>
<text x="50.94" y="1040.21" class="aa">K</text>
<text x="63.18" y="1040.21" class="aa">A</text>
<text x="75.42" y="1040.21" class="aa">L</text>
<text x="87.67" y="1040.21" class="aa">A</text>
<text x="99.91" y="1040.21" class="aa">A</text>
<text x="112.15" y="1040.21" class="aa">Y</text>
<text x="124.39" y="1040.21" class="aa">T</text>
<text x="136.63" y="1040.21" class="aa">M</text>
<text x="148.88" y="1040.21" class="aa">K</text>
<text x="161.12" y="1040.21" class="aa">K</text>
<text x="173.36" y="1040.21" class="aa">I</text>
<text x="185.60" y="1040.21" class="aa">Y</text>
<text x="197.84" y="1040.21" class="aa">P</text>
<text x="210.08" y="1040.21" class="aa">A</text>
<text x="222.32" y="1040.21" class="aa">L</text>
<text x="234.57" y="1040.21" class="aa">A</text>
<text x="246.81" y="1040.21" class="aa">A</text>
<text x="259.05" y="1040.21" class="aa">Y</text>
<text x="271.29" y="1040.21" class="aa">M</text>
<text x="283.53" y="1040.21" class="aa">V</text>
<text x="295.78" y="1040.21" class="aa">Y</text>
<text x="308.02" y="1040.21" class="aa">V</text>
<text x="320.26" y="1040.21" class="aa">I</text>
<text x="332.50" y="1040.21" class="aa">T</text>
<text x="344.74" y="1040.21" class="aa">V</text>
<text x="356.98" y="1040.21" class="aa">K</text>
<text x="369.23" y="1040.21" class="aa">Y</text>
<text x="381.47" y="1040.21" class="aa">A</text>
<text x="393.71" y="1040.21" class="aa">A</text>
<text x="405.95" y="1040.21" class="aa">Y</text>
<text x="418.19" y="1040.21" class="aa">F</text>
<text x="430.43" y="1040.21" class="aa">L</text>
<text x="442.68" y="1040.21" class="aa">F</text>
<text x="454.92" y="1040.21" class="aa">A</text>
<text x="467.16" y="1040.21" class="aa">T</text>
<text x="479.40" y="1040.21" class="aa">V</text>
<text x="491.64" y="1040.21" class="aa">P</text>
<text x="503.88" y="1040.21" class="aa">I</text>
<text x="516.12" y="1040.21" class="aa">Y</text>
<text x="528.37" y="1040.21" class="aa">G</text>
<text x="540.61" y="1040.21" class="aa">G</text>
<text x="552.85" y="1040.21" class="aa">G</text>
<text x="565.09" y="1040.21" class="aa">S</text>
<text x="577.33" y="1040.21" class="aa">P</text>
<text x="589.58" y="1040.21" class="aa">R</text>
<text x="601.82" y="1040.21" class="aa">W</text>
<text x="614.06" y="1040.21" class="aa">Y</text>
<text x="626.30" y="1040.21" class="aa">F</text>
<text x="638.54" y="1040.21" class="aa">Y</text>
<text x="650.78" y="1040.21" class="aa">Y</text>
<text x="663.02" y="1040.21" class="aa">T</text>
<text x="675.27" y="1040.21" class="aa">G</text>
<text x="687.51" y="1040.21" class="aa">T</text>
<text x="699.75" y="1040.21" class="aa">G</text>
<text x="711.99" y="1040.21" class="aa">P</text>
<text x="724.23" y="1040.21" class="aa">E</text>
<text x="736.48" y="1040.21" class="aa">A</text>
<text x="748.72" y="1040.21" class="aa">A</text>
<text x="760.96" y="1040.21" class="aa">G</text>
<text x="773.20" y="1040.21" class="aa">P</text>
<text x="785.44" y="1040.21" class="aa">G</text>
<text x="797.68" y="1040.21" class="aa">P</text>
<text x="809.92" y="1040.21" class="aa">G</text>
<text x="822.17" y="1040.21" class="aa">I</text>
<text x="834.41" y="1040.21" class="aa">S</text>
<text x="846.65" y="1040.21" class="aa">Y</text>
<text x="858.89" y="1040.21" class="aa">D</text>
<text x="871.13" y="1040.21" class="aa">I</text>
<text x="883.38" y="1040.21" class="aa">Y</text>
<text x="895.62" y="1040.21" class="aa">G</text>
<text x="907.86" y="1040.21" class="aa">I</text>
<text x="920.10" y="1040.21" class="aa">T</text>
<text x="932.34" y="1040.21" class="aa">G</text>
<text x="944.58" y="1040.21" class="aa">T</text>
<text x="956.83" y="1040.21" class="aa">G</text>
<text x="969.07" y="1040.21" class="aa">V</text>
<text x="981.31" y="1040.21" class="aa">F</text>
<text x="993.55" y="1040.21" class="aa">Q</text>
<text x="1005.79" y="1040.21" class="aa">G</text>
</g>
<path fill="url(#rg18)" d="M39.1,1007.6 L39.1,1009.9 C40.3,1009.9 42.8,1010.8 46.4,1009.9 C50.1,1008.9 56.2,1004.3 61.1,1004.2 C66,1004.1 70.9,1008.2 75.8,1009.1 C80.7,1010 85.6,1010 90.5,1009.9 C95.4,1009.7 100.3,1009 105.2,1008.4 C110.1,1007.7 115,1006.5 119.9,1006.2 C124.8,1005.9 129.7,1006.3 134.6,1006.7 C139.5,1007.1 144.4,1008.1 149.3,1008.4 C154.2,1008.6 159.1,1009.4 164,1008.4 C168.9,1007.3 173.8,1003.1 178.7,1002.2 C183.5,1001.3 188.4,1002.3 193.3,1003.2 C198.2,1004.1 203.1,1007.2 208,1007.6 C212.9,1008 217.8,1006.1 222.7,1005.7 C227.6,1005.3 232.5,1005 237.4,1005.2 C242.3,1005.4 247.2,1005.8 252.1,1006.7 C257,1007.6 261.9,1010 266.8,1010.6 C271.7,1011.2 276.6,1011 281.5,1010.6 C286.4,1010.2 291.3,1008.9 296.2,1008.4 C301.1,1007.9 306,1007.1 310.9,1007.6 C315.8,1008.1 320.7,1011 325.6,1011.4 C330.4,1011.7 335.3,1010.2 340.2,1009.9 C345.1,1009.5 350,1009 354.9,1009.1 C359.8,1009.2 364.7,1010.2 369.6,1010.6 C374.5,1011 379.4,1011.4 384.3,1011.4 C389.2,1011.4 394.1,1010.9 399,1010.6 C403.9,1010.4 408.8,1010.5 413.7,1009.9 C418.6,1009.2 423.5,1007 428.4,1006.7 C433.3,1006.5 438.2,1007.6 443.1,1008.4 C448,1009.1 452.9,1011.1 457.8,1011.4 C462.7,1011.6 467.6,1010.5 472.4,1009.9 C477.3,1009.2 482.2,1007.5 487.1,1007.6 C492,1007.7 496.9,1010.1 501.8,1010.6 C506.7,1011.1 511.6,1010.6 516.5,1010.6 C521.4,1010.6 526.3,1010.7 531.2,1010.6 C536.1,1010.5 541,1010.2 545.9,1009.9 C550.8,1009.5 555.7,1008.5 560.6,1008.4 C565.5,1008.2 570.4,1009.2 575.3,1009.1 C580.2,1009 585.1,1007.7 590,1007.6 C594.9,1007.5 599.8,1008.7 604.7,1008.4 C609.6,1008 614.5,1006.1 619.3,1005.7 C624.2,1005.3 629.1,1006 634,1005.9 C638.9,1005.8 643.8,1005 648.7,1004.9 C653.6,1004.8 658.5,1005.2 663.4,1005.4 C668.3,1005.6 673.2,1005.6 678.1,1005.9 C683,1006.2 687.9,1007.3 692.8,1007.4 C697.7,1007.5 702.6,1006 707.5,1006.4 C712.4,1006.8 717.3,1009.4 722.2,1009.9 C727.1,1010.3 732,1008.9 736.9,1009.1 C741.8,1009.4 746.7,1011.4 751.6,1011.4 C756.5,1011.4 761.4,1009.5 766.2,1009.1 C771.1,1008.7 776,1009.4 780.9,1009.1 C785.8,1008.9 790.7,1007.9 795.6,1007.6 C800.5,1007.3 805.4,1007.7 810.3,1007.1 C815.2,1006.5 820.1,1004.1 825,1004.2 C829.9,1004.3 834.8,1007.5 839.7,1007.6 C844.6,1007.7 849.5,1005.3 854.4,1004.6 C859.3,1003.9 864.2,1002.8 869.1,1003.2 C874,1003.6 878.9,1006.5 883.8,1007.1 C888.7,1007.8 893.6,1007 898.5,1007.1 C903.4,1007.2 908.3,1007.9 913.1,1007.6 C918,1007.3 922.9,1005.1 927.8,1005.1 C932.7,1005.1 937.6,1007.5 942.5,1007.6 C947.4,1007.7 952.3,1005.8 957.2,1005.6 C962.1,1005.4 967,1006 971.9,1006.6 C976.8,1007.2 981.7,1008.9 986.6,1009.1 C991.5,1009.3 996.4,1007.6 1001.3,1007.6 C1006.2,1007.6 1011.1,1008.9 1016,1009.1 C1020.9,1009.4 1025.8,1009 1030.7,1009.1 C1035.6,1009.2 1040.5,1010.1 1045.4,1009.9 C1050.3,1009.6 1055.2,1007.7 1060,1007.6 C1064.9,1007.5 1069.8,1008.9 1074.7,1009.1 C1079.6,1009.4 1084.5,1009.6 1089.4,1009.1 C1094.3,1008.6 1099.2,1006.4 1104.1,1006.1 C1109,1005.9 1113.9,1007.7 1118.8,1007.6 C1123.7,1007.5 1128.6,1005.4 1133.5,1005.6 C1138.4,1005.9 1143.3,1008.8 1148.2,1009.1 C1153.1,1009.4 1158,1007.5 1162.9,1007.6 C1167.8,1007.7 1172.7,1010.3 1177.6,1009.9 C1182.5,1009.4 1187.4,1005.2 1192.3,1005.1 C1197.2,1005 1203.3,1008.4 1207,1009.1 C1210.6,1009.8 1213.1,1009.1 1214.3,1009.1 L1214.3,1007.6 Z"/>
<rect x="39.1" y="1006.5" width="1175.2" height="1.1" fill="url(#rl18)"/>
<rect x="215.4" y="1026.3" width="14.7" height="4" fill="#CE2E96"/>
<rect x="523.9" y="1026.3" width="690.4" height="4" fill="#CE2E96"/>
<g clip-path="url(#hc19)"><path fill="#F26522" d="M-114.7,1037.8 L-111.8,1037.8 Q-109.5,1037.8 -108.3,1036 L-99.6,1023 L-101.5,1018.8 L-104.5,1018.8 Q-106.7,1018.8 -107.6,1020.8 L-113.8,1033.6 L-116.7,1033.6 Z"/><path fill="#F26522" d="M-85.4,1037.8 L-82.4,1037.8 Q-80.2,1037.8 -78.9,1036 L-70.3,1023 L-72.1,1018.8 L-75.1,1018.8 Q-77.3,1018.8 -78.2,1020.8 L-84.5,1033.6 L-87.4,1033.6 Z"/><path fill="#F26522" d="M-56,1037.8 L-53,1037.8 Q-50.8,1037.8 -49.6,1036 L-40.9,1023 L-42.7,1018.8 L-45.7,1018.8 Q-47.9,1018.8 -48.9,1020.8 L-55.1,1033.6 L-58,1033.6 Z"/><path fill="#F26522" d="M-26.6,1037.8 L-23.6,1037.8 Q-21.4,1037.8 -20.2,1036 L-11.5,1023 L-13.3,1018.8 L-16.3,1018.8 Q-18.5,1018.8 -19.5,1020.8 L-25.7,1033.6 L-28.6,1033.6 Z"/><path fill="#F26522" d="M2.8,1037.8 L5.8,1037.8 Q8,1037.8 9.2,1036 L17.9,1023 L16.1,1018.8 L13.1,1018.8 Q10.9,1018.8 9.9,1020.8 L3.7,1033.6 L0.8,1033.6 Z"/><path fill="#F26522" d="M32.2,1037.8 L35.1,1037.8 Q37.4,1037.8 38.6,1036 L47.3,1023 L45.5,1018.8 L42.5,1018.8 Q40.2,1018.8 39.3,1020.8 L33.1,1033.6 L30.2,1033.6 Z"/><path fill="#F26522" d="M61.5,1037.8 L64.5,1037.8 Q66.7,1037.8 68,1036 L76.6,1023 L74.8,1018.8 L71.8,1018.8 Q69.6,1018.8 68.7,1020.8 L62.4,1033.6 L59.5,1033.6 Z"/><path fill="#F26522" d="M90.9,1037.8 L93.9,1037.8 Q96.1,1037.8 97.3,1036 L106,1023 L104.2,1018.8 L101.2,1018.8 Q99,1018.8 98,1020.8 L91.8,1033.6 L88.9,1033.6 Z"/><path fill="#F26522" d="M120.3,1037.8 L123.3,1037.8 Q125.5,1037.8 126.7,1036 L135.4,1023 L133.6,1018.8 L130.6,1018.8 Q128.4,1018.8 127.4,1020.8 L121.2,1033.6 L118.3,1033.6 Z"/><path fill="#F26522" d="M149.7,1037.8 L152.7,1037.8 Q154.9,1037.8 156.1,1036 L164.8,1023 L163,1018.8 L160,1018.8 Q157.8,1018.8 156.8,1020.8 L150.6,1033.6 L147.7,1033.6 Z"/><path fill="#F26522" d="M179.1,1037.8 L182.1,1037.8 Q184.2,1037.8 185.5,1036 L194.2,1023 L192.3,1018.8 L189.3,1018.8 Q187.2,1018.8 186.2,1020.8 L180,1033.6 L177.1,1033.6 Z"/><path fill="#F26522" d="M215.4,1026.3 L206.9,1033.6 L204.8,1037.8 L207.9,1037.8 Q210.9,1037.8 212.9,1034.4 L215.4,1030.3 Z"/><path fill="#F7941D" d="M-122.5,1026.3 L-114,1033.6 L-111.9,1037.8 L-115,1037.8 Q-118,1037.8 -120.1,1034.4 L-122.5,1030.3 Z"/><path fill="#F7941D" d="M-102,1018.8 L-96.4,1018.8 Q-94.4,1018.8 -93.5,1020.6 L-84.9,1037.8 L-90.5,1037.8 Q-92.5,1037.8 -93.3,1036 Z"/><path fill="#F7941D" d="M-72.6,1018.8 L-67,1018.8 Q-65,1018.8 -64.1,1020.6 L-55.5,1037.8 L-61.1,1037.8 Q-63.1,1037.8 -64,1036 Z"/><path fill="#F7941D" d="M-43.2,1018.8 L-37.6,1018.8 Q-35.6,1018.8 -34.7,1020.6 L-26.1,1037.8 L-31.7,1037.8 Q-33.7,1037.8 -34.6,1036 Z"/><path fill="#F7941D" d="M-13.8,1018.8 L-8.2,1018.8 Q-6.2,1018.8 -5.3,1020.6 L3.3,1037.8 L-2.3,1037.8 Q-4.3,1037.8 -5.2,1036 Z"/><path fill="#F7941D" d="M15.6,1018.8 L21.2,1018.8 Q23.2,1018.8 24.1,1020.6 L32.7,1037.8 L27.1,1037.8 Q25.1,1037.8 24.2,1036 Z"/><path fill="#F7941D" d="M45,1018.8 L50.6,1018.8 Q52.6,1018.8 53.4,1020.6 L62.1,1037.8 L56.5,1037.8 Q54.5,1037.8 53.6,1036 Z"/><path fill="#F7941D" d="M74.3,1018.8 L79.9,1018.8 Q81.9,1018.8 82.8,1020.6 L91.4,1037.8 L85.8,1037.8 Q83.8,1037.8 82.9,1036 Z"/><path fill="#F7941D" d="M103.7,1018.8 L109.3,1018.8 Q111.3,1018.8 112.2,1020.6 L120.8,1037.8 L115.2,1037.8 Q113.2,1037.8 112.3,1036 Z"/><path fill="#F7941D" d="M133.1,1018.8 L138.7,1018.8 Q140.7,1018.8 141.6,1020.6 L150.2,1037.8 L144.6,1037.8 Q142.6,1037.8 141.7,1036 Z"/><path fill="#F7941D" d="M162.5,1018.8 L168.1,1018.8 Q170.1,1018.8 171,1020.6 L179.6,1037.8 L174,1037.8 Q172,1037.8 171.1,1036 Z"/><path fill="#F7941D" d="M191.8,1018.8 L197.4,1018.8 Q199.4,1018.8 200.3,1020.6 L208.9,1037.8 L203.3,1037.8 Q201.3,1037.8 200.5,1036 Z"/></g>
<g clip-path="url(#hc20)"><path fill="#F26522" d="M237.8,1037.8 L240.8,1037.8 Q243,1037.8 244.2,1036 L252.9,1023 L251.1,1018.8 L248.1,1018.8 Q245.9,1018.8 244.9,1020.8 L238.7,1033.6 L235.8,1033.6 Z"/><path fill="#F26522" d="M267.2,1037.8 L270.2,1037.8 Q272.4,1037.8 273.6,1036 L282.3,1023 L280.5,1018.8 L277.5,1018.8 Q275.3,1018.8 274.3,1020.8 L268.1,1033.6 L265.2,1033.6 Z"/><path fill="#F26522" d="M296.6,1037.8 L299.6,1037.8 Q301.8,1037.8 303,1036 L311.7,1023 L309.9,1018.8 L306.9,1018.8 Q304.7,1018.8 303.7,1020.8 L297.5,1033.6 L294.6,1033.6 Z"/><path fill="#F26522" d="M326,1037.8 L328.9,1037.8 Q331.1,1037.8 332.4,1036 L341.1,1023 L339.2,1018.8 L336.2,1018.8 Q334.1,1018.8 333.1,1020.8 L326.9,1033.6 L324,1033.6 Z"/><path fill="#F26522" d="M355.4,1037.8 L358.3,1037.8 Q360.5,1037.8 361.8,1036 L370.4,1023 L368.6,1018.8 L365.6,1018.8 Q363.4,1018.8 362.5,1020.8 L356.2,1033.6 L353.4,1033.6 Z"/><path fill="#F26522" d="M384.7,1037.8 L387.7,1037.8 Q389.9,1037.8 391.1,1036 L399.8,1023 L398,1018.8 L395,1018.8 Q392.8,1018.8 391.8,1020.8 L385.6,1033.6 L382.7,1033.6 Z"/><path fill="#F26522" d="M414.1,1037.8 L417.1,1037.8 Q419.3,1037.8 420.5,1036 L429.2,1023 L427.4,1018.8 L424.4,1018.8 Q422.2,1018.8 421.2,1020.8 L415,1033.6 L412.1,1033.6 Z"/><path fill="#F26522" d="M443.5,1037.8 L446.5,1037.8 Q448.7,1037.8 449.9,1036 L458.6,1023 L456.8,1018.8 L453.8,1018.8 Q451.6,1018.8 450.6,1020.8 L444.4,1033.6 L441.5,1033.6 Z"/><path fill="#F26522" d="M472.9,1037.8 L475.8,1037.8 Q478,1037.8 479.3,1036 L487.9,1023 L486.1,1018.8 L483.1,1018.8 Q480.9,1018.8 480,1020.8 L473.8,1033.6 L470.9,1033.6 Z"/><path fill="#F26522" d="M502.3,1037.8 L505.2,1037.8 Q507.4,1037.8 508.7,1036 L517.3,1023 L515.5,1018.8 L512.5,1018.8 Q510.3,1018.8 509.4,1020.8 L503.1,1033.6 L500.3,1033.6 Z"/><path fill="#F7941D" d="M230.1,1026.3 L238.5,1033.6 L240.6,1037.8 L237.6,1037.8 Q234.6,1037.8 232.5,1034.4 L230.1,1030.3 Z"/><path fill="#F7941D" d="M250.6,1018.8 L256.2,1018.8 Q258.2,1018.8 259.1,1020.6 L267.7,1037.8 L262.1,1037.8 Q260.1,1037.8 259.2,1036 Z"/><path fill="#F7941D" d="M280,1018.8 L285.6,1018.8 Q287.6,1018.8 288.5,1020.6 L297.1,1037.8 L291.5,1037.8 Q289.5,1037.8 288.6,1036 Z"/><path fill="#F7941D" d="M309.4,1018.8 L315,1018.8 Q317,1018.8 317.9,1020.6 L326.5,1037.8 L320.9,1037.8 Q318.9,1037.8 318,1036 Z"/><path fill="#F7941D" d="M338.8,1018.8 L344.4,1018.8 Q346.4,1018.8 347.2,1020.6 L355.9,1037.8 L350.2,1037.8 Q348.2,1037.8 347.4,1036 Z"/><path fill="#F7941D" d="M368.1,1018.8 L373.7,1018.8 Q375.7,1018.8 376.6,1020.6 L385.2,1037.8 L379.6,1037.8 Q377.6,1037.8 376.7,1036 Z"/><path fill="#F7941D" d="M397.5,1018.8 L403.1,1018.8 Q405.1,1018.8 406,1020.6 L414.6,1037.8 L409,1037.8 Q407,1037.8 406.1,1036 Z"/><path fill="#F7941D" d="M426.9,1018.8 L432.5,1018.8 Q434.5,1018.8 435.4,1020.6 L444,1037.8 L438.4,1037.8 Q436.4,1037.8 435.5,1036 Z"/><path fill="#F7941D" d="M456.3,1018.8 L461.9,1018.8 Q463.9,1018.8 464.8,1020.6 L473.4,1037.8 L467.8,1037.8 Q465.8,1037.8 464.9,1036 Z"/><path fill="#F7941D" d="M485.6,1018.8 L491.2,1018.8 Q493.2,1018.8 494.1,1020.6 L502.8,1037.8 L497.1,1037.8 Q495.1,1037.8 494.3,1036 Z"/><path fill="#F7941D" d="M523.9,1030.3 L515.4,1023 L513.3,1018.8 L516.3,1018.8 Q519.4,1018.8 521.4,1022.2 L523.9,1026.3 Z"/></g>
<path fill="#62288D" d="M714.8,1022.5 L795,1022.5 L795,1019.1 L803,1028.3 L795,1037.5 L795,1034.1 L714.8,1034.1 Z"/>
<path fill="#62288D" d="M993.9,1022.5 L1044.7,1022.5 L1044.7,1019.1 L1052.7,1028.3 L1044.7,1037.5 L1044.7,1034.1 L993.9,1034.1 Z"/>
<path fill="#62288D" d="M1082.1,1022.5 L1088.8,1022.5 L1088.8,1019.1 L1096.8,1028.3 L1088.8,1037.5 L1088.8,1034.1 L1082.1,1034.1 Z"/>
<path fill="#62288D" d="M1155.5,1022.5 L1176.9,1022.5 L1176.9,1019.1 L1184.9,1028.3 L1176.9,1037.5 L1176.9,1034.1 L1155.5,1034.1 Z"/>
<path fill="#666666" d="M39.1,1052.7 C40.3,1052.7 42.8,1052.7 46.4,1052.7 C50.1,1052.7 56.2,1052.7 61.1,1052.7 C66,1052.7 70.9,1052.7 75.8,1052.7 C80.7,1052.7 85.6,1052.7 90.5,1052.7 C95.4,1052.7 100.3,1052.7 105.2,1052.7 C110.1,1052.7 115,1052.7 119.9,1052.7 C124.8,1052.7 129.7,1052.7 134.6,1052.7 C139.5,1052.7 144.4,1052.7 149.3,1052.7 C154.2,1052.7 159.1,1052.7 164,1052.7 C168.9,1052.7 173.8,1052.7 178.7,1052.7 C183.5,1052.7 188.4,1052.7 193.3,1052.7 C198.2,1052.7 203.1,1052.7 208,1052.7 C212.9,1052.7 217.8,1052.7 222.7,1052.7 C227.6,1052.7 232.5,1052.7 237.4,1052.7 C242.3,1052.7 247.2,1052.7 252.1,1052.7 C257,1052.7 261.9,1052.7 266.8,1052.7 C271.7,1052.7 276.6,1052.7 281.5,1052.7 C286.4,1052.7 291.3,1052.7 296.2,1052.7 C301.1,1052.7 306,1052.7 310.9,1052.7 C315.8,1052.7 320.7,1052.7 325.6,1052.7 C330.4,1052.7 335.3,1052.7 340.2,1052.7 C345.1,1052.7 350,1052.7 354.9,1052.7 C359.8,1052.7 364.7,1052.7 369.6,1052.7 C374.5,1052.7 379.4,1052.7 384.3,1052.7 C389.2,1052.7 394.1,1052.7 399,1052.7 C403.9,1052.7 408.8,1052.7 413.7,1052.7 C418.6,1052.7 423.5,1052.7 428.4,1052.7 C433.3,1052.7 438.2,1052.7 443.1,1052.7 C448,1052.7 452.9,1052.7 457.8,1052.7 C462.7,1052.7 467.6,1052.7 472.4,1052.7 C477.3,1052.7 482.2,1052.7 487.1,1052.7 C492,1052.7 496.9,1052.7 501.8,1052.7 C506.7,1052.7 511.6,1052.7 516.5,1052.7 C521.4,1052.7 526.3,1052.7 531.2,1052.7 C536.1,1052.7 541,1052.7 545.9,1052.7 C550.8,1052.7 555.7,1052.7 560.6,1052.7 C565.5,1052.7 570.4,1052.7 575.3,1052.7 C580.2,1052.7 585.1,1052.7 590,1052.7 C594.9,1052.7 599.8,1052.7 604.7,1052.7 C609.6,1052.7 614.5,1052.7 619.3,1052.7 C624.2,1052.7 629.1,1052.7 634,1052.7 C638.9,1052.7 643.8,1052.7 648.7,1052.7 C653.6,1052.7 658.5,1052.7 663.4,1052.7 C668.3,1052.7 673.2,1052.7 678.1,1052.7 C683,1052.7 687.9,1052.7 692.8,1052.7 C697.7,1052.7 702.6,1052.7 707.5,1052.7 C712.4,1052.7 717.3,1052.7 722.2,1052.7 C727.1,1052.7 732,1052.7 736.9,1052.7 C741.8,1052.7 746.7,1052.7 751.6,1052.7 C756.5,1052.7 761.4,1052.7 766.2,1052.7 C771.1,1052.7 776,1052.7 780.9,1052.7 C785.8,1052.7 790.7,1052.7 795.6,1052.7 C800.5,1052.7 805.4,1052.7 810.3,1052.7 C815.2,1052.7 820.1,1052.7 825,1052.7 C829.9,1052.7 834.8,1052.7 839.7,1052.7 C844.6,1052.7 849.5,1052.7 854.4,1052.7 C859.3,1052.7 864.2,1052.7 869.1,1052.7 C874,1052.7 878.9,1052.7 883.8,1052.7 C888.7,1052.7 893.6,1052.7 898.5,1052.7 C903.4,1052.7 908.3,1052.7 913.1,1052.7 C918,1052.7 922.9,1052.7 927.8,1052.7 C932.7,1052.7 937.6,1052.7 942.5,1052.7 C947.4,1052.7 952.3,1052.7 957.2,1052.7 C962.1,1052.7 967,1052.7 971.9,1052.7 C976.8,1052.7 981.7,1052.7 986.6,1052.7 C991.5,1052.7 996.4,1052.7 1001.3,1052.7 C1006.2,1052.7 1011.1,1052.7 1016,1052.7 C1020.9,1052.7 1025.8,1052.7 1030.7,1052.7 C1035.6,1052.7 1040.5,1052.7 1045.4,1052.7 C1050.3,1052.7 1055.2,1052.7 1060,1052.7 C1064.9,1052.7 1069.8,1052.7 1074.7,1052.7 C1079.6,1052.7 1084.5,1052.7 1089.4,1052.7 C1094.3,1052.7 1099.2,1052.7 1104.1,1052.7 C1109,1052.7 1113.9,1052.7 1118.8,1052.7 C1123.7,1052.7 1128.6,1052.7 1133.5,1052.7 C1138.4,1052.7 1143.3,1052.7 1148.2,1052.7 C1153.1,1052.7 1158,1052.7 1162.9,1052.7 C1167.8,1052.7 1172.7,1052.7 1177.6,1052.7 C1182.5,1052.7 1187.4,1052.7 1192.3,1052.7 C1197.2,1052.7 1203.3,1052.7 1207,1052.7 C1210.6,1052.7 1213.1,1052.7 1214.3,1052.7 L1214.3,1054.1 C1213.1,1054.1 1210.6,1054.1 1207,1054.1 C1203.3,1054.1 1197.2,1054.1 1192.3,1054.1 C1187.4,1054.1 1182.5,1054.1 1177.6,1054.1 C1172.7,1054.1 1167.8,1054.1 1162.9,1054.1 C1158,1054.1 1153.1,1054.1 1148.2,1054.1 C1143.3,1054.1 1138.4,1054.1 1133.5,1054.1 C1128.6,1054.1 1123.7,1054.1 1118.8,1054.1 C1113.9,1054.1 1109,1054.1 1104.1,1054.1 C1099.2,1054.1 1094.3,1054.1 1089.4,1054.1 C1084.5,1054.1 1079.6,1054.1 1074.7,1054.1 C1069.8,1054.1 1064.9,1054.1 1060,1054.1 C1055.2,1054.1 1050.3,1054.1 1045.4,1054.1 C1040.5,1054.1 1035.6,1054.1 1030.7,1054.1 C1025.8,1054.1 1020.9,1054.1 1016,1054.1 C1011.1,1054.1 1006.2,1054.1 1001.3,1054.1 C996.4,1054.1 991.5,1054.1 986.6,1054.1 C981.7,1054.1 976.8,1054.1 971.9,1054.1 C967,1054.1 962.1,1054.1 957.2,1054.1 C952.3,1054.1 947.4,1054.1 942.5,1054.1 C937.6,1054.1 932.7,1054.1 927.8,1054.1 C922.9,1054.1 918,1054.1 913.1,1054.1 C908.3,1054.1 903.4,1054.1 898.5,1054.1 C893.6,1054.1 888.7,1054.1 883.8,1054.1 C878.9,1054.1 874,1054.1 869.1,1054.1 C864.2,1054.1 859.3,1054.1 854.4,1054.1 C849.5,1054.1 844.6,1054.1 839.7,1054.1 C834.8,1054.1 829.9,1054.1 825,1054.1 C820.1,1054.1 815.2,1054.1 810.3,1054.1 C805.4,1054.1 800.5,1054.1 795.6,1054.1 C790.7,1054.1 785.8,1054.1 780.9,1054.1 C776,1054.1 771.1,1054.1 766.2,1054.1 C761.4,1054.1 756.5,1054.1 751.6,1054.1 C746.7,1054.1 741.8,1054.1 736.9,1054.1 C732,1054.1 727.1,1054.1 722.2,1054.1 C717.3,1054.1 712.4,1054.1 707.5,1054.1 C702.6,1054.1 697.7,1054.1 692.8,1054.1 C687.9,1054.1 683,1054.1 678.1,1054.1 C673.2,1054.1 668.3,1054.1 663.4,1054.1 C658.5,1054.1 653.6,1054.1 648.7,1054.1 C643.8,1054.1 638.9,1054.1 634,1054.1 C629.1,1054.1 624.2,1054.1 619.3,1054.1 C614.5,1054.1 609.6,1054.1 604.7,1054.1 C599.8,1054.1 594.9,1054.1 590,1054.1 C585.1,1054.1 580.2,1054.1 575.3,1054.1 C570.4,1054.1 565.5,1054.1 560.6,1054.1 C555.7,1054.1 550.8,1054.1 545.9,1054.1 C541,1054.1 536.1,1054.1 531.2,1054.1 C526.3,1054.1 521.4,1054.1 516.5,1054.1 C511.6,1054.1 506.7,1054.1 501.8,1054.1 C496.9,1054.1 492,1054.1 487.1,1054.1 C482.2,1054.1 477.3,1054.1 472.4,1054.1 C467.6,1054.1 462.7,1054.1 457.8,1054.1 C452.9,1054.1 448,1054.1 443.1,1054.1 C438.2,1054.1 433.3,1054.1 428.4,1054.1 C423.5,1054.1 418.6,1054.1 413.7,1054.1 C408.8,1054.1 403.9,1054.1 399,1054.1 C394.1,1054.1 389.2,1054.1 384.3,1054.1 C379.4,1054.1 374.5,1054.1 369.6,1054.1 C364.7,1054.1 359.8,1054.1 354.9,1054.1 C350,1054.1 345.1,1054.1 340.2,1054.1 C335.3,1054.1 330.4,1054.1 325.6,1054.1 C320.7,1054.1 315.8,1054.1 310.9,1054.1 C306,1054.1 301.1,1054.1 296.2,1054.1 C291.3,1054.1 286.4,1054.1 281.5,1054.1 C276.6,1054.1 271.7,1054.1 266.8,1054.1 C261.9,1054.1 257,1054.1 252.1,1054.1 C247.2,1054.1 242.3,1054.1 237.4,1054.1 C232.5,1054.1 227.6,1054.1 222.7,1054.1 C217.8,1054.1 212.9,1054.1 208,1054.1 C203.1,1054.1 198.2,1054.1 193.3,1054.1 C188.4,1054.1 183.5,1054.1 178.7,1054.1 C173.8,1054.1 168.9,1054.1 164,1054.1 C159.1,1054.1 154.2,1054.1 149.3,1054.1 C144.4,1054.1 139.5,1054.1 134.6,1054.1 C129.7,1054.1 124.8,1054.1 119.9,1054.1 C115,1054.1 110.1,1054.1 105.2,1054.1 C100.3,1054.1 95.4,1054.1 90.5,1054.1 C85.6,1054.1 80.7,1054.1 75.8,1054.1 C70.9,1054.1 66,1054.1 61.1,1054.1 C56.2,1054.1 50.1,1054.1 46.4,1054.1 C42.8,1054.1 40.3,1054.1 39.1,1054.1 Z"/>
<rect x="39.1" y="1075.2" width="1175.2" height="1.7" fill="#2b2b2b"/>
<rect x="104.5" y="1071" width="1.3" height="5" fill="#2b2b2b"/>
<text x="105.6" y="1088.7" class="tk">165</text>
<rect x="178" y="1071" width="1.3" height="5" fill="#2b2b2b"/>
<text x="179.1" y="1088.7" class="tk">170</text>
<rect x="251.4" y="1071" width="1.3" height="5" fill="#2b2b2b"/>
<text x="252.5" y="1088.7" class="tk">175</text>
<rect x="324.9" y="1071" width="1.3" height="5" fill="#2b2b2b"/>
<text x="325.9" y="1088.7" class="tk">180</text>
<rect x="398.4" y="1071" width="1.3" height="5" fill="#2b2b2b"/>
<text x="399.4" y="1088.7" class="tk">185</text>
<rect x="471.8" y="1071" width="1.3" height="5" fill="#2b2b2b"/>
<text x="472.8" y="1088.7" class="tk">190</text>
<rect x="545.2" y="1071" width="1.3" height="5" fill="#2b2b2b"/>
<text x="546.3" y="1088.7" class="tk">195</text>
<rect x="618.7" y="1071" width="1.3" height="5" fill="#2b2b2b"/>
<text x="619.7" y="1088.7" class="tk">200</text>
<rect x="692.1" y="1071" width="1.3" height="5" fill="#2b2b2b"/>
<text x="693.2" y="1088.7" class="tk">205</text>
<rect x="765.6" y="1071" width="1.3" height="5" fill="#2b2b2b"/>
<text x="766.6" y="1088.7" class="tk">210</text>
<rect x="839.1" y="1071" width="1.3" height="5" fill="#2b2b2b"/>
<text x="840.1" y="1088.7" class="tk">215</text>
<rect x="912.5" y="1071" width="1.3" height="5" fill="#2b2b2b"/>
<text x="913.5" y="1088.7" class="tk">220</text>
<rect x="985.9" y="1071" width="1.3" height="5" fill="#2b2b2b"/>
<text x="987" y="1088.7" class="tk">225</text>
<rect x="1059.4" y="1071" width="1.3" height="5" fill="#2b2b2b"/>
<text x="1060.5" y="1088.7" class="tk">230</text>
<rect x="1132.8" y="1071" width="1.3" height="5" fill="#2b2b2b"/>
<text x="1133.9" y="1088.7" class="tk">235</text>
<rect x="1206.3" y="1071" width="1.3" height="5" fill="#2b2b2b"/>
<text x="1207.4" y="1088.7" class="tk">240</text>
<g transform="scale(1.2,0.95)">
<text x="38.70" y="1173.37" class="aa">P</text>
<text x="50.94" y="1173.37" class="aa">G</text>
<text x="63.18" y="1173.37" class="aa">P</text>
<text x="75.42" y="1173.37" class="aa">G</text>
<text x="87.67" y="1173.37" class="aa">Y</text>
<text x="99.91" y="1173.37" class="aa">V</text>
<text x="112.15" y="1173.37" class="aa">A</text>
<text x="124.39" y="1173.37" class="aa">G</text>
<text x="136.63" y="1173.37" class="aa">Y</text>
<text x="148.88" y="1173.37" class="aa">K</text>
<text x="161.12" y="1173.37" class="aa">V</text>
<text x="173.36" y="1173.37" class="aa">L</text>
<text x="185.60" y="1173.37" class="aa">P</text>
<text x="197.84" y="1173.37" class="aa">P</text>
<text x="210.08" y="1173.37" class="aa">L</text>
<text x="222.32" y="1173.37" class="aa">M</text>
<text x="234.57" y="1173.37" class="aa">D</text>
<text x="246.81" y="1173.37" class="aa">V</text>
<text x="259.05" y="1173.37" class="aa">N</text>
<text x="271.29" y="1173.37" class="aa">G</text>
<text x="283.53" y="1173.37" class="aa">P</text>
<text x="295.78" y="1173.37" class="aa">G</text>
<text x="308.02" y="1173.37" class="aa">P</text>
<text x="320.26" y="1173.37" class="aa">G</text>
<text x="332.50" y="1173.37" class="aa">G</text>
<text x="344.74" y="1173.37" class="aa">T</text>
<text x="356.98" y="1173.37" class="aa">Q</text>
<text x="369.23" y="1173.37" class="aa">Y</text>
<text x="381.47" y="1173.37" class="aa">V</text>
<text x="393.71" y="1173.37" class="aa">Y</text>
<text x="405.95" y="1173.37" class="aa">S</text>
<text x="418.19" y="1173.37" class="aa">A</text>
<text x="430.43" y="1173.37" class="aa">S</text>
<text x="442.68" y="1173.37" class="aa">N</text>
<text x="454.92" y="1173.37" class="aa">H</text>
<text x="467.16" y="1173.37" class="aa">K</text>
<text x="479.40" y="1173.37" class="aa">S</text>
<text x="491.64" y="1173.37" class="aa">T</text>
<text x="503.88" y="1173.37" class="aa">A</text>
<text x="516.12" y="1173.37" class="aa">G</text>
<text x="528.37" y="1173.37" class="aa">P</text>
<text x="540.61" y="1173.37" class="aa">G</text>
<text x="552.85" y="1173.37" class="aa">P</text>
<text x="565.09" y="1173.37" class="aa">G</text>
<text x="577.33" y="1173.37" class="aa">T</text>
<text x="589.58" y="1173.37" class="aa">Q</text>
<text x="601.82" y="1173.37" class="aa">Y</text>
<text x="614.06" y="1173.37" class="aa">V</text>
<text x="626.30" y="1173.37" class="aa">Y</text>
<text x="638.54" y="1173.37" class="aa">S</text>
<text x="650.78" y="1173.37" class="aa">A</text>
<text x="663.02" y="1173.37" class="aa">S</text>
<text x="675.27" y="1173.37" class="aa">N</text>
<text x="687.51" y="1173.37" class="aa">H</text>
<text x="699.75" y="1173.37" class="aa">K</text>
<text x="711.99" y="1173.37" class="aa">S</text>
<text x="724.23" y="1173.37" class="aa">T</text>
<text x="736.48" y="1173.37" class="aa">A</text>
<text x="748.72" y="1173.37" class="aa">N</text>
<text x="760.96" y="1173.37" class="aa">G</text>
<text x="773.20" y="1173.37" class="aa">P</text>
<text x="785.44" y="1173.37" class="aa">G</text>
<text x="797.68" y="1173.37" class="aa">P</text>
<text x="809.92" y="1173.37" class="aa">G</text>
<text x="822.17" y="1173.37" class="aa">I</text>
<text x="834.41" y="1173.37" class="aa">I</text>
<text x="846.65" y="1173.37" class="aa">G</text>
<text x="858.89" y="1173.37" class="aa">F</text>
<text x="871.13" y="1173.37" class="aa">H</text>
<text x="883.38" y="1173.37" class="aa">S</text>
<text x="895.62" y="1173.37" class="aa">D</text>
<text x="907.86" y="1173.37" class="aa">D</text>
<text x="920.10" y="1173.37" class="aa">G</text>
<text x="932.34" y="1173.37" class="aa">N</text>
<text x="944.58" y="1173.37" class="aa">Y</text>
<text x="956.83" y="1173.37" class="aa">Y</text>
<text x="969.07" y="1173.37" class="aa">C</text>
<text x="981.31" y="1173.37" class="aa">V</text>
<text x="993.55" y="1173.37" class="aa">A</text>
<text x="1005.79" y="1173.37" class="aa">G</text>
</g>
<path fill="url(#rg21)" d="M39.1,1134.1 L39.1,1132.1 C40.3,1132.1 42.8,1131.8 46.4,1132.1 C50.1,1132.4 56.2,1134.4 61.1,1134.1 C66,1133.8 70.9,1130.4 75.8,1130.2 C80.7,1129.9 85.6,1132.1 90.5,1132.6 C95.4,1133.1 100.3,1132.8 105.2,1133.1 C110.1,1133.3 115,1134 119.9,1134.1 C124.8,1134.2 129.7,1133.7 134.6,1133.6 C139.5,1133.5 144.4,1133.7 149.3,1133.6 C154.2,1133.5 159.1,1133.3 164,1133.1 C168.9,1132.8 173.8,1131.9 178.7,1132.1 C183.5,1132.3 188.4,1133.5 193.3,1134.1 C198.2,1134.7 203.1,1135.5 208,1135.6 C212.9,1135.7 217.8,1135 222.7,1134.6 C227.6,1134.2 232.5,1133.3 237.4,1133.1 C242.3,1132.9 247.2,1133.3 252.1,1133.6 C257,1133.8 261.9,1134.9 266.8,1134.6 C271.7,1134.3 276.6,1131.8 281.5,1131.6 C286.4,1131.4 291.3,1133.8 296.2,1133.6 C301.1,1133.4 306,1130.3 310.9,1130.2 C315.8,1130.1 320.7,1132.9 325.6,1133.1 C330.4,1133.2 335.3,1131.1 340.2,1131.1 C345.1,1131.1 350,1133.4 354.9,1133.1 C359.8,1132.8 364.7,1129.9 369.6,1129.2 C374.5,1128.5 379.4,1128 384.3,1128.7 C389.2,1129.3 394.1,1132.4 399,1133.1 C403.9,1133.8 408.8,1132.5 413.7,1132.6 C418.6,1132.7 423.5,1133.1 428.4,1133.6 C433.3,1134.1 438.2,1135.1 443.1,1135.6 C448,1136.1 452.9,1136.5 457.8,1136.6 C462.7,1136.7 467.6,1136.3 472.4,1136.1 C477.3,1135.9 482.2,1135.8 487.1,1135.6 C492,1135.3 496.9,1135.4 501.8,1134.6 C506.7,1133.8 511.6,1130.9 516.5,1130.7 C521.4,1130.4 526.3,1132.4 531.2,1133.1 C536.1,1133.8 541,1134.9 545.9,1134.6 C550.8,1134.3 555.7,1131.2 560.6,1131.1 C565.5,1131 570.4,1133.9 575.3,1134.1 C580.2,1134.3 585.1,1132.2 590,1132.1 C594.9,1132 599.8,1133.3 604.7,1133.6 C609.6,1133.8 614.5,1134.2 619.3,1133.6 C624.2,1132.9 629.1,1129.8 634,1129.7 C638.9,1129.6 643.8,1133.2 648.7,1133.1 C653.6,1133 658.5,1129.5 663.4,1129.2 C668.3,1128.9 673.2,1130.6 678.1,1131.1 C683,1131.6 687.9,1131.8 692.8,1132.1 C697.7,1132.4 702.6,1132.6 707.5,1133.1 C712.4,1133.6 717.3,1134.6 722.2,1135.1 C727.1,1135.6 732,1136 736.9,1136.1 C741.8,1136.2 746.7,1135.8 751.6,1135.6 C756.5,1135.3 761.4,1134.8 766.2,1134.6 C771.1,1134.3 776,1134.8 780.9,1134.1 C785.8,1133.4 790.7,1131.1 795.6,1130.7 C800.5,1130.3 805.4,1131 810.3,1131.6 C815.2,1132.2 820.1,1134.3 825,1134.1 C829.9,1133.9 834.8,1130.2 839.7,1130.2 C844.6,1130.2 849.5,1133.7 854.4,1134.1 C859.3,1134.5 864.2,1132.3 869.1,1132.6 C874,1132.8 878.9,1136.2 883.8,1135.6 C888.7,1135 893.6,1129.5 898.5,1129.2 C903.4,1128.9 908.3,1133.3 913.1,1133.6 C918,1133.8 922.9,1130.6 927.8,1130.7 C932.7,1130.8 937.6,1134.1 942.5,1134.1 C947.4,1134.1 952.3,1130.6 957.2,1130.7 C962.1,1130.8 967,1133.9 971.9,1134.6 C976.8,1135.3 981.7,1134.9 986.6,1135.1 C991.5,1135.3 996.4,1135.4 1001.3,1135.6 C1006.2,1135.8 1011.1,1136.1 1016,1136.1 C1020.9,1136.1 1025.8,1136 1030.7,1135.6 C1035.6,1135.2 1040.5,1133.9 1045.4,1133.6 C1050.3,1133.3 1055.2,1134.8 1060,1133.6 C1064.9,1132.4 1069.8,1127.8 1074.7,1126.7 C1079.6,1125.6 1084.5,1126.2 1089.4,1127.2 C1094.3,1128.2 1099.2,1131.7 1104.1,1132.6 C1109,1133.5 1113.9,1132.1 1118.8,1132.6 C1123.7,1133.1 1128.6,1135 1133.5,1135.6 C1138.4,1136.2 1143.3,1135.8 1148.2,1136.1 C1153.1,1136.3 1158,1137.1 1162.9,1137.1 C1167.8,1137.1 1172.7,1136.3 1177.6,1136.1 C1182.5,1135.8 1187.4,1135.9 1192.3,1135.6 C1197.2,1135.3 1203.3,1134.3 1207,1134.1 C1210.6,1133.8 1213.1,1134.1 1214.3,1134.1 L1214.3,1134.1 Z"/>
<rect x="39.1" y="1133" width="1175.2" height="1.1" fill="url(#rl21)"/>
<rect x="39.1" y="1152.8" width="1175.2" height="4" fill="#CE2E96"/>
<path fill="#62288D" d="M171.3,1149 L192.7,1149 L192.7,1145.6 L200.7,1154.8 L192.7,1164 L192.7,1160.6 L171.3,1160.6 Z"/>
<path fill="#62288D" d="M421,1149 L486.5,1149 L486.5,1145.6 L494.5,1154.8 L486.5,1164 L486.5,1160.6 L421,1160.6 Z"/>
<path fill="#62288D" d="M553.2,1149 L559.9,1149 L559.9,1145.6 L567.9,1154.8 L559.9,1164 L559.9,1160.6 L553.2,1160.6 Z"/>
<path fill="#62288D" d="M714.8,1149 L765.6,1149 L765.6,1145.6 L773.6,1154.8 L765.6,1164 L765.6,1160.6 L714.8,1160.6 Z"/>
<path fill="#62288D" d="M979.3,1149 L1044.7,1149 L1044.7,1145.6 L1052.7,1154.8 L1044.7,1164 L1044.7,1160.6 L979.3,1160.6 Z"/>
<path fill="#62288D" d="M1126.2,1149 L1191.6,1149 L1191.6,1145.6 L1199.6,1154.8 L1191.6,1164 L1191.6,1160.6 L1126.2,1160.6 Z"/>
<path fill="#666666" d="M39.1,1179.2 C40.3,1179.2 42.8,1179.2 46.4,1179.2 C50.1,1179.2 56.2,1179.2 61.1,1179.2 C66,1179.2 70.9,1179.2 75.8,1179.2 C80.7,1179.2 85.6,1179.2 90.5,1179.2 C95.4,1179.2 100.3,1179.2 105.2,1179.2 C110.1,1179.2 115,1179.2 119.9,1179.2 C124.8,1179.2 129.7,1179.2 134.6,1179.2 C139.5,1179.2 144.4,1179.2 149.3,1179.2 C154.2,1179.2 159.1,1179.2 164,1179.2 C168.9,1179.2 173.8,1179.2 178.7,1179.2 C183.5,1179.2 188.4,1179.2 193.3,1179.2 C198.2,1179.2 203.1,1179.2 208,1179.2 C212.9,1179.2 217.8,1179.2 222.7,1179.2 C227.6,1179.2 232.5,1179.2 237.4,1179.2 C242.3,1179.2 247.2,1179.2 252.1,1179.2 C257,1179.2 261.9,1179.2 266.8,1179.2 C271.7,1179.2 276.6,1179.2 281.5,1179.2 C286.4,1179.2 291.3,1179.2 296.2,1179.2 C301.1,1179.2 306,1179.2 310.9,1179.2 C315.8,1179.2 320.7,1179.2 325.6,1179.2 C330.4,1179.2 335.3,1179.2 340.2,1179.2 C345.1,1179.2 350,1179.2 354.9,1179.2 C359.8,1179.2 364.7,1179.2 369.6,1179.2 C374.5,1179.2 379.4,1179.2 384.3,1179.2 C389.2,1179.2 394.1,1179.2 399,1179.2 C403.9,1179.2 408.8,1179.2 413.7,1179.2 C418.6,1179.2 423.5,1179.2 428.4,1179.2 C433.3,1179.2 438.2,1179.2 443.1,1179.2 C448,1179.2 452.9,1179.2 457.8,1179.2 C462.7,1179.2 467.6,1179.2 472.4,1179.2 C477.3,1179.2 482.2,1179.2 487.1,1179.2 C492,1179.2 496.9,1179.2 501.8,1179.2 C506.7,1179.2 511.6,1179.2 516.5,1179.2 C521.4,1179.2 526.3,1179.2 531.2,1179.2 C536.1,1179.2 541,1179.2 545.9,1179.2 C550.8,1179.2 555.7,1179.2 560.6,1179.2 C565.5,1179.2 570.4,1179.2 575.3,1179.2 C580.2,1179.2 585.1,1179.2 590,1179.2 C594.9,1179.2 599.8,1179.2 604.7,1179.2 C609.6,1179.2 614.5,1179.2 619.3,1179.2 C624.2,1179.2 629.1,1179.2 634,1179.2 C638.9,1179.2 643.8,1179.2 648.7,1179.2 C653.6,1179.2 658.5,1179.2 663.4,1179.2 C668.3,1179.2 673.2,1179.2 678.1,1179.2 C683,1179.2 687.9,1179.2 692.8,1179.2 C697.7,1179.2 702.6,1179.2 707.5,1179.2 C712.4,1179.2 717.3,1179.2 722.2,1179.2 C727.1,1179.2 732,1179.2 736.9,1179.2 C741.8,1179.2 746.7,1179.2 751.6,1179.2 C756.5,1179.2 761.4,1179.2 766.2,1179.2 C771.1,1179.2 776,1179.2 780.9,1179.2 C785.8,1179.2 790.7,1179.2 795.6,1179.2 C800.5,1179.2 805.4,1179.2 810.3,1179.2 C815.2,1179.2 820.1,1179.2 825,1179.2 C829.9,1179.2 834.8,1179.2 839.7,1179.2 C844.6,1179.2 849.5,1179.2 854.4,1179.2 C859.3,1179.2 864.2,1179.2 869.1,1179.2 C874,1179.2 878.9,1179.2 883.8,1179.2 C888.7,1179.2 893.6,1179.2 898.5,1179.2 C903.4,1179.2 908.3,1179.2 913.1,1179.2 C918,1179.2 922.9,1179.2 927.8,1179.2 C932.7,1179.2 937.6,1179.2 942.5,1179.2 C947.4,1179.2 952.3,1179.2 957.2,1179.2 C962.1,1179.2 967,1179.2 971.9,1179.2 C976.8,1179.2 981.7,1179.2 986.6,1179.2 C991.5,1179.2 996.4,1179.2 1001.3,1179.2 C1006.2,1179.2 1011.1,1179.2 1016,1179.2 C1020.9,1179.2 1025.8,1179.2 1030.7,1179.2 C1035.6,1179.2 1040.5,1179.2 1045.4,1179.2 C1050.3,1179.2 1055.2,1179.2 1060,1179.2 C1064.9,1179.2 1069.8,1179.2 1074.7,1179.2 C1079.6,1179.2 1084.5,1179.2 1089.4,1179.2 C1094.3,1179.2 1099.2,1179.2 1104.1,1179.2 C1109,1179.2 1113.9,1179.2 1118.8,1179.2 C1123.7,1179.2 1128.6,1179.2 1133.5,1179.2 C1138.4,1179.2 1143.3,1179.2 1148.2,1179.2 C1153.1,1179.2 1158,1179.2 1162.9,1179.2 C1167.8,1179.2 1172.7,1179.2 1177.6,1179.2 C1182.5,1179.2 1187.4,1179.2 1192.3,1179.2 C1197.2,1179.2 1203.3,1179.2 1207,1179.2 C1210.6,1179.2 1213.1,1179.2 1214.3,1179.2 L1214.3,1180.6 C1213.1,1180.6 1210.6,1180.6 1207,1180.6 C1203.3,1180.6 1197.2,1180.6 1192.3,1180.6 C1187.4,1180.6 1182.5,1180.6 1177.6,1180.6 C1172.7,1180.6 1167.8,1180.6 1162.9,1180.6 C1158,1180.6 1153.1,1180.6 1148.2,1180.6 C1143.3,1180.6 1138.4,1180.6 1133.5,1180.6 C1128.6,1180.6 1123.7,1180.6 1118.8,1180.6 C1113.9,1180.6 1109,1180.6 1104.1,1180.6 C1099.2,1180.6 1094.3,1180.6 1089.4,1180.6 C1084.5,1180.6 1079.6,1180.6 1074.7,1180.6 C1069.8,1180.6 1064.9,1180.6 1060,1180.6 C1055.2,1180.6 1050.3,1180.6 1045.4,1180.6 C1040.5,1180.6 1035.6,1180.6 1030.7,1180.6 C1025.8,1180.6 1020.9,1180.6 1016,1180.6 C1011.1,1180.6 1006.2,1180.6 1001.3,1180.6 C996.4,1180.6 991.5,1180.6 986.6,1180.6 C981.7,1180.6 976.8,1180.6 971.9,1180.6 C967,1180.6 962.1,1180.6 957.2,1180.6 C952.3,1180.6 947.4,1180.6 942.5,1180.6 C937.6,1180.6 932.7,1180.6 927.8,1180.6 C922.9,1180.6 918,1180.6 913.1,1180.6 C908.3,1180.6 903.4,1180.6 898.5,1180.6 C893.6,1180.6 888.7,1180.6 883.8,1180.6 C878.9,1180.6 874,1180.6 869.1,1180.6 C864.2,1180.6 859.3,1180.6 854.4,1180.6 C849.5,1180.6 844.6,1180.6 839.7,1180.6 C834.8,1180.6 829.9,1180.6 825,1180.6 C820.1,1180.6 815.2,1180.6 810.3,1180.6 C805.4,1180.6 800.5,1180.6 795.6,1180.6 C790.7,1180.6 785.8,1180.6 780.9,1180.6 C776,1180.6 771.1,1180.6 766.2,1180.6 C761.4,1180.6 756.5,1180.6 751.6,1180.6 C746.7,1180.6 741.8,1180.6 736.9,1180.6 C732,1180.6 727.1,1180.6 722.2,1180.6 C717.3,1180.6 712.4,1180.6 707.5,1180.6 C702.6,1180.6 697.7,1180.6 692.8,1180.6 C687.9,1180.6 683,1180.6 678.1,1180.6 C673.2,1180.6 668.3,1180.6 663.4,1180.6 C658.5,1180.6 653.6,1180.6 648.7,1180.6 C643.8,1180.6 638.9,1180.6 634,1180.6 C629.1,1180.6 624.2,1180.6 619.3,1180.6 C614.5,1180.6 609.6,1180.6 604.7,1180.6 C599.8,1180.6 594.9,1180.6 590,1180.6 C585.1,1180.6 580.2,1180.6 575.3,1180.6 C570.4,1180.6 565.5,1180.6 560.6,1180.6 C555.7,1180.6 550.8,1180.6 545.9,1180.6 C541,1180.6 536.1,1180.6 531.2,1180.6 C526.3,1180.6 521.4,1180.6 516.5,1180.6 C511.6,1180.6 506.7,1180.6 501.8,1180.6 C496.9,1180.6 492,1180.6 487.1,1180.6 C482.2,1180.6 477.3,1180.6 472.4,1180.6 C467.6,1180.6 462.7,1180.6 457.8,1180.6 C452.9,1180.6 448,1180.6 443.1,1180.6 C438.2,1180.6 433.3,1180.6 428.4,1180.6 C423.5,1180.6 418.6,1180.6 413.7,1180.6 C408.8,1180.6 403.9,1180.6 399,1180.6 C394.1,1180.6 389.2,1180.6 384.3,1180.6 C379.4,1180.6 374.5,1180.6 369.6,1180.6 C364.7,1180.6 359.8,1180.6 354.9,1180.6 C350,1180.6 345.1,1180.6 340.2,1180.6 C335.3,1180.6 330.4,1180.6 325.6,1180.6 C320.7,1180.6 315.8,1180.6 310.9,1180.6 C306,1180.6 301.1,1180.6 296.2,1180.6 C291.3,1180.6 286.4,1180.6 281.5,1180.6 C276.6,1180.6 271.7,1180.6 266.8,1180.6 C261.9,1180.6 257,1180.6 252.1,1180.6 C247.2,1180.6 242.3,1180.6 237.4,1180.6 C232.5,1180.6 227.6,1180.6 222.7,1180.6 C217.8,1180.6 212.9,1180.6 208,1180.6 C203.1,1180.6 198.2,1180.6 193.3,1180.6 C188.4,1180.6 183.5,1180.6 178.7,1180.6 C173.8,1180.6 168.9,1180.6 164,1180.6 C159.1,1180.6 154.2,1180.6 149.3,1180.6 C144.4,1180.6 139.5,1180.6 134.6,1180.6 C129.7,1180.6 124.8,1180.6 119.9,1180.6 C115,1180.6 110.1,1180.6 105.2,1180.6 C100.3,1180.6 95.4,1180.6 90.5,1180.6 C85.6,1180.6 80.7,1180.6 75.8,1180.6 C70.9,1180.6 66,1180.6 61.1,1180.6 C56.2,1180.6 50.1,1180.6 46.4,1180.6 C42.8,1180.6 40.3,1180.6 39.1,1180.6 Z"/>
<rect x="39.1" y="1201.7" width="1175.2" height="1.7" fill="#2b2b2b"/>
<rect x="104.5" y="1197.5" width="1.3" height="5" fill="#2b2b2b"/>
<text x="105.6" y="1215.2" class="tk">245</text>
<rect x="178" y="1197.5" width="1.3" height="5" fill="#2b2b2b"/>
<text x="179.1" y="1215.2" class="tk">250</text>
<rect x="251.4" y="1197.5" width="1.3" height="5" fill="#2b2b2b"/>
<text x="252.5" y="1215.2" class="tk">255</text>
<rect x="324.9" y="1197.5" width="1.3" height="5" fill="#2b2b2b"/>
<text x="325.9" y="1215.2" class="tk">260</text>
<rect x="398.4" y="1197.5" width="1.3" height="5" fill="#2b2b2b"/>
<text x="399.4" y="1215.2" class="tk">265</text>
<rect x="471.8" y="1197.5" width="1.3" height="5" fill="#2b2b2b"/>
<text x="472.8" y="1215.2" class="tk">270</text>
<rect x="545.2" y="1197.5" width="1.3" height="5" fill="#2b2b2b"/>
<text x="546.3" y="1215.2" class="tk">275</text>
<rect x="618.7" y="1197.5" width="1.3" height="5" fill="#2b2b2b"/>
<text x="619.7" y="1215.2" class="tk">280</text>
<rect x="692.1" y="1197.5" width="1.3" height="5" fill="#2b2b2b"/>
<text x="693.2" y="1215.2" class="tk">285</text>
<rect x="765.6" y="1197.5" width="1.3" height="5" fill="#2b2b2b"/>
<text x="766.6" y="1215.2" class="tk">290</text>
<rect x="839.1" y="1197.5" width="1.3" height="5" fill="#2b2b2b"/>
<text x="840.1" y="1215.2" class="tk">295</text>
<rect x="912.5" y="1197.5" width="1.3" height="5" fill="#2b2b2b"/>
<text x="913.5" y="1215.2" class="tk">300</text>
<rect x="985.9" y="1197.5" width="1.3" height="5" fill="#2b2b2b"/>
<text x="987" y="1215.2" class="tk">305</text>
<rect x="1059.4" y="1197.5" width="1.3" height="5" fill="#2b2b2b"/>
<text x="1060.5" y="1215.2" class="tk">310</text>
<rect x="1132.8" y="1197.5" width="1.3" height="5" fill="#2b2b2b"/>
<text x="1133.9" y="1215.2" class="tk">315</text>
<rect x="1206.3" y="1197.5" width="1.3" height="5" fill="#2b2b2b"/>
<text x="1207.4" y="1215.2" class="tk">320</text>
<g transform="scale(1.2,0.95)">
<text x="38.70" y="1306.53" class="aa">G</text>
<text x="50.94" y="1306.53" class="aa">G</text>
<text x="63.18" y="1306.53" class="aa">S</text>
<text x="75.42" y="1306.53" class="aa">D</text>
<text x="87.67" y="1306.53" class="aa">L</text>
<text x="99.91" y="1306.53" class="aa">G</text>
<text x="112.15" y="1306.53" class="aa">T</text>
<text x="124.39" y="1306.53" class="aa">Q</text>
<text x="136.63" y="1306.53" class="aa">Y</text>
<text x="148.88" y="1306.53" class="aa">V</text>
<text x="161.12" y="1306.53" class="aa">Y</text>
<text x="173.36" y="1306.53" class="aa">S</text>
<text x="185.60" y="1306.53" class="aa">A</text>
<text x="197.84" y="1306.53" class="aa">S</text>
<text x="210.08" y="1306.53" class="aa">N</text>
<text x="222.32" y="1306.53" class="aa">H</text>
<text x="234.57" y="1306.53" class="aa">K</text>
<text x="246.81" y="1306.53" class="aa">S</text>
<text x="259.05" y="1306.53" class="aa">T</text>
<text x="271.29" y="1306.53" class="aa">A</text>
<text x="283.53" y="1306.53" class="aa">N</text>
<text x="295.78" y="1306.53" class="aa">D</text>
<text x="308.02" y="1306.53" class="aa">A</text>
<text x="320.26" y="1306.53" class="aa">K</text>
<text x="332.50" y="1306.53" class="aa">K</text>
<text x="344.74" y="1306.53" class="aa">N</text>
<text x="356.98" y="1306.53" class="aa">Y</text>
<text x="369.23" y="1306.53" class="aa">G</text>
<text x="381.47" y="1306.53" class="aa">A</text>
<text x="393.71" y="1306.53" class="aa">T</text>
<text x="405.95" y="1306.53" class="aa">N</text>
<text x="418.19" y="1306.53" class="aa">K</text>
<text x="430.43" y="1306.53" class="aa">D</text>
<text x="442.68" y="1306.53" class="aa">D</text>
<text x="454.92" y="1306.53" class="aa">V</text>
<text x="467.16" y="1306.53" class="aa">V</text>
<text x="479.40" y="1306.53" class="aa">K</text>
<text x="491.64" y="1306.53" class="aa">P</text>
<text x="503.88" y="1306.53" class="aa">G</text>
<text x="516.12" y="1306.53" class="aa">G</text>
<text x="528.37" y="1306.53" class="aa">R</text>
<text x="540.61" y="1306.53" class="aa">A</text>
<text x="552.85" y="1306.53" class="aa">S</text>
<text x="565.09" y="1306.53" class="aa">Q</text>
<text x="577.33" y="1306.53" class="aa">Q</text>
<text x="589.58" y="1306.53" class="aa">K</text>
<text x="601.82" y="1306.53" class="aa">K</text>
<text x="614.06" y="1306.53" class="aa">L</text>
<text x="626.30" y="1306.53" class="aa">L</text>
<text x="638.54" y="1306.53" class="aa">Q</text>
<text x="650.78" y="1306.53" class="aa">P</text>
<text x="663.02" y="1306.53" class="aa">R</text>
<text x="675.27" y="1306.53" class="aa">T</text>
<text x="687.51" y="1306.53" class="aa">E</text>
<text x="699.75" y="1306.53" class="aa">S</text>
<text x="711.99" y="1306.53" class="aa">K</text>
<text x="724.23" y="1306.53" class="aa">C</text>
<text x="736.48" y="1306.53" class="aa">P</text>
<text x="748.72" y="1306.53" class="aa">G</text>
<text x="760.96" y="1306.53" class="aa">N</text>
<text x="773.20" y="1306.53" class="aa">S</text>
<text x="785.44" y="1306.53" class="aa">N</text>
<text x="797.68" y="1306.53" class="aa">Y</text>
<text x="809.92" y="1306.53" class="aa">V</text>
<text x="822.17" y="1306.53" class="aa">S</text>
<text x="834.41" y="1306.53" class="aa">Y</text>
<text x="846.65" y="1306.53" class="aa">F</text>
<text x="858.89" y="1306.53" class="aa">K</text>
<text x="871.13" y="1306.53" class="aa">K</text>
<text x="883.38" y="1306.53" class="aa">E</text>
<text x="895.62" y="1306.53" class="aa">S</text>
<text x="907.86" y="1306.53" class="aa">V</text>
<text x="920.10" y="1306.53" class="aa">K</text>
<text x="932.34" y="1306.53" class="aa">T</text>
<text x="944.58" y="1306.53" class="aa">P</text>
<text x="956.83" y="1306.53" class="aa">Q</text>
<text x="969.07" y="1306.53" class="aa">T</text>
<text x="981.31" y="1306.53" class="aa">V</text>
<text x="993.55" y="1306.53" class="aa">P</text>
<text x="1005.79" y="1306.53" class="aa">L</text>
</g>
<path fill="url(#rg22)" d="M39.1,1260.6 L39.1,1259.1 C40.3,1259.1 42.8,1259.3 46.4,1259.1 C50.1,1258.9 56.2,1258.8 61.1,1258.1 C66,1257.4 70.9,1255.6 75.8,1255.2 C80.7,1254.8 85.6,1255.2 90.5,1255.7 C95.4,1256.2 100.3,1257.4 105.2,1258.1 C110.1,1258.8 115,1259.8 119.9,1260.1 C124.8,1260.3 129.7,1259.6 134.6,1259.6 C139.5,1259.6 144.4,1259.7 149.3,1260.1 C154.2,1260.5 159.1,1261.3 164,1261.8 C168.9,1262.3 173.8,1262.9 178.7,1263 C183.5,1263.1 188.4,1262.8 193.3,1262.4 C198.2,1262 203.1,1260.9 208,1260.6 C212.9,1260.3 217.8,1261.2 222.7,1260.6 C227.6,1260 232.5,1257.7 237.4,1257.2 C242.3,1256.7 247.2,1257.1 252.1,1257.6 C257,1258.1 261.9,1260.4 266.8,1260.1 C271.7,1259.8 276.6,1255.9 281.5,1255.7 C286.4,1255.5 291.3,1258.8 296.2,1259.1 C301.1,1259.3 306,1256.9 310.9,1257.2 C315.8,1257.4 320.7,1261 325.6,1260.6 C330.4,1260.1 335.3,1255.1 340.2,1254.5 C345.1,1253.9 350,1256.2 354.9,1256.9 C359.8,1257.5 364.7,1258.6 369.6,1258.4 C374.5,1258.1 379.4,1255.8 384.3,1255.4 C389.2,1255 394.1,1255.6 399,1255.9 C403.9,1256.2 408.8,1256.6 413.7,1257.4 C418.6,1258.1 423.5,1260.2 428.4,1260.4 C433.3,1260.6 438.2,1258.7 443.1,1258.4 C448,1258.1 452.9,1258.8 457.8,1258.4 C462.7,1258 467.6,1256.1 472.4,1255.9 C477.3,1255.6 482.2,1257 487.1,1256.9 C492,1256.8 496.9,1256 501.8,1255.4 C506.7,1254.8 511.6,1253.2 516.5,1253.5 C521.4,1253.8 526.3,1256.1 531.2,1256.9 C536.1,1257.7 541,1258.1 545.9,1258.4 C550.8,1258.6 555.7,1258.7 560.6,1258.4 C565.5,1258.1 570.4,1256.8 575.3,1256.4 C580.2,1256 585.1,1256.1 590,1255.9 C594.9,1255.7 599.8,1255.4 604.7,1255.4 C609.6,1255.4 614.5,1255.9 619.3,1255.9 C624.2,1255.9 629.1,1255.1 634,1255.4 C638.9,1255.6 643.8,1257.1 648.7,1257.4 C653.6,1257.6 658.5,1257 663.4,1256.9 C668.3,1256.8 673.2,1256.9 678.1,1256.9 C683,1256.9 687.9,1257.1 692.8,1256.9 C697.7,1256.7 702.6,1256.1 707.5,1255.9 C712.4,1255.7 717.3,1255.5 722.2,1255.9 C727.1,1256.3 732,1257.9 736.9,1258.4 C741.8,1258.9 746.7,1259.1 751.6,1258.9 C756.5,1258.6 761.4,1257.1 766.2,1256.9 C771.1,1256.6 776,1257.4 780.9,1257.4 C785.8,1257.4 790.7,1257.1 795.6,1256.9 C800.5,1256.6 805.4,1256.1 810.3,1255.9 C815.2,1255.7 820.1,1255.8 825,1255.9 C829.9,1256 834.8,1256.6 839.7,1256.4 C844.6,1256.2 849.5,1253.8 854.4,1254.5 C859.3,1255.2 864.2,1260.4 869.1,1260.6 C874,1260.8 878.9,1256.7 883.8,1255.9 C888.7,1255.1 893.6,1255.7 898.5,1255.9 C903.4,1256.1 908.3,1256.8 913.1,1256.9 C918,1257 922.9,1256.5 927.8,1256.4 C932.7,1256.3 937.6,1255.9 942.5,1256.4 C947.4,1256.9 952.3,1258.8 957.2,1259.4 C962.1,1260 967,1260.1 971.9,1259.9 C976.8,1259.7 981.7,1258.4 986.6,1258.4 C991.5,1258.4 996.4,1259.5 1001.3,1259.9 C1006.2,1260.3 1011.1,1261.3 1016,1260.6 C1020.9,1259.9 1025.8,1256.8 1030.7,1255.9 C1035.6,1254.9 1040.5,1255 1045.4,1254.9 C1050.3,1254.8 1055.2,1255.2 1060,1255.4 C1064.9,1255.6 1069.8,1255.5 1074.7,1255.9 C1079.6,1256.3 1084.5,1258.2 1089.4,1257.9 C1094.3,1257.6 1099.2,1254.2 1104.1,1254 C1109,1253.8 1113.9,1255.9 1118.8,1256.4 C1123.7,1256.9 1128.6,1257.2 1133.5,1256.9 C1138.4,1256.6 1143.3,1254.8 1148.2,1254.5 C1153.1,1254.2 1158,1254.7 1162.9,1255.4 C1167.8,1256.1 1172.7,1258.6 1177.6,1258.9 C1182.5,1259.1 1187.4,1257.1 1192.3,1256.9 C1197.2,1256.6 1203.3,1257.3 1207,1257.4 C1210.6,1257.5 1213.1,1257.4 1214.3,1257.4 L1214.3,1260.6 Z"/>
<rect x="39.1" y="1259.5" width="1175.2" height="1.1" fill="url(#rl22)"/>
<rect x="39.1" y="1279.3" width="1175.2" height="4" fill="#CE2E96"/>
<path fill="#62288D" d="M141.9,1275.5 L192.7,1275.5 L192.7,1272.1 L200.7,1281.3 L192.7,1290.5 L192.7,1287.1 L141.9,1287.1 Z"/>
<path fill="#666666" d="M39.1,1305.7 C40.3,1305.7 42.8,1305.7 46.4,1305.7 C50.1,1305.7 56.2,1305.7 61.1,1305.7 C66,1305.7 70.9,1305.7 75.8,1305.7 C80.7,1305.7 85.6,1305.7 90.5,1305.7 C95.4,1305.7 100.3,1305.7 105.2,1305.7 C110.1,1305.7 115,1305.7 119.9,1305.7 C124.8,1305.7 129.7,1305.7 134.6,1305.7 C139.5,1305.7 144.4,1305.7 149.3,1305.7 C154.2,1305.7 159.1,1305.7 164,1305.7 C168.9,1305.7 173.8,1305.7 178.7,1305.7 C183.5,1305.7 188.4,1305.7 193.3,1305.7 C198.2,1305.7 203.1,1305.7 208,1305.7 C212.9,1305.7 217.8,1305.7 222.7,1305.7 C227.6,1305.7 232.5,1305.7 237.4,1305.7 C242.3,1305.7 247.2,1305.7 252.1,1305.7 C257,1305.7 261.9,1305.7 266.8,1305.7 C271.7,1305.7 276.6,1305.7 281.5,1305.6 C286.4,1305.5 291.3,1305.5 296.2,1305.4 C301.1,1305.2 306,1305 310.9,1304.9 C315.8,1304.7 320.7,1304.6 325.6,1304.4 C330.4,1304.2 335.3,1303.8 340.2,1303.7 C345.1,1303.5 350,1303.6 354.9,1303.6 C359.8,1303.5 364.7,1303.4 369.6,1303.3 C374.5,1303.2 379.4,1303.1 384.3,1303.1 C389.2,1303 394.1,1302.8 399,1302.8 C403.9,1302.8 408.8,1302.8 413.7,1302.9 C418.6,1303 423.5,1303.2 428.4,1303.2 C433.3,1303.2 438.2,1303 443.1,1302.9 C448,1302.8 452.9,1302.7 457.8,1302.7 C462.7,1302.6 467.6,1302.7 472.4,1302.7 C477.3,1302.6 482.2,1302.6 487.1,1302.6 C492,1302.5 496.9,1302.6 501.8,1302.6 C506.7,1302.5 511.6,1302.4 516.5,1302.3 C521.4,1302.2 526.3,1302.1 531.2,1302.1 C536.1,1302 541,1301.9 545.9,1301.8 C550.8,1301.7 555.7,1301.7 560.6,1301.6 C565.5,1301.5 570.4,1301.3 575.3,1301.2 C580.2,1301.1 585.1,1301 590,1301 C594.9,1300.9 599.8,1300.9 604.7,1300.9 C609.6,1300.8 614.5,1300.8 619.3,1300.9 C624.2,1300.9 629.1,1300.9 634,1301 C638.9,1301 643.8,1301 648.7,1301.1 C653.6,1301.1 658.5,1301.1 663.4,1301.2 C668.3,1301.3 673.2,1301.4 678.1,1301.5 C683,1301.5 687.9,1301.6 692.8,1301.7 C697.7,1301.8 702.6,1301.9 707.5,1302 C712.4,1302 717.3,1302.1 722.2,1302.2 C727.1,1302.3 732,1302.5 736.9,1302.7 C741.8,1302.8 746.7,1303 751.6,1303.1 C756.5,1303.1 761.4,1302.9 766.2,1302.9 C771.1,1302.9 776,1302.9 780.9,1302.9 C785.8,1302.9 790.7,1302.9 795.6,1302.9 C800.5,1302.9 805.4,1302.9 810.3,1302.9 C815.2,1302.9 820.1,1303 825,1303.2 C829.9,1303.3 834.8,1303.5 839.7,1303.7 C844.6,1303.8 849.5,1303.9 854.4,1304 C859.3,1304.1 864.2,1304.4 869.1,1304.4 C874,1304.4 878.9,1304.1 883.8,1304 C888.7,1303.9 893.6,1303.9 898.5,1303.8 C903.4,1303.7 908.3,1303.6 913.1,1303.6 C918,1303.6 922.9,1303.7 927.8,1303.8 C932.7,1303.9 937.6,1303.9 942.5,1304 C947.4,1304.1 952.3,1304.2 957.2,1304.2 C962.1,1304.3 967,1304.2 971.9,1304.2 C976.8,1304.2 981.7,1304.2 986.6,1304.2 C991.5,1304.3 996.4,1304.4 1001.3,1304.4 C1006.2,1304.4 1011.1,1304.2 1016,1304.2 C1020.9,1304.1 1025.8,1304 1030.7,1303.9 C1035.6,1303.8 1040.5,1303.7 1045.4,1303.7 C1050.3,1303.6 1055.2,1303.5 1060,1303.4 C1064.9,1303.3 1069.8,1303.2 1074.7,1303.2 C1079.6,1303.1 1084.5,1303 1089.4,1302.9 C1094.3,1302.8 1099.2,1302.8 1104.1,1302.8 C1109,1302.8 1113.9,1302.7 1118.8,1302.7 C1123.7,1302.6 1128.6,1302.5 1133.5,1302.4 C1138.4,1302.3 1143.3,1302.2 1148.2,1302.2 C1153.1,1302.2 1158,1302.2 1162.9,1302.2 C1167.8,1302.2 1172.7,1302 1177.6,1302 C1182.5,1301.9 1187.4,1301.8 1192.3,1301.7 C1197.2,1301.6 1203.3,1301.5 1207,1301.5 C1210.6,1301.4 1213.1,1301.5 1214.3,1301.5 L1214.3,1311.4 C1213.1,1311.4 1210.6,1311.4 1207,1311.4 C1203.3,1311.3 1197.2,1311.2 1192.3,1311.1 C1187.4,1311 1182.5,1310.9 1177.6,1310.9 C1172.7,1310.8 1167.8,1310.6 1162.9,1310.6 C1158,1310.6 1153.1,1310.6 1148.2,1310.6 C1143.3,1310.6 1138.4,1310.5 1133.5,1310.4 C1128.6,1310.3 1123.7,1310.2 1118.8,1310.2 C1113.9,1310.1 1109,1310 1104.1,1310 C1099.2,1310 1094.3,1310 1089.4,1309.9 C1084.5,1309.8 1079.6,1309.7 1074.7,1309.7 C1069.8,1309.6 1064.9,1309.5 1060,1309.4 C1055.2,1309.3 1050.3,1309.2 1045.4,1309.2 C1040.5,1309.1 1035.6,1309 1030.7,1308.9 C1025.8,1308.8 1020.9,1308.7 1016,1308.7 C1011.1,1308.6 1006.2,1308.4 1001.3,1308.4 C996.4,1308.4 991.5,1308.5 986.6,1308.6 C981.7,1308.6 976.8,1308.6 971.9,1308.6 C967,1308.6 962.1,1308.5 957.2,1308.6 C952.3,1308.6 947.4,1308.7 942.5,1308.8 C937.6,1308.9 932.7,1308.9 927.8,1309 C922.9,1309.1 918,1309.2 913.1,1309.2 C908.3,1309.2 903.4,1309.1 898.5,1309 C893.6,1308.9 888.7,1308.9 883.8,1308.8 C878.9,1308.7 874,1308.4 869.1,1308.4 C864.2,1308.4 859.3,1308.7 854.4,1308.8 C849.5,1308.9 844.6,1309 839.7,1309.2 C834.8,1309.3 829.9,1309.5 825,1309.7 C820.1,1309.8 815.2,1309.9 810.3,1309.9 C805.4,1309.9 800.5,1309.9 795.6,1309.9 C790.7,1309.9 785.8,1309.9 780.9,1309.9 C776,1309.9 771.1,1309.9 766.2,1309.9 C761.4,1309.9 756.5,1309.7 751.6,1309.8 C746.7,1309.8 741.8,1310 736.9,1310.2 C732,1310.3 727.1,1310.5 722.2,1310.6 C717.3,1310.7 712.4,1310.8 707.5,1310.9 C702.6,1310.9 697.7,1311 692.8,1311.1 C687.9,1311.2 683,1311.3 678.1,1311.4 C673.2,1311.4 668.3,1311.5 663.4,1311.6 C658.5,1311.7 653.6,1311.7 648.7,1311.8 C643.8,1311.8 638.9,1311.8 634,1311.9 C629.1,1311.9 624.2,1311.9 619.3,1312 C614.5,1312 609.6,1312 604.7,1312 C599.8,1311.9 594.9,1311.9 590,1311.9 C585.1,1311.8 580.2,1311.7 575.3,1311.6 C570.4,1311.5 565.5,1311.3 560.6,1311.2 C555.7,1311.2 550.8,1311.1 545.9,1311 C541,1310.9 536.1,1310.8 531.2,1310.8 C526.3,1310.7 521.4,1310.6 516.5,1310.5 C511.6,1310.4 506.7,1310.3 501.8,1310.2 C496.9,1310.2 492,1310.3 487.1,1310.2 C482.2,1310.2 477.3,1310.2 472.4,1310.2 C467.6,1310.1 462.7,1310.2 457.8,1310.2 C452.9,1310.1 448,1310 443.1,1309.9 C438.2,1309.8 433.3,1309.7 428.4,1309.7 C423.5,1309.7 418.6,1309.8 413.7,1309.9 C408.8,1310 403.9,1310 399,1310 C394.1,1310 389.2,1309.8 384.3,1309.8 C379.4,1309.7 374.5,1309.6 369.6,1309.5 C364.7,1309.4 359.8,1309.3 354.9,1309.2 C350,1309.2 345.1,1309.3 340.2,1309.2 C335.3,1309 330.4,1308.7 325.6,1308.5 C320.7,1308.2 315.8,1308.1 310.9,1308 C306,1307.8 301.1,1307.6 296.2,1307.5 C291.3,1307.3 286.4,1307.3 281.5,1307.2 C276.6,1307.1 271.7,1307.1 266.8,1307.1 C261.9,1307.1 257,1307.1 252.1,1307.1 C247.2,1307.1 242.3,1307.1 237.4,1307.1 C232.5,1307.1 227.6,1307.1 222.7,1307.1 C217.8,1307.1 212.9,1307.1 208,1307.1 C203.1,1307.1 198.2,1307.1 193.3,1307.1 C188.4,1307.1 183.5,1307.1 178.7,1307.1 C173.8,1307.1 168.9,1307.1 164,1307.1 C159.1,1307.1 154.2,1307.1 149.3,1307.1 C144.4,1307.1 139.5,1307.1 134.6,1307.1 C129.7,1307.1 124.8,1307.1 119.9,1307.1 C115,1307.1 110.1,1307.1 105.2,1307.1 C100.3,1307.1 95.4,1307.1 90.5,1307.1 C85.6,1307.1 80.7,1307.1 75.8,1307.1 C70.9,1307.1 66,1307.1 61.1,1307.1 C56.2,1307.1 50.1,1307.1 46.4,1307.1 C42.8,1307.1 40.3,1307.1 39.1,1307.1 Z"/>
<rect x="39.1" y="1328.2" width="1175.2" height="1.7" fill="#2b2b2b"/>
<rect x="104.5" y="1324" width="1.3" height="5" fill="#2b2b2b"/>
<text x="105.6" y="1341.7" class="tk">325</text>
<rect x="178" y="1324" width="1.3" height="5" fill="#2b2b2b"/>
<text x="179.1" y="1341.7" class="tk">330</text>
<rect x="251.4" y="1324" width="1.3" height="5" fill="#2b2b2b"/>
<text x="252.5" y="1341.7" class="tk">335</text>
<rect x="324.9" y="1324" width="1.3" height="5" fill="#2b2b2b"/>
<text x="325.9" y="1341.7" class="tk">340</text>
<rect x="398.4" y="1324" width="1.3" height="5" fill="#2b2b2b"/>
<text x="399.4" y="1341.7" class="tk">345</text>
<rect x="471.8" y="1324" width="1.3" height="5" fill="#2b2b2b"/>
<text x="472.8" y="1341.7" class="tk">350</text>
<rect x="545.2" y="1324" width="1.3" height="5" fill="#2b2b2b"/>
<text x="546.3" y="1341.7" class="tk">355</text>
<rect x="618.7" y="1324" width="1.3" height="5" fill="#2b2b2b"/>
<text x="619.7" y="1341.7" class="tk">360</text>
<rect x="692.1" y="1324" width="1.3" height="5" fill="#2b2b2b"/>
<text x="693.2" y="1341.7" class="tk">365</text>
<rect x="765.6" y="1324" width="1.3" height="5" fill="#2b2b2b"/>
<text x="766.6" y="1341.7" class="tk">370</text>
<rect x="839.1" y="1324" width="1.3" height="5" fill="#2b2b2b"/>
<text x="840.1" y="1341.7" class="tk">375</text>
<rect x="912.5" y="1324" width="1.3" height="5" fill="#2b2b2b"/>
<text x="913.5" y="1341.7" class="tk">380</text>
<rect x="985.9" y="1324" width="1.3" height="5" fill="#2b2b2b"/>
<text x="987" y="1341.7" class="tk">385</text>
<rect x="1059.4" y="1324" width="1.3" height="5" fill="#2b2b2b"/>
<text x="1060.5" y="1341.7" class="tk">390</text>
<rect x="1132.8" y="1324" width="1.3" height="5" fill="#2b2b2b"/>
<text x="1133.9" y="1341.7" class="tk">395</text>
<rect x="1206.3" y="1324" width="1.3" height="5" fill="#2b2b2b"/>
<text x="1207.4" y="1341.7" class="tk">400</text>
<g transform="scale(1.2,0.95)">
<text x="38.70" y="1439.68" class="aa">T</text>
<text x="50.94" y="1439.68" class="aa">T</text>
<text x="63.18" y="1439.68" class="aa">G</text>
<text x="75.42" y="1439.68" class="aa">F</text>
<text x="87.67" y="1439.68" class="aa">G</text>
<text x="99.91" y="1439.68" class="aa">G</text>
<text x="112.15" y="1439.68" class="aa">E</text>
<text x="124.39" y="1439.68" class="aa">F</text>
<text x="136.63" y="1439.68" class="aa">N</text>
<text x="148.88" y="1439.68" class="aa">H</text>
<text x="161.12" y="1439.68" class="aa">H</text>
<text x="173.36" y="1439.68" class="aa">H</text>
<text x="185.60" y="1439.68" class="aa">H</text>
<text x="197.84" y="1439.68" class="aa">H</text>
<text x="210.08" y="1439.68" class="aa">H</text>
</g>
<path fill="url(#rg23)" d="M39.1,1387.1 L39.1,1383.7 C40.3,1383.7 42.8,1383.9 46.4,1383.7 C50.1,1383.5 56.2,1382.8 61.1,1382.7 C66,1382.6 70.9,1383 75.8,1383.2 C80.7,1383.4 85.6,1384.2 90.5,1384.1 C95.4,1384 100.3,1383 105.2,1382.7 C110.1,1382.4 115,1382.6 119.9,1382.3 C124.8,1382 129.7,1380.8 134.6,1380.9 C139.5,1381 144.4,1383.2 149.3,1383.2 C154.2,1383.2 159.1,1381.3 164,1380.9 C168.9,1380.5 173.8,1381 178.7,1380.9 C183.5,1380.8 188.4,1380.5 193.3,1380.4 C198.2,1380.2 203.1,1380.1 208,1380 C212.9,1379.9 217.8,1380 222.7,1380 C227.6,1380 232.5,1380.5 237.4,1380 C242.3,1379.5 248.4,1377.3 252.1,1376.8 C255.8,1376.3 258.2,1376.8 259.4,1376.8 L259.4,1387.1 Z"/>
<rect x="39.1" y="1386" width="220.3" height="1.1" fill="url(#rl23)"/>
<rect x="39.1" y="1405.8" width="220.3" height="4" fill="#CE2E96"/>
<path fill="#666666" d="M39.1,1428.3 C40.3,1428.3 42.8,1428.4 46.4,1428.3 C50.1,1428.2 56.2,1427.8 61.1,1427.6 C66,1427.4 70.9,1427.3 75.8,1427.2 C80.7,1427 85.6,1426.9 90.5,1426.7 C95.4,1426.5 100.3,1426.4 105.2,1426.2 C110.1,1426.1 115,1426.1 119.9,1426 C124.8,1425.9 129.7,1425.9 134.6,1425.8 C139.5,1425.7 144.4,1425.4 149.3,1425.3 C154.2,1425.2 159.1,1425.1 164,1425 C168.9,1424.8 173.8,1424.7 178.7,1424.7 C183.5,1424.6 188.4,1424.4 193.3,1424.4 C198.2,1424.4 203.1,1424.4 208,1424.4 C212.9,1424.4 217.8,1424.4 222.7,1424.4 C227.6,1424.4 232.5,1424.4 237.4,1424.4 C242.3,1424.4 248.4,1424.4 252.1,1424.4 C255.8,1424.4 258.2,1424.4 259.4,1424.4 L259.4,1441.4 C258.2,1441.4 255.8,1441.4 252.1,1441.4 C248.4,1441.4 242.3,1441.4 237.4,1441.4 C232.5,1441.4 227.6,1441.4 222.7,1441.4 C217.8,1441.4 212.9,1441.4 208,1441.4 C203.1,1441.4 198.2,1441.4 193.3,1441.4 C188.4,1441.4 183.5,1441.2 178.7,1441.2 C173.8,1441.1 168.9,1441 164,1440.9 C159.1,1440.7 154.2,1440.6 149.3,1440.5 C144.4,1440.4 139.5,1440.1 134.6,1440 C129.7,1439.9 124.8,1439.9 119.9,1439.8 C115,1439.7 110.1,1439.7 105.2,1439.6 C100.3,1439.4 95.4,1439.3 90.5,1439.1 C85.6,1439 80.7,1438.8 75.8,1438.7 C70.9,1438.5 66,1438.4 61.1,1438.2 C56.2,1438 50.1,1437.6 46.4,1437.5 C42.8,1437.4 40.3,1437.5 39.1,1437.5 Z"/>
<rect x="39.1" y="1454.7" width="213" height="1.7" fill="#2b2b2b"/>
<circle cx="252.1" cy="1455.5" r="2.5" fill="#000"/>
<rect x="104.5" y="1450.5" width="1.3" height="5" fill="#2b2b2b"/>
<text x="105.6" y="1468.2" class="tk">405</text>
<rect x="178" y="1450.5" width="1.3" height="5" fill="#2b2b2b"/>
<text x="179.1" y="1468.2" class="tk">410</text>
<rect x="251.4" y="1450.5" width="1.3" height="5" fill="#2b2b2b"/>
<text x="252.5" y="1468.2" class="tk">415</text>
<g class="lg">
<text x="131.5" y="1511.2" font-weight="bold">Relative Surface Accessibility:</text>
<text x="536.7" y="1511.2">Red is exposed and blue is buried</text>
<text x="131.5" y="1571.5" font-weight="bold">Secondary Structure:</text>
<text x="424.8" y="1571.5">Helix,</text>
<text x="561.3" y="1571.5">Strand,</text>
<text x="732.9" y="1571.5">Coil</text>
<text x="131.8" y="1631.5"><tspan font-weight="bold">Disorder</tspan>:</text>
<text x="320.7" y="1631.5">Thickness of line equals probability of disordered residue</text>
</g>
<rect x="474.4" y="1497.9" width="55.4" height="2" fill="#a9c1ea"/>
<path fill="#9a1418" d="M477.5,1498 C481,1494 483,1485.8 490,1485.8 C496,1485.8 499,1489 502.2,1497.9 Z"/>
<path fill="#3f6dbe" d="M502.3,1500 L529.6,1500 L517.5,1512.3 L509.2,1512.3 Z"/>
<path fill="#F7941D" d="M369.2,1557.6 L378.8,1568 L380,1572.6 L375,1572.6 Q372.5,1572.6 371.5,1569.5 L369.2,1562.5 Z"/>
<path fill="#F26522" d="M376.5,1572.6 L383.5,1572.6 L392.8,1554 L392.8,1548 L388,1548 Q386,1548 384.8,1550.5 L376.5,1568 Z"/>
<path fill="#F26522" d="M404,1572.6 L411.5,1572.6 Q413.5,1572.6 414.3,1570 L415.6,1566 L415.6,1557.8 L414.8,1557.8 L405.5,1566.5 Z"/>
<path fill="#F7941D" d="M391.5,1548 L397,1548 Q399,1548 400,1550.5 L409.5,1572.6 L402.5,1572.6 Z"/>
<path fill="#62288D" d="M502.3,1554.9 L540.2,1554.9 L540.2,1548.6 L556.4,1563.9 L540.2,1578.6 L540.2,1573 L502.3,1573 Z"/>
<rect x="655.1" y="1554.6" width="61.8" height="9.6" fill="#CE2E96"/>
<rect x="242" y="1621.6" width="69.8" height="4" fill="#6a6a6a"/>
<path fill="#6a6a6a" d="M257,1623.6 C264,1619 268,1610.8 276,1610.8 C284,1610.8 288,1619 295.5,1623.6 C288,1628.2 284,1636.4 276,1636.4 C268,1636.4 264,1628.2 257,1623.6 Z"/>

</svg></body></html>
